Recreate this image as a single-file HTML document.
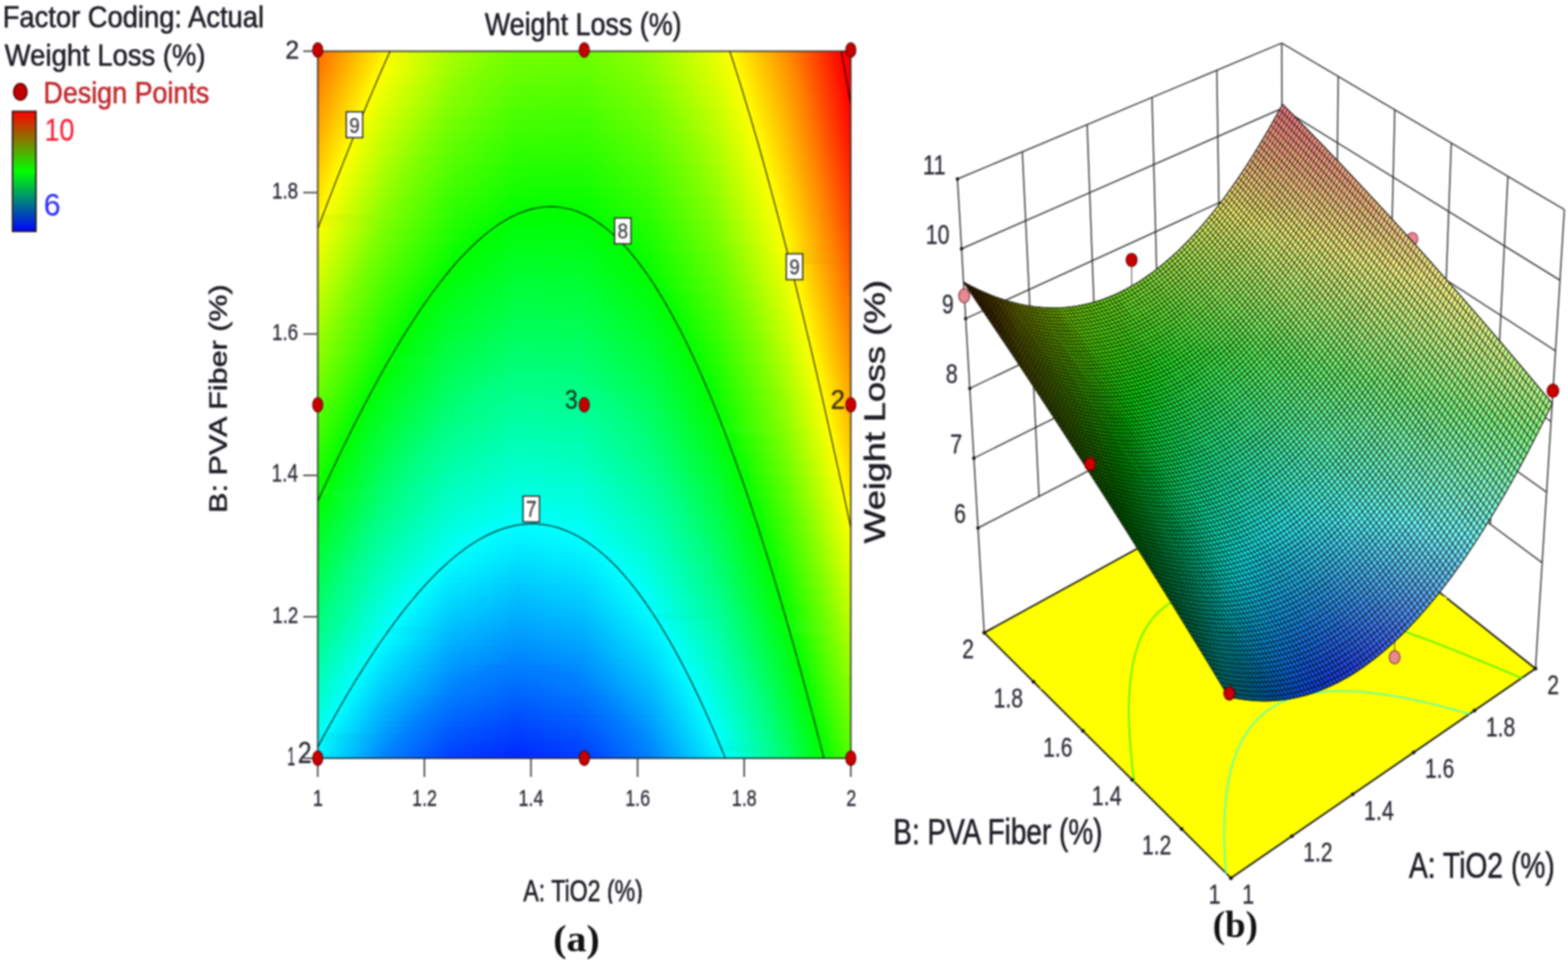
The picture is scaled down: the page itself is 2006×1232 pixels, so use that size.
<!DOCTYPE html>
<html><head><meta charset="utf-8"><title>Weight Loss (%)</title>
<style>html,body{margin:0;padding:0;background:#fff}body{width:2006px;height:1232px;overflow:hidden}svg{display:block;filter:blur(0.8px)}.s{font-family:"Liberation Sans",Arial,sans-serif}.b{font-family:"Liberation Serif","Times New Roman",serif;font-weight:bold}</style>
</head><body>
<svg width="2006" height="1232" viewBox="0 0 2006 1232">
<defs><linearGradient id="cb" x1="0" y1="0" x2="0" y2="1"><stop offset="0" stop-color="#f00"/><stop offset=".5" stop-color="#0f0"/><stop offset="1" stop-color="#00f"/></linearGradient>
<linearGradient id="r0"><stop offset="0" stop-color="#ff6b00"/><stop offset=".016" stop-color="#ff7f00"/><stop offset=".125" stop-color="#fff800"/><stop offset=".25" stop-color="#a7ff00"/><stop offset=".335" stop-color="#80ff00"/><stop offset=".375" stop-color="#74ff00"/><stop offset=".5" stop-color="#6eff00"/><stop offset=".573" stop-color="#80ff00"/><stop offset=".625" stop-color="#95ff00"/><stop offset=".75" stop-color="#e9ff00"/><stop offset=".775" stop-color="#ff0"/><stop offset=".875" stop-color="#ff9400"/><stop offset=".892" stop-color="#ff8000"/><stop offset=".984" stop-color="#f00"/><stop offset="1" stop-color="#f00"/></linearGradient>
<linearGradient id="r1"><stop offset="0" stop-color="#ff7000"/><stop offset=".125" stop-color="#fffc00"/><stop offset=".25" stop-color="#a2ff00"/><stop offset=".322" stop-color="#80ff00"/><stop offset=".375" stop-color="#70ff00"/><stop offset=".5" stop-color="#6aff00"/><stop offset=".584" stop-color="#7fff00"/><stop offset=".625" stop-color="#91ff00"/><stop offset=".75" stop-color="#e5ff00"/><stop offset=".778" stop-color="#ff0"/><stop offset=".875" stop-color="#ff9700"/><stop offset=".894" stop-color="#ff7f00"/><stop offset=".986" stop-color="#f00"/><stop offset="1" stop-color="#f00"/></linearGradient>
<linearGradient id="r2"><stop offset="0" stop-color="#ff7500"/><stop offset=".123" stop-color="#ff0"/><stop offset=".25" stop-color="#9eff00"/><stop offset=".311" stop-color="#80ff00"/><stop offset=".375" stop-color="#6bff00"/><stop offset=".5" stop-color="#6f0"/><stop offset=".594" stop-color="#80ff00"/><stop offset=".625" stop-color="#8dff00"/><stop offset=".75" stop-color="#e2ff00"/><stop offset=".782" stop-color="#ff0"/><stop offset=".875" stop-color="#ff9b00"/><stop offset=".897" stop-color="#ff7f00"/><stop offset=".988" stop-color="#f00"/><stop offset="1" stop-color="#f00"/></linearGradient>
<linearGradient id="r3"><stop offset="0" stop-color="#ff7a00"/><stop offset=".117" stop-color="#ff0"/><stop offset=".25" stop-color="#9f0"/><stop offset=".3" stop-color="#7fff00"/><stop offset=".375" stop-color="#67ff00"/><stop offset=".5" stop-color="#62ff00"/><stop offset=".603" stop-color="#7fff00"/><stop offset=".625" stop-color="#8aff00"/><stop offset=".75" stop-color="#deff00"/><stop offset=".786" stop-color="#ff0"/><stop offset=".875" stop-color="#ff9e00"/><stop offset=".9" stop-color="#ff8000"/><stop offset=".99" stop-color="#f00"/></linearGradient>
<linearGradient id="r4"><stop offset="0" stop-color="#ff7f00"/><stop offset=".112" stop-color="#ff0"/><stop offset=".125" stop-color="#f3ff00"/><stop offset=".25" stop-color="#94ff00"/><stop offset=".29" stop-color="#7fff00"/><stop offset=".375" stop-color="#63ff00"/><stop offset=".5" stop-color="#5eff00"/><stop offset=".612" stop-color="#7fff00"/><stop offset=".625" stop-color="#86ff00"/><stop offset=".75" stop-color="#dbff00"/><stop offset=".79" stop-color="#ff0"/><stop offset=".875" stop-color="#ffa200"/><stop offset=".902" stop-color="#ff8000"/><stop offset=".992" stop-color="#f00"/></linearGradient>
<linearGradient id="r5"><stop offset="0" stop-color="#ff8500"/><stop offset=".107" stop-color="#ff0"/><stop offset=".125" stop-color="#ef0"/><stop offset=".25" stop-color="#90ff00"/><stop offset=".28" stop-color="#80ff00"/><stop offset=".375" stop-color="#5eff00"/><stop offset=".5" stop-color="#59ff00"/><stop offset=".621" stop-color="#7fff00"/><stop offset=".75" stop-color="#d7ff00"/><stop offset=".793" stop-color="#ff0"/><stop offset=".875" stop-color="#ffa500"/><stop offset=".905" stop-color="#ff8000"/><stop offset=".994" stop-color="#f00"/></linearGradient>
<linearGradient id="r6"><stop offset="0" stop-color="#ff8a00"/><stop offset=".102" stop-color="#ff0"/><stop offset=".125" stop-color="#e9ff00"/><stop offset=".25" stop-color="#8bff00"/><stop offset=".271" stop-color="#7fff00"/><stop offset=".375" stop-color="#5aff00"/><stop offset=".5" stop-color="#5f0"/><stop offset=".625" stop-color="#7eff00"/><stop offset=".75" stop-color="#d3ff00"/><stop offset=".797" stop-color="#ff0"/><stop offset=".875" stop-color="#ffa900"/><stop offset=".907" stop-color="#ff8000"/><stop offset=".996" stop-color="#f00"/></linearGradient>
<linearGradient id="r7"><stop offset="0" stop-color="#ff8f00"/><stop offset=".097" stop-color="#ff0"/><stop offset=".125" stop-color="#e4ff00"/><stop offset=".25" stop-color="#86ff00"/><stop offset=".262" stop-color="#7fff00"/><stop offset=".375" stop-color="#5f0"/><stop offset=".5" stop-color="#51ff00"/><stop offset=".625" stop-color="#7aff00"/><stop offset=".75" stop-color="#cfff00"/><stop offset=".801" stop-color="#ff0"/><stop offset=".875" stop-color="#ffac00"/><stop offset=".91" stop-color="#ff8000"/><stop offset=".998" stop-color="#f00"/></linearGradient>
<linearGradient id="r8"><stop offset="0" stop-color="#ff9400"/><stop offset=".092" stop-color="#ff0"/><stop offset=".125" stop-color="#dfff00"/><stop offset=".25" stop-color="#82ff00"/><stop offset=".375" stop-color="#51ff00"/><stop offset=".5" stop-color="#4dff00"/><stop offset=".625" stop-color="#76ff00"/><stop offset=".643" stop-color="#80ff00"/><stop offset=".75" stop-color="#cf0"/><stop offset=".804" stop-color="#ff0"/><stop offset=".875" stop-color="#ffb000"/><stop offset=".913" stop-color="#ff7f00"/><stop offset="1" stop-color="#f00"/></linearGradient>
<linearGradient id="r9"><stop offset="0" stop-color="#f90"/><stop offset=".087" stop-color="#ff0"/><stop offset=".125" stop-color="#daff00"/><stop offset=".245" stop-color="#80ff00"/><stop offset=".375" stop-color="#4cff00"/><stop offset=".5" stop-color="#49ff00"/><stop offset=".625" stop-color="#72ff00"/><stop offset=".65" stop-color="#80ff00"/><stop offset=".75" stop-color="#c8ff00"/><stop offset=".808" stop-color="#ff0"/><stop offset=".875" stop-color="#ffb300"/><stop offset=".915" stop-color="#ff8000"/><stop offset="1" stop-color="#ff0300"/></linearGradient>
<linearGradient id="r10"><stop offset="0" stop-color="#ff9f00"/><stop offset=".083" stop-color="#ff0"/><stop offset=".125" stop-color="#d5ff00"/><stop offset=".237" stop-color="#7fff00"/><stop offset=".25" stop-color="#78ff00"/><stop offset=".375" stop-color="#48ff00"/><stop offset=".5" stop-color="#4f0"/><stop offset=".625" stop-color="#6eff00"/><stop offset=".657" stop-color="#80ff00"/><stop offset=".75" stop-color="#c4ff00"/><stop offset=".811" stop-color="#ff0"/><stop offset=".875" stop-color="#ffb700"/><stop offset=".918" stop-color="#ff7f00"/><stop offset="1" stop-color="#ff0600"/></linearGradient>
<linearGradient id="r11"><stop offset="0" stop-color="#ffa400"/><stop offset=".078" stop-color="#ff0"/><stop offset=".125" stop-color="#d0ff00"/><stop offset=".229" stop-color="#80ff00"/><stop offset=".25" stop-color="#73ff00"/><stop offset=".375" stop-color="#43ff00"/><stop offset=".5" stop-color="#40ff00"/><stop offset=".625" stop-color="#6aff00"/><stop offset=".663" stop-color="#7fff00"/><stop offset=".75" stop-color="#c0ff00"/><stop offset=".815" stop-color="#ff0"/><stop offset=".875" stop-color="#ffba00"/><stop offset=".92" stop-color="#ff8000"/><stop offset="1" stop-color="#ff0a00"/></linearGradient>
<linearGradient id="r12"><stop offset="0" stop-color="#ffa900"/><stop offset=".073" stop-color="#ff0"/><stop offset=".125" stop-color="#cbff00"/><stop offset=".222" stop-color="#80ff00"/><stop offset=".25" stop-color="#6fff00"/><stop offset=".375" stop-color="#3fff00"/><stop offset=".5" stop-color="#3cff00"/><stop offset=".625" stop-color="#6f0"/><stop offset=".669" stop-color="#80ff00"/><stop offset=".75" stop-color="#bdff00"/><stop offset=".818" stop-color="#ff0"/><stop offset=".875" stop-color="#ffbe00"/><stop offset=".923" stop-color="#ff7f00"/><stop offset="1" stop-color="#ff0d00"/></linearGradient>
<linearGradient id="r13"><stop offset="0" stop-color="#ffaf00"/><stop offset=".068" stop-color="#ff0"/><stop offset=".125" stop-color="#c6ff00"/><stop offset=".214" stop-color="#7fff00"/><stop offset=".25" stop-color="#6aff00"/><stop offset=".375" stop-color="#3aff00"/><stop offset=".5" stop-color="#37ff00"/><stop offset=".625" stop-color="#62ff00"/><stop offset=".676" stop-color="#80ff00"/><stop offset=".75" stop-color="#b9ff00"/><stop offset=".822" stop-color="#ff0"/><stop offset=".875" stop-color="#ffc100"/><stop offset=".925" stop-color="#ff7f00"/><stop offset="1" stop-color="#ff1000"/></linearGradient>
<linearGradient id="r14"><stop offset="0" stop-color="#ffb400"/><stop offset=".063" stop-color="#ff0"/><stop offset=".125" stop-color="#c1ff00"/><stop offset=".207" stop-color="#7fff00"/><stop offset=".25" stop-color="#65ff00"/><stop offset=".375" stop-color="#36ff00"/><stop offset=".5" stop-color="#3f0"/><stop offset=".625" stop-color="#5eff00"/><stop offset=".681" stop-color="#80ff00"/><stop offset=".75" stop-color="#b5ff00"/><stop offset=".825" stop-color="#ff0"/><stop offset=".875" stop-color="#ffc500"/><stop offset=".928" stop-color="#ff7f00"/><stop offset="1" stop-color="#ff1400"/></linearGradient>
<linearGradient id="r15"><stop offset="0" stop-color="#ffb900"/><stop offset=".059" stop-color="#ff0"/><stop offset=".125" stop-color="#bcff00"/><stop offset=".2" stop-color="#7fff00"/><stop offset=".25" stop-color="#60ff00"/><stop offset=".375" stop-color="#31ff00"/><stop offset=".5" stop-color="#2fff00"/><stop offset=".625" stop-color="#5aff00"/><stop offset=".687" stop-color="#7fff00"/><stop offset=".75" stop-color="#b1ff00"/><stop offset=".829" stop-color="#ff0"/><stop offset=".875" stop-color="#ffc800"/><stop offset=".93" stop-color="#ff8000"/><stop offset="1" stop-color="#ff1700"/></linearGradient>
<linearGradient id="r16"><stop offset="0" stop-color="#ffbe00"/><stop offset=".054" stop-color="#ff0"/><stop offset=".125" stop-color="#b7ff00"/><stop offset=".193" stop-color="#7fff00"/><stop offset=".25" stop-color="#5bff00"/><stop offset=".375" stop-color="#2cff00"/><stop offset=".5" stop-color="#2aff00"/><stop offset=".625" stop-color="#5f0"/><stop offset=".693" stop-color="#7fff00"/><stop offset=".75" stop-color="#adff00"/><stop offset=".832" stop-color="#ff0"/><stop offset=".875" stop-color="#fc0"/><stop offset=".933" stop-color="#ff7f00"/><stop offset="1" stop-color="#ff1a00"/></linearGradient>
<linearGradient id="r17"><stop offset="0" stop-color="#ffc400"/><stop offset=".049" stop-color="#ff0"/><stop offset=".125" stop-color="#b2ff00"/><stop offset=".186" stop-color="#7fff00"/><stop offset=".25" stop-color="#56ff00"/><stop offset=".375" stop-color="#28ff00"/><stop offset=".5" stop-color="#26ff00"/><stop offset=".625" stop-color="#51ff00"/><stop offset=".698" stop-color="#80ff00"/><stop offset=".75" stop-color="#a9ff00"/><stop offset=".835" stop-color="#ff0"/><stop offset=".875" stop-color="#ffd000"/><stop offset=".935" stop-color="#ff7f00"/><stop offset="1" stop-color="#ff1e00"/></linearGradient>
<linearGradient id="r18"><stop offset="0" stop-color="#ffc900"/><stop offset=".045" stop-color="#ff0"/><stop offset=".125" stop-color="#adff00"/><stop offset=".179" stop-color="#80ff00"/><stop offset=".25" stop-color="#52ff00"/><stop offset=".375" stop-color="#23ff00"/><stop offset=".5" stop-color="#2f0"/><stop offset=".625" stop-color="#4dff00"/><stop offset=".704" stop-color="#7fff00"/><stop offset=".75" stop-color="#a5ff00"/><stop offset=".838" stop-color="#ff0"/><stop offset=".875" stop-color="#ffd300"/><stop offset=".938" stop-color="#ff7f00"/><stop offset="1" stop-color="#ff2100"/></linearGradient>
<linearGradient id="r19"><stop offset="0" stop-color="#ffcf00"/><stop offset=".04" stop-color="#ff0"/><stop offset=".125" stop-color="#a8ff00"/><stop offset=".173" stop-color="#80ff00"/><stop offset=".25" stop-color="#4dff00"/><stop offset=".375" stop-color="#1fff00"/><stop offset=".5" stop-color="#1dff00"/><stop offset=".625" stop-color="#49ff00"/><stop offset=".709" stop-color="#80ff00"/><stop offset=".75" stop-color="#a2ff00"/><stop offset=".842" stop-color="#ff0"/><stop offset=".875" stop-color="#ffd700"/><stop offset=".94" stop-color="#ff8000"/><stop offset="1" stop-color="#ff2500"/></linearGradient>
<linearGradient id="r20"><stop offset="0" stop-color="#ffd400"/><stop offset=".035" stop-color="#ff0"/><stop offset=".125" stop-color="#a2ff00"/><stop offset=".166" stop-color="#80ff00"/><stop offset=".25" stop-color="#48ff00"/><stop offset=".375" stop-color="#1aff00"/><stop offset=".5" stop-color="#19ff00"/><stop offset=".625" stop-color="#45ff00"/><stop offset=".714" stop-color="#7fff00"/><stop offset=".75" stop-color="#9eff00"/><stop offset=".845" stop-color="#ff0"/><stop offset=".875" stop-color="#ffdb00"/><stop offset=".943" stop-color="#ff7f00"/><stop offset="1" stop-color="#ff2800"/></linearGradient>
<linearGradient id="r21"><stop offset="0" stop-color="#ffd900"/><stop offset=".031" stop-color="#ff0"/><stop offset=".125" stop-color="#9dff00"/><stop offset=".16" stop-color="#80ff00"/><stop offset=".25" stop-color="#43ff00"/><stop offset=".375" stop-color="#15ff00"/><stop offset=".5" stop-color="#15ff00"/><stop offset=".625" stop-color="#41ff00"/><stop offset=".719" stop-color="#7fff00"/><stop offset=".75" stop-color="#9aff00"/><stop offset=".848" stop-color="#ff0"/><stop offset=".875" stop-color="#ffde00"/><stop offset=".945" stop-color="#ff8000"/><stop offset="1" stop-color="#ff2b00"/></linearGradient>
<linearGradient id="r22"><stop offset="0" stop-color="#ffdf00"/><stop offset=".026" stop-color="#ff0"/><stop offset=".125" stop-color="#98ff00"/><stop offset=".154" stop-color="#80ff00"/><stop offset=".25" stop-color="#3eff00"/><stop offset=".375" stop-color="#1f0"/><stop offset=".5" stop-color="#10ff00"/><stop offset=".625" stop-color="#3cff00"/><stop offset=".724" stop-color="#80ff00"/><stop offset=".75" stop-color="#96ff00"/><stop offset=".851" stop-color="#ff0"/><stop offset=".875" stop-color="#ffe200"/><stop offset=".948" stop-color="#ff7f00"/><stop offset="1" stop-color="#ff2f00"/></linearGradient>
<linearGradient id="r23"><stop offset="0" stop-color="#ffe400"/><stop offset=".022" stop-color="#ff0"/><stop offset=".125" stop-color="#93ff00"/><stop offset=".147" stop-color="#80ff00"/><stop offset=".25" stop-color="#39ff00"/><stop offset=".375" stop-color="#0cff00"/><stop offset=".5" stop-color="#0cff00"/><stop offset=".625" stop-color="#38ff00"/><stop offset=".729" stop-color="#7fff00"/><stop offset=".75" stop-color="#92ff00"/><stop offset=".854" stop-color="#ff0"/><stop offset=".875" stop-color="#ffe600"/><stop offset=".95" stop-color="#ff8000"/><stop offset="1" stop-color="#ff3200"/></linearGradient>
<linearGradient id="r24"><stop offset="0" stop-color="#ffea00"/><stop offset=".017" stop-color="#ff0"/><stop offset=".125" stop-color="#8eff00"/><stop offset=".141" stop-color="#7fff00"/><stop offset=".25" stop-color="#34ff00"/><stop offset=".375" stop-color="#07ff00"/><stop offset=".5" stop-color="#07ff00"/><stop offset=".625" stop-color="#34ff00"/><stop offset=".734" stop-color="#80ff00"/><stop offset=".75" stop-color="#8eff00"/><stop offset=".858" stop-color="#ff0"/><stop offset=".875" stop-color="#ffe900"/><stop offset=".953" stop-color="#ff7f00"/><stop offset="1" stop-color="#ff3600"/></linearGradient>
<linearGradient id="r25"><stop offset="0" stop-color="#ffef00"/><stop offset=".013" stop-color="#ff0"/><stop offset=".125" stop-color="#8f0"/><stop offset=".25" stop-color="#2fff00"/><stop offset=".375" stop-color="#02ff00"/><stop offset=".39" stop-color="#0f0"/><stop offset=".483" stop-color="#0f0"/><stop offset=".5" stop-color="#03ff00"/><stop offset=".625" stop-color="#30ff00"/><stop offset=".738" stop-color="#80ff00"/><stop offset=".861" stop-color="#ff0"/><stop offset=".875" stop-color="#ffed00"/><stop offset=".955" stop-color="#ff7f00"/><stop offset="1" stop-color="#ff3900"/></linearGradient>
<linearGradient id="r26"><stop offset="0" stop-color="#fff500"/><stop offset=".125" stop-color="#83ff00"/><stop offset=".25" stop-color="#2aff00"/><stop offset=".363" stop-color="#0f0"/><stop offset=".375" stop-color="#00ff02"/><stop offset=".5" stop-color="#00ff02"/><stop offset=".625" stop-color="#2cff00"/><stop offset=".743" stop-color="#80ff00"/><stop offset=".864" stop-color="#ff0"/><stop offset=".957" stop-color="#ff7f00"/><stop offset="1" stop-color="#ff3d00"/></linearGradient>
<linearGradient id="r27"><stop offset="0" stop-color="#fffa00"/><stop offset=".123" stop-color="#80ff00"/><stop offset=".25" stop-color="#25ff00"/><stop offset=".343" stop-color="#0f0"/><stop offset=".375" stop-color="#00ff07"/><stop offset=".5" stop-color="#00ff06"/><stop offset=".528" stop-color="#0f0"/><stop offset=".625" stop-color="#27ff00"/><stop offset=".747" stop-color="#7fff00"/><stop offset=".867" stop-color="#ff0"/><stop offset=".96" stop-color="#ff7f00"/><stop offset="1" stop-color="#ff4000"/></linearGradient>
<linearGradient id="r28"><stop offset="0" stop-color="#feff00"/><stop offset=".117" stop-color="#7fff00"/><stop offset=".25" stop-color="#20ff00"/><stop offset=".326" stop-color="#0f0"/><stop offset=".375" stop-color="#00ff0c"/><stop offset=".5" stop-color="#00ff0b"/><stop offset=".543" stop-color="#0f0"/><stop offset=".625" stop-color="#23ff00"/><stop offset=".75" stop-color="#7eff00"/><stop offset=".87" stop-color="#ff0"/><stop offset=".962" stop-color="#ff7f00"/><stop offset="1" stop-color="#f40"/></linearGradient>
<linearGradient id="r29"><stop offset="0" stop-color="#f9ff00"/><stop offset=".112" stop-color="#80ff00"/><stop offset=".125" stop-color="#73ff00"/><stop offset=".25" stop-color="#1bff00"/><stop offset=".311" stop-color="#0f0"/><stop offset=".375" stop-color="#0f1"/><stop offset=".5" stop-color="#00ff0f"/><stop offset=".557" stop-color="#0f0"/><stop offset=".625" stop-color="#1fff00"/><stop offset=".75" stop-color="#7aff00"/><stop offset=".873" stop-color="#ff0"/><stop offset=".965" stop-color="#ff7f00"/><stop offset="1" stop-color="#ff4800"/></linearGradient>
<linearGradient id="r30"><stop offset="0" stop-color="#f3ff00"/><stop offset=".106" stop-color="#7fff00"/><stop offset=".125" stop-color="#6eff00"/><stop offset=".25" stop-color="#16ff00"/><stop offset=".298" stop-color="#0f0"/><stop offset=".375" stop-color="#00ff15"/><stop offset=".5" stop-color="#00ff14"/><stop offset=".569" stop-color="#0f0"/><stop offset=".625" stop-color="#1aff00"/><stop offset=".75" stop-color="#76ff00"/><stop offset=".875" stop-color="#feff00"/><stop offset=".967" stop-color="#ff7f00"/><stop offset="1" stop-color="#ff4b00"/></linearGradient>
<linearGradient id="r31"><stop offset="0" stop-color="#ef0"/><stop offset=".1" stop-color="#80ff00"/><stop offset=".125" stop-color="#69ff00"/><stop offset=".25" stop-color="#1f0"/><stop offset=".285" stop-color="#0f0"/><stop offset=".375" stop-color="#00ff1a"/><stop offset=".5" stop-color="#00ff19"/><stop offset=".58" stop-color="#0f0"/><stop offset=".625" stop-color="#16ff00"/><stop offset=".75" stop-color="#72ff00"/><stop offset=".765" stop-color="#7fff00"/><stop offset=".875" stop-color="#faff00"/><stop offset=".969" stop-color="#ff7f00"/><stop offset="1" stop-color="#ff4f00"/></linearGradient>
<linearGradient id="r32"><stop offset="0" stop-color="#e8ff00"/><stop offset=".095" stop-color="#80ff00"/><stop offset=".125" stop-color="#64ff00"/><stop offset=".25" stop-color="#0cff00"/><stop offset=".274" stop-color="#0f0"/><stop offset=".375" stop-color="#00ff1f"/><stop offset=".5" stop-color="#00ff1d"/><stop offset=".59" stop-color="#0f0"/><stop offset=".625" stop-color="#12ff00"/><stop offset=".75" stop-color="#6dff00"/><stop offset=".769" stop-color="#80ff00"/><stop offset=".875" stop-color="#f6ff00"/><stop offset=".972" stop-color="#ff8000"/><stop offset="1" stop-color="#ff5200"/></linearGradient>
<linearGradient id="r33"><stop offset="0" stop-color="#e3ff00"/><stop offset=".089" stop-color="#7fff00"/><stop offset=".125" stop-color="#5eff00"/><stop offset=".25" stop-color="#07ff00"/><stop offset=".263" stop-color="#0f0"/><stop offset=".375" stop-color="#00ff24"/><stop offset=".5" stop-color="#0f2"/><stop offset=".599" stop-color="#0f0"/><stop offset=".625" stop-color="#0dff00"/><stop offset=".75" stop-color="#69ff00"/><stop offset=".773" stop-color="#7fff00"/><stop offset=".875" stop-color="#f2ff00"/><stop offset=".974" stop-color="#ff7f00"/><stop offset="1" stop-color="#ff5600"/></linearGradient>
<linearGradient id="r34"><stop offset="0" stop-color="#df0"/><stop offset=".084" stop-color="#80ff00"/><stop offset=".125" stop-color="#59ff00"/><stop offset=".25" stop-color="#02ff00"/><stop offset=".375" stop-color="#00ff29"/><stop offset=".5" stop-color="#00ff26"/><stop offset=".608" stop-color="#0f0"/><stop offset=".625" stop-color="#09ff00"/><stop offset=".75" stop-color="#65ff00"/><stop offset=".777" stop-color="#80ff00"/><stop offset=".875" stop-color="#ef0"/><stop offset=".888" stop-color="#ff0"/><stop offset=".976" stop-color="#ff7f00"/><stop offset="1" stop-color="#ff5a00"/></linearGradient>
<linearGradient id="r35"><stop offset="0" stop-color="#d7ff00"/><stop offset=".078" stop-color="#7fff00"/><stop offset=".125" stop-color="#53ff00"/><stop offset=".243" stop-color="#0f0"/><stop offset=".375" stop-color="#00ff2e"/><stop offset=".5" stop-color="#00ff2b"/><stop offset=".617" stop-color="#0f0"/><stop offset=".75" stop-color="#61ff00"/><stop offset=".781" stop-color="#7fff00"/><stop offset=".875" stop-color="#eaff00"/><stop offset=".891" stop-color="#ff0"/><stop offset=".979" stop-color="#ff8000"/><stop offset="1" stop-color="#ff5d00"/></linearGradient>
<linearGradient id="r36"><stop offset="0" stop-color="#d2ff00"/><stop offset=".073" stop-color="#7fff00"/><stop offset=".125" stop-color="#4eff00"/><stop offset=".234" stop-color="#0f0"/><stop offset=".25" stop-color="#00ff09"/><stop offset=".375" stop-color="#0f3"/><stop offset=".5" stop-color="#00ff30"/><stop offset=".625" stop-color="#0f0"/><stop offset=".75" stop-color="#5dff00"/><stop offset=".786" stop-color="#80ff00"/><stop offset=".875" stop-color="#e7ff00"/><stop offset=".894" stop-color="#ff0"/><stop offset=".981" stop-color="#ff7f00"/><stop offset="1" stop-color="#ff6100"/></linearGradient>
<linearGradient id="r37"><stop offset="0" stop-color="#cf0"/><stop offset=".068" stop-color="#80ff00"/><stop offset=".125" stop-color="#49ff00"/><stop offset=".225" stop-color="#0f0"/><stop offset=".25" stop-color="#00ff0e"/><stop offset=".375" stop-color="#00ff38"/><stop offset=".5" stop-color="#00ff34"/><stop offset=".625" stop-color="#00ff04"/><stop offset=".75" stop-color="#59ff00"/><stop offset=".789" stop-color="#7fff00"/><stop offset=".875" stop-color="#e3ff00"/><stop offset=".897" stop-color="#ff0"/><stop offset=".983" stop-color="#ff7f00"/><stop offset="1" stop-color="#ff6500"/></linearGradient>
<linearGradient id="r38"><stop offset="0" stop-color="#c6ff00"/><stop offset=".062" stop-color="#7fff00"/><stop offset=".125" stop-color="#43ff00"/><stop offset=".216" stop-color="#0f0"/><stop offset=".25" stop-color="#00ff13"/><stop offset=".375" stop-color="#00ff3d"/><stop offset=".5" stop-color="#00ff39"/><stop offset=".625" stop-color="#00ff09"/><stop offset=".64" stop-color="#0f0"/><stop offset=".75" stop-color="#5f0"/><stop offset=".793" stop-color="#80ff00"/><stop offset=".875" stop-color="#dfff00"/><stop offset=".899" stop-color="#ff0"/><stop offset=".986" stop-color="#ff8000"/><stop offset="1" stop-color="#ff6800"/></linearGradient>
<linearGradient id="r39"><stop offset="0" stop-color="#c1ff00"/><stop offset=".057" stop-color="#80ff00"/><stop offset=".125" stop-color="#3eff00"/><stop offset=".207" stop-color="#0f0"/><stop offset=".25" stop-color="#00ff18"/><stop offset=".375" stop-color="#00ff41"/><stop offset=".5" stop-color="#00ff3e"/><stop offset=".625" stop-color="#00ff0d"/><stop offset=".647" stop-color="#0f0"/><stop offset=".75" stop-color="#50ff00"/><stop offset=".797" stop-color="#80ff00"/><stop offset=".875" stop-color="#dbff00"/><stop offset=".902" stop-color="#ff0"/><stop offset=".988" stop-color="#ff7f00"/></linearGradient>
<linearGradient id="r40"><stop offset="0" stop-color="#bf0"/><stop offset=".052" stop-color="#80ff00"/><stop offset=".125" stop-color="#38ff00"/><stop offset=".199" stop-color="#0f0"/><stop offset=".25" stop-color="#00ff1d"/><stop offset=".375" stop-color="#00ff46"/><stop offset=".5" stop-color="#00ff42"/><stop offset=".625" stop-color="#00ff12"/><stop offset=".654" stop-color="#0f0"/><stop offset=".75" stop-color="#4cff00"/><stop offset=".801" stop-color="#7fff00"/><stop offset=".875" stop-color="#d7ff00"/><stop offset=".905" stop-color="#ff0"/><stop offset=".99" stop-color="#ff7f00"/></linearGradient>
<linearGradient id="r41"><stop offset="0" stop-color="#b5ff00"/><stop offset=".046" stop-color="#80ff00"/><stop offset=".125" stop-color="#3f0"/><stop offset=".191" stop-color="#0f0"/><stop offset=".25" stop-color="#00ff23"/><stop offset=".375" stop-color="#00ff4b"/><stop offset=".5" stop-color="#00ff47"/><stop offset=".625" stop-color="#00ff16"/><stop offset=".66" stop-color="#0f0"/><stop offset=".75" stop-color="#48ff00"/><stop offset=".805" stop-color="#80ff00"/><stop offset=".875" stop-color="#d3ff00"/><stop offset=".908" stop-color="#ff0"/><stop offset=".993" stop-color="#ff8000"/></linearGradient>
<linearGradient id="r42"><stop offset="0" stop-color="#b0ff00"/><stop offset=".041" stop-color="#7fff00"/><stop offset=".125" stop-color="#2dff00"/><stop offset=".183" stop-color="#0f0"/><stop offset=".25" stop-color="#00ff28"/><stop offset=".375" stop-color="#00ff50"/><stop offset=".5" stop-color="#00ff4c"/><stop offset=".625" stop-color="#00ff1b"/><stop offset=".667" stop-color="#0f0"/><stop offset=".75" stop-color="#4f0"/><stop offset=".809" stop-color="#7fff00"/><stop offset=".875" stop-color="#cfff00"/><stop offset=".911" stop-color="#ff0"/><stop offset=".995" stop-color="#ff8000"/></linearGradient>
<linearGradient id="r43"><stop offset="0" stop-color="#af0"/><stop offset=".036" stop-color="#7fff00"/><stop offset=".125" stop-color="#28ff00"/><stop offset=".176" stop-color="#0f0"/><stop offset=".25" stop-color="#00ff2d"/><stop offset=".375" stop-color="#0f5"/><stop offset=".5" stop-color="#00ff51"/><stop offset=".625" stop-color="#00ff1f"/><stop offset=".673" stop-color="#0f0"/><stop offset=".75" stop-color="#3fff00"/><stop offset=".813" stop-color="#80ff00"/><stop offset=".875" stop-color="#cbff00"/><stop offset=".914" stop-color="#ff0"/><stop offset=".997" stop-color="#ff8000"/></linearGradient>
<linearGradient id="r44"><stop offset="0" stop-color="#a4ff00"/><stop offset=".031" stop-color="#7fff00"/><stop offset=".125" stop-color="#2f0"/><stop offset=".168" stop-color="#0f0"/><stop offset=".25" stop-color="#00ff32"/><stop offset=".375" stop-color="#00ff5a"/><stop offset=".5" stop-color="#0f5"/><stop offset=".625" stop-color="#00ff24"/><stop offset=".679" stop-color="#0f0"/><stop offset=".75" stop-color="#3bff00"/><stop offset=".816" stop-color="#80ff00"/><stop offset=".875" stop-color="#c7ff00"/><stop offset=".917" stop-color="#ff0"/><stop offset="1" stop-color="#ff8000"/></linearGradient>
<linearGradient id="r45"><stop offset="0" stop-color="#9eff00"/><stop offset=".026" stop-color="#80ff00"/><stop offset=".125" stop-color="#1dff00"/><stop offset=".161" stop-color="#0f0"/><stop offset=".25" stop-color="#00ff38"/><stop offset=".375" stop-color="#00ff5f"/><stop offset=".5" stop-color="#00ff5a"/><stop offset=".625" stop-color="#00ff28"/><stop offset=".685" stop-color="#0f0"/><stop offset=".75" stop-color="#37ff00"/><stop offset=".82" stop-color="#80ff00"/><stop offset=".875" stop-color="#c3ff00"/><stop offset=".919" stop-color="#ff0"/><stop offset="1" stop-color="#ff8300"/></linearGradient>
<linearGradient id="r46"><stop offset="0" stop-color="#98ff00"/><stop offset=".021" stop-color="#80ff00"/><stop offset=".125" stop-color="#17ff00"/><stop offset=".154" stop-color="#0f0"/><stop offset=".25" stop-color="#00ff3d"/><stop offset=".375" stop-color="#00ff65"/><stop offset=".5" stop-color="#00ff5f"/><stop offset=".625" stop-color="#00ff2d"/><stop offset=".691" stop-color="#0f0"/><stop offset=".75" stop-color="#32ff00"/><stop offset=".824" stop-color="#7fff00"/><stop offset=".875" stop-color="#bfff00"/><stop offset=".922" stop-color="#ff0"/><stop offset="1" stop-color="#ff8700"/></linearGradient>
<linearGradient id="r47"><stop offset="0" stop-color="#93ff00"/><stop offset=".016" stop-color="#80ff00"/><stop offset=".125" stop-color="#12ff00"/><stop offset=".147" stop-color="#0f0"/><stop offset=".25" stop-color="#00ff42"/><stop offset=".375" stop-color="#00ff6a"/><stop offset=".5" stop-color="#00ff64"/><stop offset=".625" stop-color="#00ff31"/><stop offset=".697" stop-color="#0f0"/><stop offset=".75" stop-color="#2eff00"/><stop offset=".827" stop-color="#7fff00"/><stop offset=".875" stop-color="#baff00"/><stop offset=".925" stop-color="#ff0"/><stop offset="1" stop-color="#ff8a00"/></linearGradient>
<linearGradient id="r48"><stop offset="0" stop-color="#8dff00"/><stop offset=".125" stop-color="#0cff00"/><stop offset=".14" stop-color="#0f0"/><stop offset=".25" stop-color="#00ff48"/><stop offset=".375" stop-color="#00ff6f"/><stop offset=".5" stop-color="#00ff69"/><stop offset=".625" stop-color="#00ff36"/><stop offset=".702" stop-color="#0f0"/><stop offset=".75" stop-color="#2aff00"/><stop offset=".831" stop-color="#7fff00"/><stop offset=".875" stop-color="#b6ff00"/><stop offset=".928" stop-color="#ff0"/><stop offset="1" stop-color="#ff8e00"/></linearGradient>
<linearGradient id="r49"><stop offset="0" stop-color="#87ff00"/><stop offset=".125" stop-color="#07ff00"/><stop offset=".25" stop-color="#00ff4d"/><stop offset=".375" stop-color="#00ff74"/><stop offset=".5" stop-color="#00ff6e"/><stop offset=".625" stop-color="#00ff3b"/><stop offset=".708" stop-color="#0f0"/><stop offset=".75" stop-color="#25ff00"/><stop offset=".834" stop-color="#80ff00"/><stop offset=".875" stop-color="#b2ff00"/><stop offset=".93" stop-color="#ff0"/><stop offset="1" stop-color="#ff9200"/></linearGradient>
<linearGradient id="r50"><stop offset="0" stop-color="#81ff00"/><stop offset=".125" stop-color="#01ff00"/><stop offset=".25" stop-color="#00ff52"/><stop offset=".375" stop-color="#00ff79"/><stop offset=".5" stop-color="#00ff72"/><stop offset=".625" stop-color="#00ff3f"/><stop offset=".713" stop-color="#0f0"/><stop offset=".75" stop-color="#21ff00"/><stop offset=".838" stop-color="#80ff00"/><stop offset=".875" stop-color="#aeff00"/><stop offset=".933" stop-color="#ff0"/><stop offset="1" stop-color="#ff9600"/></linearGradient>
<linearGradient id="r51"><stop offset="0" stop-color="#7bff00"/><stop offset=".119" stop-color="#0f0"/><stop offset=".25" stop-color="#00ff58"/><stop offset=".375" stop-color="#00ff7e"/><stop offset=".389" stop-color="#00ff7f"/><stop offset=".449" stop-color="#00ff7f"/><stop offset=".5" stop-color="#0f7"/><stop offset=".625" stop-color="#0f4"/><stop offset=".718" stop-color="#0f0"/><stop offset=".75" stop-color="#1dff00"/><stop offset=".841" stop-color="#80ff00"/><stop offset=".875" stop-color="#af0"/><stop offset=".936" stop-color="#ff0"/><stop offset="1" stop-color="#ff9a00"/></linearGradient>
<linearGradient id="r52"><stop offset="0" stop-color="#75ff00"/><stop offset=".113" stop-color="#0f0"/><stop offset=".25" stop-color="#00ff5d"/><stop offset=".352" stop-color="#00ff80"/><stop offset=".375" stop-color="#00ff83"/><stop offset=".485" stop-color="#00ff80"/><stop offset=".5" stop-color="#00ff7c"/><stop offset=".625" stop-color="#00ff48"/><stop offset=".724" stop-color="#0f0"/><stop offset=".75" stop-color="#18ff00"/><stop offset=".845" stop-color="#7fff00"/><stop offset=".875" stop-color="#a6ff00"/><stop offset=".939" stop-color="#ff0"/><stop offset="1" stop-color="#ff9e00"/></linearGradient>
<linearGradient id="r53"><stop offset="0" stop-color="#70ff00"/><stop offset=".107" stop-color="#0f0"/><stop offset=".125" stop-color="#00ff10"/><stop offset=".25" stop-color="#00ff63"/><stop offset=".328" stop-color="#00ff7f"/><stop offset=".375" stop-color="#0f8"/><stop offset=".5" stop-color="#00ff81"/><stop offset=".625" stop-color="#00ff4d"/><stop offset=".729" stop-color="#0f0"/><stop offset=".75" stop-color="#14ff00"/><stop offset=".848" stop-color="#80ff00"/><stop offset=".875" stop-color="#a2ff00"/><stop offset=".941" stop-color="#ff0"/><stop offset="1" stop-color="#ffa200"/></linearGradient>
<linearGradient id="r54"><stop offset="0" stop-color="#6aff00"/><stop offset=".1" stop-color="#0f0"/><stop offset=".125" stop-color="#00ff16"/><stop offset=".25" stop-color="#00ff68"/><stop offset=".31" stop-color="#00ff80"/><stop offset=".375" stop-color="#00ff8d"/><stop offset=".5" stop-color="#00ff86"/><stop offset=".524" stop-color="#00ff80"/><stop offset=".625" stop-color="#00ff52"/><stop offset=".734" stop-color="#0f0"/><stop offset=".75" stop-color="#0fff00"/><stop offset=".852" stop-color="#80ff00"/><stop offset=".875" stop-color="#9dff00"/><stop offset=".944" stop-color="#ff0"/><stop offset="1" stop-color="#ffa600"/></linearGradient>
<linearGradient id="r55"><stop offset="0" stop-color="#64ff00"/><stop offset=".094" stop-color="#0f0"/><stop offset=".125" stop-color="#00ff1b"/><stop offset=".25" stop-color="#00ff6d"/><stop offset=".293" stop-color="#00ff7f"/><stop offset=".375" stop-color="#00ff93"/><stop offset=".5" stop-color="#00ff8b"/><stop offset=".539" stop-color="#00ff80"/><stop offset=".625" stop-color="#00ff57"/><stop offset=".738" stop-color="#0f0"/><stop offset=".855" stop-color="#80ff00"/><stop offset=".875" stop-color="#9f0"/><stop offset=".947" stop-color="#ff0"/><stop offset="1" stop-color="#fa0"/></linearGradient>
<linearGradient id="r56"><stop offset="0" stop-color="#5eff00"/><stop offset=".088" stop-color="#0f0"/><stop offset=".125" stop-color="#00ff21"/><stop offset=".25" stop-color="#00ff73"/><stop offset=".279" stop-color="#00ff80"/><stop offset=".375" stop-color="#00ff98"/><stop offset=".5" stop-color="#00ff90"/><stop offset=".552" stop-color="#00ff7f"/><stop offset=".625" stop-color="#00ff5b"/><stop offset=".743" stop-color="#0f0"/><stop offset=".858" stop-color="#7fff00"/><stop offset=".875" stop-color="#95ff00"/><stop offset=".949" stop-color="#ff0"/><stop offset="1" stop-color="#ffae00"/></linearGradient>
<linearGradient id="r57"><stop offset="0" stop-color="#58ff00"/><stop offset=".082" stop-color="#0f0"/><stop offset=".125" stop-color="#00ff27"/><stop offset=".25" stop-color="#00ff78"/><stop offset=".266" stop-color="#00ff7f"/><stop offset=".375" stop-color="#00ff9d"/><stop offset=".5" stop-color="#00ff95"/><stop offset=".564" stop-color="#00ff7f"/><stop offset=".625" stop-color="#00ff60"/><stop offset=".748" stop-color="#0f0"/><stop offset=".862" stop-color="#80ff00"/><stop offset=".875" stop-color="#91ff00"/><stop offset=".952" stop-color="#ff0"/><stop offset="1" stop-color="#ffb200"/></linearGradient>
<linearGradient id="r58"><stop offset="0" stop-color="#52ff00"/><stop offset=".076" stop-color="#0f0"/><stop offset=".125" stop-color="#00ff2c"/><stop offset=".25" stop-color="#00ff7e"/><stop offset=".375" stop-color="#00ffa2"/><stop offset=".5" stop-color="#00ff9a"/><stop offset=".575" stop-color="#00ff7f"/><stop offset=".625" stop-color="#00ff65"/><stop offset=".75" stop-color="#00ff03"/><stop offset=".865" stop-color="#80ff00"/><stop offset=".955" stop-color="#ff0"/><stop offset="1" stop-color="#ffb600"/></linearGradient>
<linearGradient id="r59"><stop offset="0" stop-color="#4cff00"/><stop offset=".07" stop-color="#0f0"/><stop offset=".125" stop-color="#00ff32"/><stop offset=".242" stop-color="#00ff80"/><stop offset=".375" stop-color="#00ffa8"/><stop offset=".5" stop-color="#00ff9f"/><stop offset=".585" stop-color="#00ff80"/><stop offset=".625" stop-color="#00ff69"/><stop offset=".75" stop-color="#00ff07"/><stop offset=".868" stop-color="#80ff00"/><stop offset=".957" stop-color="#ff0"/><stop offset="1" stop-color="#ffba00"/></linearGradient>
<linearGradient id="r60"><stop offset="0" stop-color="#46ff00"/><stop offset=".064" stop-color="#0f0"/><stop offset=".125" stop-color="#00ff38"/><stop offset=".231" stop-color="#00ff80"/><stop offset=".25" stop-color="#00ff89"/><stop offset=".375" stop-color="#00ffad"/><stop offset=".5" stop-color="#00ffa4"/><stop offset=".595" stop-color="#00ff7f"/><stop offset=".625" stop-color="#00ff6e"/><stop offset=".75" stop-color="#00ff0c"/><stop offset=".872" stop-color="#80ff00"/><stop offset=".96" stop-color="#ff0"/><stop offset="1" stop-color="#ffbe00"/></linearGradient>
<linearGradient id="r61"><stop offset="0" stop-color="#40ff00"/><stop offset=".058" stop-color="#0f0"/><stop offset=".125" stop-color="#00ff3e"/><stop offset=".221" stop-color="#00ff80"/><stop offset=".25" stop-color="#00ff8e"/><stop offset=".375" stop-color="#00ffb2"/><stop offset=".5" stop-color="#00ffa9"/><stop offset=".604" stop-color="#00ff80"/><stop offset=".625" stop-color="#00ff73"/><stop offset=".75" stop-color="#00ff10"/><stop offset=".766" stop-color="#0f0"/><stop offset=".875" stop-color="#7fff00"/><stop offset=".963" stop-color="#ff0"/><stop offset="1" stop-color="#ffc200"/></linearGradient>
<linearGradient id="r62"><stop offset="0" stop-color="#3aff00"/><stop offset=".052" stop-color="#0f0"/><stop offset=".125" stop-color="#0f4"/><stop offset=".211" stop-color="#00ff7f"/><stop offset=".25" stop-color="#00ff94"/><stop offset=".375" stop-color="#00ffb7"/><stop offset=".5" stop-color="#00ffae"/><stop offset=".612" stop-color="#00ff80"/><stop offset=".625" stop-color="#00ff78"/><stop offset=".75" stop-color="#00ff15"/><stop offset=".771" stop-color="#0f0"/><stop offset=".875" stop-color="#7bff00"/><stop offset=".965" stop-color="#ff0"/><stop offset="1" stop-color="#ffc600"/></linearGradient>
<linearGradient id="r63"><stop offset="0" stop-color="#34ff00"/><stop offset=".046" stop-color="#0f0"/><stop offset=".125" stop-color="#00ff49"/><stop offset=".201" stop-color="#00ff7f"/><stop offset=".25" stop-color="#0f9"/><stop offset=".375" stop-color="#00ffbd"/><stop offset=".5" stop-color="#00ffb3"/><stop offset=".62" stop-color="#00ff80"/><stop offset=".75" stop-color="#00ff19"/><stop offset=".775" stop-color="#0f0"/><stop offset=".875" stop-color="#7f0"/><stop offset=".968" stop-color="#ff0"/><stop offset="1" stop-color="#ffca00"/></linearGradient>
<linearGradient id="r64"><stop offset="0" stop-color="#2eff00"/><stop offset=".041" stop-color="#0f0"/><stop offset=".125" stop-color="#00ff4f"/><stop offset=".192" stop-color="#00ff80"/><stop offset=".25" stop-color="#00ff9f"/><stop offset=".375" stop-color="#00ffc2"/><stop offset=".5" stop-color="#00ffb8"/><stop offset=".625" stop-color="#00ff81"/><stop offset=".75" stop-color="#00ff1e"/><stop offset=".779" stop-color="#0f0"/><stop offset=".875" stop-color="#73ff00"/><stop offset=".97" stop-color="#ff0"/><stop offset="1" stop-color="#ffce00"/></linearGradient>
<linearGradient id="r65"><stop offset="0" stop-color="#28ff00"/><stop offset=".035" stop-color="#0f0"/><stop offset=".125" stop-color="#0f5"/><stop offset=".183" stop-color="#00ff7f"/><stop offset=".25" stop-color="#00ffa5"/><stop offset=".375" stop-color="#00ffc7"/><stop offset=".5" stop-color="#00ffbd"/><stop offset=".625" stop-color="#00ff86"/><stop offset=".75" stop-color="#0f2"/><stop offset=".784" stop-color="#0f0"/><stop offset=".875" stop-color="#6eff00"/><stop offset=".888" stop-color="#7fff00"/><stop offset=".973" stop-color="#ff0"/><stop offset="1" stop-color="#ffd200"/></linearGradient>
<linearGradient id="r66"><stop offset="0" stop-color="#21ff00"/><stop offset=".03" stop-color="#0f0"/><stop offset=".125" stop-color="#00ff5b"/><stop offset=".174" stop-color="#00ff80"/><stop offset=".25" stop-color="#0fa"/><stop offset=".375" stop-color="#00ffcd"/><stop offset=".5" stop-color="#00ffc2"/><stop offset=".625" stop-color="#00ff8b"/><stop offset=".643" stop-color="#00ff80"/><stop offset=".75" stop-color="#00ff27"/><stop offset=".788" stop-color="#0f0"/><stop offset=".875" stop-color="#6aff00"/><stop offset=".891" stop-color="#80ff00"/><stop offset=".976" stop-color="#ff0"/><stop offset="1" stop-color="#ffd600"/></linearGradient>
<linearGradient id="r67"><stop offset="0" stop-color="#1bff00"/><stop offset=".024" stop-color="#0f0"/><stop offset=".125" stop-color="#00ff61"/><stop offset=".166" stop-color="#00ff7f"/><stop offset=".25" stop-color="#00ffb0"/><stop offset=".375" stop-color="#00ffd2"/><stop offset=".5" stop-color="#00ffc8"/><stop offset=".625" stop-color="#00ff90"/><stop offset=".65" stop-color="#00ff7f"/><stop offset=".75" stop-color="#00ff2c"/><stop offset=".792" stop-color="#0f0"/><stop offset=".875" stop-color="#6f0"/><stop offset=".894" stop-color="#80ff00"/><stop offset=".978" stop-color="#ff0"/><stop offset="1" stop-color="#ffda00"/></linearGradient>
<linearGradient id="r68"><stop offset="0" stop-color="#15ff00"/><stop offset=".019" stop-color="#0f0"/><stop offset=".125" stop-color="#00ff67"/><stop offset=".158" stop-color="#00ff80"/><stop offset=".25" stop-color="#00ffb6"/><stop offset=".375" stop-color="#00ffd8"/><stop offset=".5" stop-color="#00ffcd"/><stop offset=".625" stop-color="#00ff95"/><stop offset=".657" stop-color="#00ff80"/><stop offset=".75" stop-color="#00ff30"/><stop offset=".796" stop-color="#0f0"/><stop offset=".875" stop-color="#61ff00"/><stop offset=".897" stop-color="#7fff00"/><stop offset=".981" stop-color="#ff0"/><stop offset="1" stop-color="#ffdf00"/></linearGradient>
<linearGradient id="r69"><stop offset="0" stop-color="#0fff00"/><stop offset=".013" stop-color="#0f0"/><stop offset=".125" stop-color="#00ff6c"/><stop offset=".15" stop-color="#00ff80"/><stop offset=".25" stop-color="#0fb"/><stop offset=".375" stop-color="#0fd"/><stop offset=".5" stop-color="#00ffd2"/><stop offset=".625" stop-color="#00ff9a"/><stop offset=".664" stop-color="#00ff7f"/><stop offset=".75" stop-color="#00ff35"/><stop offset=".8" stop-color="#0f0"/><stop offset=".875" stop-color="#5dff00"/><stop offset=".9" stop-color="#7fff00"/><stop offset=".983" stop-color="#ff0"/><stop offset="1" stop-color="#ffe300"/></linearGradient>
<linearGradient id="r70"><stop offset="0" stop-color="#09ff00"/><stop offset=".125" stop-color="#00ff72"/><stop offset=".142" stop-color="#00ff7f"/><stop offset=".25" stop-color="#00ffc1"/><stop offset=".375" stop-color="#00ffe2"/><stop offset=".5" stop-color="#00ffd7"/><stop offset=".625" stop-color="#00ff9f"/><stop offset=".67" stop-color="#00ff7f"/><stop offset=".75" stop-color="#00ff3a"/><stop offset=".804" stop-color="#0f0"/><stop offset=".875" stop-color="#58ff00"/><stop offset=".903" stop-color="#80ff00"/><stop offset=".986" stop-color="#ff0"/><stop offset="1" stop-color="#ffe700"/></linearGradient>
<linearGradient id="r71"><stop offset="0" stop-color="#03ff00"/><stop offset=".125" stop-color="#00ff78"/><stop offset=".25" stop-color="#00ffc7"/><stop offset=".375" stop-color="#00ffe8"/><stop offset=".5" stop-color="#00ffdc"/><stop offset=".625" stop-color="#00ffa4"/><stop offset=".676" stop-color="#00ff7f"/><stop offset=".75" stop-color="#00ff3e"/><stop offset=".808" stop-color="#0f0"/><stop offset=".875" stop-color="#54ff00"/><stop offset=".906" stop-color="#80ff00"/><stop offset=".988" stop-color="#ff0"/></linearGradient>
<linearGradient id="r72"><stop offset="0" stop-color="#00ff03"/><stop offset=".125" stop-color="#00ff7e"/><stop offset=".25" stop-color="#0fc"/><stop offset=".375" stop-color="#00ffed"/><stop offset=".5" stop-color="#00ffe1"/><stop offset=".625" stop-color="#00ffa9"/><stop offset=".683" stop-color="#00ff80"/><stop offset=".75" stop-color="#00ff43"/><stop offset=".812" stop-color="#0f0"/><stop offset=".875" stop-color="#4fff00"/><stop offset=".909" stop-color="#7fff00"/><stop offset=".991" stop-color="#ff0"/></linearGradient>
<linearGradient id="r73"><stop offset="0" stop-color="#00ff0a"/><stop offset=".119" stop-color="#00ff7f"/><stop offset=".25" stop-color="#00ffd2"/><stop offset=".375" stop-color="#00fff3"/><stop offset=".5" stop-color="#00ffe7"/><stop offset=".625" stop-color="#00ffae"/><stop offset=".689" stop-color="#00ff80"/><stop offset=".75" stop-color="#00ff48"/><stop offset=".816" stop-color="#0f0"/><stop offset=".875" stop-color="#4bff00"/><stop offset=".912" stop-color="#7fff00"/><stop offset=".993" stop-color="#ff0"/></linearGradient>
<linearGradient id="r74"><stop offset="0" stop-color="#00ff10"/><stop offset=".112" stop-color="#00ff7f"/><stop offset=".125" stop-color="#00ff8a"/><stop offset=".25" stop-color="#00ffd8"/><stop offset=".375" stop-color="#00fff8"/><stop offset=".5" stop-color="#00ffec"/><stop offset=".625" stop-color="#00ffb3"/><stop offset=".695" stop-color="#00ff80"/><stop offset=".75" stop-color="#00ff4d"/><stop offset=".82" stop-color="#0f0"/><stop offset=".875" stop-color="#46ff00"/><stop offset=".915" stop-color="#7fff00"/><stop offset=".996" stop-color="#ff0"/></linearGradient>
<linearGradient id="r75"><stop offset="0" stop-color="#00ff16"/><stop offset=".105" stop-color="#00ff80"/><stop offset=".125" stop-color="#00ff90"/><stop offset=".25" stop-color="#0fd"/><stop offset=".375" stop-color="#00fffe"/><stop offset=".5" stop-color="#00fff1"/><stop offset=".625" stop-color="#00ffb8"/><stop offset=".7" stop-color="#00ff7f"/><stop offset=".75" stop-color="#00ff51"/><stop offset=".824" stop-color="#0f0"/><stop offset=".875" stop-color="#42ff00"/><stop offset=".918" stop-color="#80ff00"/><stop offset=".998" stop-color="#ff0"/></linearGradient>
<linearGradient id="r76"><stop offset="0" stop-color="#00ff1c"/><stop offset=".098" stop-color="#00ff80"/><stop offset=".125" stop-color="#00ff96"/><stop offset=".25" stop-color="#00ffe3"/><stop offset=".341" stop-color="#0ff"/><stop offset=".375" stop-color="#00fbff"/><stop offset=".463" stop-color="#0ff"/><stop offset=".5" stop-color="#00fff6"/><stop offset=".625" stop-color="#00ffbd"/><stop offset=".706" stop-color="#00ff7f"/><stop offset=".75" stop-color="#00ff56"/><stop offset=".828" stop-color="#0f0"/><stop offset=".875" stop-color="#3dff00"/><stop offset=".921" stop-color="#7fff00"/><stop offset="1" stop-color="#feff00"/></linearGradient>
<linearGradient id="r77"><stop offset="0" stop-color="#00ff23"/><stop offset=".091" stop-color="#00ff80"/><stop offset=".125" stop-color="#00ff9c"/><stop offset=".25" stop-color="#00ffe9"/><stop offset=".315" stop-color="#0ff"/><stop offset=".375" stop-color="#00f5ff"/><stop offset=".488" stop-color="#0ff"/><stop offset=".5" stop-color="#00fffc"/><stop offset=".625" stop-color="#00ffc2"/><stop offset=".711" stop-color="#00ff80"/><stop offset=".75" stop-color="#00ff5b"/><stop offset=".831" stop-color="#0f0"/><stop offset=".875" stop-color="#39ff00"/><stop offset=".924" stop-color="#7fff00"/><stop offset="1" stop-color="#f9ff00"/></linearGradient>
<linearGradient id="r78"><stop offset="0" stop-color="#00ff29"/><stop offset=".084" stop-color="#00ff7f"/><stop offset=".125" stop-color="#00ffa2"/><stop offset=".25" stop-color="#00ffef"/><stop offset=".294" stop-color="#0ff"/><stop offset=".375" stop-color="#00f0ff"/><stop offset=".5" stop-color="#00fdff"/><stop offset=".625" stop-color="#00ffc7"/><stop offset=".717" stop-color="#00ff80"/><stop offset=".75" stop-color="#00ff60"/><stop offset=".835" stop-color="#0f0"/><stop offset=".875" stop-color="#34ff00"/><stop offset=".927" stop-color="#80ff00"/><stop offset="1" stop-color="#f5ff00"/></linearGradient>
<linearGradient id="r79"><stop offset="0" stop-color="#00ff2f"/><stop offset=".077" stop-color="#00ff7f"/><stop offset=".125" stop-color="#00ffa8"/><stop offset=".25" stop-color="#00fff5"/><stop offset=".277" stop-color="#0ff"/><stop offset=".375" stop-color="#00eaff"/><stop offset=".5" stop-color="#00f8ff"/><stop offset=".523" stop-color="#0ff"/><stop offset=".625" stop-color="#0fc"/><stop offset=".722" stop-color="#00ff80"/><stop offset=".75" stop-color="#00ff65"/><stop offset=".839" stop-color="#0f0"/><stop offset=".875" stop-color="#30ff00"/><stop offset=".93" stop-color="#7fff00"/><stop offset="1" stop-color="#f1ff00"/></linearGradient>
<linearGradient id="r80"><stop offset="0" stop-color="#00ff36"/><stop offset=".071" stop-color="#00ff7f"/><stop offset=".125" stop-color="#00ffae"/><stop offset=".25" stop-color="#00fffa"/><stop offset=".375" stop-color="#00e5ff"/><stop offset=".5" stop-color="#00f2ff"/><stop offset=".537" stop-color="#0ff"/><stop offset=".625" stop-color="#00ffd1"/><stop offset=".727" stop-color="#00ff7f"/><stop offset=".75" stop-color="#00ff69"/><stop offset=".842" stop-color="#0f0"/><stop offset=".875" stop-color="#2bff00"/><stop offset=".933" stop-color="#7fff00"/><stop offset="1" stop-color="#ecff00"/></linearGradient>
<linearGradient id="r81"><stop offset="0" stop-color="#00ff3c"/><stop offset=".064" stop-color="#00ff7f"/><stop offset=".125" stop-color="#00ffb4"/><stop offset=".247" stop-color="#0ff"/><stop offset=".375" stop-color="#00dfff"/><stop offset=".5" stop-color="#00edff"/><stop offset=".55" stop-color="#0ff"/><stop offset=".625" stop-color="#00ffd6"/><stop offset=".733" stop-color="#00ff80"/><stop offset=".75" stop-color="#00ff6e"/><stop offset=".846" stop-color="#0f0"/><stop offset=".875" stop-color="#26ff00"/><stop offset=".936" stop-color="#80ff00"/><stop offset="1" stop-color="#e8ff00"/></linearGradient>
<linearGradient id="r82"><stop offset="0" stop-color="#00ff42"/><stop offset=".058" stop-color="#00ff80"/><stop offset=".125" stop-color="#0fb"/><stop offset=".234" stop-color="#0ff"/><stop offset=".25" stop-color="#00f8ff"/><stop offset=".375" stop-color="#00d9ff"/><stop offset=".5" stop-color="#00e8ff"/><stop offset=".561" stop-color="#0ff"/><stop offset=".625" stop-color="#00ffdb"/><stop offset=".738" stop-color="#00ff7f"/><stop offset=".75" stop-color="#00ff73"/><stop offset=".85" stop-color="#0f0"/><stop offset=".875" stop-color="#2f0"/><stop offset=".939" stop-color="#80ff00"/><stop offset="1" stop-color="#e4ff00"/></linearGradient>
<linearGradient id="r83"><stop offset="0" stop-color="#00ff49"/><stop offset=".051" stop-color="#00ff7f"/><stop offset=".125" stop-color="#00ffc1"/><stop offset=".222" stop-color="#0ff"/><stop offset=".25" stop-color="#00f2ff"/><stop offset=".375" stop-color="#00d4ff"/><stop offset=".5" stop-color="#00e2ff"/><stop offset=".572" stop-color="#0ff"/><stop offset=".625" stop-color="#00ffe0"/><stop offset=".743" stop-color="#00ff7f"/><stop offset=".853" stop-color="#0f0"/><stop offset=".875" stop-color="#1dff00"/><stop offset=".942" stop-color="#7fff00"/><stop offset="1" stop-color="#dfff00"/></linearGradient>
<linearGradient id="r84"><stop offset="0" stop-color="#00ff4f"/><stop offset=".045" stop-color="#00ff7f"/><stop offset=".125" stop-color="#00ffc7"/><stop offset=".211" stop-color="#0ff"/><stop offset=".25" stop-color="#00ecff"/><stop offset=".375" stop-color="#00ceff"/><stop offset=".5" stop-color="#0df"/><stop offset=".582" stop-color="#0ff"/><stop offset=".625" stop-color="#00ffe5"/><stop offset=".748" stop-color="#00ff7f"/><stop offset=".857" stop-color="#0f0"/><stop offset=".875" stop-color="#18ff00"/><stop offset=".945" stop-color="#7fff00"/><stop offset="1" stop-color="#dbff00"/></linearGradient>
<linearGradient id="r85"><stop offset="0" stop-color="#0f5"/><stop offset=".039" stop-color="#00ff7f"/><stop offset=".125" stop-color="#00ffcd"/><stop offset=".2" stop-color="#0ff"/><stop offset=".25" stop-color="#00e6ff"/><stop offset=".375" stop-color="#00c8ff"/><stop offset=".5" stop-color="#00d7ff"/><stop offset=".592" stop-color="#0ff"/><stop offset=".625" stop-color="#00ffeb"/><stop offset=".75" stop-color="#00ff82"/><stop offset=".86" stop-color="#0f0"/><stop offset=".875" stop-color="#14ff00"/><stop offset=".948" stop-color="#80ff00"/><stop offset="1" stop-color="#d6ff00"/></linearGradient>
<linearGradient id="r86"><stop offset="0" stop-color="#00ff5c"/><stop offset=".033" stop-color="#00ff7f"/><stop offset=".125" stop-color="#00ffd3"/><stop offset=".189" stop-color="#0ff"/><stop offset=".25" stop-color="#00e0ff"/><stop offset=".375" stop-color="#00c3ff"/><stop offset=".5" stop-color="#00d2ff"/><stop offset=".601" stop-color="#0ff"/><stop offset=".625" stop-color="#00fff0"/><stop offset=".75" stop-color="#00ff87"/><stop offset=".864" stop-color="#0f0"/><stop offset=".951" stop-color="#7fff00"/><stop offset="1" stop-color="#d2ff00"/></linearGradient>
<linearGradient id="r87"><stop offset="0" stop-color="#00ff62"/><stop offset=".027" stop-color="#00ff7f"/><stop offset=".125" stop-color="#00ffd9"/><stop offset=".179" stop-color="#0ff"/><stop offset=".25" stop-color="#00daff"/><stop offset=".375" stop-color="#00bdff"/><stop offset=".5" stop-color="#00cdff"/><stop offset=".609" stop-color="#0ff"/><stop offset=".625" stop-color="#00fff5"/><stop offset=".75" stop-color="#00ff8c"/><stop offset=".867" stop-color="#0f0"/><stop offset=".953" stop-color="#80ff00"/><stop offset="1" stop-color="#cdff00"/></linearGradient>
<linearGradient id="r88"><stop offset="0" stop-color="#00ff69"/><stop offset=".021" stop-color="#00ff7f"/><stop offset=".125" stop-color="#00ffdf"/><stop offset=".17" stop-color="#0ff"/><stop offset=".25" stop-color="#00d5ff"/><stop offset=".375" stop-color="#00b7ff"/><stop offset=".5" stop-color="#00c7ff"/><stop offset=".618" stop-color="#0ff"/><stop offset=".75" stop-color="#00ff91"/><stop offset=".766" stop-color="#00ff80"/><stop offset=".871" stop-color="#0f0"/><stop offset=".956" stop-color="#7fff00"/><stop offset="1" stop-color="#c9ff00"/></linearGradient>
<linearGradient id="r89"><stop offset="0" stop-color="#00ff6f"/><stop offset=".015" stop-color="#00ff80"/><stop offset=".125" stop-color="#00ffe6"/><stop offset=".16" stop-color="#0ff"/><stop offset=".25" stop-color="#00cfff"/><stop offset=".375" stop-color="#00b2ff"/><stop offset=".5" stop-color="#00c2ff"/><stop offset=".625" stop-color="#0ff"/><stop offset=".75" stop-color="#00ff96"/><stop offset=".771" stop-color="#00ff7f"/><stop offset=".874" stop-color="#0f0"/><stop offset=".959" stop-color="#7fff00"/><stop offset="1" stop-color="#c5ff00"/></linearGradient>
<linearGradient id="r90"><stop offset="0" stop-color="#00ff75"/><stop offset=".125" stop-color="#00ffec"/><stop offset=".151" stop-color="#0ff"/><stop offset=".25" stop-color="#00c9ff"/><stop offset=".375" stop-color="#00acff"/><stop offset=".5" stop-color="#00bcff"/><stop offset=".625" stop-color="#00f9ff"/><stop offset=".75" stop-color="#00ff9b"/><stop offset=".775" stop-color="#00ff80"/><stop offset=".875" stop-color="#00ff04"/><stop offset=".962" stop-color="#7fff00"/><stop offset="1" stop-color="#c0ff00"/></linearGradient>
<linearGradient id="r91"><stop offset="0" stop-color="#00ff7c"/><stop offset=".125" stop-color="#00fff2"/><stop offset=".142" stop-color="#0ff"/><stop offset=".25" stop-color="#00c3ff"/><stop offset=".375" stop-color="#00a6ff"/><stop offset=".5" stop-color="#00b7ff"/><stop offset=".625" stop-color="#00f4ff"/><stop offset=".641" stop-color="#0ff"/><stop offset=".75" stop-color="#00ffa0"/><stop offset=".78" stop-color="#00ff7f"/><stop offset=".875" stop-color="#00ff09"/><stop offset=".965" stop-color="#7fff00"/><stop offset="1" stop-color="#bcff00"/></linearGradient>
<linearGradient id="r92"><stop offset="0" stop-color="#00ff82"/><stop offset=".125" stop-color="#00fff8"/><stop offset=".25" stop-color="#00bdff"/><stop offset=".375" stop-color="#00a0ff"/><stop offset=".5" stop-color="#00b1ff"/><stop offset=".625" stop-color="#00efff"/><stop offset=".648" stop-color="#0ff"/><stop offset=".75" stop-color="#00ffa5"/><stop offset=".784" stop-color="#00ff7f"/><stop offset=".875" stop-color="#00ff0d"/><stop offset=".967" stop-color="#7fff00"/><stop offset="1" stop-color="#b7ff00"/></linearGradient>
<linearGradient id="r93"><stop offset="0" stop-color="#00ff89"/><stop offset=".125" stop-color="#0ff"/><stop offset=".25" stop-color="#00b7ff"/><stop offset=".375" stop-color="#009bff"/><stop offset=".5" stop-color="#00acff"/><stop offset=".625" stop-color="#00eaff"/><stop offset=".655" stop-color="#0ff"/><stop offset=".75" stop-color="#0fa"/><stop offset=".789" stop-color="#00ff7f"/><stop offset=".875" stop-color="#00ff12"/><stop offset=".888" stop-color="#0f0"/><stop offset=".97" stop-color="#80ff00"/><stop offset="1" stop-color="#b2ff00"/></linearGradient>
<linearGradient id="r94"><stop offset="0" stop-color="#00ff8f"/><stop offset=".117" stop-color="#0ff"/><stop offset=".25" stop-color="#00b1ff"/><stop offset=".375" stop-color="#0095ff"/><stop offset=".5" stop-color="#00a6ff"/><stop offset=".625" stop-color="#00e4ff"/><stop offset=".662" stop-color="#0ff"/><stop offset=".75" stop-color="#00ffaf"/><stop offset=".793" stop-color="#00ff7f"/><stop offset=".875" stop-color="#00ff17"/><stop offset=".891" stop-color="#0f0"/><stop offset=".973" stop-color="#7fff00"/><stop offset="1" stop-color="#aeff00"/></linearGradient>
<linearGradient id="r95"><stop offset="0" stop-color="#00ff96"/><stop offset=".109" stop-color="#0ff"/><stop offset=".125" stop-color="#00f3ff"/><stop offset=".25" stop-color="#0af"/><stop offset=".375" stop-color="#008fff"/><stop offset=".5" stop-color="#00a1ff"/><stop offset=".625" stop-color="#00dfff"/><stop offset=".668" stop-color="#0ff"/><stop offset=".75" stop-color="#00ffb4"/><stop offset=".797" stop-color="#00ff80"/><stop offset=".875" stop-color="#00ff1c"/><stop offset=".894" stop-color="#0f0"/><stop offset=".976" stop-color="#7fff00"/><stop offset="1" stop-color="#a9ff00"/></linearGradient>
<linearGradient id="r96"><stop offset="0" stop-color="#00ff9d"/><stop offset=".102" stop-color="#0ff"/><stop offset=".125" stop-color="#00ecff"/><stop offset=".25" stop-color="#00a4ff"/><stop offset=".375" stop-color="#0089ff"/><stop offset=".5" stop-color="#009bff"/><stop offset=".625" stop-color="#00daff"/><stop offset=".675" stop-color="#0ff"/><stop offset=".75" stop-color="#00ffb9"/><stop offset=".802" stop-color="#00ff7f"/><stop offset=".875" stop-color="#00ff21"/><stop offset=".898" stop-color="#0f0"/><stop offset=".978" stop-color="#7fff00"/><stop offset="1" stop-color="#a5ff00"/></linearGradient>
<linearGradient id="r97"><stop offset="0" stop-color="#00ffa3"/><stop offset=".094" stop-color="#0ff"/><stop offset=".125" stop-color="#00e6ff"/><stop offset=".25" stop-color="#009eff"/><stop offset=".375" stop-color="#0083ff"/><stop offset=".5" stop-color="#0095ff"/><stop offset=".625" stop-color="#00d4ff"/><stop offset=".681" stop-color="#0ff"/><stop offset=".75" stop-color="#00ffbe"/><stop offset=".806" stop-color="#00ff80"/><stop offset=".875" stop-color="#00ff25"/><stop offset=".901" stop-color="#0f0"/><stop offset=".981" stop-color="#80ff00"/><stop offset="1" stop-color="#a0ff00"/></linearGradient>
<linearGradient id="r98"><stop offset="0" stop-color="#0fa"/><stop offset=".086" stop-color="#0ff"/><stop offset=".125" stop-color="#00e0ff"/><stop offset=".25" stop-color="#0098ff"/><stop offset=".348" stop-color="#007fff"/><stop offset=".375" stop-color="#007eff"/><stop offset=".425" stop-color="#0080ff"/><stop offset=".5" stop-color="#0090ff"/><stop offset=".625" stop-color="#00cfff"/><stop offset=".687" stop-color="#0ff"/><stop offset=".75" stop-color="#00ffc3"/><stop offset=".81" stop-color="#00ff7f"/><stop offset=".875" stop-color="#00ff2a"/><stop offset=".904" stop-color="#0f0"/><stop offset=".984" stop-color="#80ff00"/><stop offset="1" stop-color="#9bff00"/></linearGradient>
<linearGradient id="r99"><stop offset="0" stop-color="#00ffb0"/><stop offset=".079" stop-color="#0ff"/><stop offset=".125" stop-color="#00d9ff"/><stop offset=".25" stop-color="#0092ff"/><stop offset=".312" stop-color="#0080ff"/><stop offset=".375" stop-color="#0078ff"/><stop offset=".461" stop-color="#007fff"/><stop offset=".5" stop-color="#008aff"/><stop offset=".625" stop-color="#00caff"/><stop offset=".693" stop-color="#0ff"/><stop offset=".75" stop-color="#00ffc8"/><stop offset=".814" stop-color="#00ff7f"/><stop offset=".875" stop-color="#00ff2f"/><stop offset=".907" stop-color="#0f0"/><stop offset=".987" stop-color="#7fff00"/><stop offset="1" stop-color="#97ff00"/></linearGradient>
<linearGradient id="r100"><stop offset="0" stop-color="#00ffb7"/><stop offset=".072" stop-color="#0ff"/><stop offset=".125" stop-color="#00d3ff"/><stop offset=".25" stop-color="#008cff"/><stop offset=".287" stop-color="#0080ff"/><stop offset=".375" stop-color="#0072ff"/><stop offset=".483" stop-color="#0080ff"/><stop offset=".5" stop-color="#0085ff"/><stop offset=".625" stop-color="#00c4ff"/><stop offset=".699" stop-color="#0ff"/><stop offset=".75" stop-color="#00ffcd"/><stop offset=".818" stop-color="#00ff80"/><stop offset=".875" stop-color="#00ff34"/><stop offset=".911" stop-color="#0f0"/><stop offset=".989" stop-color="#7fff00"/></linearGradient>
<linearGradient id="r101"><stop offset="0" stop-color="#00ffbe"/><stop offset=".065" stop-color="#0ff"/><stop offset=".125" stop-color="#00cdff"/><stop offset=".25" stop-color="#0086ff"/><stop offset=".268" stop-color="#0080ff"/><stop offset=".375" stop-color="#006cff"/><stop offset=".5" stop-color="#007fff"/><stop offset=".625" stop-color="#00bfff"/><stop offset=".705" stop-color="#0ff"/><stop offset=".75" stop-color="#00ffd3"/><stop offset=".822" stop-color="#00ff80"/><stop offset=".875" stop-color="#00ff39"/><stop offset=".914" stop-color="#0f0"/><stop offset=".992" stop-color="#7fff00"/></linearGradient>
<linearGradient id="r102"><stop offset="0" stop-color="#00ffc4"/><stop offset=".058" stop-color="#0ff"/><stop offset=".125" stop-color="#00c6ff"/><stop offset=".25" stop-color="#0080ff"/><stop offset=".375" stop-color="#06f"/><stop offset=".5" stop-color="#0079ff"/><stop offset=".517" stop-color="#007fff"/><stop offset=".625" stop-color="#00b9ff"/><stop offset=".711" stop-color="#0ff"/><stop offset=".75" stop-color="#00ffd8"/><stop offset=".826" stop-color="#00ff80"/><stop offset=".875" stop-color="#00ff3e"/><stop offset=".917" stop-color="#0f0"/><stop offset=".995" stop-color="#80ff00"/></linearGradient>
<linearGradient id="r103"><stop offset="0" stop-color="#00ffcb"/><stop offset=".051" stop-color="#0ff"/><stop offset=".125" stop-color="#00c0ff"/><stop offset=".235" stop-color="#007fff"/><stop offset=".25" stop-color="#007aff"/><stop offset=".375" stop-color="#0060ff"/><stop offset=".5" stop-color="#0074ff"/><stop offset=".531" stop-color="#007fff"/><stop offset=".625" stop-color="#00b4ff"/><stop offset=".716" stop-color="#0ff"/><stop offset=".75" stop-color="#0fd"/><stop offset=".83" stop-color="#00ff7f"/><stop offset=".875" stop-color="#00ff43"/><stop offset=".92" stop-color="#0f0"/><stop offset=".997" stop-color="#80ff00"/></linearGradient>
<linearGradient id="r104"><stop offset="0" stop-color="#00ffd2"/><stop offset=".044" stop-color="#0ff"/><stop offset=".125" stop-color="#00b9ff"/><stop offset=".221" stop-color="#0080ff"/><stop offset=".25" stop-color="#0073ff"/><stop offset=".375" stop-color="#005aff"/><stop offset=".5" stop-color="#006eff"/><stop offset=".544" stop-color="#0080ff"/><stop offset=".625" stop-color="#00aeff"/><stop offset=".722" stop-color="#0ff"/><stop offset=".75" stop-color="#00ffe2"/><stop offset=".834" stop-color="#00ff7f"/><stop offset=".875" stop-color="#00ff48"/><stop offset=".923" stop-color="#0f0"/><stop offset="1" stop-color="#7fff00"/></linearGradient>
<linearGradient id="r105"><stop offset="0" stop-color="#00ffd8"/><stop offset=".037" stop-color="#0ff"/><stop offset=".125" stop-color="#00b3ff"/><stop offset=".208" stop-color="#0080ff"/><stop offset=".25" stop-color="#006dff"/><stop offset=".375" stop-color="#0054ff"/><stop offset=".5" stop-color="#0068ff"/><stop offset=".556" stop-color="#0080ff"/><stop offset=".625" stop-color="#00a9ff"/><stop offset=".727" stop-color="#0ff"/><stop offset=".75" stop-color="#00ffe7"/><stop offset=".838" stop-color="#00ff7f"/><stop offset=".875" stop-color="#00ff4d"/><stop offset=".926" stop-color="#0f0"/><stop offset="1" stop-color="#7bff00"/></linearGradient>
<linearGradient id="r106"><stop offset="0" stop-color="#00ffdf"/><stop offset=".03" stop-color="#0ff"/><stop offset=".125" stop-color="#00adff"/><stop offset=".196" stop-color="#007fff"/><stop offset=".25" stop-color="#0067ff"/><stop offset=".375" stop-color="#004eff"/><stop offset=".5" stop-color="#0062ff"/><stop offset=".567" stop-color="#007fff"/><stop offset=".625" stop-color="#00a3ff"/><stop offset=".732" stop-color="#0ff"/><stop offset=".75" stop-color="#00ffed"/><stop offset=".842" stop-color="#00ff80"/><stop offset=".875" stop-color="#00ff52"/><stop offset=".93" stop-color="#0f0"/><stop offset="1" stop-color="#76ff00"/></linearGradient>
<linearGradient id="r107"><stop offset="0" stop-color="#00ffe6"/><stop offset=".024" stop-color="#0ff"/><stop offset=".125" stop-color="#00a6ff"/><stop offset=".184" stop-color="#007fff"/><stop offset=".25" stop-color="#0061ff"/><stop offset=".375" stop-color="#0048ff"/><stop offset=".5" stop-color="#005dff"/><stop offset=".577" stop-color="#007fff"/><stop offset=".625" stop-color="#009eff"/><stop offset=".737" stop-color="#0ff"/><stop offset=".75" stop-color="#00fff2"/><stop offset=".845" stop-color="#00ff80"/><stop offset=".875" stop-color="#00ff57"/><stop offset=".933" stop-color="#0f0"/><stop offset="1" stop-color="#71ff00"/></linearGradient>
<linearGradient id="r108"><stop offset="0" stop-color="#00ffec"/><stop offset=".017" stop-color="#0ff"/><stop offset=".125" stop-color="#00a0ff"/><stop offset=".173" stop-color="#0080ff"/><stop offset=".25" stop-color="#005aff"/><stop offset=".375" stop-color="#0042ff"/><stop offset=".5" stop-color="#0057ff"/><stop offset=".587" stop-color="#007fff"/><stop offset=".625" stop-color="#0098ff"/><stop offset=".743" stop-color="#0ff"/><stop offset=".849" stop-color="#00ff80"/><stop offset=".875" stop-color="#00ff5c"/><stop offset=".936" stop-color="#0f0"/><stop offset="1" stop-color="#6cff00"/></linearGradient>
<linearGradient id="r109"><stop offset="0" stop-color="#00fff3"/><stop offset=".125" stop-color="#09f"/><stop offset=".163" stop-color="#007fff"/><stop offset=".25" stop-color="#0054ff"/><stop offset=".375" stop-color="#003cff"/><stop offset=".5" stop-color="#0051ff"/><stop offset=".596" stop-color="#007fff"/><stop offset=".625" stop-color="#0093ff"/><stop offset=".748" stop-color="#0ff"/><stop offset=".853" stop-color="#00ff7f"/><stop offset=".875" stop-color="#00ff61"/><stop offset=".939" stop-color="#0f0"/><stop offset="1" stop-color="#68ff00"/></linearGradient>
<linearGradient id="r110"><stop offset="0" stop-color="#00fffa"/><stop offset=".125" stop-color="#0093ff"/><stop offset=".153" stop-color="#007fff"/><stop offset=".25" stop-color="#004eff"/><stop offset=".375" stop-color="#0036ff"/><stop offset=".5" stop-color="#004bff"/><stop offset=".605" stop-color="#007fff"/><stop offset=".625" stop-color="#008dff"/><stop offset=".75" stop-color="#00fcff"/><stop offset=".857" stop-color="#00ff7f"/><stop offset=".875" stop-color="#0f6"/><stop offset=".942" stop-color="#0f0"/><stop offset="1" stop-color="#63ff00"/></linearGradient>
<linearGradient id="r111"><stop offset="0" stop-color="#00fdff"/><stop offset=".125" stop-color="#008cff"/><stop offset=".143" stop-color="#007fff"/><stop offset=".25" stop-color="#0048ff"/><stop offset=".375" stop-color="#0030ff"/><stop offset=".5" stop-color="#0046ff"/><stop offset=".613" stop-color="#0080ff"/><stop offset=".625" stop-color="#08f"/><stop offset=".75" stop-color="#00f7ff"/><stop offset=".86" stop-color="#00ff7f"/><stop offset=".875" stop-color="#00ff6b"/><stop offset=".945" stop-color="#0f0"/><stop offset="1" stop-color="#5eff00"/></linearGradient>
<linearGradient id="r112"><stop offset="0" stop-color="#00f6ff"/><stop offset=".125" stop-color="#0085ff"/><stop offset=".25" stop-color="#0041ff"/><stop offset=".375" stop-color="#002aff"/><stop offset=".5" stop-color="#0040ff"/><stop offset=".621" stop-color="#0080ff"/><stop offset=".75" stop-color="#00f2ff"/><stop offset=".762" stop-color="#0ff"/><stop offset=".864" stop-color="#00ff80"/><stop offset=".948" stop-color="#0f0"/><stop offset="1" stop-color="#59ff00"/></linearGradient>
<clipPath id="cl"><rect x="600" y="1100" width="300" height="56"/></clipPath></defs>
<text transform="translate(3.5 35) scale(.912 1)" class="s" font-size="38.34" fill="#1c1c24" stroke="#1c1c24" stroke-width=".7">Factor Coding: Actual</text>
<text transform="translate(6.12 83.5) scale(.884 1)" class="s" font-size="39.72" fill="#1c1c24" stroke="#1c1c24" stroke-width=".7">Weight Loss (%)</text>
<text transform="translate(55.55 131.9) scale(.894 1)" class="s" font-size="38.48" fill="#c0282d" stroke="#c0282d" stroke-width=".7">Design Points</text>
<ellipse cx="26" cy="117.5" rx="8.7" ry="10.7" fill="#c00000" stroke="#4a0000" stroke-width="1.6"/>
<rect x="16" y="142.5" width="30" height="153.5" fill="url(#cb)" stroke="#222" stroke-width="2"/>
<text transform="translate(56.91 179.7) scale(.847 1)" class="s" font-size="40.71" fill="#ff1830" stroke="#ff1830" stroke-width=".15">10</text>
<text transform="translate(56.06 276) scale(.931 1)" class="s" font-size="41.57" fill="#2c2cff" stroke="#2c2cff" stroke-width=".15">6</text>
<g shape-rendering="crispEdges">
<rect x="406.5" y="65.5" width="682" height="8.5" fill="url(#r0)"/>
<rect x="406.5" y="73.5" width="682" height="8.5" fill="url(#r1)"/>
<rect x="406.5" y="81.51" width="682" height="8.5" fill="url(#r2)"/>
<rect x="406.5" y="89.51" width="682" height="8.5" fill="url(#r3)"/>
<rect x="406.5" y="97.52" width="682" height="8.5" fill="url(#r4)"/>
<rect x="406.5" y="105.52" width="682" height="8.5" fill="url(#r5)"/>
<rect x="406.5" y="113.53" width="682" height="8.5" fill="url(#r6)"/>
<rect x="406.5" y="121.53" width="682" height="8.5" fill="url(#r7)"/>
<rect x="406.5" y="129.54" width="682" height="8.5" fill="url(#r8)"/>
<rect x="406.5" y="137.54" width="682" height="8.5" fill="url(#r9)"/>
<rect x="406.5" y="145.54" width="682" height="8.5" fill="url(#r10)"/>
<rect x="406.5" y="153.55" width="682" height="8.5" fill="url(#r11)"/>
<rect x="406.5" y="161.55" width="682" height="8.5" fill="url(#r12)"/>
<rect x="406.5" y="169.56" width="682" height="8.5" fill="url(#r13)"/>
<rect x="406.5" y="177.56" width="682" height="8.5" fill="url(#r14)"/>
<rect x="406.5" y="185.57" width="682" height="8.5" fill="url(#r15)"/>
<rect x="406.5" y="193.57" width="682" height="8.5" fill="url(#r16)"/>
<rect x="406.5" y="201.58" width="682" height="8.5" fill="url(#r17)"/>
<rect x="406.5" y="209.58" width="682" height="8.5" fill="url(#r18)"/>
<rect x="406.5" y="217.58" width="682" height="8.5" fill="url(#r19)"/>
<rect x="406.5" y="225.59" width="682" height="8.5" fill="url(#r20)"/>
<rect x="406.5" y="233.59" width="682" height="8.5" fill="url(#r21)"/>
<rect x="406.5" y="241.6" width="682" height="8.5" fill="url(#r22)"/>
<rect x="406.5" y="249.6" width="682" height="8.5" fill="url(#r23)"/>
<rect x="406.5" y="257.61" width="682" height="8.5" fill="url(#r24)"/>
<rect x="406.5" y="265.61" width="682" height="8.5" fill="url(#r25)"/>
<rect x="406.5" y="273.62" width="682" height="8.5" fill="url(#r26)"/>
<rect x="406.5" y="281.62" width="682" height="8.5" fill="url(#r27)"/>
<rect x="406.5" y="289.62" width="682" height="8.5" fill="url(#r28)"/>
<rect x="406.5" y="297.63" width="682" height="8.5" fill="url(#r29)"/>
<rect x="406.5" y="305.63" width="682" height="8.5" fill="url(#r30)"/>
<rect x="406.5" y="313.64" width="682" height="8.5" fill="url(#r31)"/>
<rect x="406.5" y="321.64" width="682" height="8.5" fill="url(#r32)"/>
<rect x="406.5" y="329.65" width="682" height="8.5" fill="url(#r33)"/>
<rect x="406.5" y="337.65" width="682" height="8.5" fill="url(#r34)"/>
<rect x="406.5" y="345.65" width="682" height="8.5" fill="url(#r35)"/>
<rect x="406.5" y="353.66" width="682" height="8.5" fill="url(#r36)"/>
<rect x="406.5" y="361.66" width="682" height="8.5" fill="url(#r37)"/>
<rect x="406.5" y="369.67" width="682" height="8.5" fill="url(#r38)"/>
<rect x="406.5" y="377.67" width="682" height="8.5" fill="url(#r39)"/>
<rect x="406.5" y="385.68" width="682" height="8.5" fill="url(#r40)"/>
<rect x="406.5" y="393.68" width="682" height="8.5" fill="url(#r41)"/>
<rect x="406.5" y="401.69" width="682" height="8.5" fill="url(#r42)"/>
<rect x="406.5" y="409.69" width="682" height="8.5" fill="url(#r43)"/>
<rect x="406.5" y="417.69" width="682" height="8.5" fill="url(#r44)"/>
<rect x="406.5" y="425.7" width="682" height="8.5" fill="url(#r45)"/>
<rect x="406.5" y="433.7" width="682" height="8.5" fill="url(#r46)"/>
<rect x="406.5" y="441.71" width="682" height="8.5" fill="url(#r47)"/>
<rect x="406.5" y="449.71" width="682" height="8.5" fill="url(#r48)"/>
<rect x="406.5" y="457.72" width="682" height="8.5" fill="url(#r49)"/>
<rect x="406.5" y="465.72" width="682" height="8.5" fill="url(#r50)"/>
<rect x="406.5" y="473.73" width="682" height="8.5" fill="url(#r51)"/>
<rect x="406.5" y="481.73" width="682" height="8.5" fill="url(#r52)"/>
<rect x="406.5" y="489.73" width="682" height="8.5" fill="url(#r53)"/>
<rect x="406.5" y="497.74" width="682" height="8.5" fill="url(#r54)"/>
<rect x="406.5" y="505.74" width="682" height="8.5" fill="url(#r55)"/>
<rect x="406.5" y="513.75" width="682" height="8.5" fill="url(#r56)"/>
<rect x="406.5" y="521.75" width="682" height="8.5" fill="url(#r57)"/>
<rect x="406.5" y="529.76" width="682" height="8.5" fill="url(#r58)"/>
<rect x="406.5" y="537.76" width="682" height="8.5" fill="url(#r59)"/>
<rect x="406.5" y="545.77" width="682" height="8.5" fill="url(#r60)"/>
<rect x="406.5" y="553.77" width="682" height="8.5" fill="url(#r61)"/>
<rect x="406.5" y="561.77" width="682" height="8.5" fill="url(#r62)"/>
<rect x="406.5" y="569.78" width="682" height="8.5" fill="url(#r63)"/>
<rect x="406.5" y="577.78" width="682" height="8.5" fill="url(#r64)"/>
<rect x="406.5" y="585.79" width="682" height="8.5" fill="url(#r65)"/>
<rect x="406.5" y="593.79" width="682" height="8.5" fill="url(#r66)"/>
<rect x="406.5" y="601.8" width="682" height="8.5" fill="url(#r67)"/>
<rect x="406.5" y="609.8" width="682" height="8.5" fill="url(#r68)"/>
<rect x="406.5" y="617.81" width="682" height="8.5" fill="url(#r69)"/>
<rect x="406.5" y="625.81" width="682" height="8.5" fill="url(#r70)"/>
<rect x="406.5" y="633.81" width="682" height="8.5" fill="url(#r71)"/>
<rect x="406.5" y="641.82" width="682" height="8.5" fill="url(#r72)"/>
<rect x="406.5" y="649.82" width="682" height="8.5" fill="url(#r73)"/>
<rect x="406.5" y="657.83" width="682" height="8.5" fill="url(#r74)"/>
<rect x="406.5" y="665.83" width="682" height="8.5" fill="url(#r75)"/>
<rect x="406.5" y="673.84" width="682" height="8.5" fill="url(#r76)"/>
<rect x="406.5" y="681.84" width="682" height="8.5" fill="url(#r77)"/>
<rect x="406.5" y="689.85" width="682" height="8.5" fill="url(#r78)"/>
<rect x="406.5" y="697.85" width="682" height="8.5" fill="url(#r79)"/>
<rect x="406.5" y="705.85" width="682" height="8.5" fill="url(#r80)"/>
<rect x="406.5" y="713.86" width="682" height="8.5" fill="url(#r81)"/>
<rect x="406.5" y="721.86" width="682" height="8.5" fill="url(#r82)"/>
<rect x="406.5" y="729.87" width="682" height="8.5" fill="url(#r83)"/>
<rect x="406.5" y="737.87" width="682" height="8.5" fill="url(#r84)"/>
<rect x="406.5" y="745.88" width="682" height="8.5" fill="url(#r85)"/>
<rect x="406.5" y="753.88" width="682" height="8.5" fill="url(#r86)"/>
<rect x="406.5" y="761.88" width="682" height="8.5" fill="url(#r87)"/>
<rect x="406.5" y="769.89" width="682" height="8.5" fill="url(#r88)"/>
<rect x="406.5" y="777.89" width="682" height="8.5" fill="url(#r89)"/>
<rect x="406.5" y="785.9" width="682" height="8.5" fill="url(#r90)"/>
<rect x="406.5" y="793.9" width="682" height="8.5" fill="url(#r91)"/>
<rect x="406.5" y="801.91" width="682" height="8.5" fill="url(#r92)"/>
<rect x="406.5" y="809.91" width="682" height="8.5" fill="url(#r93)"/>
<rect x="406.5" y="817.92" width="682" height="8.5" fill="url(#r94)"/>
<rect x="406.5" y="825.92" width="682" height="8.5" fill="url(#r95)"/>
<rect x="406.5" y="833.92" width="682" height="8.5" fill="url(#r96)"/>
<rect x="406.5" y="841.93" width="682" height="8.5" fill="url(#r97)"/>
<rect x="406.5" y="849.93" width="682" height="8.5" fill="url(#r98)"/>
<rect x="406.5" y="857.94" width="682" height="8.5" fill="url(#r99)"/>
<rect x="406.5" y="865.94" width="682" height="8.5" fill="url(#r100)"/>
<rect x="406.5" y="873.95" width="682" height="8.5" fill="url(#r101)"/>
<rect x="406.5" y="881.95" width="682" height="8.5" fill="url(#r102)"/>
<rect x="406.5" y="889.96" width="682" height="8.5" fill="url(#r103)"/>
<rect x="406.5" y="897.96" width="682" height="8.5" fill="url(#r104)"/>
<rect x="406.5" y="905.96" width="682" height="8.5" fill="url(#r105)"/>
<rect x="406.5" y="913.97" width="682" height="8.5" fill="url(#r106)"/>
<rect x="406.5" y="921.97" width="682" height="8.5" fill="url(#r107)"/>
<rect x="406.5" y="929.98" width="682" height="8.5" fill="url(#r108)"/>
<rect x="406.5" y="937.98" width="682" height="8.5" fill="url(#r109)"/>
<rect x="406.5" y="945.99" width="682" height="8.5" fill="url(#r110)"/>
<rect x="406.5" y="953.99" width="682" height="8.5" fill="url(#r111)"/>
<rect x="406.5" y="962" width="682" height="8.5" fill="url(#r112)"/>
</g>
<path d="M406.5,955.9 413.3,943.2 418.4,933.8 423.5,924.6 430.4,912.4 436.3,902.2 441.5,893.1 447.4,883.2 454.2,871.9 460.7,861.5 466.4,852.4 472.2,843.4 478.1,834.3 484.9,824.2 491.8,814.4 498.6,804.8 505.4,795.5 512.2,786.5 519,777.8 525.9,769.4 532.7,761.2 539.9,752.9 548.2,743.9 556.5,735.3 563.4,728.6 571.3,721.3 580.4,713.3 587.4,707.7 597.5,700.2 606.6,694.1 614.5,689.4 624.7,684 635,679.5 645.2,675.8 658.8,672.3 669.1,670.7 682.7,670.1 696.4,671.2 706.6,673.1 716.9,676 728.4,680.6 737.7,685.1 747.5,690.8 757.7,697.8 764.8,703.2 774.8,711.7 781.6,718.1 789.2,725.8 797.4,734.8 805.2,743.9 812.3,752.8 819.1,761.8 825.7,771 831.9,780.1 837.9,789.1 843.6,798.1 849.8,808.3 856.6,819.9 862.2,829.8 867.2,838.8 873.7,851.1 879,861.5 883.9,871.2 890.2,884.1 894.5,893.1 900.8,906.7 904.8,915.7 910.8,929.3 914.8,938.3 920.5,951.9 924.8,962.3 928,970" fill="none" stroke="#000" stroke-opacity=".8" stroke-width="1.45"/>
<path d="M406.5,641.4 411.3,630.8 416.7,619 421.8,608.2 427,597.2 432.5,585.6 437.2,575.8 443.5,563 447.9,553.9 454.2,541.4 459.4,531.3 464.5,521.4 471.2,508.7 476,499.7 481.5,489.5 488.3,477.1 493.5,468 498.7,459 505.4,447.5 512.1,436.3 517.7,427.3 523.4,418.3 529.3,409.1 536.1,398.8 542.9,388.8 549.7,379.2 556.5,369.9 563.4,360.9 570.2,352.3 577,344 583.8,336.1 591.4,327.8 600.1,318.8 607.7,311.4 614.5,305.2 624.7,296.7 631.6,291.5 641.8,284.6 652,278.6 662.2,273.6 672.5,269.7 682.7,266.8 696.4,264.6 706.6,264.3 716.8,265.1 730.5,267.9 740.7,271.4 750.9,276 761.1,281.9 768.7,287.1 778.2,294.5 785.3,300.7 794.5,309.7 802.1,317.8 808.9,325.7 815.7,334.2 822.5,343.3 829.3,352.9 836.2,363.1 842.4,373 847.9,382.1 853.2,391.1 860,403.3 865.6,413.7 870.4,422.8 877.1,436.2 881.6,445.4 887.3,457.6 892.1,468 897.5,480.2 902,490.6 907.8,504.1 911.5,513.2 917,526.8 921.4,537.9 925.9,549.4 931,563 935,573.7 939.4,585.6 944.3,599.2 948.7,611.7 952.2,621.8 956.8,635.3 961.4,648.9 965.7,662.1 969.2,672.5 973.2,685.1 977.5,698.6 981.8,712.2 986,725.8 989.6,737.7 993,749 996.9,762 1000.9,775.5 1004.9,789.1 1008.8,802.7 1012.6,816.2 1016.5,829.8 1020.3,843.4 1023.7,855.8 1027.1,868.2 1030.5,880.7 1033.9,893.4 1037.5,906.7 1041.1,920.3 1044.7,933.8 1048.2,947.4 1051.7,961 1054,970" fill="none" stroke="#000" stroke-opacity=".8" stroke-width="1.45"/>
<path d="M406.5,292.7 410.3,282.6 415.5,269 420.1,256.9 424.2,246.4 429.4,232.8 433.8,221.7 438.3,210.2 443.7,196.7 447.4,187.4 452.8,174 457.6,162.2 462.1,151.4 467.7,137.9 471.5,128.8 477.3,115.2 481.5,105.3 487,92.6 491.8,81.8 497,70 499,65.5" fill="none" stroke="#000" stroke-opacity=".8" stroke-width="1.45"/>
<path d="M933.5,65.5 938,79.1 941.9,91.1 945.3,101.9 949.5,115.2 953.6,128.8 957.7,142.4 961.8,156 965.7,169.5 969.2,181.3 972.6,193.3 976.1,205.7 979.8,219.3 983.6,232.8 987.2,246.4 990.9,260 994.5,273.5 998.1,287.1 1001.6,300.7 1005.1,314.2 1008.5,327.8 1011.9,341.4 1015.3,354.9 1018.7,368.5 1022,382.1 1025.3,395.6 1028.6,409.2 1031.8,422.8 1035.1,436.3 1038.3,449.9 1041.4,463.5 1044.6,477 1047.7,490.6 1051,504.8 1054.4,519.8 1057.8,534.9 1061.1,549.4 1064.1,563 1067.1,576.5 1070.1,590.1 1073.1,603.7 1076,617.2 1079,630.8 1081.9,644.4 1085.1,659.3 1088.5,675.3" fill="none" stroke="#000" stroke-opacity=".8" stroke-width="1.45"/>
<path d="M1076.5,65.5 1078.9,79.1 1081.7,94.8 1084.5,110.7 1086.9,124.3 1088.5,133.7" fill="none" stroke="#000" stroke-opacity=".8" stroke-width="1.45"/>
<rect x="406.5" y="65.5" width="682" height="904.5" fill="none" stroke="#2b2b2b" stroke-width="1.7"/>
<path d="M406.5 971V994" stroke="#333" stroke-width="1.8"/>
<path d="M405.5 970H388" stroke="#333" stroke-width="1.8"/>
<text transform="translate(400.22 1030.5) scale(.8 1)" class="s" font-size="28.99" fill="#2a2a34" stroke="#2a2a34" stroke-width=".35">1</text>
<path d="M542.9 971V994" stroke="#333" stroke-width="1.8"/>
<path d="M405.5 789.1H388" stroke="#333" stroke-width="1.8"/>
<text transform="translate(527.23 1030.5) scale(.8 1)" class="s" font-size="28.57" fill="#2a2a34" stroke="#2a2a34" stroke-width=".35">1.2</text>
<text transform="translate(348.34 796.9) scale(.8 1)" class="s" font-size="30" fill="#2a2a34" stroke="#2a2a34" stroke-width=".35">1.2</text>
<path d="M679.3 971V994" stroke="#333" stroke-width="1.8"/>
<path d="M405.5 608.2H388" stroke="#333" stroke-width="1.8"/>
<text transform="translate(663.16 1030.5) scale(.8 1)" class="s" font-size="28.99" fill="#2a2a34" stroke="#2a2a34" stroke-width=".35">1.4</text>
<text transform="translate(347.39 616) scale(.8 1)" class="s" font-size="30.43" fill="#2a2a34" stroke="#2a2a34" stroke-width=".35">1.4</text>
<path d="M815.7 971V994" stroke="#333" stroke-width="1.8"/>
<path d="M405.5 427.3H388" stroke="#333" stroke-width="1.8"/>
<text transform="translate(799.91 1030.5) scale(.8 1)" class="s" font-size="28.57" fill="#2a2a34" stroke="#2a2a34" stroke-width=".35">1.6</text>
<text transform="translate(348.1 435.1) scale(.8 1)" class="s" font-size="30" fill="#2a2a34" stroke="#2a2a34" stroke-width=".35">1.6</text>
<path d="M952.1 971V994" stroke="#333" stroke-width="1.8"/>
<path d="M405.5 246.4H388" stroke="#333" stroke-width="1.8"/>
<text transform="translate(936.31 1030.5) scale(.8 1)" class="s" font-size="28.57" fill="#2a2a34" stroke="#2a2a34" stroke-width=".35">1.8</text>
<text transform="translate(348.1 254.2) scale(.8 1)" class="s" font-size="30" fill="#2a2a34" stroke="#2a2a34" stroke-width=".35">1.8</text>
<path d="M1088.5 971V994" stroke="#333" stroke-width="1.8"/>
<path d="M405.5 65.5H388" stroke="#333" stroke-width="1.8"/>
<text transform="translate(1082.66 1030.5) scale(.8 1)" class="s" font-size="28.57" fill="#2a2a34" stroke="#2a2a34" stroke-width=".35">2</text>
<text transform="translate(364.91 74.5) scale(.949 1)" class="s" font-size="33.57" fill="#2a2a34" stroke="#2a2a34" stroke-width=".35">2</text>
<text transform="translate(367.62 979) scale(.552 1)" class="s" font-size="33.33" fill="#2a2a34" stroke="#2a2a34" stroke-width=".35">1</text>
<text transform="translate(380.91 975.5) scale(.842 1)" class="s" font-size="37.86" fill="#2a2a34" stroke="#2a2a34" stroke-width=".35">2</text>
<text transform="translate(722.82 522.5) scale(.842 1)" class="s" font-size="35" fill="#1f3a1f" stroke="#1f3a1f" stroke-width=".35">3</text>
<text transform="translate(1062.85 522.5) scale(.942 1)" class="s" font-size="35" fill="#3a3010" stroke="#3a3010" stroke-width=".35">2</text>
<ellipse cx="406.5" cy="970" rx="6.5" ry="9.3" fill="#c80000" stroke="#5a0000" stroke-width="1.2"/>
<ellipse cx="747.5" cy="970" rx="6.5" ry="9.3" fill="#c80000" stroke="#5a0000" stroke-width="1.2"/>
<ellipse cx="1088.5" cy="970" rx="6.5" ry="9.3" fill="#c80000" stroke="#5a0000" stroke-width="1.2"/>
<ellipse cx="406.5" cy="517.8" rx="6.5" ry="9.3" fill="#c80000" stroke="#5a0000" stroke-width="1.2"/>
<ellipse cx="747.5" cy="517.8" rx="6.5" ry="9.3" fill="#c80000" stroke="#5a0000" stroke-width="1.2"/>
<ellipse cx="1088.5" cy="517.8" rx="6.5" ry="9.3" fill="#c80000" stroke="#5a0000" stroke-width="1.2"/>
<ellipse cx="406.5" cy="64" rx="6.5" ry="9.3" fill="#c80000" stroke="#5a0000" stroke-width="1.2"/>
<ellipse cx="747.5" cy="64" rx="6.5" ry="9.3" fill="#c80000" stroke="#5a0000" stroke-width="1.2"/>
<ellipse cx="1088.5" cy="64" rx="6.5" ry="9.3" fill="#c80000" stroke="#5a0000" stroke-width="1.2"/>
<rect x="443" y="143.1" width="21" height="33" fill="#fff" stroke="#222" stroke-width="1.6"/>
<text transform="translate(446.76 169.6) scale(.85 1)" class="s" font-size="28.57" fill="#444" stroke="#444" stroke-width=".35">9</text>
<rect x="786.3" y="278.9" width="21" height="33" fill="#fff" stroke="#222" stroke-width="1.6"/>
<text transform="translate(790 305.4) scale(.85 1)" class="s" font-size="28.57" fill="#444" stroke="#444" stroke-width=".35">8</text>
<rect x="1005.9" y="324.7" width="21" height="33" fill="#fff" stroke="#222" stroke-width="1.6"/>
<text transform="translate(1009.66 351.2) scale(.85 1)" class="s" font-size="28.57" fill="#444" stroke="#444" stroke-width=".35">9</text>
<rect x="669.2" y="634.7" width="21" height="33" fill="#fff" stroke="#222" stroke-width="1.6"/>
<text transform="translate(672.86 661.2) scale(.85 1)" class="s" font-size="28.99" fill="#444" stroke="#444" stroke-width=".35">7</text>
<text transform="translate(620.23 45.4) scale(.84 1)" class="s" font-size="40.97" fill="#1c1c24" stroke="#1c1c24" stroke-width=".7">Weight Loss (%)</text>
<g clip-path="url(#cl)">
<text transform="translate(669.5 1153.1) scale(.775 1)" class="s" font-size="38.21" fill="#1c1c24" stroke="#1c1c24" stroke-width=".7">A: TiO2 (%)</text>
</g>
<text transform="translate(290.3 656.13) rotate(-90) scale(1.243 1)" class="s" font-size="31.45" fill="#1c1c24" stroke="#1c1c24" stroke-width=".7">B: PVA Fiber (%)</text>
<text transform="translate(707.7 1216.6) scale(1.065 1)" class="b" font-size="47.99" fill="#111">(a)</text>
<path d="M1251.2 675.5L1641.3 473.5" stroke="#262626" stroke-width="1.5" fill="none"/>
<path d="M1641.3 473.5L1972.9 719.9" stroke="#262626" stroke-width="1.5" fill="none"/>
<path d="M1245.9 586.2L1641 389.8" stroke="#262626" stroke-width="1.5" fill="none"/>
<path d="M1641 389.8L1978.6 629.6" stroke="#262626" stroke-width="1.5" fill="none"/>
<path d="M1240.7 496.9L1640.7 306.1" stroke="#262626" stroke-width="1.5" fill="none"/>
<path d="M1640.7 306.1L1984.3 539.2" stroke="#262626" stroke-width="1.5" fill="none"/>
<path d="M1235.4 407.6L1640.3 222.5" stroke="#262626" stroke-width="1.5" fill="none"/>
<path d="M1640.3 222.5L1990 448.9" stroke="#262626" stroke-width="1.5" fill="none"/>
<path d="M1230.2 318.3L1640 138.8" stroke="#262626" stroke-width="1.5" fill="none"/>
<path d="M1640 138.8L1995.7 358.5" stroke="#262626" stroke-width="1.5" fill="none"/>
<path d="M1224.9 229L1639.7 55.1" stroke="#262626" stroke-width="1.5" fill="none"/>
<path d="M1639.7 55.1L2001.4 268.2" stroke="#262626" stroke-width="1.5" fill="none"/>
<path d="M1307.9 194.2L1329.2 635.1" stroke="#262626" stroke-width="1.5" fill="none"/>
<path d="M1712 97.7L1707.6 522.8" stroke="#262626" stroke-width="1.5" fill="none"/>
<path d="M1390.8 159.4L1407.3 594.7" stroke="#262626" stroke-width="1.5" fill="none"/>
<path d="M1784.4 140.3L1774 572" stroke="#262626" stroke-width="1.5" fill="none"/>
<path d="M1473.8 124.7L1485.3 554.3" stroke="#262626" stroke-width="1.5" fill="none"/>
<path d="M1856.7 183L1840.3 621.3" stroke="#262626" stroke-width="1.5" fill="none"/>
<path d="M1556.7 89.9L1563.3 513.9" stroke="#262626" stroke-width="1.5" fill="none"/>
<path d="M1929.1 225.6L1906.6 670.6" stroke="#262626" stroke-width="1.5" fill="none"/>
<path d="M1224.9 229L1259.1 809.5" stroke="#262626" stroke-width="1.5" fill="none"/>
<path d="M1639.7 55.1L1641.8 599" stroke="#262626" stroke-width="1.5" fill="none"/>
<path d="M2001.4 268.2L1964.4 855.4" stroke="#262626" stroke-width="1.5" fill="none"/>
<circle cx="1251.2" cy="675.5" r="2.2" fill="#111"/>
<text transform="translate(1220.58 669.04) scale(.8 1)" class="s" font-size="34.29" fill="#2a2a34" stroke="#2a2a34" stroke-width=".35">6</text>
<circle cx="1245.9" cy="586.2" r="2.2" fill="#111"/>
<text transform="translate(1215.39 579.73) scale(.8 1)" class="s" font-size="34.78" fill="#2a2a34" stroke="#2a2a34" stroke-width=".35">7</text>
<circle cx="1240.7" cy="496.9" r="2.2" fill="#111"/>
<text transform="translate(1210.06 490.42) scale(.8 1)" class="s" font-size="34.29" fill="#2a2a34" stroke="#2a2a34" stroke-width=".35">8</text>
<circle cx="1235.4" cy="407.6" r="2.2" fill="#111"/>
<text transform="translate(1204.93 401.12) scale(.8 1)" class="s" font-size="34.29" fill="#2a2a34" stroke="#2a2a34" stroke-width=".35">9</text>
<circle cx="1230.2" cy="318.3" r="2.2" fill="#111"/>
<text transform="translate(1184.18 311.81) scale(.8 1)" class="s" font-size="34.29" fill="#2a2a34" stroke="#2a2a34" stroke-width=".35">10</text>
<circle cx="1224.9" cy="229" r="2.2" fill="#111"/>
<text transform="translate(1180.85 222.5) scale(.8 1)" class="s" font-size="34.78" fill="#2a2a34" stroke="#2a2a34" stroke-width=".35">11</text>
<path d="M1259.1 809.5L1574.8 1123.4L1964.4 855.4L1641.8 599Z" fill="#ff0" stroke="#111" stroke-width="2" stroke-linejoin="round"/>
<path d="M1568.4,1117.8 1567.9,1109.9 1567.5,1104.1 1567.1,1098.4 1566.8,1090.8 1566.5,1084.4 1566.4,1078.7 1566.2,1072.5 1566.2,1065.4 1566.2,1058.8 1566.4,1053.1 1566.5,1047.3 1566.8,1041.6 1567.2,1035.1 1567.7,1028.7 1568.3,1022.4 1569,1016.3 1569.8,1010.4 1570.7,1004.5 1571.7,998.8 1572.8,993.2 1574.1,987.4 1575.8,981 1577.6,974.7 1579.3,969.7 1581.3,964.1 1583.8,957.9 1585.9,953.2 1589.2,946.8 1592.4,941.3 1595.3,936.7 1599.3,931 1603.7,925.6 1608.3,920.6 1615,914.3 1620.4,910 1628.1,904.8 1636.3,900.1 1642.9,897 1649.9,894.2 1658.2,891.5 1665.1,889.6 1672.8,887.9 1681.2,886.5 1687.2,885.7 1696,884.8 1702.2,884.4 1709.3,884.2 1717.4,884.1 1725.1,884.3 1732.4,884.6 1739.6,885 1746.8,885.6 1753.7,886.3 1760.4,887.1 1767,888 1774.3,889 1782.5,890.4 1789.4,891.6 1795.7,892.7 1804,894.4 1810.9,895.8 1817.4,897.2 1825.9,899.2 1831.8,900.6 1840.5,902.7 1846.3,904.2 1854.9,906.5 1860.7,908 1869.2,910.4 1875.7,912.2 1880.5,913.6" fill="none" stroke="#50ffc0" stroke-width="1.9"/>
<path d="M1451.1,1000.6 1450.4,994.9 1449.6,988.6 1448.9,982.8 1448.2,976.9 1447.6,970.7 1447.1,965.5 1446.5,958.6 1446.1,953.8 1445.6,947.1 1445.2,941.7 1444.9,936.4 1444.6,929.6 1444.4,924.7 1444.3,919.2 1444.2,912.6 1444.2,907.6 1444.2,902.7 1444.4,896.5 1444.6,890.4 1444.9,885.4 1445.2,880.4 1445.7,875.3 1446.3,869.6 1447,863.9 1447.8,858.4 1448.7,853 1449.7,847.8 1450.9,842.7 1452.1,837.7 1453.5,832.9 1455.1,827.7 1457.2,821.9 1459.2,817 1461.1,812.7 1464.2,806.7 1466.5,802.8 1470.1,797.2 1474,792 1478.2,787 1482.7,782.5 1487.6,778.2 1494.6,773 1500.3,769.6 1506.3,766.4 1515,762.8 1521.9,760.5 1529.1,758.5 1536.8,756.9 1542.8,756 1550.5,755 1556.5,754.6 1564.6,754.2 1571.5,754.1 1577.9,754.2 1584.6,754.5 1591.4,754.9 1598.4,755.5 1605.6,756.3 1612.5,757.1 1618.6,758 1624.6,758.9 1632.5,760.3 1639.1,761.5 1644.8,762.6 1653.1,764.3 1658.8,765.6 1666.2,767.3 1672.4,768.8 1679.7,770.6 1685.8,772.2 1693.6,774.3 1698.9,775.8 1706.7,778 1713,779.9 1719.6,781.8 1727.2,784.2 1733.3,786.1 1739.9,788.2 1747.4,790.6 1754.4,792.9 1759.9,794.8 1767.4,797.3 1774.8,799.9 1782,802.4 1787.7,804.4 1794.5,806.9 1801.9,809.6 1809.2,812.3 1816.6,815 1823,817.4 1829.1,819.7 1836.1,822.4 1843.3,825.2 1850.6,828.1 1857.9,830.9 1865.2,833.8 1872.4,836.7 1879.7,839.6 1886.3,842.3 1893,845 1899.7,847.8 1906.4,850.6 1913.6,853.5 1920.8,856.6 1928.1,859.6 1935.3,862.7 1942.6,865.8 1947.5,867.8" fill="none" stroke="#50f000" stroke-width="1.9"/>
<path d="M1332.3,881.9 1331.4,877.2 1330.2,871 1329.1,865.4 1328.2,860.6 1327.1,854.4 1326.2,849.4 1325.3,844.2 1324.2,838 1323.5,833.8 1322.6,827.8 1321.7,822.5 1321,817.6 1320.1,811.5 1319.6,807.4 1318.8,801.4 1318.2,796.9 1317.6,791.2 1317,786.4 1316.5,781.1 1316.3,779.1" fill="none" stroke="#ffff00" stroke-width="1.9"/>
<path d="M1559.4,643.3 1566.1,645.6 1572,647.7 1577.3,649.5 1583.8,651.8 1590.4,654.2 1597,656.7 1603.5,659.1 1610.1,661.6 1615.7,663.7 1621.5,665.9 1627.4,668.2 1633.9,670.8 1640.4,673.3 1646.8,675.9 1653.3,678.5 1659.7,681.1 1666.2,683.8 1672.6,686.4 1679.1,689.1 1685.5,691.8 1691.9,694.5 1698.3,697.2 1704.8,699.9 1711.2,702.7 1717.6,705.5 1724.1,708.2 1730.5,711 1736.9,713.8 1743.4,716.7 1749.8,719.5 1756.2,722.4 1762.7,725.2 1769.4,728.2 1776.6,731.4 1783.8,734.7 1790.7,737.8 1797.2,740.7 1803.6,743.7 1810.1,746.7 1816.6,749.6 1823.1,752.6 1829.7,755.6 1836.2,758.6 1843.4,762 1851.1,765.5" fill="none" stroke="#ffff00" stroke-width="1.9"/>
<circle cx="1574.8" cy="1123.4" r="2.4" fill="#111"/>
<text transform="translate(1546.36 1155.95) scale(.77 1)" class="s" font-size="35.51" fill="#2a2a34" stroke="#2a2a34" stroke-width=".35">1</text>
<circle cx="1574.8" cy="1123.4" r="2.4" fill="#111"/>
<text transform="translate(1589.25 1155.95) scale(.77 1)" class="s" font-size="35.51" fill="#2a2a34" stroke="#2a2a34" stroke-width=".35">1</text>
<circle cx="1511.7" cy="1060.6" r="2.4" fill="#111"/>
<text transform="translate(1461.05 1093.17) scale(.77 1)" class="s" font-size="35" fill="#2a2a34" stroke="#2a2a34" stroke-width=".35">1.2</text>
<circle cx="1652.7" cy="1069.8" r="2.4" fill="#111"/>
<text transform="translate(1667.2 1102.35) scale(.77 1)" class="s" font-size="35" fill="#2a2a34" stroke="#2a2a34" stroke-width=".35">1.2</text>
<circle cx="1448.5" cy="997.8" r="2.4" fill="#111"/>
<text transform="translate(1396.84 1030.39) scale(.77 1)" class="s" font-size="35.51" fill="#2a2a34" stroke="#2a2a34" stroke-width=".35">1.4</text>
<circle cx="1730.6" cy="1016.2" r="2.4" fill="#111"/>
<text transform="translate(1745.09 1048.75) scale(.77 1)" class="s" font-size="35.51" fill="#2a2a34" stroke="#2a2a34" stroke-width=".35">1.4</text>
<circle cx="1385.4" cy="935.1" r="2.4" fill="#111"/>
<text transform="translate(1334.5 967.61) scale(.77 1)" class="s" font-size="35" fill="#2a2a34" stroke="#2a2a34" stroke-width=".35">1.6</text>
<circle cx="1808.6" cy="962.6" r="2.4" fill="#111"/>
<text transform="translate(1823.04 995.15) scale(.77 1)" class="s" font-size="35" fill="#2a2a34" stroke="#2a2a34" stroke-width=".35">1.6</text>
<circle cx="1322.2" cy="872.3" r="2.4" fill="#111"/>
<text transform="translate(1271.36 904.83) scale(.77 1)" class="s" font-size="35" fill="#2a2a34" stroke="#2a2a34" stroke-width=".35">1.8</text>
<circle cx="1886.5" cy="909" r="2.4" fill="#111"/>
<text transform="translate(1900.96 941.55) scale(.77 1)" class="s" font-size="35" fill="#2a2a34" stroke="#2a2a34" stroke-width=".35">1.8</text>
<circle cx="1259.1" cy="809.5" r="2.4" fill="#111"/>
<text transform="translate(1230.99 842.05) scale(.77 1)" class="s" font-size="35" fill="#2a2a34" stroke="#2a2a34" stroke-width=".35">2</text>
<circle cx="1964.4" cy="855.4" r="2.4" fill="#111"/>
<text transform="translate(1979.55 887.95) scale(.77 1)" class="s" font-size="35" fill="#2a2a34" stroke="#2a2a34" stroke-width=".35">2</text>
<path d="M1784.2 818V841" stroke="#555" stroke-width="1.2"/>
<ellipse cx="1784.2" cy="840.9" rx="7" ry="8.5" fill="#e88890" stroke="#7a3030" stroke-width="1.2"/>
<ellipse cx="1233.5" cy="378.4" rx="7" ry="9" fill="#e88890" stroke="#7a3030" stroke-width="1.2"/>
<ellipse cx="1806.9" cy="305.6" rx="7" ry="8" fill="#e88890" stroke="#7a3030" stroke-width="1.2"/>
<g shape-rendering="crispEdges" stroke-width=".7" stroke-linejoin="round">
<path d="M1639.7 153.6l7.5-13.8-6.3-6.3-7.5 13.7z" fill="#ff8989" stroke="#ff8989"/>
<path d="M1632.2 167l7.5-13.4-6.3-6.4-7.5 13.3z" fill="#ff9388" stroke="#ff9388"/>
<path d="M1646 160l7.5-13.8-6.3-6.4-7.5 13.8z" fill="#ff8989" stroke="#ff8989"/>
<path d="M1624.7 180l7.5-13-6.3-6.5-7.4 13z" fill="#ff9f87" stroke="#ff9f87"/>
<path d="M1638.5 173.5l7.5-13.5-6.3-6.4-7.5 13.4z" fill="#ff9688" stroke="#ff9688"/>
<path d="M1652.3 166.5l7.5-13.8-6.3-6.5-7.5 13.8z" fill="#ff8c89" stroke="#ff8c89"/>
<path d="M1617.2 192.6l7.5-12.6-6.2-6.5-7.5 12.6z" fill="#ffac86" stroke="#ffac86"/>
<path d="M1631 186.5l7.5-13-6.3-6.5-7.5 13z" fill="#ffa387" stroke="#ffa387"/>
<path d="M1644.8 180l7.5-13.5-6.3-6.5-7.5 13.5z" fill="#ff9a89" stroke="#ff9a89"/>
<path d="M1658.7 173.1l7.5-14-6.4-6.4-7.5 13.8z" fill="#ff908a" stroke="#ff908a"/>
<path d="M1609.7 204.9l7.5-12.3-6.2-6.5-7.5 12.1z" fill="#ffb784" stroke="#ffb784"/>
<path d="M1623.5 199.2l7.5-12.7-6.3-6.5-7.5 12.6z" fill="#ffaf86" stroke="#ffaf86"/>
<path d="M1637.3 193.2l7.5-13.2-6.3-6.5-7.5 13z" fill="#ffa687" stroke="#ffa687"/>
<path d="M1651.2 186.6l7.5-13.5-6.4-6.6-7.5 13.5z" fill="#ff9d89" stroke="#ff9d89"/>
<path d="M1665.1 179.7l7.5-14-6.4-6.6-7.5 14z" fill="#ff938a" stroke="#ff938a"/>
<path d="M1602.2 216.8l7.5-11.9-6.2-6.7-7.5 11.9z" fill="#fec383" stroke="#fec383"/>
<path d="M1616 211.5l7.5-12.3-6.3-6.6-7.5 12.3z" fill="#ffbb85" stroke="#ffbb85"/>
<path d="M1629.8 205.9l7.5-12.7-6.3-6.7-7.5 12.7z" fill="#ffb386" stroke="#ffb386"/>
<path d="M1643.7 199.8l7.5-13.2-6.4-6.6-7.5 13.2z" fill="#fa8" stroke="#fa8"/>
<path d="M1657.5 193.3l7.6-13.6-6.4-6.6-7.5 13.5z" fill="#ffa189" stroke="#ffa189"/>
<path d="M1671.5 186.3l7.5-14-6.4-6.6-7.5 14z" fill="#ff978a" stroke="#ff978a"/>
<path d="M1594.7 228.3l7.5-11.5-6.2-6.7-7.5 11.4z" fill="#fece81" stroke="#fece81"/>
<path d="M1608.5 223.5l7.5-12-6.3-6.6-7.5 11.9z" fill="#fec683" stroke="#fec683"/>
<path d="M1622.3 218.3l7.5-12.4-6.3-6.7-7.5 12.3z" fill="#ffbf85" stroke="#ffbf85"/>
<path d="M1636.1 212.6l7.6-12.8-6.4-6.6-7.5 12.7z" fill="#ffb686" stroke="#ffb686"/>
<path d="M1650 206.5l7.5-13.2-6.3-6.7-7.5 13.2z" fill="#ffae88" stroke="#ffae88"/>
<path d="M1663.9 200l7.6-13.7-6.4-6.6-7.6 13.6z" fill="#ffa489" stroke="#ffa489"/>
<path d="M1677.9 193l7.6-14.1-6.5-6.6-7.5 14z" fill="#ff9a8a" stroke="#ff9a8a"/>
<path d="M1587.2 239.4l7.5-11.1-6.2-6.8-7.5 11.1z" fill="#fed87f" stroke="#fed87f"/>
<path d="M1601 235l7.5-11.5-6.3-6.7-7.5 11.5z" fill="#fed281" stroke="#fed281"/>
<path d="M1614.8 230.3l7.5-12-6.3-6.8-7.5 12z" fill="#feca83" stroke="#feca83"/>
<path d="M1628.6 225l7.5-12.4-6.3-6.7-7.5 12.4z" fill="#ffc285" stroke="#ffc285"/>
<path d="M1642.5 219.4l7.5-12.9-6.3-6.7-7.6 12.8z" fill="#ffba86" stroke="#ffba86"/>
<path d="M1656.4 213.3l7.5-13.3-6.4-6.7-7.5 13.2z" fill="#ffb188" stroke="#ffb188"/>
<path d="M1670.4 206.8l7.5-13.8-6.4-6.7-7.6 13.7z" fill="#ffa889" stroke="#ffa889"/>
<path d="M1684.4 199.8l7.5-14.2-6.4-6.7-7.6 14.1z" fill="#ff9e8a" stroke="#ff9e8a"/>
<path d="M1579.6 250.2l7.6-10.8-6.2-6.8-7.6 10.7z" fill="#fee37c" stroke="#fee37c"/>
<path d="M1690.8 206.6l7.6-14.3-6.5-6.7-7.5 14.2z" fill="#ffa28a" stroke="#ffa28a"/>
<path d="M1593.4 246.2l7.6-11.2-6.3-6.7-7.5 11.1z" fill="#fedc7f" stroke="#fedc7f"/>
<path d="M1607.2 241.9l7.6-11.6-6.3-6.8-7.5 11.5z" fill="#fed581" stroke="#fed581"/>
<path d="M1621.1 237.1l7.5-12.1-6.3-6.7-7.5 12z" fill="#fece83" stroke="#fece83"/>
<path d="M1634.9 231.9l7.6-12.5-6.4-6.8-7.5 12.4z" fill="#ffc685" stroke="#ffc685"/>
<path d="M1648.9 226.2l7.5-12.9-6.4-6.8-7.5 12.9z" fill="#ffbe87" stroke="#ffbe87"/>
<path d="M1662.8 220.1l7.6-13.3-6.5-6.8-7.5 13.3z" fill="#ffb588" stroke="#ffb588"/>
<path d="M1676.8 213.6l7.6-13.8-6.5-6.8-7.5 13.8z" fill="#ffac89" stroke="#ffac89"/>
<path d="M1572.1 260.6l7.5-10.4-6.2-6.9-7.5 10.4z" fill="#feed79" stroke="#feed79"/>
<path d="M1585.9 257.1l7.5-10.9-6.2-6.8-7.6 10.8z" fill="#fee77c" stroke="#fee77c"/>
<path d="M1599.7 253.1l7.5-11.2-6.2-6.9-7.6 11.2z" fill="#fee07f" stroke="#fee07f"/>
<path d="M1613.5 248.8l7.6-11.7-6.3-6.8-7.6 11.6z" fill="#fed981" stroke="#fed981"/>
<path d="M1627.4 244l7.5-12.1-6.3-6.9-7.5 12.1z" fill="#fed283" stroke="#fed283"/>
<path d="M1641.3 238.7l7.6-12.5-6.4-6.8-7.6 12.5z" fill="#ffca85" stroke="#ffca85"/>
<path d="M1655.2 233.1l7.6-13-6.4-6.8-7.5 12.9z" fill="#ffc287" stroke="#ffc287"/>
<path d="M1669.2 227l7.6-13.4-6.4-6.8-7.6 13.3z" fill="#ffb988" stroke="#ffb988"/>
<path d="M1683.3 220.4l7.5-13.8-6.4-6.8-7.6 13.8z" fill="#ffaf89" stroke="#ffaf89"/>
<path d="M1697.3 213.4l7.6-14.3-6.5-6.8-7.6 14.3z" fill="#ffa58a" stroke="#ffa58a"/>
<path d="M1564.5 270.6l7.6-10-6.2-6.9-7.6 9.9z" fill="#fef776" stroke="#fef776"/>
<path d="M1578.3 267.5l7.6-10.4-6.3-6.9-7.5 10.4z" fill="#fef17a" stroke="#fef17a"/>
<path d="M1592.1 264l7.6-10.9-6.3-6.9-7.5 10.9z" fill="#feeb7d" stroke="#feeb7d"/>
<path d="M1675.7 233.9l7.6-13.5-6.5-6.8-7.6 13.4z" fill="#ffbc88" stroke="#ffbc88"/>
<path d="M1689.8 227.3l7.5-13.9-6.5-6.8-7.5 13.8z" fill="#ffb389" stroke="#ffb389"/>
<path d="M1703.9 220.3l7.6-14.3-6.6-6.9-7.6 14.3z" fill="#ffa98a" stroke="#ffa98a"/>
<path d="M1606 260.1l7.5-11.3-6.3-6.9-7.5 11.2z" fill="#fee47f" stroke="#fee47f"/>
<path d="M1619.8 255.7l7.6-11.7-6.3-6.9-7.6 11.7z" fill="#fedd81" stroke="#fedd81"/>
<path d="M1633.7 250.9l7.6-12.2-6.4-6.8-7.5 12.1z" fill="#fed684" stroke="#fed684"/>
<path d="M1647.7 245.7l7.5-12.6-6.3-6.9-7.6 12.5z" fill="#ffce85" stroke="#ffce85"/>
<path d="M1661.7 240l7.5-13-6.4-6.9-7.6 13z" fill="#ffc587" stroke="#ffc587"/>
<path d="M1556.9 280.3l7.6-9.7-6.2-7-7.6 9.7z" fill="#fafd73" stroke="#fafd73"/>
<path d="M1570.7 277.6l7.6-10.1-6.2-6.9-7.6 10z" fill="#fefb77" stroke="#fefb77"/>
<path d="M1584.5 274.5l7.6-10.5-6.2-6.9-7.6 10.4z" fill="#fef57a" stroke="#fef57a"/>
<path d="M1598.4 271l7.6-10.9-6.3-7-7.6 10.9z" fill="#feef7d" stroke="#feef7d"/>
<path d="M1612.3 267.1l7.5-11.4-6.3-6.9-7.5 11.3z" fill="#fee87f" stroke="#fee87f"/>
<path d="M1626.2 262.7l7.5-11.8-6.3-6.9-7.6 11.7z" fill="#fee182" stroke="#fee182"/>
<path d="M1640.1 257.9l7.6-12.2-6.4-7-7.6 12.2z" fill="#feda84" stroke="#feda84"/>
<path d="M1654.1 252.7l7.6-12.7-6.5-6.9-7.5 12.6z" fill="#ffd285" stroke="#ffd285"/>
<path d="M1668.1 247l7.6-13.1-6.5-6.9-7.5 13z" fill="#ffc987" stroke="#ffc987"/>
<path d="M1682.2 240.9l7.6-13.6-6.5-6.9-7.6 13.5z" fill="#ffc088" stroke="#ffc088"/>
<path d="M1696.3 234.3l7.6-14-6.6-6.9-7.5 13.9z" fill="#ffb789" stroke="#ffb789"/>
<path d="M1710.4 227.3l7.6-14.4-6.5-6.9-7.6 14.3z" fill="#ffad8a" stroke="#ffad8a"/>
<path d="M1549.3 289.6l7.6-9.3-6.2-7-7.6 9.2z" fill="#f0fd70" stroke="#f0fd70"/>
<path d="M1563.1 287.3l7.6-9.7-6.2-7-7.6 9.7z" fill="#f5fd73" stroke="#f5fd73"/>
<path d="M1576.9 284.7l7.6-10.2-6.2-7-7.6 10.1z" fill="#fbfe77" stroke="#fbfe77"/>
<path d="M1590.8 281.6l7.6-10.6-6.3-7-7.6 10.5z" fill="#fefa7a" stroke="#fefa7a"/>
<path d="M1604.7 278.1l7.6-11-6.3-7-7.6 10.9z" fill="#fef37d" stroke="#fef37d"/>
<path d="M1660.5 259.7l7.6-12.7-6.4-7-7.6 12.7z" fill="#ffd686" stroke="#ffd686"/>
<path d="M1674.6 254l7.6-13.1-6.5-7-7.6 13.1z" fill="#ffcd87" stroke="#ffcd87"/>
<path d="M1688.7 247.9l7.6-13.6-6.5-7-7.6 13.6z" fill="#ffc488" stroke="#ffc488"/>
<path d="M1702.8 241.3l7.6-14-6.5-7-7.6 14z" fill="#ffba89" stroke="#ffba89"/>
<path d="M1717 234.3l7.6-14.5-6.6-6.9-7.6 14.4z" fill="#ffb08a" stroke="#ffb08a"/>
<path d="M1618.6 274.1l7.6-11.4-6.4-7-7.5 11.4z" fill="#feed80" stroke="#feed80"/>
<path d="M1632.5 269.7l7.6-11.8-6.4-7-7.5 11.8z" fill="#fee582" stroke="#fee582"/>
<path d="M1646.5 264.9l7.6-12.2-6.4-7-7.6 12.2z" fill="#fede84" stroke="#fede84"/>
<path d="M1541.7 298.5l7.6-8.9-6.2-7.1-7.6 8.9z" fill="#e5fd6c" stroke="#e5fd6c"/>
<path d="M1555.5 296.7l7.6-9.4-6.2-7-7.6 9.3z" fill="#ebfd70" stroke="#ebfd70"/>
<path d="M1569.3 294.4l7.6-9.7-6.2-7.1-7.6 9.7z" fill="#f1fd74" stroke="#f1fd74"/>
<path d="M1583.2 291.8l7.6-10.2-6.3-7.1-7.6 10.2z" fill="#f7fe77" stroke="#f7fe77"/>
<path d="M1597.1 288.7l7.6-10.6-6.3-7.1-7.6 10.6z" fill="#fefe7a" stroke="#fefe7a"/>
<path d="M1611 285.2l7.6-11.1-6.3-7-7.6 11z" fill="#fef77d" stroke="#fef77d"/>
<path d="M1625 281.2l7.5-11.5-6.3-7-7.6 11.4z" fill="#fef180" stroke="#fef180"/>
<path d="M1638.9 276.8l7.6-11.9-6.4-7-7.6 11.8z" fill="#fee982" stroke="#fee982"/>
<path d="M1652.9 272l7.6-12.3-6.4-7-7.6 12.2z" fill="#ffe284" stroke="#ffe284"/>
<path d="M1667 266.8l7.6-12.8-6.5-7-7.6 12.7z" fill="#ffd986" stroke="#ffd986"/>
<path d="M1681.1 261.1l7.6-13.2-6.5-7-7.6 13.1z" fill="#ffd187" stroke="#ffd187"/>
<path d="M1695.2 255l7.6-13.7-6.5-7-7.6 13.6z" fill="#ffc888" stroke="#ffc888"/>
<path d="M1709.4 248.4l7.6-14.1-6.6-7-7.6 14z" fill="#ffbe89" stroke="#ffbe89"/>
<path d="M1723.6 241.4l7.6-14.6-6.6-7-7.6 14.5z" fill="#ffb48a" stroke="#ffb48a"/>
<path d="M1534 307.1l7.7-8.6-6.2-7.1-7.7 8.5z" fill="#dcfc68" stroke="#dcfc68"/>
<path d="M1547.8 305.7l7.7-9-6.2-7.1-7.6 8.9z" fill="#e1fd6c" stroke="#e1fd6c"/>
<path d="M1561.7 303.8l7.6-9.4-6.2-7.1-7.6 9.4z" fill="#e6fd70" stroke="#e6fd70"/>
<path d="M1575.6 301.6l7.6-9.8-6.3-7.1-7.6 9.7z" fill="#ecfd74" stroke="#ecfd74"/>
<path d="M1589.5 298.9l7.6-10.2-6.3-7.1-7.6 10.2z" fill="#f3fe77" stroke="#f3fe77"/>
<path d="M1603.4 295.8l7.6-10.6-6.3-7.1-7.6 10.6z" fill="#f9fe7b" stroke="#f9fe7b"/>
<path d="M1617.4 292.3l7.6-11.1-6.4-7.1-7.6 11.1z" fill="#fefc7d" stroke="#fefc7d"/>
<path d="M1645.3 284l7.6-12-6.4-7.1-7.6 11.9z" fill="#feed82" stroke="#feed82"/>
<path d="M1659.4 279.2l7.6-12.4-6.5-7.1-7.6 12.3z" fill="#ffe684" stroke="#ffe684"/>
<path d="M1673.5 273.9l7.6-12.8-6.5-7.1-7.6 12.8z" fill="#ffdd86" stroke="#ffdd86"/>
<path d="M1687.6 268.2l7.6-13.2-6.5-7.1-7.6 13.2z" fill="#ffd587" stroke="#ffd587"/>
<path d="M1701.7 262.1l7.7-13.7-6.6-7.1-7.6 13.7z" fill="#fc8" stroke="#fc8"/>
<path d="M1716 255.5l7.6-14.1-6.6-7.1-7.6 14.1z" fill="#ffc289" stroke="#ffc289"/>
<path d="M1730.2 248.5l7.7-14.6-6.7-7.1-7.6 14.6z" fill="#ffb88a" stroke="#ffb88a"/>
<path d="M1631.3 288.4l7.6-11.6-6.4-7.1-7.5 11.5z" fill="#fef580" stroke="#fef580"/>
<path d="M1526.3 315.3l7.7-8.2-6.2-7.2-7.6 8.2z" fill="#d2fc64" stroke="#d2fc64"/>
<path d="M1736.9 255.7l7.6-14.7-6.6-7.1-7.7 14.6z" fill="#ffbc8a" stroke="#ffbc8a"/>
<path d="M1540.2 314.3l7.6-8.6-6.1-7.2-7.7 8.6z" fill="#d7fc68" stroke="#d7fc68"/>
<path d="M1554.1 312.9l7.6-9.1-6.2-7.1-7.7 9z" fill="#dcfd6d" stroke="#dcfd6d"/>
<path d="M1568 311.1l7.6-9.5-6.3-7.2-7.6 9.4z" fill="#e2fd71" stroke="#e2fd71"/>
<path d="M1581.9 308.8l7.6-9.9-6.3-7.1-7.6 9.8z" fill="#e8fd74" stroke="#e8fd74"/>
<path d="M1595.8 306.1l7.6-10.3-6.3-7.1-7.6 10.2z" fill="#eefe78" stroke="#eefe78"/>
<path d="M1609.7 303l7.7-10.7-6.4-7.1-7.6 10.6z" fill="#f5fe7b" stroke="#f5fe7b"/>
<path d="M1623.7 299.5l7.6-11.1-6.3-7.2-7.6 11.1z" fill="#fcfe7e" stroke="#fcfe7e"/>
<path d="M1637.7 295.6l7.6-11.6-6.4-7.2-7.6 11.6z" fill="#fef980" stroke="#fef980"/>
<path d="M1651.8 291.2l7.6-12-6.5-7.2-7.6 12z" fill="#fef182" stroke="#fef182"/>
<path d="M1665.9 286.4l7.6-12.5-6.5-7.1-7.6 12.4z" fill="#ffea84" stroke="#ffea84"/>
<path d="M1680 281.1l7.6-12.9-6.5-7.1-7.6 12.8z" fill="#ffe186" stroke="#ffe186"/>
<path d="M1694.1 275.4l7.6-13.3-6.5-7.1-7.6 13.2z" fill="#ffd987" stroke="#ffd987"/>
<path d="M1708.3 269.3l7.7-13.8-6.6-7.1-7.7 13.7z" fill="#ffcf89" stroke="#ffcf89"/>
<path d="M1722.6 262.7l7.6-14.2-6.6-7.1-7.6 14.1z" fill="#ffc68a" stroke="#ffc68a"/>
<path d="M1518.6 323.1l7.7-7.8-6.1-7.2-7.7 7.7z" fill="#c8fb5f" stroke="#c8fb5f"/>
<path d="M1532.5 322.6l7.7-8.3-6.2-7.2-7.7 8.2z" fill="#cdfc64" stroke="#cdfc64"/>
<path d="M1546.4 321.6l7.7-8.7-6.3-7.2-7.6 8.6z" fill="#d2fc69" stroke="#d2fc69"/>
<path d="M1560.3 320.2l7.7-9.1-6.3-7.3-7.6 9.1z" fill="#d7fd6d" stroke="#d7fd6d"/>
<path d="M1574.2 318.3l7.7-9.5-6.3-7.2-7.6 9.5z" fill="#ddfd71" stroke="#ddfd71"/>
<path d="M1588.2 316.1l7.6-10-6.3-7.2-7.6 9.9z" fill="#e4fd74" stroke="#e4fd74"/>
<path d="M1602.1 313.4l7.6-10.4-6.3-7.2-7.6 10.3z" fill="#eafe78" stroke="#eafe78"/>
<path d="M1616.1 310.3l7.6-10.8-6.3-7.2-7.7 10.7z" fill="#f1fe7b" stroke="#f1fe7b"/>
<path d="M1630.1 306.8l7.6-11.2-6.4-7.2-7.6 11.1z" fill="#f8fe7e" stroke="#f8fe7e"/>
<path d="M1644.2 302.8l7.6-11.6-6.5-7.2-7.6 11.6z" fill="#fefd80" stroke="#fefd80"/>
<path d="M1658.2 298.4l7.7-12-6.5-7.2-7.6 12z" fill="#fef682" stroke="#fef682"/>
<path d="M1672.3 293.6l7.7-12.5-6.5-7.2-7.6 12.5z" fill="#ffee84" stroke="#ffee84"/>
<path d="M1686.5 288.4l7.6-13-6.5-7.2-7.6 12.9z" fill="#ffe586" stroke="#ffe586"/>
<path d="M1700.7 282.7l7.6-13.4-6.6-7.2-7.6 13.3z" fill="#ffdd87" stroke="#ffdd87"/>
<path d="M1714.9 276.5l7.7-13.8-6.6-7.2-7.7 13.8z" fill="#ffd389" stroke="#ffd389"/>
<path d="M1729.2 269.9l7.7-14.2-6.7-7.2-7.6 14.2z" fill="#ffca8a" stroke="#ffca8a"/>
<path d="M1743.5 262.9l7.7-14.7-6.7-7.2-7.6 14.7z" fill="#ffbf8a" stroke="#ffbf8a"/>
<path d="M1510.9 330.6l7.7-7.5-6.1-7.3-7.8 7.5z" fill="#bffb5a" stroke="#bffb5a"/>
<path d="M1524.8 330.4l7.7-7.8-6.2-7.3-7.7 7.8z" fill="#c3fb5f" stroke="#c3fb5f"/>
<path d="M1538.7 329.9l7.7-8.3-6.2-7.3-7.7 8.3z" fill="#c8fc64" stroke="#c8fc64"/>
<path d="M1622.5 317.6l7.6-10.8-6.4-7.3-7.6 10.8z" fill="#edfe7b" stroke="#edfe7b"/>
<path d="M1636.5 314.1l7.7-11.3-6.5-7.2-7.6 11.2z" fill="#f4fe7e" stroke="#f4fe7e"/>
<path d="M1721.5 283.8l7.7-13.9-6.6-7.2-7.7 13.8z" fill="#ffd789" stroke="#ffd789"/>
<path d="M1735.9 277.2l7.6-14.3-6.6-7.2-7.7 14.2z" fill="#ffce8a" stroke="#ffce8a"/>
<path d="M1750.2 270.2l7.7-14.8-6.7-7.2-7.7 14.7z" fill="#ffc38a" stroke="#ffc38a"/>
<path d="M1552.6 328.9l7.7-8.7-6.2-7.3-7.7 8.7z" fill="#cdfc69" stroke="#cdfc69"/>
<path d="M1566.6 327.5l7.6-9.2-6.2-7.2-7.7 9.1z" fill="#d3fd6d" stroke="#d3fd6d"/>
<path d="M1580.5 325.7l7.7-9.6-6.3-7.3-7.7 9.5z" fill="#d9fd71" stroke="#d9fd71"/>
<path d="M1594.5 323.4l7.6-10-6.3-7.3-7.6 10z" fill="#dffd75" stroke="#dffd75"/>
<path d="M1608.5 320.7l7.6-10.4-6.4-7.3-7.6 10.4z" fill="#e6fe78" stroke="#e6fe78"/>
<path d="M1650.6 310.1l7.6-11.7-6.4-7.2-7.6 11.6z" fill="#fbfe80" stroke="#fbfe80"/>
<path d="M1664.7 305.7l7.6-12.1-6.4-7.2-7.7 12z" fill="#fefa83" stroke="#fefa83"/>
<path d="M1678.9 300.9l7.6-12.5-6.5-7.3-7.7 12.5z" fill="#fff284" stroke="#fff284"/>
<path d="M1693 295.7l7.7-13-6.6-7.3-7.6 13z" fill="#ffe986" stroke="#ffe986"/>
<path d="M1707.3 290l7.6-13.5-6.6-7.2-7.6 13.4z" fill="#ffe187" stroke="#ffe187"/>
<path d="M1503.1 337.7l7.8-7.1-6.2-7.3-7.7 7z" fill="#b6fa56" stroke="#b6fa56"/>
<path d="M1517 338l7.8-7.6-6.2-7.3-7.7 7.5z" fill="#bafb5b" stroke="#bafb5b"/>
<path d="M1531 337.8l7.7-7.9-6.2-7.3-7.7 7.8z" fill="#befb60" stroke="#befb60"/>
<path d="M1544.9 337.3l7.7-8.4-6.2-7.3-7.7 8.3z" fill="#c3fc65" stroke="#c3fc65"/>
<path d="M1558.9 336.3l7.7-8.8-6.3-7.3-7.7 8.7z" fill="#c8fc69" stroke="#c8fc69"/>
<path d="M1572.8 334.9l7.7-9.2-6.3-7.4-7.6 9.2z" fill="#cefd6d" stroke="#cefd6d"/>
<path d="M1586.8 333l7.7-9.6-6.3-7.3-7.7 9.6z" fill="#d4fd71" stroke="#d4fd71"/>
<path d="M1600.8 330.8l7.7-10.1-6.4-7.3-7.6 10z" fill="#dafd75" stroke="#dafd75"/>
<path d="M1614.9 328.1l7.6-10.5-6.4-7.3-7.6 10.4z" fill="#e1fe78" stroke="#e1fe78"/>
<path d="M1628.9 325l7.6-10.9-6.4-7.3-7.6 10.8z" fill="#e8fe7b" stroke="#e8fe7b"/>
<path d="M1643 321.5l7.6-11.4-6.4-7.3-7.7 11.3z" fill="#effe7e" stroke="#effe7e"/>
<path d="M1657.1 317.5l7.6-11.8-6.5-7.3-7.6 11.7z" fill="#f7fe80" stroke="#f7fe80"/>
<path d="M1671.2 313.1l7.7-12.2-6.6-7.3-7.6 12.1z" fill="#fefe83" stroke="#fefe83"/>
<path d="M1685.4 308.3l7.6-12.6-6.5-7.3-7.6 12.5z" fill="#fff685" stroke="#fff685"/>
<path d="M1699.6 303l7.7-13-6.6-7.3-7.7 13z" fill="#ffed86" stroke="#ffed86"/>
<path d="M1713.9 297.3l7.6-13.5-6.6-7.3-7.6 13.5z" fill="#ffe588" stroke="#ffe588"/>
<path d="M1728.2 291.2l7.7-14-6.7-7.3-7.7 13.9z" fill="#ffdb89" stroke="#ffdb89"/>
<path d="M1742.5 284.6l7.7-14.4-6.7-7.3-7.6 14.3z" fill="#ffd28a" stroke="#ffd28a"/>
<path d="M1756.9 277.5l7.7-14.8-6.7-7.3-7.7 14.8z" fill="#ffc78b" stroke="#ffc78b"/>
<path d="M1495.3 344.5l7.8-6.8-6.1-7.4-7.8 6.7z" fill="#adf951" stroke="#adf951"/>
<path d="M1509.3 345.1l7.7-7.1-6.1-7.4-7.8 7.1z" fill="#b0fa56" stroke="#b0fa56"/>
<path d="M1523.2 345.4l7.8-7.6-6.2-7.4-7.8 7.6z" fill="#b4fb5b" stroke="#b4fb5b"/>
<path d="M1537.2 345.3l7.7-8-6.2-7.4-7.7 7.9z" fill="#b9fb60" stroke="#b9fb60"/>
<path d="M1551.2 344.7l7.7-8.4-6.3-7.4-7.7 8.4z" fill="#befc65" stroke="#befc65"/>
<path d="M1607.2 338.2l7.7-10.1-6.4-7.4-7.7 10.1z" fill="#d6fd75" stroke="#d6fd75"/>
<path d="M1621.3 335.5l7.6-10.5-6.4-7.4-7.6 10.5z" fill="#ddfe79" stroke="#ddfe79"/>
<path d="M1635.3 332.4l7.7-10.9-6.5-7.4-7.6 10.9z" fill="#e4fe7c" stroke="#e4fe7c"/>
<path d="M1649.4 328.9l7.7-11.4-6.5-7.4-7.6 11.4z" fill="#ebfe7e" stroke="#ebfe7e"/>
<path d="M1706.2 310.4l7.7-13.1-6.6-7.3-7.7 13z" fill="#fff286" stroke="#fff286"/>
<path d="M1720.5 304.7l7.7-13.5-6.7-7.4-7.6 13.5z" fill="#ffe988" stroke="#ffe988"/>
<path d="M1734.9 298.6l7.6-14-6.6-7.4-7.7 14z" fill="#ffdf89" stroke="#ffdf89"/>
<path d="M1749.2 292l7.7-14.5-6.7-7.3-7.7 14.4z" fill="#ffd68a" stroke="#ffd68a"/>
<path d="M1763.7 284.9l7.7-14.9-6.8-7.3-7.7 14.8z" fill="#ffcb8b" stroke="#ffcb8b"/>
<path d="M1565.2 343.7l7.6-8.8-6.2-7.4-7.7 8.8z" fill="#c3fc69" stroke="#c3fc69"/>
<path d="M1579.2 342.3l7.6-9.3-6.3-7.3-7.7 9.2z" fill="#c9fd6e" stroke="#c9fd6e"/>
<path d="M1593.2 340.5l7.6-9.7-6.3-7.4-7.7 9.6z" fill="#cffd72" stroke="#cffd72"/>
<path d="M1663.6 324.9l7.6-11.8-6.5-7.4-7.6 11.8z" fill="#f3fe81" stroke="#f3fe81"/>
<path d="M1677.8 320.5l7.6-12.2-6.5-7.4-7.7 12.2z" fill="#fbfe83" stroke="#fbfe83"/>
<path d="M1692 315.7l7.6-12.7-6.6-7.3-7.6 12.6z" fill="#fffa85" stroke="#fffa85"/>
<path d="M1487.5 350.8l7.8-6.3-6.1-7.5-7.8 6.4z" fill="#a4f84b" stroke="#a4f84b"/>
<path d="M1501.5 351.9l7.8-6.8-6.2-7.4-7.8 6.8z" fill="#a7f951" stroke="#a7f951"/>
<path d="M1515.5 352.6l7.7-7.2-6.2-7.4-7.7 7.1z" fill="#abfa56" stroke="#abfa56"/>
<path d="M1529.5 352.9l7.7-7.6-6.2-7.5-7.8 7.6z" fill="#affb5b" stroke="#affb5b"/>
<path d="M1543.4 352.8l7.8-8.1-6.3-7.4-7.7 8z" fill="#b4fb60" stroke="#b4fb60"/>
<path d="M1557.4 352.2l7.8-8.5-6.3-7.4-7.7 8.4z" fill="#b9fc65" stroke="#b9fc65"/>
<path d="M1571.5 351.2l7.7-8.9-6.4-7.4-7.6 8.8z" fill="#befc6a" stroke="#befc6a"/>
<path d="M1585.5 349.8l7.7-9.3-6.4-7.5-7.6 9.3z" fill="#c4fd6e" stroke="#c4fd6e"/>
<path d="M1599.5 348l7.7-9.8-6.4-7.4-7.6 9.7z" fill="#cbfd72" stroke="#cbfd72"/>
<path d="M1613.6 345.7l7.7-10.2-6.4-7.4-7.7 10.1z" fill="#d1fd75" stroke="#d1fd75"/>
<path d="M1627.7 343l7.6-10.6-6.4-7.4-7.6 10.5z" fill="#d8fe79" stroke="#d8fe79"/>
<path d="M1641.8 339.9l7.6-11-6.4-7.4-7.7 10.9z" fill="#dffe7c" stroke="#dffe7c"/>
<path d="M1655.9 336.4l7.7-11.5-6.5-7.4-7.7 11.4z" fill="#e7fe7e" stroke="#e7fe7e"/>
<path d="M1670.1 332.4l7.7-11.9-6.6-7.4-7.6 11.8z" fill="#effe81" stroke="#effe81"/>
<path d="M1684.3 328l7.7-12.3-6.6-7.4-7.6 12.2z" fill="#f7fe83" stroke="#f7fe83"/>
<path d="M1698.6 323.2l7.6-12.8-6.6-7.4-7.6 12.7z" fill="#fffe85" stroke="#fffe85"/>
<path d="M1712.8 317.9l7.7-13.2-6.6-7.4-7.7 13.1z" fill="#fff686" stroke="#fff686"/>
<path d="M1727.2 312.2l7.7-13.6-6.7-7.4-7.7 13.5z" fill="#ffed88" stroke="#ffed88"/>
<path d="M1741.5 306l7.7-14-6.7-7.4-7.6 14z" fill="#ffe389" stroke="#ffe389"/>
<path d="M1756 299.4l7.7-14.5-6.8-7.4-7.7 14.5z" fill="#ffda8a" stroke="#ffda8a"/>
<path d="M1770.5 292.3l7.7-14.9-6.8-7.4-7.7 14.9z" fill="#ffcf8b" stroke="#ffcf8b"/>
<path d="M1479.6 356.9l7.9-6.1-6.1-7.4-7.9 5.9z" fill="#9cf746" stroke="#9cf746"/>
<path d="M1493.7 358.4l7.8-6.5-6.2-7.4-7.8 6.3z" fill="#9ff84c" stroke="#9ff84c"/>
<path d="M1507.7 359.5l7.8-6.9-6.2-7.5-7.8 6.8z" fill="#a2f951" stroke="#a2f951"/>
<path d="M1521.7 360.2l7.8-7.3-6.3-7.5-7.7 7.2z" fill="#a5fa57" stroke="#a5fa57"/>
<path d="M1535.7 360.4l7.7-7.6-6.2-7.5-7.7 7.6z" fill="#aafb5c" stroke="#aafb5c"/>
<path d="M1549.7 360.3l7.7-8.1-6.2-7.5-7.8 8.1z" fill="#aefb61" stroke="#aefb61"/>
<path d="M1563.7 359.7l7.8-8.5-6.3-7.5-7.8 8.5z" fill="#b4fc66" stroke="#b4fc66"/>
<path d="M1591.8 357.3l7.7-9.3-6.3-7.5-7.7 9.3z" fill="#c0fd6e" stroke="#c0fd6e"/>
<path d="M1605.9 355.5l7.7-9.8-6.4-7.5-7.7 9.8z" fill="#c6fd72" stroke="#c6fd72"/>
<path d="M1620 353.2l7.7-10.2-6.4-7.5-7.7 10.2z" fill="#cdfd76" stroke="#cdfd76"/>
<path d="M1634.1 350.5l7.7-10.6-6.5-7.5-7.6 10.6z" fill="#d4fe79" stroke="#d4fe79"/>
<path d="M1648.3 347.4l7.6-11-6.5-7.5-7.6 11z" fill="#dbfe7c" stroke="#dbfe7c"/>
<path d="M1662.4 343.9l7.7-11.5-6.5-7.5-7.7 11.5z" fill="#e2fe7f" stroke="#e2fe7f"/>
<path d="M1690.9 335.5l7.7-12.3-6.6-7.5-7.7 12.3z" fill="#f2fe83" stroke="#f2fe83"/>
<path d="M1705.2 330.7l7.6-12.8-6.6-7.5-7.6 12.8z" fill="#fbff85" stroke="#fbff85"/>
<path d="M1719.5 325.4l7.7-13.2-6.7-7.5-7.7 13.2z" fill="#fffa86" stroke="#fffa86"/>
<path d="M1733.9 319.7l7.6-13.7-6.6-7.4-7.7 13.6z" fill="#fff188" stroke="#fff188"/>
<path d="M1748.3 313.5l7.7-14.1-6.8-7.4-7.7 14z" fill="#ffe789" stroke="#ffe789"/>
<path d="M1762.7 306.9l7.8-14.6-6.8-7.4-7.7 14.5z" fill="#ffde8a" stroke="#ffde8a"/>
<path d="M1777.2 299.8l7.8-15-6.8-7.4-7.7 14.9z" fill="#ffd38b" stroke="#ffd38b"/>
<path d="M1577.8 358.7l7.7-8.9-6.3-7.5-7.7 8.9z" fill="#b9fc6a" stroke="#b9fc6a"/>
<path d="M1676.6 339.9l7.7-11.9-6.5-7.5-7.7 11.9z" fill="#eafe81" stroke="#eafe81"/>
<path d="M1471.8 362.5l7.8-5.6-6.1-7.6-7.9 5.6z" fill="#95f641" stroke="#95f641"/>
<path d="M1485.8 364.5l7.9-6.1-6.2-7.6-7.9 6.1z" fill="#96f747" stroke="#96f747"/>
<path d="M1499.8 366l7.9-6.5-6.2-7.6-7.8 6.5z" fill="#99f84c" stroke="#99f84c"/>
<path d="M1513.9 367.1l7.8-6.9-6.2-7.6-7.8 6.9z" fill="#9cf952" stroke="#9cf952"/>
<path d="M1527.9 367.8l7.8-7.4-6.2-7.5-7.8 7.3z" fill="#a0fa57" stroke="#a0fa57"/>
<path d="M1542 368l7.7-7.7-6.3-7.5-7.7 7.6z" fill="#a4fb5c" stroke="#a4fb5c"/>
<path d="M1556 367.9l7.7-8.2-6.3-7.5-7.7 8.1z" fill="#a9fb61" stroke="#a9fb61"/>
<path d="M1570.1 367.3l7.7-8.6-6.3-7.5-7.8 8.5z" fill="#affc66" stroke="#affc66"/>
<path d="M1584.1 366.3l7.7-9-6.3-7.5-7.7 8.9z" fill="#b4fc6a" stroke="#b4fc6a"/>
<path d="M1598.2 364.9l7.7-9.4-6.4-7.5-7.7 9.3z" fill="#bbfd6e" stroke="#bbfd6e"/>
<path d="M1612.3 363.1l7.7-9.9-6.4-7.5-7.7 9.8z" fill="#c1fd72" stroke="#c1fd72"/>
<path d="M1626.4 360.8l7.7-10.3-6.4-7.5-7.7 10.2z" fill="#c8fd76" stroke="#c8fd76"/>
<path d="M1640.6 358.1l7.7-10.7-6.5-7.5-7.7 10.6z" fill="#cffe79" stroke="#cffe79"/>
<path d="M1654.8 355l7.6-11.1-6.5-7.5-7.6 11z" fill="#d6fe7c" stroke="#d6fe7c"/>
<path d="M1669 351.5l7.6-11.6-6.5-7.5-7.7 11.5z" fill="#defe7f" stroke="#defe7f"/>
<path d="M1683.2 347.5l7.7-12-6.6-7.5-7.7 11.9z" fill="#e6fe81" stroke="#e6fe81"/>
<path d="M1697.5 343.1l7.7-12.4-6.6-7.5-7.7 12.3z" fill="#eefe83" stroke="#eefe83"/>
<path d="M1711.8 338.3l7.7-12.9-6.7-7.5-7.6 12.8z" fill="#f7ff85" stroke="#f7ff85"/>
<path d="M1726.2 333l7.7-13.3-6.7-7.5-7.7 13.2z" fill="#fffe87" stroke="#fffe87"/>
<path d="M1740.6 327.2l7.7-13.7-6.8-7.5-7.6 13.7z" fill="#fff588" stroke="#fff588"/>
<path d="M1755 321.1l7.7-14.2-6.7-7.5-7.7 14.1z" fill="#ffec89" stroke="#ffec89"/>
<path d="M1769.5 314.5l7.7-14.7-6.7-7.5-7.8 14.6z" fill="#ffe28a" stroke="#ffe28a"/>
<path d="M1784.1 307.4l7.7-15.1-6.8-7.5-7.8 15z" fill="#ffd78b" stroke="#ffd78b"/>
<path d="M1576.4 375l7.7-8.7-6.3-7.6-7.7 8.6z" fill="#a9fc66" stroke="#a9fc66"/>
<path d="M1675.5 359.1l7.7-11.6-6.6-7.6-7.6 11.6z" fill="#dafe7f" stroke="#dafe7f"/>
<path d="M1463.8 367.8l8-5.3-6.2-7.6-7.9 5.2z" fill="#8ef53c" stroke="#8ef53c"/>
<path d="M1477.9 370.2l7.9-5.7-6.2-7.6-7.8 5.6z" fill="#8ff641" stroke="#8ff641"/>
<path d="M1492 372.1l7.8-6.1-6.1-7.6-7.9 6.1z" fill="#90f847" stroke="#90f847"/>
<path d="M1506 373.6l7.9-6.5-6.2-7.6-7.9 6.5z" fill="#93f84d" stroke="#93f84d"/>
<path d="M1520.1 374.7l7.8-6.9-6.2-7.6-7.8 6.9z" fill="#96f952" stroke="#96f952"/>
<path d="M1534.2 375.4l7.8-7.4-6.3-7.6-7.8 7.4z" fill="#9afa57" stroke="#9afa57"/>
<path d="M1548.2 375.7l7.8-7.8-6.3-7.6-7.7 7.7z" fill="#9ffb5d" stroke="#9ffb5d"/>
<path d="M1562.3 375.5l7.8-8.2-6.4-7.6-7.7 8.2z" fill="#a4fb61" stroke="#a4fb61"/>
<path d="M1590.5 374l7.7-9.1-6.4-7.6-7.7 9z" fill="#affc6b" stroke="#affc6b"/>
<path d="M1604.6 372.6l7.7-9.5-6.4-7.6-7.7 9.4z" fill="#b6fd6f" stroke="#b6fd6f"/>
<path d="M1618.8 370.7l7.6-9.9-6.4-7.6-7.7 9.9z" fill="#bcfd73" stroke="#bcfd73"/>
<path d="M1632.9 368.5l7.7-10.4-6.5-7.6-7.7 10.3z" fill="#c3fd76" stroke="#c3fd76"/>
<path d="M1647.1 365.8l7.7-10.8-6.5-7.6-7.7 10.7z" fill="#cafe79" stroke="#cafe79"/>
<path d="M1661.3 362.7l7.7-11.2-6.6-7.6-7.6 11.1z" fill="#d2fe7c" stroke="#d2fe7c"/>
<path d="M1689.8 355.1l7.7-12-6.6-7.6-7.7 12z" fill="#e2fe81" stroke="#e2fe81"/>
<path d="M1704.1 350.7l7.7-12.4-6.6-7.6-7.7 12.4z" fill="#eafe83" stroke="#eafe83"/>
<path d="M1718.5 345.9l7.7-12.9-6.7-7.6-7.7 12.9z" fill="#f2ff85" stroke="#f2ff85"/>
<path d="M1732.9 340.6l7.7-13.4-6.7-7.5-7.7 13.3z" fill="#fbff87" stroke="#fbff87"/>
<path d="M1747.3 334.9l7.7-13.8-6.7-7.6-7.7 13.7z" fill="#fff988" stroke="#fff988"/>
<path d="M1761.8 328.7l7.7-14.2-6.8-7.6-7.7 14.2z" fill="#fff089" stroke="#fff089"/>
<path d="M1776.3 322.1l7.8-14.7-6.9-7.6-7.7 14.7z" fill="#ffe68a" stroke="#ffe68a"/>
<path d="M1790.9 315l7.8-15.1-6.9-7.6-7.7 15.1z" fill="#ffdb8b" stroke="#ffdb8b"/>
<path d="M1455.9 372.7l7.9-4.9-6.1-7.7-8 4.9z" fill="#88f437" stroke="#88f437"/>
<path d="M1470 375.5l7.9-5.3-6.1-7.7-8 5.3z" fill="#88f53c" stroke="#88f53c"/>
<path d="M1484.1 377.9l7.9-5.8-6.2-7.6-7.9 5.7z" fill="#88f742" stroke="#88f742"/>
<path d="M1498.2 379.8l7.8-6.2-6.2-7.6-7.8 6.1z" fill="#8af847" stroke="#8af847"/>
<path d="M1512.3 381.3l7.8-6.6-6.2-7.6-7.9 6.5z" fill="#8df94d" stroke="#8df94d"/>
<path d="M1526.4 382.4l7.8-7-6.3-7.6-7.8 6.9z" fill="#90f952" stroke="#90f952"/>
<path d="M1540.4 383.1l7.8-7.4-6.2-7.7-7.8 7.4z" fill="#95fa58" stroke="#95fa58"/>
<path d="M1554.5 383.4l7.8-7.9-6.3-7.6-7.8 7.8z" fill="#99fb5d" stroke="#99fb5d"/>
<path d="M1568.7 383.2l7.7-8.2-6.3-7.7-7.8 8.2z" fill="#9ffb62" stroke="#9ffb62"/>
<path d="M1582.8 382.7l7.7-8.7-6.4-7.7-7.7 8.7z" fill="#a4fc66" stroke="#a4fc66"/>
<path d="M1596.9 381.7l7.7-9.1-6.4-7.7-7.7 9.1z" fill="#aafc6b" stroke="#aafc6b"/>
<path d="M1611 380.3l7.8-9.6-6.5-7.6-7.7 9.5z" fill="#b1fd6f" stroke="#b1fd6f"/>
<path d="M1625.2 378.4l7.7-9.9-6.5-7.7-7.6 9.9z" fill="#b8fd73" stroke="#b8fd73"/>
<path d="M1639.4 376.2l7.7-10.4-6.5-7.7-7.7 10.4z" fill="#bffd76" stroke="#bffd76"/>
<path d="M1653.6 373.5l7.7-10.8-6.5-7.7-7.7 10.8z" fill="#c6fe7a" stroke="#c6fe7a"/>
<path d="M1667.8 370.4l7.7-11.3-6.5-7.6-7.7 11.2z" fill="#cdfe7c" stroke="#cdfe7c"/>
<path d="M1682.1 366.8l7.7-11.7-6.6-7.6-7.7 11.6z" fill="#d5fe7f" stroke="#d5fe7f"/>
<path d="M1696.4 362.8l7.7-12.1-6.6-7.6-7.7 12z" fill="#ddfe81" stroke="#ddfe81"/>
<path d="M1710.8 358.4l7.7-12.5-6.7-7.6-7.7 12.4z" fill="#e5fe83" stroke="#e5fe83"/>
<path d="M1725.1 353.6l7.8-13-6.7-7.6-7.7 12.9z" fill="#eeff85" stroke="#eeff85"/>
<path d="M1739.6 348.3l7.7-13.4-6.7-7.7-7.7 13.4z" fill="#f7ff87" stroke="#f7ff87"/>
<path d="M1754 342.5l7.8-13.8-6.8-7.6-7.7 13.8z" fill="#fffd88" stroke="#fffd88"/>
<path d="M1768.6 336.4l7.7-14.3-6.8-7.6-7.7 14.2z" fill="#fff489" stroke="#fff489"/>
<path d="M1783.1 329.7l7.8-14.7-6.8-7.6-7.8 14.7z" fill="#ffea8a" stroke="#ffea8a"/>
<path d="M1797.8 322.7l7.8-15.2-6.9-7.6-7.8 15.1z" fill="#ffdf8b" stroke="#ffdf8b"/>
<path d="M1560.9 391.2l7.8-8-6.4-7.7-7.8 7.9z" fill="#94fb5d" stroke="#94fb5d"/>
<path d="M1575 391l7.8-8.3-6.4-7.7-7.7 8.2z" fill="#99fb62" stroke="#99fb62"/>
<path d="M1589.2 390.4l7.7-8.7-6.4-7.7-7.7 8.7z" fill="#9ffc67" stroke="#9ffc67"/>
<path d="M1660.1 381.2l7.7-10.8-6.5-7.7-7.7 10.8z" fill="#c1fe7a" stroke="#c1fe7a"/>
<path d="M1674.4 378.1l7.7-11.3-6.6-7.7-7.7 11.3z" fill="#c9fe7d" stroke="#c9fe7d"/>
<path d="M1688.7 374.6l7.7-11.8-6.6-7.7-7.7 11.7z" fill="#d1fe7f" stroke="#d1fe7f"/>
<path d="M1447.9 377.3l8-4.6-6.2-7.7-8 4.5z" fill="#82f332" stroke="#82f332"/>
<path d="M1462 380.5l8-5-6.2-7.7-7.9 4.9z" fill="#81f437" stroke="#81f437"/>
<path d="M1476.1 383.2l8-5.3-6.2-7.7-7.9 5.3z" fill="#81f63d" stroke="#81f63d"/>
<path d="M1490.3 385.6l7.9-5.8-6.2-7.7-7.9 5.8z" fill="#82f742" stroke="#82f742"/>
<path d="M1504.4 387.6l7.9-6.3-6.3-7.7-7.8 6.2z" fill="#84f848" stroke="#84f848"/>
<path d="M1518.5 389.1l7.9-6.7-6.3-7.7-7.8 6.6z" fill="#87f94d" stroke="#87f94d"/>
<path d="M1532.6 390.2l7.8-7.1-6.2-7.7-7.8 7z" fill="#8bf953" stroke="#8bf953"/>
<path d="M1546.8 390.9l7.7-7.5-6.3-7.7-7.8 7.4z" fill="#8ffa58" stroke="#8ffa58"/>
<path d="M1603.3 389.4l7.7-9.1-6.4-7.7-7.7 9.1z" fill="#a5fc6b" stroke="#a5fc6b"/>
<path d="M1617.5 388l7.7-9.6-6.4-7.7-7.8 9.6z" fill="#acfd6f" stroke="#acfd6f"/>
<path d="M1631.7 386.2l7.7-10-6.5-7.7-7.7 9.9z" fill="#b3fd73" stroke="#b3fd73"/>
<path d="M1645.9 383.9l7.7-10.4-6.5-7.7-7.7 10.4z" fill="#bafe77" stroke="#bafe77"/>
<path d="M1703.1 370.6l7.7-12.2-6.7-7.7-7.7 12.1z" fill="#d9fe82" stroke="#d9fe82"/>
<path d="M1717.4 366.2l7.7-12.6-6.6-7.7-7.7 12.5z" fill="#e1fe84" stroke="#e1fe84"/>
<path d="M1731.9 361.3l7.7-13-6.7-7.7-7.8 13z" fill="#eaff85" stroke="#eaff85"/>
<path d="M1746.3 356l7.7-13.5-6.7-7.6-7.7 13.4z" fill="#f3ff87" stroke="#f3ff87"/>
<path d="M1760.8 350.3l7.8-13.9-6.8-7.7-7.8 13.8z" fill="#fcff88" stroke="#fcff88"/>
<path d="M1775.4 344.1l7.7-14.4-6.8-7.6-7.7 14.3z" fill="#fff889" stroke="#fff889"/>
<path d="M1790 337.5l7.8-14.8-6.9-7.7-7.8 14.7z" fill="#ffee8a" stroke="#ffee8a"/>
<path d="M1804.7 330.4l7.8-15.3-6.9-7.6-7.8 15.2z" fill="#ffe48b" stroke="#ffe48b"/>
<path d="M1439.8 381.4l8.1-4.1-6.2-7.8-8 4.1z" fill="#7ef22d" stroke="#7ef22d"/>
<path d="M1454 385.1l8-4.6-6.1-7.8-8 4.6z" fill="#7bf332" stroke="#7bf332"/>
<path d="M1468.2 388.3l7.9-5.1-6.1-7.7-8 5z" fill="#7af437" stroke="#7af437"/>
<path d="M1482.3 391.1l8-5.5-6.2-7.7-8 5.3z" fill="#7bf63d" stroke="#7bf63d"/>
<path d="M1496.5 393.4l7.9-5.8-6.2-7.8-7.9 5.8z" fill="#7cf743" stroke="#7cf743"/>
<path d="M1510.6 395.4l7.9-6.3-6.2-7.8-7.9 6.3z" fill="#7ef848" stroke="#7ef848"/>
<path d="M1524.8 396.9l7.8-6.7-6.2-7.8-7.9 6.7z" fill="#81f94e" stroke="#81f94e"/>
<path d="M1538.9 398l7.9-7.1-6.4-7.8-7.8 7.1z" fill="#85f953" stroke="#85f953"/>
<path d="M1553.1 398.7l7.8-7.5-6.4-7.8-7.7 7.5z" fill="#89fa58" stroke="#89fa58"/>
<path d="M1567.2 399l7.8-8-6.3-7.8-7.8 8z" fill="#8efb5e" stroke="#8efb5e"/>
<path d="M1581.4 398.8l7.8-8.4-6.4-7.7-7.8 8.3z" fill="#94fc62" stroke="#94fc62"/>
<path d="M1595.6 398.2l7.7-8.8-6.4-7.7-7.7 8.7z" fill="#9afc67" stroke="#9afc67"/>
<path d="M1609.8 397.3l7.7-9.3-6.5-7.7-7.7 9.1z" fill="#a0fc6b" stroke="#a0fc6b"/>
<path d="M1624 395.8l7.7-9.6-6.5-7.8-7.7 9.6z" fill="#a7fd6f" stroke="#a7fd6f"/>
<path d="M1638.2 394l7.7-10.1-6.5-7.7-7.7 10z" fill="#aefd73" stroke="#aefd73"/>
<path d="M1652.4 391.7l7.7-10.5-6.5-7.7-7.7 10.4z" fill="#b5fe77" stroke="#b5fe77"/>
<path d="M1666.7 389l7.7-10.9-6.6-7.7-7.7 10.8z" fill="#bdfe7a" stroke="#bdfe7a"/>
<path d="M1681 385.9l7.7-11.3-6.6-7.8-7.7 11.3z" fill="#c4fe7d" stroke="#c4fe7d"/>
<path d="M1695.4 382.4l7.7-11.8-6.7-7.8-7.7 11.8z" fill="#ccfe7f" stroke="#ccfe7f"/>
<path d="M1709.7 378.4l7.7-12.2-6.6-7.8-7.7 12.2z" fill="#d4fe82" stroke="#d4fe82"/>
<path d="M1724.1 374l7.8-12.7-6.8-7.7-7.7 12.6z" fill="#ddfe84" stroke="#ddfe84"/>
<path d="M1738.6 369.1l7.7-13.1-6.7-7.7-7.7 13z" fill="#e5ff85" stroke="#e5ff85"/>
<path d="M1753.1 363.8l7.7-13.5-6.8-7.8-7.7 13.5z" fill="#eeff87" stroke="#eeff87"/>
<path d="M1767.6 358.1l7.8-14-6.8-7.7-7.8 13.9z" fill="#f8ff88" stroke="#f8ff88"/>
<path d="M1782.2 351.9l7.8-14.4-6.9-7.8-7.7 14.4z" fill="#fffc89" stroke="#fffc89"/>
<path d="M1796.9 345.2l7.8-14.8-6.9-7.7-7.8 14.8z" fill="#fff28a" stroke="#fff28a"/>
<path d="M1811.6 338.2l7.8-15.3-6.9-7.8-7.8 15.3z" fill="#ffe88b" stroke="#ffe88b"/>
<path d="M1545.3 405.9l7.8-7.2-6.3-7.8-7.9 7.1z" fill="#7ffa53" stroke="#7ffa53"/>
<path d="M1559.4 406.6l7.8-7.6-6.3-7.8-7.8 7.5z" fill="#84fa59" stroke="#84fa59"/>
<path d="M1573.6 406.8l7.8-8-6.4-7.8-7.8 8z" fill="#89fb5e" stroke="#89fb5e"/>
<path d="M1587.8 406.7l7.8-8.5-6.4-7.8-7.8 8.4z" fill="#8efc63" stroke="#8efc63"/>
<path d="M1602 406.1l7.8-8.8-6.5-7.9-7.7 8.8z" fill="#95fc67" stroke="#95fc67"/>
<path d="M1644.7 401.9l7.7-10.2-6.5-7.8-7.7 10.1z" fill="#a9fd73" stroke="#a9fd73"/>
<path d="M1659 399.6l7.7-10.6-6.6-7.8-7.7 10.5z" fill="#b0fe77" stroke="#b0fe77"/>
<path d="M1673.3 396.9l7.7-11-6.6-7.8-7.7 10.9z" fill="#b8fe7a" stroke="#b8fe7a"/>
<path d="M1687.6 393.8l7.8-11.4-6.7-7.8-7.7 11.3z" fill="#c0fe7d" stroke="#c0fe7d"/>
<path d="M1702 390.2l7.7-11.8-6.6-7.8-7.7 11.8z" fill="#c8fe80" stroke="#c8fe80"/>
<path d="M1431.7 385.2l8.1-3.8-6.1-7.8-8.1 3.8z" fill="#7af028" stroke="#7af028"/>
<path d="M1446 389.3l8-4.2-6.1-7.8-8.1 4.1z" fill="#77f22d" stroke="#77f22d"/>
<path d="M1460.2 392.9l8-4.6-6.2-7.8-8 4.6z" fill="#75f332" stroke="#75f332"/>
<path d="M1474.4 396.1l7.9-5-6.2-7.9-7.9 5.1z" fill="#74f438" stroke="#74f438"/>
<path d="M1488.6 398.9l7.9-5.5-6.2-7.8-8 5.5z" fill="#74f63d" stroke="#74f63d"/>
<path d="M1502.7 401.3l7.9-5.9-6.2-7.8-7.9 5.8z" fill="#75f743" stroke="#75f743"/>
<path d="M1516.9 403.2l7.9-6.3-6.3-7.8-7.9 6.3z" fill="#78f849" stroke="#78f849"/>
<path d="M1531.1 404.8l7.8-6.8-6.3-7.8-7.8 6.7z" fill="#7bf94e" stroke="#7bf94e"/>
<path d="M1616.2 405.1l7.8-9.3-6.5-7.8-7.7 9.3z" fill="#9bfd6c" stroke="#9bfd6c"/>
<path d="M1630.5 403.7l7.7-9.7-6.5-7.8-7.7 9.6z" fill="#a2fd70" stroke="#a2fd70"/>
<path d="M1716.4 386.2l7.7-12.2-6.7-7.8-7.7 12.2z" fill="#d0fe82" stroke="#d0fe82"/>
<path d="M1730.9 381.8l7.7-12.7-6.7-7.8-7.8 12.7z" fill="#d8fe84" stroke="#d8fe84"/>
<path d="M1745.3 377l7.8-13.2-6.8-7.8-7.7 13.1z" fill="#e1ff86" stroke="#e1ff86"/>
<path d="M1759.9 371.7l7.7-13.6-6.8-7.8-7.7 13.5z" fill="#eaff87" stroke="#eaff87"/>
<path d="M1774.5 365.9l7.7-14-6.8-7.8-7.8 14z" fill="#f3ff88" stroke="#f3ff88"/>
<path d="M1789.1 359.7l7.8-14.5-6.9-7.7-7.8 14.4z" fill="#fdff89" stroke="#fdff89"/>
<path d="M1803.8 353.1l7.8-14.9-6.9-7.8-7.8 14.8z" fill="#fff68a" stroke="#fff68a"/>
<path d="M1818.5 346l7.9-15.4-7-7.7-7.8 15.3z" fill="#ffec8b" stroke="#ffec8b"/>
<path d="M1423.6 388.7l8.1-3.5-6.1-7.8-8.1 3.4z" fill="#78ef24" stroke="#78ef24"/>
<path d="M1437.9 393.1l8.1-3.8-6.2-7.9-8.1 3.8z" fill="#73f028" stroke="#73f028"/>
<path d="M1452.1 397.2l8.1-4.3-6.2-7.8-8 4.2z" fill="#70f22e" stroke="#70f22e"/>
<path d="M1466.4 400.8l8-4.7-6.2-7.8-8 4.6z" fill="#6ef333" stroke="#6ef333"/>
<path d="M1480.6 404.1l8-5.2-6.3-7.8-7.9 5z" fill="#6df538" stroke="#6df538"/>
<path d="M1494.8 406.8l7.9-5.5-6.2-7.9-7.9 5.5z" fill="#6df63e" stroke="#6df63e"/>
<path d="M1509 409.2l7.9-6-6.3-7.8-7.9 5.9z" fill="#6ff743" stroke="#6ff743"/>
<path d="M1523.2 411.2l7.9-6.4-6.3-7.9-7.9 6.3z" fill="#71f849" stroke="#71f849"/>
<path d="M1537.4 412.7l7.9-6.8-6.4-7.9-7.8 6.8z" fill="#75f94e" stroke="#75f94e"/>
<path d="M1551.6 413.8l7.8-7.2-6.3-7.9-7.8 7.2z" fill="#79fa54" stroke="#79fa54"/>
<path d="M1565.8 414.5l7.8-7.7-6.4-7.8-7.8 7.6z" fill="#7efa59" stroke="#7efa59"/>
<path d="M1580 414.8l7.8-8.1-6.4-7.9-7.8 8z" fill="#83fb5e" stroke="#83fb5e"/>
<path d="M1594.2 414.6l7.8-8.5-6.4-7.9-7.8 8.5z" fill="#89fc63" stroke="#89fc63"/>
<path d="M1608.5 414l7.7-8.9-6.4-7.8-7.8 8.8z" fill="#8ffc68" stroke="#8ffc68"/>
<path d="M1622.7 413l7.8-9.3-6.5-7.9-7.8 9.3z" fill="#96fd6c" stroke="#96fd6c"/>
<path d="M1637 411.6l7.7-9.7-6.5-7.9-7.7 9.7z" fill="#9dfd70" stroke="#9dfd70"/>
<path d="M1651.3 409.8l7.7-10.2-6.6-7.9-7.7 10.2z" fill="#a4fd74" stroke="#a4fd74"/>
<path d="M1665.6 407.5l7.7-10.6-6.6-7.9-7.7 10.6z" fill="#abfe77" stroke="#abfe77"/>
<path d="M1679.9 404.8l7.7-11-6.6-7.9-7.7 11z" fill="#b3fe7a" stroke="#b3fe7a"/>
<path d="M1694.3 401.7l7.7-11.5-6.6-7.8-7.8 11.4z" fill="#bbfe7d" stroke="#bbfe7d"/>
<path d="M1708.7 398.1l7.7-11.9-6.7-7.8-7.7 11.8z" fill="#c3fe80" stroke="#c3fe80"/>
<path d="M1723.1 394.1l7.8-12.3-6.8-7.8-7.7 12.2z" fill="#cbfe82" stroke="#cbfe82"/>
<path d="M1737.6 389.7l7.7-12.7-6.7-7.9-7.7 12.7z" fill="#d4ff84" stroke="#d4ff84"/>
<path d="M1752.1 384.9l7.8-13.2-6.8-7.9-7.8 13.2z" fill="#ddff86" stroke="#ddff86"/>
<path d="M1766.7 379.6l7.8-13.7-6.9-7.8-7.7 13.6z" fill="#e6ff87" stroke="#e6ff87"/>
<path d="M1781.3 373.8l7.8-14.1-6.9-7.8-7.7 14z" fill="#efff88" stroke="#efff88"/>
<path d="M1796 367.6l7.8-14.5-6.9-7.9-7.8 14.5z" fill="#f9ff89" stroke="#f9ff89"/>
<path d="M1810.7 361l7.8-15-6.9-7.8-7.8 14.9z" fill="#fffb8a" stroke="#fffb8a"/>
<path d="M1825.5 353.9l7.8-15.4-6.9-7.9-7.9 15.4z" fill="#fff08b" stroke="#fff08b"/>
<path d="M1529.5 419.1l7.9-6.4-6.3-7.9-7.9 6.4z" fill="#6bf849" stroke="#6bf849"/>
<path d="M1543.7 420.7l7.9-6.9-6.3-7.9-7.9 6.8z" fill="#6ff94f" stroke="#6ff94f"/>
<path d="M1558 421.8l7.8-7.3-6.4-7.9-7.8 7.2z" fill="#73fa54" stroke="#73fa54"/>
<path d="M1572.2 422.5l7.8-7.7-6.4-8-7.8 7.7z" fill="#78fa59" stroke="#78fa59"/>
<path d="M1586.4 422.7l7.8-8.1-6.4-7.9-7.8 8.1z" fill="#7efb5f" stroke="#7efb5f"/>
<path d="M1600.7 422.6l7.8-8.6-6.5-7.9-7.8 8.5z" fill="#84fc63" stroke="#84fc63"/>
<path d="M1614.9 422l7.8-9-6.5-7.9-7.7 8.9z" fill="#8afc68" stroke="#8afc68"/>
<path d="M1629.2 421l7.8-9.4-6.5-7.9-7.8 9.3z" fill="#91fd6c" stroke="#91fd6c"/>
<path d="M1643.5 419.6l7.8-9.8-6.6-7.9-7.7 9.7z" fill="#98fd70" stroke="#98fd70"/>
<path d="M1657.8 417.8l7.8-10.3-6.6-7.9-7.7 10.2z" fill="#9ffd74" stroke="#9ffd74"/>
<path d="M1672.2 415.5l7.7-10.7-6.6-7.9-7.7 10.6z" fill="#a7fe77" stroke="#a7fe77"/>
<path d="M1686.6 412.8l7.7-11.1-6.7-7.9-7.7 11z" fill="#aefe7a" stroke="#aefe7a"/>
<path d="M1701 409.7l7.7-11.6-6.7-7.9-7.7 11.5z" fill="#b6fe7d" stroke="#b6fe7d"/>
<path d="M1715.4 406.1l7.7-12-6.7-7.9-7.7 11.9z" fill="#befe80" stroke="#befe80"/>
<path d="M1415.4 391.7l8.2-3-6.1-7.9-8.2 3z" fill="#76ed1f" stroke="#76ed1f"/>
<path d="M1429.7 396.6l8.2-3.5-6.2-7.9-8.1 3.5z" fill="#70ef24" stroke="#70ef24"/>
<path d="M1444 401.1l8.1-3.9-6.1-7.9-8.1 3.8z" fill="#6cf129" stroke="#6cf129"/>
<path d="M1458.3 405.2l8.1-4.4-6.2-7.9-8.1 4.3z" fill="#69f22e" stroke="#69f22e"/>
<path d="M1472.6 408.8l8-4.7-6.2-8-8 4.7z" fill="#67f333" stroke="#67f333"/>
<path d="M1486.8 412l8-5.2-6.2-7.9-8 5.2z" fill="#66f539" stroke="#66f539"/>
<path d="M1501.1 414.8l7.9-5.6-6.3-7.9-7.9 5.5z" fill="#67f63e" stroke="#67f63e"/>
<path d="M1515.3 417.2l7.9-6-6.3-8-7.9 6z" fill="#69f744" stroke="#69f744"/>
<path d="M1729.9 402.1l7.7-12.4-6.7-7.9-7.8 12.3z" fill="#c7fe82" stroke="#c7fe82"/>
<path d="M1744.4 397.7l7.7-12.8-6.8-7.9-7.7 12.7z" fill="#cfff84" stroke="#cfff84"/>
<path d="M1758.9 392.8l7.8-13.2-6.8-7.9-7.8 13.2z" fill="#d8ff86" stroke="#d8ff86"/>
<path d="M1773.5 387.5l7.8-13.7-6.8-7.9-7.8 13.7z" fill="#e1ff87" stroke="#e1ff87"/>
<path d="M1788.2 381.8l7.8-14.2-6.9-7.9-7.8 14.1z" fill="#ebff88" stroke="#ebff88"/>
<path d="M1802.9 375.6l7.8-14.6-6.9-7.9-7.8 14.5z" fill="#f5ff8a" stroke="#f5ff8a"/>
<path d="M1817.7 368.9l7.8-15-7-7.9-7.8 15z" fill="#ffff8a" stroke="#ffff8a"/>
<path d="M1832.5 361.8l7.8-15.5-7-7.8-7.8 15.4z" fill="#fff48b" stroke="#fff48b"/>
<path d="M1621.5 430.1l7.7-9.1-6.5-8-7.8 9z" fill="#85fc68" stroke="#85fc68"/>
<path d="M1407.2 394.4l8.2-2.7-6.1-7.9-8.2 2.6z" fill="#76ec1c" stroke="#76ec1c"/>
<path d="M1421.5 399.7l8.2-3.1-6.1-7.9-8.2 3z" fill="#6eee20" stroke="#6eee20"/>
<path d="M1435.9 404.6l8.1-3.5-6.1-8-8.2 3.5z" fill="#69ef24" stroke="#69ef24"/>
<path d="M1450.2 409.1l8.1-3.9-6.2-8-8.1 3.9z" fill="#64f129" stroke="#64f129"/>
<path d="M1464.5 413.2l8.1-4.4-6.2-8-8.1 4.4z" fill="#61f22e" stroke="#61f22e"/>
<path d="M1478.8 416.8l8-4.8-6.2-7.9-8 4.7z" fill="#60f334" stroke="#60f334"/>
<path d="M1493.1 420.1l8-5.3-6.3-8-8 5.2z" fill="#5ff539" stroke="#5ff539"/>
<path d="M1507.3 422.8l8-5.6-6.3-8-7.9 5.6z" fill="#60f63f" stroke="#60f63f"/>
<path d="M1521.6 425.2l7.9-6.1-6.3-7.9-7.9 6z" fill="#62f744" stroke="#62f744"/>
<path d="M1535.8 427.2l7.9-6.5-6.3-8-7.9 6.4z" fill="#65f84a" stroke="#65f84a"/>
<path d="M1550.1 428.7l7.9-6.9-6.4-8-7.9 6.9z" fill="#69f94f" stroke="#69f94f"/>
<path d="M1564.4 429.8l7.8-7.3-6.4-8-7.8 7.3z" fill="#6dfa55" stroke="#6dfa55"/>
<path d="M1578.6 430.5l7.8-7.8-6.4-7.9-7.8 7.7z" fill="#72fa5a" stroke="#72fa5a"/>
<path d="M1592.9 430.8l7.8-8.2-6.5-8-7.8 8.1z" fill="#78fb5f" stroke="#78fb5f"/>
<path d="M1607.2 430.6l7.7-8.6-6.4-8-7.8 8.6z" fill="#7efc64" stroke="#7efc64"/>
<path d="M1635.8 429.1l7.7-9.5-6.5-8-7.8 9.4z" fill="#8cfd6c" stroke="#8cfd6c"/>
<path d="M1650.1 427.6l7.7-9.8-6.5-8-7.8 9.8z" fill="#93fd70" stroke="#93fd70"/>
<path d="M1664.4 425.8l7.8-10.3-6.6-8-7.8 10.3z" fill="#9afd74" stroke="#9afd74"/>
<path d="M1678.8 423.5l7.8-10.7-6.7-8-7.7 10.7z" fill="#a2fe78" stroke="#a2fe78"/>
<path d="M1693.2 420.8l7.8-11.1-6.7-8-7.7 11.1z" fill="#aafe7b" stroke="#aafe7b"/>
<path d="M1707.6 417.7l7.8-11.6-6.7-8-7.7 11.6z" fill="#b2fe7d" stroke="#b2fe7d"/>
<path d="M1722.1 414.1l7.8-12-6.8-8-7.7 12z" fill="#bafe80" stroke="#bafe80"/>
<path d="M1736.6 410.1l7.8-12.4-6.8-8-7.7 12.4z" fill="#c2fe82" stroke="#c2fe82"/>
<path d="M1751.2 405.7l7.7-12.9-6.8-7.9-7.7 12.8z" fill="#cbff84" stroke="#cbff84"/>
<path d="M1765.8 400.8l7.7-13.3-6.8-7.9-7.8 13.2z" fill="#d4ff86" stroke="#d4ff86"/>
<path d="M1780.4 395.5l7.8-13.7-6.9-8-7.8 13.7z" fill="#ddff87" stroke="#ddff87"/>
<path d="M1795.1 389.8l7.8-14.2-6.9-8-7.8 14.2z" fill="#e6ff89" stroke="#e6ff89"/>
<path d="M1809.8 383.6l7.9-14.7-7-7.9-7.8 14.6z" fill="#f0ff8a" stroke="#f0ff8a"/>
<path d="M1824.6 376.9l7.9-15.1-7-7.9-7.8 15z" fill="#fbff8a" stroke="#fbff8a"/>
<path d="M1839.5 369.8l7.9-15.5-7.1-8-7.8 15.5z" fill="#fff98b" stroke="#fff98b"/>
<path d="M1513.6 430.9l8-5.7-6.3-8-8 5.6z" fill="#59f63f" stroke="#59f63f"/>
<path d="M1527.9 433.3l7.9-6.1-6.3-8.1-7.9 6.1z" fill="#5cf744" stroke="#5cf744"/>
<path d="M1542.2 435.3l7.9-6.6-6.4-8-7.9 6.5z" fill="#5ff84a" stroke="#5ff84a"/>
<path d="M1556.5 436.8l7.9-7-6.4-8-7.9 6.9z" fill="#62f950" stroke="#62f950"/>
<path d="M1570.8 437.9l7.8-7.4-6.4-8-7.8 7.3z" fill="#67fa55" stroke="#67fa55"/>
<path d="M1585.1 438.6l7.8-7.8-6.5-8.1-7.8 7.8z" fill="#6cfa5a" stroke="#6cfa5a"/>
<path d="M1599.4 438.9l7.8-8.3-6.5-8-7.8 8.2z" fill="#72fb5f" stroke="#72fb5f"/>
<path d="M1613.7 438.7l7.8-8.6-6.6-8.1-7.7 8.6z" fill="#79fc64" stroke="#79fc64"/>
<path d="M1628 438.1l7.8-9-6.6-8.1-7.7 9.1z" fill="#7ffc68" stroke="#7ffc68"/>
<path d="M1642.3 437.1l7.8-9.5-6.6-8-7.7 9.5z" fill="#86fd6d" stroke="#86fd6d"/>
<path d="M1656.7 435.7l7.7-9.9-6.6-8-7.7 9.8z" fill="#8efd71" stroke="#8efd71"/>
<path d="M1671.1 433.9l7.7-10.4-6.6-8-7.8 10.3z" fill="#95fd74" stroke="#95fd74"/>
<path d="M1685.5 431.6l7.7-10.8-6.6-8-7.8 10.7z" fill="#9dfe78" stroke="#9dfe78"/>
<path d="M1699.9 428.9l7.7-11.2-6.6-8-7.8 11.1z" fill="#a5fe7b" stroke="#a5fe7b"/>
<path d="M1714.4 425.8l7.7-11.7-6.7-8-7.8 11.6z" fill="#adfe7e" stroke="#adfe7e"/>
<path d="M1728.9 422.2l7.7-12.1-6.7-8-7.8 12z" fill="#b5fe80" stroke="#b5fe80"/>
<path d="M1398.9 396.7l8.3-2.3-6.1-8-8.3 2.2z" fill="#76ea18" stroke="#76ea18"/>
<path d="M1413.3 402.5l8.2-2.8-6.1-8-8.2 2.7z" fill="#6eec1c" stroke="#6eec1c"/>
<path d="M1427.7 407.8l8.2-3.2-6.2-8-8.2 3.1z" fill="#67ee20" stroke="#67ee20"/>
<path d="M1442.1 412.7l8.1-3.6-6.2-8-8.1 3.5z" fill="#61ef25" stroke="#61ef25"/>
<path d="M1456.4 417.2l8.1-4-6.2-8-8.1 3.9z" fill="#5df12a" stroke="#5df12a"/>
<path d="M1470.7 421.3l8.1-4.5-6.2-8-8.1 4.4z" fill="#5af22f" stroke="#5af22f"/>
<path d="M1485.1 424.9l8-4.8-6.3-8.1-8 4.8z" fill="#59f434" stroke="#59f434"/>
<path d="M1499.4 428.1l7.9-5.3-6.2-8-8 5.3z" fill="#58f539" stroke="#58f539"/>
<path d="M1743.4 418.2l7.8-12.5-6.8-8-7.8 12.4z" fill="#befe82" stroke="#befe82"/>
<path d="M1758 413.8l7.8-13-6.9-8-7.7 12.9z" fill="#c6ff84" stroke="#c6ff84"/>
<path d="M1772.6 408.9l7.8-13.4-6.9-8-7.7 13.3z" fill="#cfff86" stroke="#cfff86"/>
<path d="M1787.3 403.6l7.8-13.8-6.9-8-7.8 13.7z" fill="#d8ff87" stroke="#d8ff87"/>
<path d="M1802 397.8l7.8-14.2-6.9-8-7.8 14.2z" fill="#e2ff89" stroke="#e2ff89"/>
<path d="M1816.8 391.6l7.8-14.7-6.9-8-7.9 14.7z" fill="#ecff8a" stroke="#ecff8a"/>
<path d="M1831.6 385l7.9-15.2-7-8-7.9 15.1z" fill="#f6ff8a" stroke="#f6ff8a"/>
<path d="M1846.5 377.9l7.9-15.6-7-8-7.9 15.5z" fill="#fffd8b" stroke="#fffd8b"/>
<path d="M1605.8 447l7.9-8.3-6.5-8.1-7.8 8.3z" fill="#6dfb5f" stroke="#6dfb5f"/>
<path d="M1620.2 446.9l7.8-8.8-6.5-8-7.8 8.6z" fill="#73fc64" stroke="#73fc64"/>
<path d="M1634.5 446.3l7.8-9.2-6.5-8-7.8 9z" fill="#7afc69" stroke="#7afc69"/>
<path d="M1390.6 398.6l8.3-1.9-6.1-8.1-8.4 1.9z" fill="#78e915" stroke="#78e915"/>
<path d="M1405 404.8l8.3-2.3-6.1-8.1-8.3 2.3z" fill="#6eeb18" stroke="#6eeb18"/>
<path d="M1419.5 410.6l8.2-2.8-6.2-8.1-8.2 2.8z" fill="#66ec1c" stroke="#66ec1c"/>
<path d="M1433.9 415.9l8.2-3.2-6.2-8.1-8.2 3.2z" fill="#5fee20" stroke="#5fee20"/>
<path d="M1448.3 420.9l8.1-3.7-6.2-8.1-8.1 3.6z" fill="#5aef25" stroke="#5aef25"/>
<path d="M1462.6 425.3l8.1-4-6.2-8.1-8.1 4z" fill="#55f12a" stroke="#55f12a"/>
<path d="M1477 429.4l8.1-4.5-6.3-8.1-8.1 4.5z" fill="#53f22f" stroke="#53f22f"/>
<path d="M1491.3 433.1l8.1-5-6.3-8-8 4.8z" fill="#52f434" stroke="#52f434"/>
<path d="M1505.7 436.3l7.9-5.4-6.3-8.1-7.9 5.3z" fill="#52f53a" stroke="#52f53a"/>
<path d="M1520 439.1l7.9-5.8-6.3-8.1-8 5.7z" fill="#53f63f" stroke="#53f63f"/>
<path d="M1534.3 441.5l7.9-6.2-6.4-8.1-7.9 6.1z" fill="#55f745" stroke="#55f745"/>
<path d="M1548.6 443.4l7.9-6.6-6.4-8.1-7.9 6.6z" fill="#58f84a" stroke="#58f84a"/>
<path d="M1562.9 444.9l7.9-7-6.4-8.1-7.9 7z" fill="#5cf950" stroke="#5cf950"/>
<path d="M1577.2 446.1l7.9-7.5-6.5-8.1-7.8 7.4z" fill="#61fa55" stroke="#61fa55"/>
<path d="M1591.5 446.7l7.9-7.8-6.5-8.1-7.8 7.8z" fill="#67fb5a" stroke="#67fb5a"/>
<path d="M1648.9 445.3l7.8-9.6-6.6-8.1-7.8 9.5z" fill="#81fd6d" stroke="#81fd6d"/>
<path d="M1663.3 443.9l7.8-10-6.7-8.1-7.7 9.9z" fill="#88fd71" stroke="#88fd71"/>
<path d="M1677.7 442l7.8-10.4-6.7-8.1-7.7 10.4z" fill="#90fd75" stroke="#90fd75"/>
<path d="M1692.1 439.7l7.8-10.8-6.7-8.1-7.7 10.8z" fill="#98fe78" stroke="#98fe78"/>
<path d="M1706.6 437l7.8-11.2-6.8-8.1-7.7 11.2z" fill="#a0fe7b" stroke="#a0fe7b"/>
<path d="M1721.1 433.9l7.8-11.7-6.8-8.1-7.7 11.7z" fill="#a8fe7e" stroke="#a8fe7e"/>
<path d="M1735.6 430.3l7.8-12.1-6.8-8.1-7.7 12.1z" fill="#b0fe80" stroke="#b0fe80"/>
<path d="M1750.2 426.4l7.8-12.6-6.8-8.1-7.8 12.5z" fill="#b9fe82" stroke="#b9fe82"/>
<path d="M1764.8 421.9l7.8-13-6.8-8.1-7.8 13z" fill="#c2ff84" stroke="#c2ff84"/>
<path d="M1779.5 417l7.8-13.4-6.9-8.1-7.8 13.4z" fill="#cbff86" stroke="#cbff86"/>
<path d="M1794.2 411.7l7.8-13.9-6.9-8-7.8 13.8z" fill="#d4ff87" stroke="#d4ff87"/>
<path d="M1809 406l7.8-14.4-7-8-7.8 14.2z" fill="#deff89" stroke="#deff89"/>
<path d="M1823.8 399.8l7.8-14.8-7-8.1-7.8 14.7z" fill="#e7ff8a" stroke="#e7ff8a"/>
<path d="M1838.7 393.1l7.8-15.2-7-8.1-7.9 15.2z" fill="#f2ff8a" stroke="#f2ff8a"/>
<path d="M1853.6 386l7.9-15.7-7.1-8-7.9 15.6z" fill="#fdff8b" stroke="#fdff8b"/>
<path d="M1382.2 400.1l8.4-1.5-6.2-8.1-8.3 1.5z" fill="#7be711" stroke="#7be711"/>
<path d="M1396.7 406.8l8.3-2-6.1-8.1-8.3 1.9z" fill="#70e915" stroke="#70e915"/>
<path d="M1497.6 441.3l8.1-5-6.3-8.2-8.1 5z" fill="#4af435" stroke="#4af435"/>
<path d="M1512 444.5l8-5.4-6.4-8.2-7.9 5.4z" fill="#4bf53a" stroke="#4bf53a"/>
<path d="M1526.3 447.3l8-5.8-6.4-8.2-7.9 5.8z" fill="#4cf640" stroke="#4cf640"/>
<path d="M1540.7 449.6l7.9-6.2-6.4-8.1-7.9 6.2z" fill="#4ef745" stroke="#4ef745"/>
<path d="M1555 451.6l7.9-6.7-6.4-8.1-7.9 6.6z" fill="#52f84b" stroke="#52f84b"/>
<path d="M1569.3 453.1l7.9-7-6.4-8.2-7.9 7z" fill="#56f950" stroke="#56f950"/>
<path d="M1583.7 454.3l7.8-7.6-6.4-8.1-7.9 7.5z" fill="#5bfa56" stroke="#5bfa56"/>
<path d="M1598 454.9l7.8-7.9-6.4-8.1-7.9 7.8z" fill="#61fb5b" stroke="#61fb5b"/>
<path d="M1612.4 455.2l7.8-8.3-6.5-8.2-7.9 8.3z" fill="#67fb60" stroke="#67fb60"/>
<path d="M1626.7 455.1l7.8-8.8-6.5-8.2-7.8 8.8z" fill="#6efc65" stroke="#6efc65"/>
<path d="M1641.1 454.5l7.8-9.2-6.6-8.2-7.8 9.2z" fill="#74fc69" stroke="#74fc69"/>
<path d="M1655.5 453.5l7.8-9.6-6.6-8.2-7.8 9.6z" fill="#7cfd6d" stroke="#7cfd6d"/>
<path d="M1669.9 452.1l7.8-10.1-6.6-8.1-7.8 10z" fill="#83fd71" stroke="#83fd71"/>
<path d="M1684.4 450.2l7.7-10.5-6.6-8.1-7.8 10.4z" fill="#8bfd75" stroke="#8bfd75"/>
<path d="M1698.8 447.9l7.8-10.9-6.7-8.1-7.8 10.8z" fill="#93fe78" stroke="#93fe78"/>
<path d="M1713.3 445.2l7.8-11.3-6.7-8.1-7.8 11.2z" fill="#9bfe7b" stroke="#9bfe7b"/>
<path d="M1727.9 442.1l7.7-11.8-6.7-8.1-7.8 11.7z" fill="#a3fe7e" stroke="#a3fe7e"/>
<path d="M1742.4 438.5l7.8-12.1-6.8-8.2-7.8 12.1z" fill="#acfe80" stroke="#acfe80"/>
<path d="M1845.7 401.3l7.9-15.3-7.1-8.1-7.8 15.2z" fill="#edff8b" stroke="#edff8b"/>
<path d="M1860.7 394.2l7.9-15.8-7.1-8.1-7.9 15.7z" fill="#f8ff8b" stroke="#f8ff8b"/>
<path d="M1411.2 413l8.3-2.4-6.2-8.1-8.3 2.3z" fill="#66eb18" stroke="#66eb18"/>
<path d="M1425.7 418.8l8.2-2.9-6.2-8.1-8.2 2.8z" fill="#5eec1c" stroke="#5eec1c"/>
<path d="M1440.1 424.1l8.2-3.2-6.2-8.2-8.2 3.2z" fill="#57ee21" stroke="#57ee21"/>
<path d="M1454.5 429l8.1-3.7-6.2-8.1-8.1 3.7z" fill="#52ef25" stroke="#52ef25"/>
<path d="M1468.9 433.5l8.1-4.1-6.3-8.1-8.1 4z" fill="#4ef12a" stroke="#4ef12a"/>
<path d="M1483.3 437.6l8-4.5-6.2-8.2-8.1 4.5z" fill="#4cf22f" stroke="#4cf22f"/>
<path d="M1757.1 434.5l7.7-12.6-6.8-8.1-7.8 12.6z" fill="#b4fe83" stroke="#b4fe83"/>
<path d="M1771.7 430.1l7.8-13.1-6.9-8.1-7.8 13z" fill="#bdff84" stroke="#bdff84"/>
<path d="M1786.4 425.2l7.8-13.5-6.9-8.1-7.8 13.4z" fill="#c6ff86" stroke="#c6ff86"/>
<path d="M1801.2 419.9l7.8-13.9-7-8.2-7.8 13.9z" fill="#cfff88" stroke="#cfff88"/>
<path d="M1816 414.2l7.8-14.4-7-8.2-7.8 14.4z" fill="#d9ff89" stroke="#d9ff89"/>
<path d="M1830.8 407.9l7.9-14.8-7.1-8.1-7.8 14.8z" fill="#e3ff8a" stroke="#e3ff8a"/>
<path d="M1590.2 462.5l7.8-7.6-6.5-8.2-7.8 7.6z" fill="#56fa57" stroke="#56fa57"/>
<path d="M1604.5 463.2l7.9-8-6.6-8.2-7.8 7.9z" fill="#5bfb5b" stroke="#5bfb5b"/>
<path d="M1618.9 463.5l7.8-8.4-6.5-8.2-7.8 8.3z" fill="#61fb60" stroke="#61fb60"/>
<path d="M1633.3 463.3l7.8-8.8-6.6-8.2-7.8 8.8z" fill="#68fc65" stroke="#68fc65"/>
<path d="M1647.7 462.7l7.8-9.2-6.6-8.2-7.8 9.2z" fill="#6ffc69" stroke="#6ffc69"/>
<path d="M1373.7 401.3l8.5-1.2-6.1-8.1-8.5 1.1z" fill="#80e60f" stroke="#80e60f"/>
<path d="M1388.3 408.4l8.4-1.6-6.1-8.2-8.4 1.5z" fill="#73e712" stroke="#73e712"/>
<path d="M1402.9 415l8.3-2-6.2-8.2-8.3 2z" fill="#68e915" stroke="#68e915"/>
<path d="M1417.4 421.2l8.3-2.4-6.2-8.2-8.3 2.4z" fill="#5eeb19" stroke="#5eeb19"/>
<path d="M1431.9 427l8.2-2.9-6.2-8.2-8.2 2.9z" fill="#56ec1d" stroke="#56ec1d"/>
<path d="M1446.3 432.4l8.2-3.4-6.2-8.1-8.2 3.2z" fill="#4fee21" stroke="#4fee21"/>
<path d="M1460.8 437.3l8.1-3.8-6.3-8.2-8.1 3.7z" fill="#4af026" stroke="#4af026"/>
<path d="M1475.2 441.8l8.1-4.2-6.3-8.2-8.1 4.1z" fill="#47f12b" stroke="#47f12b"/>
<path d="M1489.6 445.9l8-4.6-6.3-8.2-8 4.5z" fill="#44f230" stroke="#44f230"/>
<path d="M1504 449.5l8-5-6.3-8.2-8.1 5z" fill="#43f435" stroke="#43f435"/>
<path d="M1518.3 452.7l8-5.4-6.3-8.2-8 5.4z" fill="#44f53b" stroke="#44f53b"/>
<path d="M1532.7 455.5l8-5.9-6.4-8.1-8 5.8z" fill="#45f640" stroke="#45f640"/>
<path d="M1547.1 457.9l7.9-6.3-6.4-8.2-7.9 6.2z" fill="#48f746" stroke="#48f746"/>
<path d="M1561.4 459.9l7.9-6.8-6.4-8.2-7.9 6.7z" fill="#4bf84b" stroke="#4bf84b"/>
<path d="M1575.8 461.4l7.9-7.1-6.5-8.2-7.9 7z" fill="#51f951" stroke="#51f951"/>
<path d="M1662.1 461.7l7.8-9.6-6.6-8.2-7.8 9.6z" fill="#76fd6e" stroke="#76fd6e"/>
<path d="M1676.6 460.3l7.8-10.1-6.7-8.2-7.8 10.1z" fill="#7efd71" stroke="#7efd71"/>
<path d="M1691.1 458.5l7.7-10.6-6.7-8.2-7.7 10.5z" fill="#86fd75" stroke="#86fd75"/>
<path d="M1705.6 456.2l7.7-11-6.7-8.2-7.8 10.9z" fill="#8efe78" stroke="#8efe78"/>
<path d="M1720.1 453.5l7.8-11.4-6.8-8.2-7.8 11.3z" fill="#96fe7b" stroke="#96fe7b"/>
<path d="M1734.7 450.4l7.7-11.9-6.8-8.2-7.7 11.8z" fill="#9efe7e" stroke="#9efe7e"/>
<path d="M1749.3 446.8l7.8-12.3-6.9-8.1-7.8 12.1z" fill="#a7fe81" stroke="#a7fe81"/>
<path d="M1763.9 442.8l7.8-12.7-6.9-8.2-7.7 12.6z" fill="#b0fe83" stroke="#b0fe83"/>
<path d="M1778.6 438.4l7.8-13.2-6.9-8.2-7.8 13.1z" fill="#b8ff85" stroke="#b8ff85"/>
<path d="M1793.3 433.5l7.9-13.6-7-8.2-7.8 13.5z" fill="#c2ff86" stroke="#c2ff86"/>
<path d="M1808.1 428.2l7.9-14-7-8.2-7.8 13.9z" fill="#cbff88" stroke="#cbff88"/>
<path d="M1823 422.4l7.8-14.5-7-8.1-7.8 14.4z" fill="#d5ff89" stroke="#d5ff89"/>
<path d="M1837.8 416.2l7.9-14.9-7-8.2-7.9 14.8z" fill="#dfff8a" stroke="#dfff8a"/>
<path d="M1852.8 409.5l7.9-15.3-7.1-8.2-7.9 15.3z" fill="#e9ff8b" stroke="#e9ff8b"/>
<path d="M1867.8 402.4l7.9-15.8-7.1-8.2-7.9 15.8z" fill="#f4ff8b" stroke="#f4ff8b"/>
<path d="M1365.2 402.1l8.5-.8-6.1-8.2-8.5 .7z" fill="#81dd0c" stroke="#81dd0c"/>
<path d="M1379.9 409.6l8.4-1.2-6.1-8.3-8.5 1.2z" fill="#77e60f" stroke="#77e60f"/>
<path d="M1394.5 416.7l8.4-1.7-6.2-8.2-8.4 1.6z" fill="#6be712" stroke="#6be712"/>
<path d="M1409 423.3l8.4-2.1-6.2-8.2-8.3 2z" fill="#60e915" stroke="#60e915"/>
<path d="M1481.5 450.1l8.1-4.2-6.3-8.3-8.1 4.2z" fill="#3ff12b" stroke="#3ff12b"/>
<path d="M1495.9 454.2l8.1-4.7-6.4-8.2-8 4.6z" fill="#3df330" stroke="#3df330"/>
<path d="M1510.3 457.8l8-5.1-6.3-8.2-8 5z" fill="#3cf435" stroke="#3cf435"/>
<path d="M1524.7 461l8-5.5-6.4-8.2-8 5.4z" fill="#3df53b" stroke="#3df53b"/>
<path d="M1539.1 463.8l8-5.9-6.4-8.3-8 5.9z" fill="#40f642" stroke="#40f642"/>
<path d="M1553.5 466.2l7.9-6.3-6.4-8.3-7.9 6.3z" fill="#46f74b" stroke="#46f74b"/>
<path d="M1567.9 468.2l7.9-6.8-6.5-8.3-7.9 6.8z" fill="#4cf852" stroke="#4cf852"/>
<path d="M1582.3 469.7l7.9-7.2-6.5-8.2-7.9 7.1z" fill="#51f958" stroke="#51f958"/>
<path d="M1596.7 470.8l7.8-7.6-6.5-8.3-7.8 7.6z" fill="#56fa5e" stroke="#56fa5e"/>
<path d="M1611.1 471.5l7.8-8-6.5-8.3-7.9 8z" fill="#5bfb62" stroke="#5bfb62"/>
<path d="M1625.5 471.8l7.8-8.5-6.6-8.2-7.8 8.4z" fill="#60fb65" stroke="#60fb65"/>
<path d="M1639.9 471.6l7.8-8.9-6.6-8.2-7.8 8.8z" fill="#65fc68" stroke="#65fc68"/>
<path d="M1654.3 471.1l7.8-9.4-6.6-8.2-7.8 9.2z" fill="#6afc6a" stroke="#6afc6a"/>
<path d="M1668.8 470.1l7.8-9.8-6.7-8.2-7.8 9.6z" fill="#71fd6e" stroke="#71fd6e"/>
<path d="M1683.3 468.6l7.8-10.1-6.7-8.3-7.8 10.1z" fill="#79fd72" stroke="#79fd72"/>
<path d="M1697.8 466.8l7.8-10.6-6.8-8.3-7.7 10.6z" fill="#81fd75" stroke="#81fd75"/>
<path d="M1712.3 464.5l7.8-11-6.8-8.3-7.7 11z" fill="#89fe79" stroke="#89fe79"/>
<path d="M1726.9 461.8l7.8-11.4-6.8-8.3-7.8 11.4z" fill="#91fe7c" stroke="#91fe7c"/>
<path d="M1741.5 458.7l7.8-11.9-6.9-8.3-7.7 11.9z" fill="#9afe7e" stroke="#9afe7e"/>
<path d="M1756.1 455.1l7.8-12.3-6.8-8.3-7.8 12.3z" fill="#a2fe81" stroke="#a2fe81"/>
<path d="M1830 430.7l7.8-14.5-7-8.3-7.8 14.5z" fill="#d0ff89" stroke="#d0ff89"/>
<path d="M1844.9 424.5l7.9-15-7.1-8.2-7.9 14.9z" fill="#daff8a" stroke="#daff8a"/>
<path d="M1859.9 417.8l7.9-15.4-7.1-8.2-7.9 15.3z" fill="#e4ff8b" stroke="#e4ff8b"/>
<path d="M1875 410.7l7.9-15.9-7.2-8.2-7.9 15.8z" fill="#efff8b" stroke="#efff8b"/>
<path d="M1423.6 429.5l8.3-2.5-6.2-8.2-8.3 2.4z" fill="#56eb19" stroke="#56eb19"/>
<path d="M1438.1 435.3l8.2-2.9-6.2-8.3-8.2 2.9z" fill="#4eed1d" stroke="#4eed1d"/>
<path d="M1452.6 440.7l8.2-3.4-6.3-8.3-8.2 3.4z" fill="#48ee21" stroke="#48ee21"/>
<path d="M1467 445.6l8.2-3.8-6.3-8.3-8.1 3.8z" fill="#43f026" stroke="#43f026"/>
<path d="M1770.8 451.1l7.8-12.7-6.9-8.3-7.8 12.7z" fill="#abfe83" stroke="#abfe83"/>
<path d="M1785.5 446.7l7.8-13.2-6.9-8.3-7.8 13.2z" fill="#b4ff85" stroke="#b4ff85"/>
<path d="M1800.3 441.8l7.8-13.6-6.9-8.3-7.9 13.6z" fill="#bdff86" stroke="#bdff86"/>
<path d="M1815.1 436.5l7.9-14.1-7-8.2-7.9 14z" fill="#c6ff88" stroke="#c6ff88"/>
<path d="M1574.4 476.5l7.9-6.8-6.5-8.3-7.9 6.8z" fill="#4cf859" stroke="#4cf859"/>
<path d="M1588.8 478.1l7.9-7.3-6.5-8.3-7.9 7.2z" fill="#51f95f" stroke="#51f95f"/>
<path d="M1603.2 479.2l7.9-7.7-6.6-8.3-7.8 7.6z" fill="#57fa64" stroke="#57fa64"/>
<path d="M1617.6 479.9l7.9-8.1-6.6-8.3-7.8 8z" fill="#5cfb69" stroke="#5cfb69"/>
<path d="M1632.1 480.2l7.8-8.6-6.6-8.3-7.8 8.5z" fill="#61fb6c" stroke="#61fb6c"/>
<path d="M1646.5 480l7.8-8.9-6.6-8.4-7.8 8.9z" fill="#65fc6e" stroke="#65fc6e"/>
<path d="M1661 479.4l7.8-9.3-6.7-8.4-7.8 9.4z" fill="#6afc70" stroke="#6afc70"/>
<path d="M1356.7 402.4l8.5-.3-6.1-8.3-8.6 .3z" fill="#82d20a" stroke="#82d20a"/>
<path d="M1371.4 410.4l8.5-.8-6.2-8.3-8.5 .8z" fill="#79de0d" stroke="#79de0d"/>
<path d="M1386 417.9l8.5-1.2-6.2-8.3-8.4 1.2z" fill="#6fe60f" stroke="#6fe60f"/>
<path d="M1400.7 425l8.3-1.7-6.1-8.3-8.4 1.7z" fill="#62e812" stroke="#62e812"/>
<path d="M1415.2 431.7l8.4-2.2-6.2-8.3-8.4 2.1z" fill="#57e916" stroke="#57e916"/>
<path d="M1429.8 437.9l8.3-2.6-6.2-8.3-8.3 2.5z" fill="#4eeb19" stroke="#4eeb19"/>
<path d="M1444.3 443.7l8.3-3-6.3-8.3-8.2 2.9z" fill="#46ed1d" stroke="#46ed1d"/>
<path d="M1458.9 449l8.1-3.4-6.2-8.3-8.2 3.4z" fill="#40ee22" stroke="#40ee22"/>
<path d="M1473.3 453.9l8.2-3.8-6.3-8.3-8.2 3.8z" fill="#3bf026" stroke="#3bf026"/>
<path d="M1487.8 458.4l8.1-4.2-6.3-8.3-8.1 4.2z" fill="#37f12b" stroke="#37f12b"/>
<path d="M1502.3 462.5l8-4.7-6.3-8.3-8.1 4.7z" fill="#35f330" stroke="#35f330"/>
<path d="M1516.7 466.2l8-5.2-6.4-8.3-8 5.1z" fill="#36f437" stroke="#36f437"/>
<path d="M1531.1 469.4l8-5.6-6.4-8.3-8 5.5z" fill="#3bf541" stroke="#3bf541"/>
<path d="M1545.5 472.2l8-6-6.4-8.3-8 5.9z" fill="#41f64a" stroke="#41f64a"/>
<path d="M1559.9 474.6l8-6.4-6.5-8.3-7.9 6.3z" fill="#46f752" stroke="#46f752"/>
<path d="M1675.5 478.4l7.8-9.8-6.7-8.3-7.8 9.8z" fill="#6efd70" stroke="#6efd70"/>
<path d="M1690 477l7.8-10.2-6.7-8.3-7.8 10.1z" fill="#74fd72" stroke="#74fd72"/>
<path d="M1704.5 475.2l7.8-10.7-6.7-8.3-7.8 10.6z" fill="#7cfd75" stroke="#7cfd75"/>
<path d="M1719.1 472.9l7.8-11.1-6.8-8.3-7.8 11z" fill="#84fe79" stroke="#84fe79"/>
<path d="M1733.7 470.2l7.8-11.5-6.8-8.3-7.8 11.4z" fill="#8cfe7c" stroke="#8cfe7c"/>
<path d="M1748.3 467l7.8-11.9-6.8-8.3-7.8 11.9z" fill="#95fe7e" stroke="#95fe7e"/>
<path d="M1763 463.5l7.8-12.4-6.9-8.3-7.8 12.3z" fill="#9dfe81" stroke="#9dfe81"/>
<path d="M1777.7 459.5l7.8-12.8-6.9-8.3-7.8 12.7z" fill="#a6fe83" stroke="#a6fe83"/>
<path d="M1792.5 455l7.8-13.2-7-8.3-7.8 13.2z" fill="#afff85" stroke="#afff85"/>
<path d="M1807.3 450.1l7.8-13.6-7-8.3-7.8 13.6z" fill="#b8ff86" stroke="#b8ff86"/>
<path d="M1822.1 444.8l7.9-14.1-7-8.3-7.9 14.1z" fill="#c2ff88" stroke="#c2ff88"/>
<path d="M1837 439l7.9-14.5-7.1-8.3-7.8 14.5z" fill="#cbff89" stroke="#cbff89"/>
<path d="M1852 432.8l7.9-15-7.1-8.3-7.9 15z" fill="#d5ff8a" stroke="#d5ff8a"/>
<path d="M1867 426.2l8-15.5-7.2-8.3-7.9 15.4z" fill="#e0ff8b" stroke="#e0ff8b"/>
<path d="M1882.1 419l8-15.9-7.2-8.3-7.9 15.9z" fill="#ebff8b" stroke="#ebff8b"/>
<path d="M1348 402.4l8.7 0-6.2-8.3-8.6-.1z" fill="#84c808" stroke="#84c808"/>
<path d="M1362.8 410.8l8.6-.4-6.2-8.3-8.5 .3z" fill="#7bd30a" stroke="#7bd30a"/>
<path d="M1377.5 418.8l8.5-.9-6.1-8.3-8.5 .8z" fill="#71df0d" stroke="#71df0d"/>
<path d="M1392.2 426.3l8.5-1.3-6.2-8.3-8.5 1.2z" fill="#66e60f" stroke="#66e60f"/>
<path d="M1406.9 433.4l8.3-1.7-6.2-8.4-8.3 1.7z" fill="#5ae812" stroke="#5ae812"/>
<path d="M1421.5 440.1l8.3-2.2-6.2-8.4-8.4 2.2z" fill="#4fe916" stroke="#4fe916"/>
<path d="M1465.2 457.4l8.1-3.5-6.3-8.3-8.1 3.4z" fill="#38ee22" stroke="#38ee22"/>
<path d="M1479.7 462.4l8.1-4-6.3-8.3-8.2 3.8z" fill="#33f027" stroke="#33f027"/>
<path d="M1494.2 466.9l8.1-4.4-6.4-8.3-8.1 4.2z" fill="#30f12c" stroke="#30f12c"/>
<path d="M1508.6 470.9l8.1-4.7-6.4-8.4-8 4.7z" fill="#31f334" stroke="#31f334"/>
<path d="M1523.1 474.6l8-5.2-6.4-8.4-8 5.2z" fill="#36f43f" stroke="#36f43f"/>
<path d="M1537.5 477.8l8-5.6-6.4-8.4-8 5.6z" fill="#3cf549" stroke="#3cf549"/>
<path d="M1552 480.6l7.9-6-6.4-8.4-8 6z" fill="#41f652" stroke="#41f652"/>
<path d="M1566.4 483l8-6.5-6.5-8.3-8 6.4z" fill="#47f75a" stroke="#47f75a"/>
<path d="M1580.9 485l7.9-6.9-6.5-8.4-7.9 6.8z" fill="#4cf861" stroke="#4cf861"/>
<path d="M1595.3 486.5l7.9-7.3-6.5-8.4-7.9 7.3z" fill="#52f966" stroke="#52f966"/>
<path d="M1609.8 487.6l7.8-7.7-6.5-8.4-7.9 7.7z" fill="#57fa6b" stroke="#57fa6b"/>
<path d="M1624.2 488.3l7.9-8.1-6.6-8.4-7.9 8.1z" fill="#5cfb6f" stroke="#5cfb6f"/>
<path d="M1638.7 488.6l7.8-8.6-6.6-8.4-7.8 8.6z" fill="#61fb72" stroke="#61fb72"/>
<path d="M1653.2 488.4l7.8-9-6.7-8.3-7.8 8.9z" fill="#66fc74" stroke="#66fc74"/>
<path d="M1667.7 487.9l7.8-9.5-6.7-8.3-7.8 9.3z" fill="#6afc76" stroke="#6afc76"/>
<path d="M1682.2 486.9l7.8-9.9-6.7-8.4-7.8 9.8z" fill="#6efd76" stroke="#6efd76"/>
<path d="M1696.7 485.4l7.8-10.2-6.7-8.4-7.8 10.2z" fill="#72fd76" stroke="#72fd76"/>
<path d="M1711.3 483.6l7.8-10.7-6.8-8.4-7.8 10.7z" fill="#76fd76" stroke="#76fd76"/>
<path d="M1725.9 481.3l7.8-11.1-6.8-8.4-7.8 11.1z" fill="#7ffe79" stroke="#7ffe79"/>
<path d="M1740.5 478.6l7.8-11.6-6.8-8.3-7.8 11.5z" fill="#87fe7c" stroke="#87fe7c"/>
<path d="M1755.2 475.5l7.8-12-6.9-8.4-7.8 11.9z" fill="#90fe7f" stroke="#90fe7f"/>
<path d="M1769.9 471.9l7.8-12.4-6.9-8.4-7.8 12.4z" fill="#98fe81" stroke="#98fe81"/>
<path d="M1814.3 458.6l7.8-13.8-7-8.3-7.8 13.6z" fill="#b4ff86" stroke="#b4ff86"/>
<path d="M1829.2 453.2l7.8-14.2-7-8.3-7.9 14.1z" fill="#bdff88" stroke="#bdff88"/>
<path d="M1844.1 447.5l7.9-14.7-7.1-8.3-7.9 14.5z" fill="#c7ff89" stroke="#c7ff89"/>
<path d="M1859.1 441.2l7.9-15-7.1-8.4-7.9 15z" fill="#d1ff8a" stroke="#d1ff8a"/>
<path d="M1874.2 434.6l7.9-15.6-7.1-8.3-8 15.5z" fill="#dbff8b" stroke="#dbff8b"/>
<path d="M1889.3 427.4l8-15.9-7.2-8.4-8 15.9z" fill="#e6ff8b" stroke="#e6ff8b"/>
<path d="M1436.1 446.3l8.2-2.6-6.2-8.4-8.3 2.6z" fill="#46eb1a" stroke="#46eb1a"/>
<path d="M1450.6 452.1l8.3-3.1-6.3-8.3-8.3 3z" fill="#3eed1e" stroke="#3eed1e"/>
<path d="M1784.6 467.9l7.9-12.9-7-8.3-7.8 12.8z" fill="#a1fe83" stroke="#a1fe83"/>
<path d="M1799.4 463.4l7.9-13.3-7-8.3-7.8 13.2z" fill="#aaff85" stroke="#aaff85"/>
<path d="M1558.5 489.1l7.9-6.1-6.5-8.4-7.9 6z" fill="#42f759" stroke="#42f759"/>
<path d="M1572.9 491.5l8-6.5-6.5-8.5-8 6.5z" fill="#47f861" stroke="#47f861"/>
<path d="M1587.4 493.4l7.9-6.9-6.5-8.4-7.9 6.9z" fill="#4df868" stroke="#4df868"/>
<path d="M1601.9 495l7.9-7.4-6.6-8.4-7.9 7.3z" fill="#52f96d" stroke="#52f96d"/>
<path d="M1616.3 496.1l7.9-7.8-6.6-8.4-7.8 7.7z" fill="#57fa72" stroke="#57fa72"/>
<path d="M1630.8 496.8l7.9-8.2-6.6-8.4-7.9 8.1z" fill="#5cfb76" stroke="#5cfb76"/>
<path d="M1645.3 497.1l7.9-8.7-6.7-8.4-7.8 8.6z" fill="#61fb79" stroke="#61fb79"/>
<path d="M1659.8 496.9l7.9-9-6.7-8.5-7.8 9z" fill="#66fc7b" stroke="#66fc7b"/>
<path d="M1674.4 496.3l7.8-9.4-6.7-8.5-7.8 9.5z" fill="#6afc7c" stroke="#6afc7c"/>
<path d="M1339.3 402l8.7 .4-6.1-8.4-8.7-.5z" fill="#85be07" stroke="#85be07"/>
<path d="M1354.2 410.8l8.6 0-6.1-8.4-8.7 0z" fill="#7cc908" stroke="#7cc908"/>
<path d="M1369 419.3l8.5-.5-6.1-8.4-8.6 .4z" fill="#73d40b" stroke="#73d40b"/>
<path d="M1383.7 427.2l8.5-.9-6.2-8.4-8.5 .9z" fill="#69df0d" stroke="#69df0d"/>
<path d="M1398.4 434.8l8.5-1.4-6.2-8.4-8.5 1.3z" fill="#5ee610" stroke="#5ee610"/>
<path d="M1413.1 441.9l8.4-1.8-6.3-8.4-8.3 1.7z" fill="#51e813" stroke="#51e813"/>
<path d="M1427.7 448.5l8.4-2.2-6.3-8.4-8.3 2.2z" fill="#47ea16" stroke="#47ea16"/>
<path d="M1442.3 454.7l8.3-2.6-6.3-8.4-8.2 2.6z" fill="#3deb1a" stroke="#3deb1a"/>
<path d="M1456.9 460.5l8.3-3.1-6.3-8.4-8.3 3.1z" fill="#36ed1e" stroke="#36ed1e"/>
<path d="M1471.5 465.9l8.2-3.5-6.4-8.5-8.1 3.5z" fill="#30ee22" stroke="#30ee22"/>
<path d="M1486 470.8l8.2-3.9-6.4-8.5-8.1 4z" fill="#2bf027" stroke="#2bf027"/>
<path d="M1500.5 475.3l8.1-4.4-6.3-8.4-8.1 4.4z" fill="#2cf130" stroke="#2cf130"/>
<path d="M1515 479.4l8.1-4.8-6.4-8.4-8.1 4.7z" fill="#31f33c" stroke="#31f33c"/>
<path d="M1529.5 483.1l8-5.3-6.4-8.4-8 5.2z" fill="#37f447" stroke="#37f447"/>
<path d="M1544 486.3l8-5.7-6.5-8.4-8 5.6z" fill="#3cf551" stroke="#3cf551"/>
<path d="M1688.9 495.3l7.8-9.9-6.7-8.4-7.8 9.9z" fill="#6ffd7c" stroke="#6ffd7c"/>
<path d="M1703.5 493.9l7.8-10.3-6.8-8.4-7.8 10.2z" fill="#72fd7c" stroke="#72fd7c"/>
<path d="M1718.1 492.1l7.8-10.8-6.8-8.4-7.8 10.7z" fill="#76fd7b" stroke="#76fd7b"/>
<path d="M1732.7 489.8l7.8-11.2-6.8-8.4-7.8 11.1z" fill="#7afe79" stroke="#7afe79"/>
<path d="M1747.4 487.1l7.8-11.6-6.9-8.5-7.8 11.6z" fill="#82fe7c" stroke="#82fe7c"/>
<path d="M1762.1 483.9l7.8-12-6.9-8.4-7.8 12z" fill="#8bfe7f" stroke="#8bfe7f"/>
<path d="M1776.8 480.4l7.8-12.5-6.9-8.4-7.8 12.4z" fill="#94fe81" stroke="#94fe81"/>
<path d="M1791.6 476.4l7.8-13-6.9-8.4-7.9 12.9z" fill="#9cfe83" stroke="#9cfe83"/>
<path d="M1806.4 471.9l7.9-13.3-7-8.5-7.9 13.3z" fill="#a6ff85" stroke="#a6ff85"/>
<path d="M1821.3 467l7.9-13.8-7.1-8.4-7.8 13.8z" fill="#afff87" stroke="#afff87"/>
<path d="M1836.2 461.7l7.9-14.2-7.1-8.5-7.8 14.2z" fill="#b8ff88" stroke="#b8ff88"/>
<path d="M1851.2 455.9l7.9-14.7-7.1-8.4-7.9 14.7z" fill="#c2ff89" stroke="#c2ff89"/>
<path d="M1866.3 449.7l7.9-15.1-7.2-8.4-7.9 15z" fill="#ccff8a" stroke="#ccff8a"/>
<path d="M1881.4 443l7.9-15.6-7.2-8.4-7.9 15.6z" fill="#d7ff8b" stroke="#d7ff8b"/>
<path d="M1896.5 435.9l8-16-7.2-8.4-8 15.9z" fill="#e2ff8b" stroke="#e2ff8b"/>
<path d="M1330.6 401.1l8.7 .9-6.1-8.5-8.8-.8z" fill="#87b305" stroke="#87b305"/>
<path d="M1345.5 410.5l8.7 .3-6.2-8.4-8.7-.4z" fill="#7ebe07" stroke="#7ebe07"/>
<path d="M1360.3 419.3l8.7 0-6.2-8.5-8.6 0z" fill="#75ca09" stroke="#75ca09"/>
<path d="M1375.2 427.8l8.5-.6-6.2-8.4-8.5 .5z" fill="#6bd50b" stroke="#6bd50b"/>
<path d="M1389.9 435.7l8.5-.9-6.2-8.5-8.5 .9z" fill="#61e00d" stroke="#61e00d"/>
<path d="M1404.7 443.3l8.4-1.4-6.2-8.5-8.5 1.4z" fill="#55e610" stroke="#55e610"/>
<path d="M1419.4 450.4l8.3-1.9-6.2-8.4-8.4 1.8z" fill="#49e813" stroke="#49e813"/>
<path d="M1434 457l8.3-2.3-6.2-8.4-8.4 2.2z" fill="#3eea16" stroke="#3eea16"/>
<path d="M1448.6 463.3l8.3-2.8-6.3-8.4-8.3 2.6z" fill="#35eb1a" stroke="#35eb1a"/>
<path d="M1463.2 469.1l8.3-3.2-6.3-8.5-8.3 3.1z" fill="#2eed1e" stroke="#2eed1e"/>
<path d="M1477.8 474.4l8.2-3.6-6.3-8.4-8.2 3.5z" fill="#28ef23" stroke="#28ef23"/>
<path d="M1492.4 479.4l8.1-4.1-6.3-8.4-8.2 3.9z" fill="#27f02c" stroke="#27f02c"/>
<path d="M1506.9 483.9l8.1-4.5-6.4-8.5-8.1 4.4z" fill="#2cf238" stroke="#2cf238"/>
<path d="M1521.4 487.9l8.1-4.8-6.4-8.5-8.1 4.8z" fill="#32f344" stroke="#32f344"/>
<path d="M1536 491.6l8-5.3-6.5-8.5-8 5.3z" fill="#37f44f" stroke="#37f44f"/>
<path d="M1550.5 494.8l8-5.7-6.5-8.5-8 5.7z" fill="#3cf559" stroke="#3cf559"/>
<path d="M1564.9 497.6l8-6.1-6.5-8.5-7.9 6.1z" fill="#42f761" stroke="#42f761"/>
<path d="M1579.4 500l8-6.6-6.5-8.4-8 6.5z" fill="#47f869" stroke="#47f869"/>
<path d="M1593.9 502l8-7-6.6-8.5-7.9 6.9z" fill="#4df96f" stroke="#4df96f"/>
<path d="M1608.4 503.5l7.9-7.4-6.5-8.5-7.9 7.4z" fill="#52f975" stroke="#52f975"/>
<path d="M1622.9 504.6l7.9-7.8-6.6-8.5-7.9 7.8z" fill="#58fa79" stroke="#58fa79"/>
<path d="M1637.4 505.3l7.9-8.2-6.6-8.5-7.9 8.2z" fill="#5dfb7d" stroke="#5dfb7d"/>
<path d="M1652 505.6l7.8-8.7-6.6-8.5-7.9 8.7z" fill="#62fb7f" stroke="#62fb7f"/>
<path d="M1666.5 505.5l7.9-9.2-6.7-8.4-7.9 9z" fill="#66fc81" stroke="#66fc81"/>
<path d="M1681.1 504.9l7.8-9.6-6.7-8.4-7.8 9.4z" fill="#6bfc82" stroke="#6bfc82"/>
<path d="M1695.6 503.9l7.9-10-6.8-8.5-7.8 9.9z" fill="#6ffd82" stroke="#6ffd82"/>
<path d="M1710.3 502.5l7.8-10.4-6.8-8.5-7.8 10.3z" fill="#73fd82" stroke="#73fd82"/>
<path d="M1724.9 500.6l7.8-10.8-6.8-8.5-7.8 10.8z" fill="#76fd80" stroke="#76fd80"/>
<path d="M1739.5 498.3l7.9-11.2-6.9-8.5-7.8 11.2z" fill="#79fe7e" stroke="#79fe7e"/>
<path d="M1754.2 495.6l7.9-11.7-6.9-8.4-7.8 11.6z" fill="#7dfe7c" stroke="#7dfe7c"/>
<path d="M1769 492.5l7.8-12.1-6.9-8.5-7.8 12z" fill="#86fe7f" stroke="#86fe7f"/>
<path d="M1783.7 488.9l7.9-12.5-7-8.5-7.8 12.5z" fill="#8ffe81" stroke="#8ffe81"/>
<path d="M1798.6 484.9l7.8-13-7-8.5-7.8 13z" fill="#98fe83" stroke="#98fe83"/>
<path d="M1813.4 480.5l7.9-13.5-7-8.4-7.9 13.3z" fill="#a1ff85" stroke="#a1ff85"/>
<path d="M1828.3 475.6l7.9-13.9-7-8.5-7.9 13.8z" fill="#aaff87" stroke="#aaff87"/>
<path d="M1843.3 470.2l7.9-14.3-7.1-8.4-7.9 14.2z" fill="#b4ff88" stroke="#b4ff88"/>
<path d="M1858.3 464.5l8-14.8-7.2-8.5-7.9 14.7z" fill="#beff89" stroke="#beff89"/>
<path d="M1873.4 458.2l8-15.2-7.2-8.4-7.9 15.1z" fill="#c8ff8a" stroke="#c8ff8a"/>
<path d="M1888.6 451.6l7.9-15.7-7.2-8.5-7.9 15.6z" fill="#d2ff8b" stroke="#d2ff8b"/>
<path d="M1903.8 444.4l8-16.1-7.3-8.4-8 16z" fill="#ddff8b" stroke="#ddff8b"/>
<path d="M1440.3 465.6l8.3-2.3-6.3-8.6-8.3 2.3z" fill="#36ea17" stroke="#36ea17"/>
<path d="M1542.4 500.2l8.1-5.4-6.5-8.5-8 5.3z" fill="#37f457" stroke="#37f457"/>
<path d="M1556.9 503.4l8-5.8-6.4-8.5-8 5.7z" fill="#3df660" stroke="#3df660"/>
<path d="M1571.5 506.2l7.9-6.2-6.5-8.5-8 6.1z" fill="#42f769" stroke="#42f769"/>
<path d="M1586 508.6l7.9-6.6-6.5-8.6-8 6.6z" fill="#48f870" stroke="#48f870"/>
<path d="M1600.5 510.6l7.9-7.1-6.5-8.5-8 7z" fill="#4df976" stroke="#4df976"/>
<path d="M1615 512.1l7.9-7.5-6.6-8.5-7.9 7.4z" fill="#53f97c" stroke="#53f97c"/>
<path d="M1629.6 513.2l7.8-7.9-6.6-8.5-7.9 7.8z" fill="#58fa80" stroke="#58fa80"/>
<path d="M1644.1 513.9l7.9-8.3-6.7-8.5-7.9 8.2z" fill="#5dfb83" stroke="#5dfb83"/>
<path d="M1658.7 514.2l7.8-8.7-6.7-8.6-7.8 8.7z" fill="#62fb86" stroke="#62fb86"/>
<path d="M1673.2 514.1l7.9-9.2-6.7-8.6-7.9 9.2z" fill="#67fc87" stroke="#67fc87"/>
<path d="M1687.8 513.5l7.8-9.6-6.7-8.6-7.8 9.6z" fill="#6bfc88" stroke="#6bfc88"/>
<path d="M1790.7 497.5l7.9-12.6-7-8.5-7.9 12.5z" fill="#8afe81" stroke="#8afe81"/>
<path d="M1321.7 399.9l8.9 1.2-6.2-8.4-8.8-1.3z" fill="#89a904" stroke="#89a904"/>
<path d="M1336.7 409.7l8.8 .8-6.2-8.5-8.7-.9z" fill="#80b405" stroke="#80b405"/>
<path d="M1351.7 419l8.6 .3-6.1-8.5-8.7-.3z" fill="#77bf07" stroke="#77bf07"/>
<path d="M1366.5 427.9l8.7-.1-6.2-8.5-8.7 0z" fill="#6dcb09" stroke="#6dcb09"/>
<path d="M1381.4 436.3l8.5-.6-6.2-8.5-8.5 .6z" fill="#63d60b" stroke="#63d60b"/>
<path d="M1396.2 444.3l8.5-1-6.3-8.5-8.5 .9z" fill="#59e10d" stroke="#59e10d"/>
<path d="M1410.9 451.9l8.5-1.5-6.3-8.5-8.4 1.4z" fill="#4ce610" stroke="#4ce610"/>
<path d="M1425.6 459l8.4-2-6.3-8.5-8.3 1.9z" fill="#40e813" stroke="#40e813"/>
<path d="M1455 471.8l8.2-2.7-6.3-8.6-8.3 2.8z" fill="#2deb1a" stroke="#2deb1a"/>
<path d="M1469.6 477.6l8.2-3.2-6.3-8.5-8.3 3.2z" fill="#25ed1f" stroke="#25ed1f"/>
<path d="M1484.2 483l8.2-3.6-6.4-8.6-8.2 3.6z" fill="#23ef27" stroke="#23ef27"/>
<path d="M1498.8 487.9l8.1-4-6.4-8.6-8.1 4.1z" fill="#28f034" stroke="#28f034"/>
<path d="M1513.3 492.5l8.1-4.6-6.4-8.5-8.1 4.5z" fill="#2df241" stroke="#2df241"/>
<path d="M1527.9 496.5l8.1-4.9-6.5-8.5-8.1 4.8z" fill="#32f34c" stroke="#32f34c"/>
<path d="M1702.4 512.5l7.9-10-6.8-8.6-7.9 10z" fill="#6ffd88" stroke="#6ffd88"/>
<path d="M1717.1 511.1l7.8-10.5-6.8-8.5-7.8 10.4z" fill="#73fd87" stroke="#73fd87"/>
<path d="M1731.7 509.2l7.8-10.9-6.8-8.5-7.8 10.8z" fill="#76fd86" stroke="#76fd86"/>
<path d="M1746.4 506.9l7.8-11.3-6.8-8.5-7.9 11.2z" fill="#79fe84" stroke="#79fe84"/>
<path d="M1761.1 504.2l7.9-11.7-6.9-8.6-7.9 11.7z" fill="#7cfe81" stroke="#7cfe81"/>
<path d="M1775.9 501.1l7.8-12.2-6.9-8.5-7.8 12.1z" fill="#81fe7f" stroke="#81fe7f"/>
<path d="M1805.6 493.5l7.8-13-7-8.6-7.8 13z" fill="#93fe83" stroke="#93fe83"/>
<path d="M1820.5 489l7.8-13.4-7-8.6-7.9 13.5z" fill="#9cff85" stroke="#9cff85"/>
<path d="M1835.4 484.2l7.9-14-7.1-8.5-7.9 13.9z" fill="#a5ff87" stroke="#a5ff87"/>
<path d="M1850.4 478.8l7.9-14.3-7.1-8.6-7.9 14.3z" fill="#afff88" stroke="#afff88"/>
<path d="M1865.5 473l7.9-14.8-7.1-8.5-8 14.8z" fill="#b9ff89" stroke="#b9ff89"/>
<path d="M1880.6 466.8l8-15.2-7.2-8.6-8 15.2z" fill="#c3ff8a" stroke="#c3ff8a"/>
<path d="M1895.8 460.1l8-15.7-7.3-8.5-7.9 15.7z" fill="#ceff8b" stroke="#ceff8b"/>
<path d="M1911.1 453l8-16.2-7.3-8.5-8 16.1z" fill="#d8ff8b" stroke="#d8ff8b"/>
<path d="M1312.8 398.3l8.9 1.6-6.1-8.5-8.9-1.7z" fill="#8aa003" stroke="#8aa003"/>
<path d="M1327.9 408.5l8.8 1.2-6.1-8.6-8.9-1.2z" fill="#82aa04" stroke="#82aa04"/>
<path d="M1342.9 418.3l8.8 .7-6.2-8.5-8.8-.8z" fill="#79b506" stroke="#79b506"/>
<path d="M1357.9 427.6l8.6 .3-6.2-8.6-8.6-.3z" fill="#70c007" stroke="#70c007"/>
<path d="M1372.8 436.5l8.6-.2-6.2-8.5-8.7 .1z" fill="#66cb09" stroke="#66cb09"/>
<path d="M1387.6 444.9l8.6-.6-6.3-8.6-8.5 .6z" fill="#5bd70b" stroke="#5bd70b"/>
<path d="M1402.4 452.9l8.5-1-6.2-8.6-8.5 1z" fill="#50e20d" stroke="#50e20d"/>
<path d="M1417.2 460.5l8.4-1.5-6.2-8.6-8.5 1.5z" fill="#44e710" stroke="#44e710"/>
<path d="M1431.9 467.6l8.4-2-6.3-8.6-8.4 2z" fill="#38e813" stroke="#38e813"/>
<path d="M1446.6 474.2l8.4-2.4-6.4-8.5-8.3 2.3z" fill="#2dea17" stroke="#2dea17"/>
<path d="M1461.3 480.5l8.3-2.9-6.4-8.5-8.2 2.7z" fill="#24ec1b" stroke="#24ec1b"/>
<path d="M1476 486.3l8.2-3.3-6.4-8.6-8.2 3.2z" fill="#1fed21" stroke="#1fed21"/>
<path d="M1490.6 491.6l8.2-3.7-6.4-8.5-8.2 3.6z" fill="#23ef2f" stroke="#23ef2f"/>
<path d="M1505.2 496.6l8.1-4.1-6.4-8.6-8.1 4z" fill="#28f03d" stroke="#28f03d"/>
<path d="M1519.8 501.1l8.1-4.6-6.5-8.6-8.1 4.6z" fill="#2df249" stroke="#2df249"/>
<path d="M1534.3 505.2l8.1-5-6.4-8.6-8.1 4.9z" fill="#32f355" stroke="#32f355"/>
<path d="M1548.9 508.8l8-5.4-6.4-8.6-8.1 5.4z" fill="#38f45f" stroke="#38f45f"/>
<path d="M1563.5 512.1l8-5.9-6.6-8.6-8 5.8z" fill="#3df668" stroke="#3df668"/>
<path d="M1578 514.9l8-6.3-6.6-8.6-7.9 6.2z" fill="#43f771" stroke="#43f771"/>
<path d="M1592.6 517.3l7.9-6.7-6.6-8.6-7.9 6.6z" fill="#48f878" stroke="#48f878"/>
<path d="M1607.1 519.2l7.9-7.1-6.6-8.6-7.9 7.1z" fill="#4ef97e" stroke="#4ef97e"/>
<path d="M1621.7 520.8l7.9-7.6-6.7-8.6-7.9 7.5z" fill="#53f983" stroke="#53f983"/>
<path d="M1636.2 521.9l7.9-8-6.7-8.6-7.8 7.9z" fill="#58fa87" stroke="#58fa87"/>
<path d="M1650.8 522.6l7.9-8.4-6.7-8.6-7.9 8.3z" fill="#5dfb8a" stroke="#5dfb8a"/>
<path d="M1665.4 522.9l7.8-8.8-6.7-8.6-7.8 8.7z" fill="#62fb8c" stroke="#62fb8c"/>
<path d="M1680 522.7l7.8-9.2-6.7-8.6-7.9 9.2z" fill="#67fc8e" stroke="#67fc8e"/>
<path d="M1694.6 522.1l7.8-9.6-6.8-8.6-7.8 9.6z" fill="#6bfc8e" stroke="#6bfc8e"/>
<path d="M1709.2 521.1l7.9-10-6.8-8.6-7.9 10z" fill="#6ffd8e" stroke="#6ffd8e"/>
<path d="M1723.9 519.7l7.8-10.5-6.8-8.6-7.8 10.5z" fill="#73fd8d" stroke="#73fd8d"/>
<path d="M1738.6 517.9l7.8-11-6.9-8.6-7.8 10.9z" fill="#76fe8c" stroke="#76fe8c"/>
<path d="M1753.3 515.6l7.8-11.4-6.9-8.6-7.8 11.3z" fill="#7afe89" stroke="#7afe89"/>
<path d="M1768.1 512.9l7.8-11.8-6.9-8.6-7.9 11.7z" fill="#7cfe86" stroke="#7cfe86"/>
<path d="M1782.9 509.7l7.8-12.2-7-8.6-7.8 12.2z" fill="#7ffe82" stroke="#7ffe82"/>
<path d="M1797.7 506.2l7.9-12.7-7-8.6-7.9 12.6z" fill="#85fe81" stroke="#85fe81"/>
<path d="M1812.6 502.1l7.9-13.1-7.1-8.5-7.8 13z" fill="#8efe83" stroke="#8efe83"/>
<path d="M1827.5 497.7l7.9-13.5-7.1-8.6-7.8 13.4z" fill="#97ff85" stroke="#97ff85"/>
<path d="M1842.5 492.8l7.9-14-7.1-8.6-7.9 14z" fill="#a0ff87" stroke="#a0ff87"/>
<path d="M1857.6 487.5l7.9-14.5-7.2-8.5-7.9 14.3z" fill="#af8" stroke="#af8"/>
<path d="M1872.7 481.7l7.9-14.9-7.2-8.6-7.9 14.8z" fill="#b4ff89" stroke="#b4ff89"/>
<path d="M1887.8 475.5l8-15.4-7.2-8.5-8 15.2z" fill="#beff8a" stroke="#beff8a"/>
<path d="M1903.1 468.8l8-15.8-7.3-8.6-8 15.7z" fill="#c9ff8b" stroke="#c9ff8b"/>
<path d="M1918.3 461.6l8.1-16.2-7.3-8.6-8 16.2z" fill="#d4ff8b" stroke="#d4ff8b"/>
<path d="M1423.5 469.2l8.4-1.6-6.3-8.6-8.4 1.5z" fill="#3be710" stroke="#3be710"/>
<path d="M1438.3 476.3l8.3-2.1-6.3-8.6-8.4 2z" fill="#2fe814" stroke="#2fe814"/>
<path d="M1453 482.9l8.3-2.4-6.3-8.7-8.4 2.4z" fill="#25ea17" stroke="#25ea17"/>
<path d="M1526.2 509.8l8.1-4.6-6.4-8.7-8.1 4.6z" fill="#2df252" stroke="#2df252"/>
<path d="M1540.8 513.9l8.1-5.1-6.5-8.6-8.1 5z" fill="#33f35d" stroke="#33f35d"/>
<path d="M1555.4 517.5l8.1-5.4-6.6-8.7-8 5.4z" fill="#38f567" stroke="#38f567"/>
<path d="M1570 520.8l8-5.9-6.5-8.7-8 5.9z" fill="#3ef670" stroke="#3ef670"/>
<path d="M1584.6 523.6l8-6.3-6.6-8.7-8 6.3z" fill="#43f778" stroke="#43f778"/>
<path d="M1599.1 526l8-6.8-6.6-8.6-7.9 6.7z" fill="#49f87f" stroke="#49f87f"/>
<path d="M1613.7 527.9l8-7.1-6.7-8.7-7.9 7.1z" fill="#4ef985" stroke="#4ef985"/>
<path d="M1628.3 529.5l7.9-7.6-6.6-8.7-7.9 7.6z" fill="#53fa8a" stroke="#53fa8a"/>
<path d="M1642.9 530.6l7.9-8-6.7-8.7-7.9 8z" fill="#59fa8e" stroke="#59fa8e"/>
<path d="M1657.5 531.3l7.9-8.4-6.7-8.7-7.9 8.4z" fill="#5efb91" stroke="#5efb91"/>
<path d="M1672.1 531.6l7.9-8.9-6.8-8.6-7.8 8.8z" fill="#63fc93" stroke="#63fc93"/>
<path d="M1686.7 531.4l7.9-9.3-6.8-8.6-7.8 9.2z" fill="#67fc94" stroke="#67fc94"/>
<path d="M1701.4 530.9l7.8-9.8-6.8-8.6-7.8 9.6z" fill="#6bfc95" stroke="#6bfc95"/>
<path d="M1775 521.6l7.9-11.9-7-8.6-7.8 11.8z" fill="#7dfe8c" stroke="#7dfe8c"/>
<path d="M1789.9 518.4l7.8-12.2-7-8.7-7.8 12.2z" fill="#7ffe88" stroke="#7ffe88"/>
<path d="M1804.7 514.9l7.9-12.8-7-8.6-7.9 12.7z" fill="#82fe83" stroke="#82fe83"/>
<path d="M1303.9 396.2l8.9 2.1-6.1-8.6-9-2.1z" fill="#8c9602" stroke="#8c9602"/>
<path d="M1319 406.9l8.9 1.6-6.2-8.6-8.9-1.6z" fill="#84a103" stroke="#84a103"/>
<path d="M1334.1 417.2l8.8 1.1-6.2-8.6-8.8-1.2z" fill="#7cab04" stroke="#7cab04"/>
<path d="M1349.1 427l8.8 .6-6.2-8.6-8.8-.7z" fill="#73b606" stroke="#73b606"/>
<path d="M1364.1 436.3l8.7 .2-6.3-8.6-8.6-.3z" fill="#69c107" stroke="#69c107"/>
<path d="M1379 445.2l8.6-.3-6.2-8.6-8.6 .2z" fill="#5ecc09" stroke="#5ecc09"/>
<path d="M1393.9 453.6l8.5-.7-6.2-8.6-8.6 .6z" fill="#53d80b" stroke="#53d80b"/>
<path d="M1408.7 461.6l8.5-1.1-6.3-8.6-8.5 1z" fill="#48e30e" stroke="#48e30e"/>
<path d="M1467.7 489.2l8.3-2.9-6.4-8.7-8.3 2.9z" fill="#1cec1b" stroke="#1cec1b"/>
<path d="M1482.4 495l8.2-3.4-6.4-8.6-8.2 3.3z" fill="#1fed2a" stroke="#1fed2a"/>
<path d="M1497 500.3l8.2-3.7-6.4-8.7-8.2 3.7z" fill="#24ef38" stroke="#24ef38"/>
<path d="M1511.6 505.3l8.2-4.2-6.5-8.6-8.1 4.1z" fill="#28f046" stroke="#28f046"/>
<path d="M1716 529.9l7.9-10.2-6.8-8.6-7.9 10z" fill="#6ffd94" stroke="#6ffd94"/>
<path d="M1730.7 528.4l7.9-10.5-6.9-8.7-7.8 10.5z" fill="#73fd93" stroke="#73fd93"/>
<path d="M1745.5 526.6l7.8-11-6.9-8.7-7.8 11z" fill="#77fe91" stroke="#77fe91"/>
<path d="M1760.2 524.3l7.9-11.4-7-8.7-7.8 11.4z" fill="#7afe8f" stroke="#7afe8f"/>
<path d="M1819.7 510.9l7.8-13.2-7-8.7-7.9 13.1z" fill="#89fe84" stroke="#89fe84"/>
<path d="M1834.6 506.4l7.9-13.6-7.1-8.6-7.9 13.5z" fill="#92ff85" stroke="#92ff85"/>
<path d="M1849.7 501.5l7.9-14-7.2-8.7-7.9 14z" fill="#9cff87" stroke="#9cff87"/>
<path d="M1864.7 496.2l8-14.5-7.2-8.7-7.9 14.5z" fill="#a5ff88" stroke="#a5ff88"/>
<path d="M1879.9 490.4l7.9-14.9-7.2-8.7-7.9 14.9z" fill="#afff89" stroke="#afff89"/>
<path d="M1895.1 484.2l8-15.4-7.3-8.7-8 15.4z" fill="#baff8a" stroke="#baff8a"/>
<path d="M1910.3 477.5l8-15.9-7.2-8.6-8 15.8z" fill="#c4ff8b" stroke="#c4ff8b"/>
<path d="M1925.7 470.3l8-16.3-7.3-8.6-8.1 16.2z" fill="#cfff8b" stroke="#cfff8b"/>
<path d="M1294.8 393.8l9.1 2.4-6.2-8.6-9-2.5z" fill="#8d8d02" stroke="#8d8d02"/>
<path d="M1310 404.9l9 2-6.2-8.6-8.9-2.1z" fill="#869702" stroke="#869702"/>
<path d="M1325.2 415.7l8.9 1.5-6.2-8.7-8.9-1.6z" fill="#7ea103" stroke="#7ea103"/>
<path d="M1340.3 425.9l8.8 1.1-6.2-8.7-8.8-1.1z" fill="#75ac04" stroke="#75ac04"/>
<path d="M1355.3 435.7l8.8 .6-6.2-8.7-8.8-.6z" fill="#6cb706" stroke="#6cb706"/>
<path d="M1370.3 445l8.7 .2-6.2-8.7-8.7-.2z" fill="#61c207" stroke="#61c207"/>
<path d="M1385.3 453.9l8.6-.3-6.3-8.7-8.6 .3z" fill="#56cd09" stroke="#56cd09"/>
<path d="M1400.2 462.4l8.5-.8-6.3-8.7-8.5 .7z" fill="#4bd80b" stroke="#4bd80b"/>
<path d="M1415 470.4l8.5-1.2-6.3-8.7-8.5 1.1z" fill="#3fe40e" stroke="#3fe40e"/>
<path d="M1429.8 477.9l8.5-1.6-6.4-8.7-8.4 1.6z" fill="#32e711" stroke="#32e711"/>
<path d="M1444.6 485l8.4-2.1-6.4-8.7-8.3 2.1z" fill="#26e914" stroke="#26e914"/>
<path d="M1459.4 491.7l8.3-2.5-6.4-8.7-8.3 2.4z" fill="#1cea17" stroke="#1cea17"/>
<path d="M1474.1 497.9l8.3-2.9-6.4-8.7-8.3 2.9z" fill="#1bec23" stroke="#1bec23"/>
<path d="M1488.8 503.7l8.2-3.4-6.4-8.7-8.2 3.4z" fill="#20ed33" stroke="#20ed33"/>
<path d="M1503.4 509.1l8.2-3.8-6.4-8.7-8.2 3.7z" fill="#24ef41" stroke="#24ef41"/>
<path d="M1518.1 514l8.1-4.2-6.4-8.7-8.2 4.2z" fill="#29f14e" stroke="#29f14e"/>
<path d="M1532.7 518.6l8.1-4.7-6.5-8.7-8.1 4.6z" fill="#2ef25a" stroke="#2ef25a"/>
<path d="M1547.3 522.6l8.1-5.1-6.5-8.7-8.1 5.1z" fill="#33f366" stroke="#33f366"/>
<path d="M1562 526.3l8-5.5-6.5-8.7-8.1 5.4z" fill="#38f570" stroke="#38f570"/>
<path d="M1576.6 529.5l8-5.9-6.6-8.7-8 5.9z" fill="#3ef678" stroke="#3ef678"/>
<path d="M1591.2 532.4l7.9-6.4-6.5-8.7-8 6.3z" fill="#43f780" stroke="#43f780"/>
<path d="M1605.8 534.7l7.9-6.8-6.6-8.7-8 6.8z" fill="#49f887" stroke="#49f887"/>
<path d="M1620.4 536.7l7.9-7.2-6.6-8.7-8 7.1z" fill="#4ef98c" stroke="#4ef98c"/>
<path d="M1635 538.3l7.9-7.7-6.7-8.7-7.9 7.6z" fill="#54fa91" stroke="#54fa91"/>
<path d="M1649.6 539.4l7.9-8.1-6.7-8.7-7.9 8z" fill="#59fa95" stroke="#59fa95"/>
<path d="M1664.2 540.1l7.9-8.5-6.7-8.7-7.9 8.4z" fill="#5efb98" stroke="#5efb98"/>
<path d="M1678.9 540.3l7.8-8.9-6.7-8.7-7.9 8.9z" fill="#63fc99" stroke="#63fc99"/>
<path d="M1693.5 540.2l7.9-9.3-6.8-8.8-7.9 9.3z" fill="#67fc9a" stroke="#67fc9a"/>
<path d="M1708.2 539.6l7.8-9.7-6.8-8.8-7.8 9.8z" fill="#6cfd9b" stroke="#6cfd9b"/>
<path d="M1722.9 538.6l7.8-10.2-6.8-8.7-7.9 10.2z" fill="#70fd9a" stroke="#70fd9a"/>
<path d="M1737.6 537.2l7.9-10.6-6.9-8.7-7.9 10.5z" fill="#73fd99" stroke="#73fd99"/>
<path d="M1752.4 535.4l7.8-11.1-6.9-8.7-7.8 11z" fill="#77fe97" stroke="#77fe97"/>
<path d="M1767.2 533.1l7.8-11.5-6.9-8.7-7.9 11.4z" fill="#7afe94" stroke="#7afe94"/>
<path d="M1782 530.4l7.9-12-7-8.7-7.9 11.9z" fill="#7dfe91" stroke="#7dfe91"/>
<path d="M1796.9 527.2l7.8-12.3-7-8.7-7.8 12.2z" fill="#7ffe8d" stroke="#7ffe8d"/>
<path d="M1811.8 523.6l7.9-12.7-7.1-8.8-7.9 12.8z" fill="#82fe89" stroke="#82fe89"/>
<path d="M1826.7 519.6l7.9-13.2-7.1-8.7-7.8 13.2z" fill="#84fe84" stroke="#84fe84"/>
<path d="M1841.7 515.2l8-13.7-7.2-8.7-7.9 13.6z" fill="#8dff85" stroke="#8dff85"/>
<path d="M1856.8 510.3l7.9-14.1-7.1-8.7-7.9 14z" fill="#97ff87" stroke="#97ff87"/>
<path d="M1871.9 504.9l8-14.5-7.2-8.7-8 14.5z" fill="#a0ff88" stroke="#a0ff88"/>
<path d="M1887.1 499.2l8-15-7.3-8.7-7.9 14.9z" fill="#aaff89" stroke="#aaff89"/>
<path d="M1902.3 492.9l8-15.4-7.2-8.7-8 15.4z" fill="#b5ff8a" stroke="#b5ff8a"/>
<path d="M1917.6 486.2l8.1-15.9-7.4-8.7-8 15.9z" fill="#bfff8b" stroke="#bfff8b"/>
<path d="M1933 479.1l8.1-16.4-7.4-8.7-8 16.3z" fill="#caff8b" stroke="#caff8b"/>
<path d="M1285.7 390.9l9.1 2.9-6.1-8.7-9.2-3z" fill="#847b01" stroke="#847b01"/>
<path d="M1301 402.5l9 2.4-6.1-8.7-9.1-2.4z" fill="#888e02" stroke="#888e02"/>
<path d="M1406.5 471.2l8.5-.8-6.3-8.8-8.5 .8z" fill="#42d90c" stroke="#42d90c"/>
<path d="M1421.3 479.2l8.5-1.3-6.3-8.7-8.5 1.2z" fill="#36e50e" stroke="#36e50e"/>
<path d="M1436.2 486.7l8.4-1.7-6.3-8.7-8.5 1.6z" fill="#29e711" stroke="#29e711"/>
<path d="M1451 493.8l8.4-2.1-6.4-8.8-8.4 2.1z" fill="#1de914" stroke="#1de914"/>
<path d="M1465.7 500.5l8.4-2.6-6.4-8.7-8.3 2.5z" fill="#18ea1c" stroke="#18ea1c"/>
<path d="M1509.9 517.9l8.2-3.9-6.5-8.7-8.2 3.8z" fill="#24ef4a" stroke="#24ef4a"/>
<path d="M1524.6 522.9l8.1-4.3-6.5-8.8-8.1 4.2z" fill="#29f157" stroke="#29f157"/>
<path d="M1539.2 527.4l8.1-4.8-6.5-8.7-8.1 4.7z" fill="#2ef263" stroke="#2ef263"/>
<path d="M1553.9 531.5l8.1-5.2-6.6-8.8-8.1 5.1z" fill="#33f36e" stroke="#33f36e"/>
<path d="M1568.5 535.1l8.1-5.6-6.6-8.7-8 5.5z" fill="#39f578" stroke="#39f578"/>
<path d="M1583.2 538.4l8-6-6.6-8.8-8 5.9z" fill="#3ef680" stroke="#3ef680"/>
<path d="M1597.8 541.2l8-6.5-6.7-8.7-7.9 6.4z" fill="#44f788" stroke="#44f788"/>
<path d="M1612.4 543.6l8-6.9-6.7-8.8-7.9 6.8z" fill="#49f88e" stroke="#49f88e"/>
<path d="M1627 545.5l8-7.2-6.7-8.8-7.9 7.2z" fill="#4ff994" stroke="#4ff994"/>
<path d="M1641.7 547.1l7.9-7.7-6.7-8.8-7.9 7.7z" fill="#54fa98" stroke="#54fa98"/>
<path d="M1656.3 548.2l7.9-8.1-6.7-8.8-7.9 8.1z" fill="#59fa9c" stroke="#59fa9c"/>
<path d="M1671 548.9l7.9-8.6-6.8-8.7-7.9 8.5z" fill="#5efb9e" stroke="#5efb9e"/>
<path d="M1685.6 549.2l7.9-9-6.8-8.8-7.8 8.9z" fill="#63fca0" stroke="#63fca0"/>
<path d="M1700.3 549l7.9-9.4-6.8-8.7-7.9 9.3z" fill="#68fca1" stroke="#68fca1"/>
<path d="M1715 548.5l7.9-9.9-6.9-8.7-7.8 9.7z" fill="#6cfda1" stroke="#6cfda1"/>
<path d="M1759.3 544.2l7.9-11.1-7-8.8-7.8 11.1z" fill="#77fe9d" stroke="#77fe9d"/>
<path d="M1774.1 541.9l7.9-11.5-7-8.8-7.8 11.5z" fill="#7afe9a" stroke="#7afe9a"/>
<path d="M1789 539.2l7.9-12-7-8.8-7.9 12z" fill="#7dfe97" stroke="#7dfe97"/>
<path d="M1803.9 536l7.9-12.4-7.1-8.7-7.8 12.3z" fill="#7ffe93" stroke="#7ffe93"/>
<path d="M1818.8 532.5l7.9-12.9-7-8.7-7.9 12.7z" fill="#82fe8e" stroke="#82fe8e"/>
<path d="M1925 495.1l8-16-7.3-8.8-8.1 15.9z" fill="#bbff8b" stroke="#bbff8b"/>
<path d="M1940.4 487.9l8.1-16.4-7.4-8.8-8.1 16.4z" fill="#c6ff8b" stroke="#c6ff8b"/>
<path d="M1316.2 413.7l9 2-6.2-8.8-9-2z" fill="#809803" stroke="#809803"/>
<path d="M1331.4 424.4l8.9 1.5-6.2-8.7-8.9-1.5z" fill="#78a203" stroke="#78a203"/>
<path d="M1346.5 434.7l8.8 1-6.2-8.7-8.8-1.1z" fill="#6fad05" stroke="#6fad05"/>
<path d="M1361.6 444.5l8.7 .5-6.2-8.7-8.8-.6z" fill="#64b806" stroke="#64b806"/>
<path d="M1376.6 453.8l8.7 .1-6.3-8.7-8.7-.2z" fill="#5ac307" stroke="#5ac307"/>
<path d="M1391.5 462.7l8.7-.3-6.3-8.8-8.6 .3z" fill="#4ece09" stroke="#4ece09"/>
<path d="M1480.5 506.7l8.3-3-6.4-8.7-8.3 2.9z" fill="#1cec2c" stroke="#1cec2c"/>
<path d="M1495.2 512.5l8.2-3.4-6.4-8.8-8.2 3.4z" fill="#20ee3c" stroke="#20ee3c"/>
<path d="M1729.8 547.5l7.8-10.3-6.9-8.8-7.8 10.2z" fill="#70fda0" stroke="#70fda0"/>
<path d="M1744.5 546l7.9-10.6-6.9-8.8-7.9 10.6z" fill="#74fd9f" stroke="#74fd9f"/>
<path d="M1833.8 528.5l7.9-13.3-7.1-8.8-7.9 13.2z" fill="#84fe89" stroke="#84fe89"/>
<path d="M1848.9 524l7.9-13.7-7.1-8.8-8 13.7z" fill="#88ff85" stroke="#88ff85"/>
<path d="M1864 519.1l7.9-14.2-7.2-8.7-7.9 14.1z" fill="#92ff87" stroke="#92ff87"/>
<path d="M1879.1 513.8l8-14.6-7.2-8.8-8 14.5z" fill="#9cff88" stroke="#9cff88"/>
<path d="M1894.3 508l8-15.1-7.2-8.7-8 15z" fill="#a6ff89" stroke="#a6ff89"/>
<path d="M1909.6 501.7l8-15.5-7.3-8.7-8 15.4z" fill="#b0ff8a" stroke="#b0ff8a"/>
<path d="M1276.5 387.6l9.2 3.3-6.2-8.8-9.2-3.4z" fill="#7c6901" stroke="#7c6901"/>
<path d="M1291.9 399.7l9.1 2.8-6.2-8.7-9.1-2.9z" fill="#858101" stroke="#858101"/>
<path d="M1307.2 411.4l9 2.3-6.2-8.8-9-2.4z" fill="#828f02" stroke="#828f02"/>
<path d="M1322.4 422.5l9 1.9-6.2-8.7-9-2z" fill="#7b9903" stroke="#7b9903"/>
<path d="M1337.6 433.3l8.9 1.4-6.2-8.8-8.9-1.5z" fill="#72a304" stroke="#72a304"/>
<path d="M1352.8 443.5l8.8 1-6.3-8.8-8.8-1z" fill="#68ae05" stroke="#68ae05"/>
<path d="M1367.8 453.3l8.8 .5-6.3-8.8-8.7-.5z" fill="#5db906" stroke="#5db906"/>
<path d="M1382.9 462.7l8.6 0-6.2-8.8-8.7-.1z" fill="#52c408" stroke="#52c408"/>
<path d="M1397.9 471.6l8.6-.4-6.3-8.8-8.7 .3z" fill="#46cf0a" stroke="#46cf0a"/>
<path d="M1412.8 480l8.5-.8-6.3-8.8-8.5 .8z" fill="#3ada0c" stroke="#3ada0c"/>
<path d="M1427.7 488l8.5-1.3-6.4-8.8-8.5 1.3z" fill="#2de50e" stroke="#2de50e"/>
<path d="M1442.5 495.6l8.5-1.8-6.4-8.8-8.4 1.7z" fill="#20e711" stroke="#20e711"/>
<path d="M1457.4 502.7l8.3-2.2-6.3-8.8-8.4 2.1z" fill="#14e914" stroke="#14e914"/>
<path d="M1472.2 509.4l8.3-2.7-6.4-8.8-8.4 2.6z" fill="#18ea26" stroke="#18ea26"/>
<path d="M1486.9 515.6l8.3-3.1-6.4-8.8-8.3 3z" fill="#1cec36" stroke="#1cec36"/>
<path d="M1501.7 521.4l8.2-3.5-6.5-8.8-8.2 3.4z" fill="#20ee45" stroke="#20ee45"/>
<path d="M1516.4 526.8l8.2-3.9-6.5-8.9-8.2 3.9z" fill="#25ef53" stroke="#25ef53"/>
<path d="M1531.1 531.7l8.1-4.3-6.5-8.8-8.1 4.3z" fill="#29f160" stroke="#29f160"/>
<path d="M1545.8 536.3l8.1-4.8-6.6-8.9-8.1 4.8z" fill="#2ff26c" stroke="#2ff26c"/>
<path d="M1560.4 540.3l8.1-5.2-6.5-8.8-8.1 5.2z" fill="#34f476" stroke="#34f476"/>
<path d="M1575.1 544l8.1-5.6-6.6-8.9-8.1 5.6z" fill="#39f580" stroke="#39f580"/>
<path d="M1589.8 547.2l8-6-6.6-8.8-8 6z" fill="#3ff689" stroke="#3ff689"/>
<path d="M1604.4 550.1l8-6.5-6.6-8.9-8 6.5z" fill="#44f790" stroke="#44f790"/>
<path d="M1619.1 552.5l7.9-7-6.6-8.8-8 6.9z" fill="#4af896" stroke="#4af896"/>
<path d="M1633.7 554.4l8-7.3-6.7-8.8-8 7.2z" fill="#4ff99b" stroke="#4ff99b"/>
<path d="M1648.4 556l7.9-7.8-6.7-8.8-7.9 7.7z" fill="#54faa0" stroke="#54faa0"/>
<path d="M1663.1 557.1l7.9-8.2-6.8-8.8-7.9 8.1z" fill="#5afaa3" stroke="#5afaa3"/>
<path d="M1677.7 557.8l7.9-8.6-6.7-8.9-7.9 8.6z" fill="#5ffba5" stroke="#5ffba5"/>
<path d="M1692.4 558.1l7.9-9.1-6.8-8.8-7.9 9z" fill="#63fca7" stroke="#63fca7"/>
<path d="M1707.2 557.9l7.8-9.4-6.8-8.9-7.9 9.4z" fill="#68fca7" stroke="#68fca7"/>
<path d="M1721.9 557.3l7.9-9.8-6.9-8.9-7.9 9.9z" fill="#6cfda7" stroke="#6cfda7"/>
<path d="M1736.7 556.3l7.8-10.3-6.9-8.8-7.8 10.3z" fill="#70fda6" stroke="#70fda6"/>
<path d="M1751.4 554.9l7.9-10.7-6.9-8.8-7.9 10.6z" fill="#74fda5" stroke="#74fda5"/>
<path d="M1766.3 553.1l7.8-11.2-6.9-8.8-7.9 11.1z" fill="#77fea3" stroke="#77fea3"/>
<path d="M1781.1 550.8l7.9-11.6-7-8.8-7.9 11.5z" fill="#7afea0" stroke="#7afea0"/>
<path d="M1796 548.1l7.9-12.1-7-8.8-7.9 12z" fill="#7dfe9c" stroke="#7dfe9c"/>
<path d="M1811 544.9l7.8-12.4-7-8.9-7.9 12.4z" fill="#80fe98" stroke="#80fe98"/>
<path d="M1825.9 541.4l7.9-12.9-7.1-8.9-7.9 12.9z" fill="#82fe93" stroke="#82fe93"/>
<path d="M1841 537.3l7.9-13.3-7.2-8.8-7.9 13.3z" fill="#84fe8e" stroke="#84fe8e"/>
<path d="M1856 532.9l8-13.8-7.2-8.8-7.9 13.7z" fill="#86ff88" stroke="#86ff88"/>
<path d="M1871.2 528l7.9-14.2-7.2-8.9-7.9 14.2z" fill="#8dff87" stroke="#8dff87"/>
<path d="M1886.4 522.6l7.9-14.6-7.2-8.8-8 14.6z" fill="#97ff88" stroke="#97ff88"/>
<path d="M1901.6 516.9l8-15.2-7.3-8.8-8 15.1z" fill="#a1ff89" stroke="#a1ff89"/>
<path d="M1916.9 510.6l8.1-15.5-7.4-8.9-8 15.5z" fill="#abff8a" stroke="#abff8a"/>
<path d="M1932.3 503.9l8.1-16-7.4-8.8-8 16z" fill="#b6ff8b" stroke="#b6ff8b"/>
<path d="M1947.8 496.8l8.1-16.5-7.4-8.8-8.1 16.4z" fill="#c1ff8b" stroke="#c1ff8b"/>
<path d="M1267.2 383.8l9.3 3.8-6.2-8.9-9.3-3.8z" fill="#745801" stroke="#745801"/>
<path d="M1282.7 396.4l9.2 3.3-6.2-8.8-9.2-3.3z" fill="#7d6f01" stroke="#7d6f01"/>
<path d="M1298.1 408.6l9.1 2.8-6.2-8.9-9.1-2.8z" fill="#848601" stroke="#848601"/>
<path d="M1313.4 420.2l9 2.3-6.2-8.8-9-2.3z" fill="#7d9002" stroke="#7d9002"/>
<path d="M1389.2 471.6l8.7 0-6.4-8.9-8.6 0z" fill="#4ac508" stroke="#4ac508"/>
<path d="M1404.2 480.5l8.6-.5-6.3-8.8-8.6 .4z" fill="#3ed00a" stroke="#3ed00a"/>
<path d="M1419.1 488.9l8.6-.9-6.4-8.8-8.5 .8z" fill="#31db0c" stroke="#31db0c"/>
<path d="M1434.1 496.9l8.4-1.3-6.3-8.9-8.5 1.3z" fill="#24e50e" stroke="#24e50e"/>
<path d="M1448.9 504.5l8.5-1.8-6.4-8.9-8.5 1.8z" fill="#17e711" stroke="#17e711"/>
<path d="M1463.8 511.6l8.4-2.2-6.5-8.9-8.3 2.2z" fill="#15e91e" stroke="#15e91e"/>
<path d="M1478.6 518.3l8.3-2.7-6.4-8.9-8.3 2.7z" fill="#18eb2f" stroke="#18eb2f"/>
<path d="M1493.4 524.5l8.3-3.1-6.5-8.9-8.3 3.1z" fill="#1cec3f" stroke="#1cec3f"/>
<path d="M1508.2 530.3l8.2-3.5-6.5-8.9-8.2 3.5z" fill="#20ee4e" stroke="#20ee4e"/>
<path d="M1522.9 535.7l8.2-4-6.5-8.8-8.2 3.9z" fill="#25ef5c" stroke="#25ef5c"/>
<path d="M1537.6 540.7l8.2-4.4-6.6-8.9-8.1 4.3z" fill="#2af169" stroke="#2af169"/>
<path d="M1552.3 545.2l8.1-4.9-6.5-8.8-8.1 4.8z" fill="#2ff274" stroke="#2ff274"/>
<path d="M1567 549.3l8.1-5.3-6.6-8.9-8.1 5.2z" fill="#34f47f" stroke="#34f47f"/>
<path d="M1581.7 552.9l8.1-5.7-6.6-8.8-8.1 5.6z" fill="#3af588" stroke="#3af588"/>
<path d="M1596.4 556.2l8-6.1-6.6-8.9-8 6z" fill="#3ff691" stroke="#3ff691"/>
<path d="M1611.1 559l8-6.5-6.7-8.9-8 6.5z" fill="#45f798" stroke="#45f798"/>
<path d="M1625.8 561.4l7.9-7-6.7-8.9-7.9 7z" fill="#4af89e" stroke="#4af89e"/>
<path d="M1640.4 563.4l8-7.4-6.7-8.9-8 7.3z" fill="#4ff9a3" stroke="#4ff9a3"/>
<path d="M1655.1 564.9l8-7.8-6.8-8.9-7.9 7.8z" fill="#55faa7" stroke="#55faa7"/>
<path d="M1669.8 566l7.9-8.2-6.7-8.9-7.9 8.2z" fill="#5afaaa" stroke="#5afaaa"/>
<path d="M1684.5 566.7l7.9-8.6-6.8-8.9-7.9 8.6z" fill="#5ffbac" stroke="#5ffbac"/>
<path d="M1699.3 567l7.9-9.1-6.9-8.9-7.9 9.1z" fill="#64fcad" stroke="#64fcad"/>
<path d="M1714 566.9l7.9-9.6-6.9-8.8-7.8 9.4z" fill="#68fcae" stroke="#68fcae"/>
<path d="M1728.8 566.3l7.9-10-6.9-8.8-7.9 9.8z" fill="#6cfdae" stroke="#6cfdae"/>
<path d="M1743.6 565.3l7.8-10.4-6.9-8.9-7.8 10.3z" fill="#70fdad" stroke="#70fdad"/>
<path d="M1758.4 563.9l7.9-10.8-7-8.9-7.9 10.7z" fill="#74fdab" stroke="#74fdab"/>
<path d="M1773.3 562l7.8-11.2-7-8.9-7.8 11.2z" fill="#77fea8" stroke="#77fea8"/>
<path d="M1788.1 559.7l7.9-11.6-7-8.9-7.9 11.6z" fill="#7afea5" stroke="#7afea5"/>
<path d="M1803.1 557l7.9-12.1-7.1-8.9-7.9 12.1z" fill="#7dfea2" stroke="#7dfea2"/>
<path d="M1818 553.9l7.9-12.5-7.1-8.9-7.8 12.4z" fill="#80fe9d" stroke="#80fe9d"/>
<path d="M1833.1 550.3l7.9-13-7.2-8.8-7.9 12.9z" fill="#82fe99" stroke="#82fe99"/>
<path d="M1908.9 525.8l8-15.2-7.3-8.9-8 15.2z" fill="#9cff89" stroke="#9cff89"/>
<path d="M1924.3 519.6l8-15.7-7.3-8.8-8.1 15.5z" fill="#a6ff8a" stroke="#a6ff8a"/>
<path d="M1939.7 512.9l8.1-16.1-7.4-8.9-8.1 16z" fill="#b1ff8b" stroke="#b1ff8b"/>
<path d="M1955.2 505.7l8.1-16.5-7.4-8.9-8.1 16.5z" fill="#bcff8b" stroke="#bcff8b"/>
<path d="M1328.7 431.4l8.9 1.9-6.2-8.9-9-1.9z" fill="#759a03" stroke="#759a03"/>
<path d="M1343.9 442.2l8.9 1.3-6.3-8.8-8.9-1.4z" fill="#6ba404" stroke="#6ba404"/>
<path d="M1359 452.4l8.8 .9-6.2-8.8-8.8-1z" fill="#61af05" stroke="#61af05"/>
<path d="M1374.1 462.2l8.8 .5-6.3-8.9-8.8-.5z" fill="#56b906" stroke="#56b906"/>
<path d="M1848.1 546.3l7.9-13.4-7.1-8.9-7.9 13.3z" fill="#84ff93" stroke="#84ff93"/>
<path d="M1863.2 541.8l8-13.8-7.2-8.9-8 13.8z" fill="#86ff8d" stroke="#86ff8d"/>
<path d="M1878.4 536.9l8-14.3-7.3-8.8-7.9 14.2z" fill="#88ff87" stroke="#88ff87"/>
<path d="M1893.6 531.6l8-14.7-7.3-8.9-7.9 14.6z" fill="#92ff88" stroke="#92ff88"/>
<path d="M1257.8 379.6l9.4 4.2-6.2-8.9-9.4-4.2z" fill="#6c4900" stroke="#6c4900"/>
<path d="M1273.4 392.7l9.3 3.7-6.2-8.8-9.3-3.8z" fill="#745e01" stroke="#745e01"/>
<path d="M1288.9 405.4l9.2 3.2-6.2-8.9-9.2-3.3z" fill="#7d7501" stroke="#7d7501"/>
<path d="M1304.3 417.5l9.1 2.7-6.2-8.8-9.1-2.8z" fill="#7f8701" stroke="#7f8701"/>
<path d="M1319.6 429.2l9.1 2.2-6.3-8.9-9-2.3z" fill="#779002" stroke="#779002"/>
<path d="M1334.9 440.4l9 1.8-6.3-8.9-8.9-1.9z" fill="#6f9a03" stroke="#6f9a03"/>
<path d="M1350.2 451.1l8.8 1.3-6.2-8.9-8.9-1.3z" fill="#65a504" stroke="#65a504"/>
<path d="M1365.3 461.4l8.8 .8-6.3-8.9-8.8-.9z" fill="#5aaf05" stroke="#5aaf05"/>
<path d="M1380.5 471.2l8.7 .4-6.3-8.9-8.8-.5z" fill="#4eba06" stroke="#4eba06"/>
<path d="M1395.5 480.5l8.7 0-6.3-8.9-8.7 0z" fill="#42c508" stroke="#42c508"/>
<path d="M1410.5 489.4l8.6-.5-6.3-8.9-8.6 .5z" fill="#35d10a" stroke="#35d10a"/>
<path d="M1425.5 497.9l8.6-1-6.4-8.9-8.6 .9z" fill="#28dc0c" stroke="#28dc0c"/>
<path d="M1440.5 505.9l8.4-1.4-6.4-8.9-8.4 1.3z" fill="#1be60f" stroke="#1be60f"/>
<path d="M1455.4 513.5l8.4-1.9-6.4-8.9-8.5 1.8z" fill="#12e715" stroke="#12e715"/>
<path d="M1470.2 520.6l8.4-2.3-6.4-8.9-8.4 2.2z" fill="#15e927" stroke="#15e927"/>
<path d="M1485.1 527.3l8.3-2.8-6.5-8.9-8.3 2.7z" fill="#19eb38" stroke="#19eb38"/>
<path d="M1499.9 533.5l8.3-3.2-6.5-8.9-8.3 3.1z" fill="#1cec48" stroke="#1cec48"/>
<path d="M1514.7 539.3l8.2-3.6-6.5-8.9-8.2 3.5z" fill="#21ee57" stroke="#21ee57"/>
<path d="M1529.4 544.7l8.2-4-6.5-9-8.2 4z" fill="#25ef65" stroke="#25ef65"/>
<path d="M1544.2 549.7l8.1-4.5-6.5-8.9-8.2 4.4z" fill="#2af172" stroke="#2af172"/>
<path d="M1558.9 554.2l8.1-4.9-6.6-9-8.1 4.9z" fill="#2ff27d" stroke="#2ff27d"/>
<path d="M1573.6 558.3l8.1-5.4-6.6-8.9-8.1 5.3z" fill="#35f488" stroke="#35f488"/>
<path d="M1588.3 561.9l8.1-5.7-6.6-9-8.1 5.7z" fill="#3af591" stroke="#3af591"/>
<path d="M1603.1 565.2l8-6.2-6.7-8.9-8 6.1z" fill="#3ff699" stroke="#3ff699"/>
<path d="M1617.8 568l8-6.6-6.7-8.9-8 6.5z" fill="#45f7a0" stroke="#45f7a0"/>
<path d="M1632.5 570.4l7.9-7-6.7-9-7.9 7z" fill="#4af8a6" stroke="#4af8a6"/>
<path d="M1647.2 572.4l7.9-7.5-6.7-8.9-8 7.4z" fill="#50f9aa" stroke="#50f9aa"/>
<path d="M1661.9 573.9l7.9-7.9-6.7-8.9-8 7.8z" fill="#55faae" stroke="#55faae"/>
<path d="M1676.6 575l7.9-8.3-6.8-8.9-7.9 8.2z" fill="#5afab1" stroke="#5afab1"/>
<path d="M1691.4 575.7l7.9-8.7-6.9-8.9-7.9 8.6z" fill="#5ffbb3" stroke="#5ffbb3"/>
<path d="M1706.1 576l7.9-9.1-6.8-9-7.9 9.1z" fill="#64fcb4" stroke="#64fcb4"/>
<path d="M1720.9 575.9l7.9-9.6-6.9-9-7.9 9.6z" fill="#68fcb4" stroke="#68fcb4"/>
<path d="M1735.7 575.3l7.9-10-6.9-9-7.9 10z" fill="#6dfdb4" stroke="#6dfdb4"/>
<path d="M1750.5 574.3l7.9-10.4-7-9-7.8 10.4z" fill="#71fdb3" stroke="#71fdb3"/>
<path d="M1765.4 572.9l7.9-10.9-7-8.9-7.9 10.8z" fill="#74fdb1" stroke="#74fdb1"/>
<path d="M1780.3 571l7.8-11.3-7-8.9-7.8 11.2z" fill="#78feae" stroke="#78feae"/>
<path d="M1795.2 568.7l7.9-11.7-7.1-8.9-7.9 11.6z" fill="#7bfeab" stroke="#7bfeab"/>
<path d="M1810.1 566l7.9-12.1-7-9-7.9 12.1z" fill="#7dfea7" stroke="#7dfea7"/>
<path d="M1825.2 562.9l7.9-12.6-7.2-8.9-7.9 12.5z" fill="#80fea3" stroke="#80fea3"/>
<path d="M1840.2 559.3l7.9-13-7.1-9-7.9 13z" fill="#82fe9e" stroke="#82fe9e"/>
<path d="M1855.3 555.3l7.9-13.5-7.2-8.9-7.9 13.4z" fill="#84ff98" stroke="#84ff98"/>
<path d="M1870.5 550.8l7.9-13.9-7.2-8.9-8 13.8z" fill="#86ff92" stroke="#86ff92"/>
<path d="M1885.7 545.9l7.9-14.3-7.2-9-8 14.3z" fill="#87ff8b" stroke="#87ff8b"/>
<path d="M1900.9 540.6l8-14.8-7.3-8.9-8 14.7z" fill="#8dff88" stroke="#8dff88"/>
<path d="M1916.3 534.8l8-15.2-7.4-9-8 15.2z" fill="#97ff89" stroke="#97ff89"/>
<path d="M1931.7 528.6l8-15.7-7.4-9-8 15.7z" fill="#a1ff8a" stroke="#a1ff8a"/>
<path d="M1947.1 521.9l8.1-16.2-7.4-8.9-8.1 16.1z" fill="#acff8b" stroke="#acff8b"/>
<path d="M1962.7 514.7l8.1-16.6-7.5-8.9-8.1 16.5z" fill="#b7ff8b" stroke="#b7ff8b"/>
<path d="M1476.7 529.6l8.4-2.3-6.5-9-8.4 2.3z" fill="#15e931" stroke="#15e931"/>
<path d="M1491.6 536.3l8.3-2.8-6.5-9-8.3 2.8z" fill="#19eb42" stroke="#19eb42"/>
<path d="M1727.8 584.9l7.9-9.6-6.9-9-7.9 9.6z" fill="#69fcbb" stroke="#69fcbb"/>
<path d="M1742.6 584.4l7.9-10.1-6.9-9-7.9 10z" fill="#6dfdba" stroke="#6dfdba"/>
<path d="M1248.3 375l9.5 4.6-6.2-8.9-9.5-4.7z" fill="#643a00" stroke="#643a00"/>
<path d="M1264 388.6l9.4 4.1-6.2-8.9-9.4-4.2z" fill="#6c4e00" stroke="#6c4e00"/>
<path d="M1279.6 401.7l9.3 3.7-6.2-9-9.3-3.7z" fill="#756401" stroke="#756401"/>
<path d="M1295.1 414.4l9.2 3.1-6.2-8.9-9.2-3.2z" fill="#7e7b01" stroke="#7e7b01"/>
<path d="M1310.5 426.5l9.1 2.7-6.2-9-9.1-2.7z" fill="#7a8701" stroke="#7a8701"/>
<path d="M1325.9 438.2l9 2.2-6.2-9-9.1-2.2z" fill="#729102" stroke="#729102"/>
<path d="M1371.7 470.4l8.8 .8-6.4-9-8.8-.8z" fill="#53b005" stroke="#53b005"/>
<path d="M1386.8 480.2l8.7 .3-6.3-8.9-8.7-.4z" fill="#47bb06" stroke="#47bb06"/>
<path d="M1401.9 489.6l8.6-.2-6.3-8.9-8.7 0z" fill="#3ac608" stroke="#3ac608"/>
<path d="M1416.9 498.5l8.6-.6-6.4-9-8.6 .5z" fill="#2dd10a" stroke="#2dd10a"/>
<path d="M1431.9 506.9l8.6-1-6.4-9-8.6 1z" fill="#1fdd0c" stroke="#1fdd0c"/>
<path d="M1446.9 514.9l8.5-1.4-6.5-9-8.4 1.4z" fill="#11e60f" stroke="#11e60f"/>
<path d="M1461.8 522.5l8.4-1.9-6.4-9-8.4 1.9z" fill="#12e71f" stroke="#12e71f"/>
<path d="M1506.4 542.6l8.3-3.3-6.5-9-8.3 3.2z" fill="#1dec52" stroke="#1dec52"/>
<path d="M1521.2 548.4l8.2-3.7-6.5-9-8.2 3.6z" fill="#21ee60" stroke="#21ee60"/>
<path d="M1536 553.8l8.2-4.1-6.6-9-8.2 4z" fill="#26f06e" stroke="#26f06e"/>
<path d="M1550.8 558.7l8.1-4.5-6.6-9-8.1 4.5z" fill="#2bf17b" stroke="#2bf17b"/>
<path d="M1565.5 563.2l8.1-4.9-6.6-9-8.1 4.9z" fill="#30f286" stroke="#30f286"/>
<path d="M1580.3 567.3l8-5.4-6.6-9-8.1 5.4z" fill="#35f490" stroke="#35f490"/>
<path d="M1595 571l8.1-5.8-6.7-9-8.1 5.7z" fill="#3af599" stroke="#3af599"/>
<path d="M1609.7 574.2l8.1-6.2-6.7-9-8 6.2z" fill="#40f6a1" stroke="#40f6a1"/>
<path d="M1624.5 577.1l8-6.7-6.7-9-8 6.6z" fill="#45f7a8" stroke="#45f7a8"/>
<path d="M1639.2 579.5l8-7.1-6.8-9-7.9 7z" fill="#4bf8ad" stroke="#4bf8ad"/>
<path d="M1653.9 581.4l8-7.5-6.8-9-7.9 7.5z" fill="#50f9b2" stroke="#50f9b2"/>
<path d="M1668.7 583l7.9-8-6.8-9-7.9 7.9z" fill="#55fab5" stroke="#55fab5"/>
<path d="M1683.4 584.1l8-8.4-6.9-9-7.9 8.3z" fill="#5bfbb8" stroke="#5bfbb8"/>
<path d="M1698.2 584.8l7.9-8.8-6.8-9-7.9 8.7z" fill="#60fbba" stroke="#60fbba"/>
<path d="M1713 585.1l7.9-9.2-6.9-9-7.9 9.1z" fill="#64fcbb" stroke="#64fcbb"/>
<path d="M1757.5 583.4l7.9-10.5-7-9-7.9 10.4z" fill="#71fdb9" stroke="#71fdb9"/>
<path d="M1772.4 581.9l7.9-10.9-7-9-7.9 10.9z" fill="#74fdb7" stroke="#74fdb7"/>
<path d="M1787.3 580.1l7.9-11.4-7.1-9-7.8 11.3z" fill="#78feb4" stroke="#78feb4"/>
<path d="M1802.3 577.8l7.8-11.8-7-9-7.9 11.7z" fill="#7bfeb1" stroke="#7bfeb1"/>
<path d="M1817.2 575.1l8-12.2-7.2-9-7.9 12.1z" fill="#7efead" stroke="#7efead"/>
<path d="M1832.3 572l7.9-12.7-7.1-9-7.9 12.6z" fill="#80fea8" stroke="#80fea8"/>
<path d="M1847.4 568.4l7.9-13.1-7.2-9-7.9 13z" fill="#82fea3" stroke="#82fea3"/>
<path d="M1892.9 555l8-14.4-7.3-9-7.9 14.3z" fill="#87ff91" stroke="#87ff91"/>
<path d="M1908.2 549.7l8.1-14.9-7.4-9-8 14.8z" fill="#88ff89" stroke="#88ff89"/>
<path d="M1923.6 543.9l8.1-15.3-7.4-9-8 15.2z" fill="#92ff89" stroke="#92ff89"/>
<path d="M1939 537.6l8.1-15.7-7.4-9-8 15.7z" fill="#9cff8a" stroke="#9cff8a"/>
<path d="M1954.5 530.9l8.2-16.2-7.5-9-8.1 16.2z" fill="#a7ff8b" stroke="#a7ff8b"/>
<path d="M1970.1 523.8l8.2-16.7-7.5-9-8.1 16.6z" fill="#b2ff8b" stroke="#b2ff8b"/>
<path d="M1341.2 449.4l9 1.7-6.3-8.9-9-1.8z" fill="#689b03" stroke="#689b03"/>
<path d="M1356.5 460.1l8.8 1.3-6.3-9-8.8-1.3z" fill="#5ea604" stroke="#5ea604"/>
<path d="M1862.5 564.4l8-13.6-7.3-9-7.9 13.5z" fill="#84ff9e" stroke="#84ff9e"/>
<path d="M1877.7 559.9l8-14-7.3-9-7.9 13.9z" fill="#86ff97" stroke="#86ff97"/>
<path d="M1238.8 369.9l9.5 5.1-6.2-9-9.5-5.1z" fill="#5d2d00" stroke="#5d2d00"/>
<path d="M1254.5 384l9.5 4.6-6.2-9-9.5-4.6z" fill="#653f00" stroke="#653f00"/>
<path d="M1270.2 397.7l9.4 4-6.2-9-9.4-4.1z" fill="#6d5300" stroke="#6d5300"/>
<path d="M1285.8 410.8l9.3 3.6-6.2-9-9.3-3.7z" fill="#766a01" stroke="#766a01"/>
<path d="M1301.3 423.4l9.2 3.1-6.2-9-9.2-3.1z" fill="#7c7f01" stroke="#7c7f01"/>
<path d="M1316.8 435.6l9.1 2.6-6.3-9-9.1-2.7z" fill="#748801" stroke="#748801"/>
<path d="M1332.2 447.3l9 2.1-6.3-9-9-2.2z" fill="#6c9202" stroke="#6c9202"/>
<path d="M1347.5 458.5l9 1.6-6.3-9-9-1.7z" fill="#629c03" stroke="#629c03"/>
<path d="M1362.8 469.2l8.9 1.2-6.4-9-8.8-1.3z" fill="#57a604" stroke="#57a604"/>
<path d="M1378 479.5l8.8 .7-6.3-9-8.8-.8z" fill="#4cb105" stroke="#4cb105"/>
<path d="M1393.2 489.3l8.7 .3-6.4-9.1-8.7-.3z" fill="#3fbc06" stroke="#3fbc06"/>
<path d="M1408.3 498.7l8.6-.2-6.4-9.1-8.6 .2z" fill="#32c708" stroke="#32c708"/>
<path d="M1423.3 507.6l8.6-.7-6.4-9-8.6 .6z" fill="#24d20a" stroke="#24d20a"/>
<path d="M1438.4 516l8.5-1.1-6.4-9-8.6 1z" fill="#16de0c" stroke="#16de0c"/>
<path d="M1453.3 524l8.5-1.5-6.4-9-8.5 1.4z" fill="#0fe616" stroke="#0fe616"/>
<path d="M1468.3 531.6l8.4-2-6.5-9-8.4 1.9z" fill="#12e829" stroke="#12e829"/>
<path d="M1483.2 538.7l8.4-2.4-6.5-9-8.4 2.3z" fill="#15e93b" stroke="#15e93b"/>
<path d="M1498.1 545.4l8.3-2.8-6.5-9.1-8.3 2.8z" fill="#19eb4b" stroke="#19eb4b"/>
<path d="M1512.9 551.7l8.3-3.3-6.5-9.1-8.3 3.3z" fill="#1ded5b" stroke="#1ded5b"/>
<path d="M1527.8 557.5l8.2-3.7-6.6-9.1-8.2 3.7z" fill="#21ee6a" stroke="#21ee6a"/>
<path d="M1542.6 562.9l8.2-4.2-6.6-9-8.2 4.1z" fill="#26f077" stroke="#26f077"/>
<path d="M1557.4 567.8l8.1-4.6-6.6-9-8.1 4.5z" fill="#2bf184" stroke="#2bf184"/>
<path d="M1572.2 572.3l8.1-5-6.7-9-8.1 4.9z" fill="#30f38f" stroke="#30f38f"/>
<path d="M1586.9 576.4l8.1-5.4-6.7-9.1-8 5.4z" fill="#35f499" stroke="#35f499"/>
<path d="M1601.7 580.1l8-5.9-6.6-9-8.1 5.8z" fill="#3bf5a1" stroke="#3bf5a1"/>
<path d="M1616.4 583.4l8.1-6.3-6.7-9.1-8.1 6.2z" fill="#40f6a9" stroke="#40f6a9"/>
<path d="M1631.2 586.2l8-6.7-6.7-9.1-8 6.7z" fill="#46f7b0" stroke="#46f7b0"/>
<path d="M1646 588.6l7.9-7.2-6.7-9-8 7.1z" fill="#4bf8b5" stroke="#4bf8b5"/>
<path d="M1660.7 590.6l8-7.6-6.8-9.1-8 7.5z" fill="#50f9b9" stroke="#50f9b9"/>
<path d="M1675.5 592.1l7.9-8-6.8-9.1-7.9 8z" fill="#56fabd" stroke="#56fabd"/>
<path d="M1690.3 593.2l7.9-8.4-6.8-9.1-8 8.4z" fill="#5bfbbf" stroke="#5bfbbf"/>
<path d="M1705.1 593.9l7.9-8.8-6.9-9.1-7.9 8.8z" fill="#60fbc1" stroke="#60fbc1"/>
<path d="M1719.9 594.2l7.9-9.3-6.9-9-7.9 9.2z" fill="#65fcc1" stroke="#65fcc1"/>
<path d="M1734.7 594.1l7.9-9.7-6.9-9.1-7.9 9.6z" fill="#69fcc1" stroke="#69fcc1"/>
<path d="M1749.6 593.5l7.9-10.1-7-9.1-7.9 10.1z" fill="#6dfdc1" stroke="#6dfdc1"/>
<path d="M1764.5 592.5l7.9-10.6-7-9-7.9 10.5z" fill="#71fdbf" stroke="#71fdbf"/>
<path d="M1779.4 591.1l7.9-11-7-9.1-7.9 10.9z" fill="#75fdbd" stroke="#75fdbd"/>
<path d="M1794.4 589.2l7.9-11.4-7.1-9.1-7.9 11.4z" fill="#78feba" stroke="#78feba"/>
<path d="M1809.3 586.9l7.9-11.8-7.1-9.1-7.8 11.8z" fill="#7bfeb7" stroke="#7bfeb7"/>
<path d="M1824.4 584.2l7.9-12.2-7.1-9.1-8 12.2z" fill="#7efeb3" stroke="#7efeb3"/>
<path d="M1839.4 581.1l8-12.7-7.2-9.1-7.9 12.7z" fill="#80feae" stroke="#80feae"/>
<path d="M1854.6 577.5l7.9-13.1-7.2-9.1-7.9 13.1z" fill="#82fea9" stroke="#82fea9"/>
<path d="M1869.7 573.5l8-13.6-7.2-9.1-8 13.6z" fill="#84ffa3" stroke="#84ffa3"/>
<path d="M1885 569l7.9-14-7.2-9.1-8 14z" fill="#86ff9d" stroke="#86ff9d"/>
<path d="M1900.2 564.1l8-14.4-7.3-9.1-8 14.4z" fill="#87ff96" stroke="#87ff96"/>
<path d="M1915.6 558.8l8-14.9-7.3-9.1-8.1 14.9z" fill="#88ff8e" stroke="#88ff8e"/>
<path d="M1931 553l8-15.4-7.3-9-8.1 15.3z" fill="#8dff89" stroke="#8dff89"/>
<path d="M1946.5 546.7l8-15.8-7.4-9-8.1 15.7z" fill="#97ff8a" stroke="#97ff8a"/>
<path d="M1962 540l8.1-16.2-7.4-9.1-8.2 16.2z" fill="#a2ff8b" stroke="#a2ff8b"/>
<path d="M1977.6 532.9l8.2-16.7-7.5-9.1-8.2 16.7z" fill="#adff8b" stroke="#adff8b"/>
<path d="M1459.8 533.2l8.5-1.6-6.5-9.1-8.5 1.5z" fill="#0fe620" stroke="#0fe620"/>
<path d="M1474.8 540.7l8.4-2-6.5-9.1-8.4 2z" fill="#12e833" stroke="#12e833"/>
<path d="M1489.7 547.9l8.4-2.5-6.5-9.1-8.4 2.4z" fill="#16e944" stroke="#16e944"/>
<path d="M1504.6 554.6l8.3-2.9-6.5-9.1-8.3 2.8z" fill="#19eb55" stroke="#19eb55"/>
<path d="M1712 603.1l7.9-8.9-6.9-9.1-7.9 8.8z" fill="#60fbc8" stroke="#60fbc8"/>
<path d="M1726.8 603.4l7.9-9.3-6.9-9.2-7.9 9.3z" fill="#65fcc8" stroke="#65fcc8"/>
<path d="M1741.7 603.2l7.9-9.7-7-9.1-7.9 9.7z" fill="#69fcc8" stroke="#69fcc8"/>
<path d="M1756.6 602.7l7.9-10.2-7-9.1-7.9 10.1z" fill="#6dfdc7" stroke="#6dfdc7"/>
<path d="M1245 379l9.5 5-6.2-9-9.5-5.1z" fill="#5e3100" stroke="#5e3100"/>
<path d="M1260.7 393.1l9.5 4.6-6.2-9.1-9.5-4.6z" fill="#640" stroke="#640"/>
<path d="M1276.4 406.8l9.4 4-6.2-9.1-9.4-4z" fill="#6e5900" stroke="#6e5900"/>
<path d="M1292.1 419.9l9.2 3.5-6.2-9-9.3-3.6z" fill="#777001" stroke="#777001"/>
<path d="M1307.6 432.5l9.2 3.1-6.3-9.1-9.2-3.1z" fill="#778001" stroke="#778001"/>
<path d="M1323.1 444.7l9.1 2.6-6.3-9.1-9.1-2.6z" fill="#6f8902" stroke="#6f8902"/>
<path d="M1338.5 456.4l9 2.1-6.3-9.1-9-2.1z" fill="#669302" stroke="#669302"/>
<path d="M1353.8 467.6l9 1.6-6.3-9.1-9-1.6z" fill="#5c9d03" stroke="#5c9d03"/>
<path d="M1369.1 478.3l8.9 1.2-6.3-9.1-8.9-1.2z" fill="#51a704" stroke="#51a704"/>
<path d="M1384.4 488.6l8.8 .7-6.4-9.1-8.8-.7z" fill="#44b205" stroke="#44b205"/>
<path d="M1399.5 498.4l8.8 .3-6.4-9.1-8.7-.3z" fill="#37bd07" stroke="#37bd07"/>
<path d="M1414.7 507.8l8.6-.2-6.4-9.1-8.6 .2z" fill="#2ac808" stroke="#2ac808"/>
<path d="M1429.8 516.7l8.6-.7-6.5-9.1-8.6 .7z" fill="#1cd30a" stroke="#1cd30a"/>
<path d="M1444.8 525.2l8.5-1.2-6.4-9.1-8.5 1.1z" fill="#0dde0d" stroke="#0dde0d"/>
<path d="M1519.5 560.8l8.3-3.3-6.6-9.1-8.3 3.3z" fill="#1ded65" stroke="#1ded65"/>
<path d="M1534.3 566.6l8.3-3.7-6.6-9.1-8.2 3.7z" fill="#22ee73" stroke="#22ee73"/>
<path d="M1549.2 572l8.2-4.2-6.6-9.1-8.2 4.2z" fill="#26f080" stroke="#26f080"/>
<path d="M1564 577l8.2-4.7-6.7-9.1-8.1 4.6z" fill="#2bf18d" stroke="#2bf18d"/>
<path d="M1578.8 581.5l8.1-5.1-6.6-9.1-8.1 5z" fill="#30f398" stroke="#30f398"/>
<path d="M1593.6 585.6l8.1-5.5-6.7-9.1-8.1 5.4z" fill="#36f4a1" stroke="#36f4a1"/>
<path d="M1608.4 589.3l8-5.9-6.7-9.2-8 5.9z" fill="#3bf5aa" stroke="#3bf5aa"/>
<path d="M1623.2 592.5l8-6.3-6.7-9.1-8.1 6.3z" fill="#40f6b1" stroke="#40f6b1"/>
<path d="M1638 595.4l8-6.8-6.8-9.1-8 6.7z" fill="#46f7b8" stroke="#46f7b8"/>
<path d="M1652.7 597.8l8-7.2-6.8-9.2-7.9 7.2z" fill="#4bf8bd" stroke="#4bf8bd"/>
<path d="M1667.5 599.7l8-7.6-6.8-9.1-8 7.6z" fill="#51f9c1" stroke="#51f9c1"/>
<path d="M1682.3 601.3l8-8.1-6.9-9.1-7.9 8z" fill="#56fac4" stroke="#56fac4"/>
<path d="M1697.1 602.4l8-8.5-6.9-9.1-7.9 8.4z" fill="#5bfbc6" stroke="#5bfbc6"/>
<path d="M1771.5 601.7l7.9-10.6-7-9.2-7.9 10.6z" fill="#71fdc5" stroke="#71fdc5"/>
<path d="M1786.4 600.3l8-11.1-7.1-9.1-7.9 11z" fill="#75fdc3" stroke="#75fdc3"/>
<path d="M1801.4 598.4l7.9-11.5-7-9.1-7.9 11.4z" fill="#78fec0" stroke="#78fec0"/>
<path d="M1816.5 596.1l7.9-11.9-7.2-9.1-7.9 11.8z" fill="#7bfebc" stroke="#7bfebc"/>
<path d="M1831.5 593.4l7.9-12.3-7.1-9.1-7.9 12.2z" fill="#7efeb8" stroke="#7efeb8"/>
<path d="M1846.6 590.3l8-12.8-7.2-9.1-8 12.7z" fill="#80feb4" stroke="#80feb4"/>
<path d="M1861.8 586.7l7.9-13.2-7.2-9.1-7.9 13.1z" fill="#82feae" stroke="#82feae"/>
<path d="M1877 582.7l8-13.7-7.3-9.1-8 13.6z" fill="#84ffa8" stroke="#84ffa8"/>
<path d="M1892.2 578.2l8-14.1-7.3-9.1-7.9 14z" fill="#86ffa2" stroke="#86ffa2"/>
<path d="M1907.6 573.3l8-14.5-7.4-9.1-8 14.4z" fill="#87ff9b" stroke="#87ff9b"/>
<path d="M1922.9 568l8.1-15-7.4-9.1-8 14.9z" fill="#89ff93" stroke="#89ff93"/>
<path d="M1938.4 562.2l8.1-15.5-7.5-9.1-8 15.4z" fill="#8aff8b" stroke="#8aff8b"/>
<path d="M1953.9 555.9l8.1-15.9-7.5-9.1-8 15.8z" fill="#92ff8a" stroke="#92ff8a"/>
<path d="M1969.5 549.2l8.1-16.3-7.5-9.1-8.1 16.2z" fill="#9dff8b" stroke="#9dff8b"/>
<path d="M1251.2 388.2l9.5 4.9-6.2-9.1-9.5-5z" fill="#5e3600" stroke="#5e3600"/>
<path d="M1267 402.3l9.4 4.5-6.2-9.1-9.5-4.6z" fill="#664900" stroke="#664900"/>
<path d="M1282.7 415.9l9.4 4-6.3-9.1-9.4-4z" fill="#6f5e00" stroke="#6f5e00"/>
<path d="M1298.3 429.1l9.3 3.4-6.3-9.1-9.2-3.5z" fill="#777601" stroke="#777601"/>
<path d="M1313.9 441.7l9.2 3-6.3-9.1-9.2-3.1z" fill="#728001" stroke="#728001"/>
<path d="M1329.4 453.9l9.1 2.5-6.3-9.1-9.1-2.6z" fill="#6a8a02" stroke="#6a8a02"/>
<path d="M1344.8 465.6l9 2-6.3-9.1-9-2.1z" fill="#609402" stroke="#609402"/>
<path d="M1360.2 476.8l8.9 1.5-6.3-9.1-9-1.6z" fill="#559e03" stroke="#559e03"/>
<path d="M1375.5 487.5l8.9 1.1-6.4-9.1-8.9-1.2z" fill="#4aa804" stroke="#4aa804"/>
<path d="M1390.8 497.8l8.7 .6-6.3-9.1-8.8-.7z" fill="#3db305" stroke="#3db305"/>
<path d="M1406 507.6l8.7 .2-6.4-9.1-8.8-.3z" fill="#2fbe07" stroke="#2fbe07"/>
<path d="M1421.1 517l8.7-.3-6.5-9.1-8.6 .2z" fill="#21c908" stroke="#21c908"/>
<path d="M1436.2 525.9l8.6-.7-6.4-9.2-8.6 .7z" fill="#13d40a" stroke="#13d40a"/>
<path d="M1451.3 534.4l8.5-1.2-6.5-9.2-8.5 1.2z" fill="#0ddf16" stroke="#0ddf16"/>
<path d="M1466.3 542.4l8.5-1.7-6.5-9.1-8.5 1.6z" fill="#10e62a" stroke="#10e62a"/>
<path d="M1481.3 550l8.4-2.1-6.5-9.2-8.4 2z" fill="#13e83c" stroke="#13e83c"/>
<path d="M1496.2 557.1l8.4-2.5-6.5-9.2-8.4 2.5z" fill="#16e94e" stroke="#16e94e"/>
<path d="M1511.2 563.8l8.3-3-6.6-9.1-8.3 2.9z" fill="#1aeb5f" stroke="#1aeb5f"/>
<path d="M1526.1 570l8.2-3.4-6.5-9.1-8.3 3.3z" fill="#1eed6e" stroke="#1eed6e"/>
<path d="M1541 575.9l8.2-3.9-6.6-9.1-8.3 3.7z" fill="#22ee7c" stroke="#22ee7c"/>
<path d="M1555.8 581.3l8.2-4.3-6.6-9.2-8.2 4.2z" fill="#27f08a" stroke="#27f08a"/>
<path d="M1570.7 586.2l8.1-4.7-6.6-9.2-8.2 4.7z" fill="#2cf196" stroke="#2cf196"/>
<path d="M1585.5 590.7l8.1-5.1-6.7-9.2-8.1 5.1z" fill="#31f3a0" stroke="#31f3a0"/>
<path d="M1600.3 594.8l8.1-5.5-6.7-9.2-8.1 5.5z" fill="#36f4aa" stroke="#36f4aa"/>
<path d="M1615.1 598.5l8.1-6-6.8-9.1-8 5.9z" fill="#3bf5b2" stroke="#3bf5b2"/>
<path d="M1629.9 601.8l8.1-6.4-6.8-9.2-8 6.3z" fill="#41f6ba" stroke="#41f6ba"/>
<path d="M1644.7 604.6l8-6.8-6.7-9.2-8 6.8z" fill="#46f7c0" stroke="#46f7c0"/>
<path d="M1659.6 607l7.9-7.3-6.8-9.1-8 7.2z" fill="#4cf8c5" stroke="#4cf8c5"/>
<path d="M1674.4 609l7.9-7.7-6.8-9.2-8 7.6z" fill="#51f9c9" stroke="#51f9c9"/>
<path d="M1689.2 610.5l7.9-8.1-6.8-9.2-8 8.1z" fill="#56facc" stroke="#56facc"/>
<path d="M1704 611.7l8-8.6-6.9-9.2-8 8.5z" fill="#5bfbce" stroke="#5bfbce"/>
<path d="M1718.9 612.4l7.9-9-6.9-9.2-7.9 8.9z" fill="#60fbcf" stroke="#60fbcf"/>
<path d="M1733.8 612.6l7.9-9.4-7-9.1-7.9 9.3z" fill="#65fccf" stroke="#65fccf"/>
<path d="M1748.7 612.5l7.9-9.8-7-9.2-7.9 9.7z" fill="#69fccf" stroke="#69fccf"/>
<path d="M1763.6 611.9l7.9-10.2-7-9.2-7.9 10.2z" fill="#6efdcd" stroke="#6efdcd"/>
<path d="M1778.5 610.9l7.9-10.6-7-9.2-7.9 10.6z" fill="#71fdcc" stroke="#71fdcc"/>
<path d="M1793.5 609.5l7.9-11.1-7-9.2-8 11.1z" fill="#75fdc9" stroke="#75fdc9"/>
<path d="M1808.5 607.7l8-11.6-7.2-9.2-7.9 11.5z" fill="#78fec6" stroke="#78fec6"/>
<path d="M1823.6 605.4l7.9-12-7.1-9.2-7.9 11.9z" fill="#7bfec2" stroke="#7bfec2"/>
<path d="M1838.7 602.7l7.9-12.4-7.2-9.2-7.9 12.3z" fill="#7efebe" stroke="#7efebe"/>
<path d="M1853.8 599.5l8-12.8-7.2-9.2-8 12.8z" fill="#80feb9" stroke="#80feb9"/>
<path d="M1869 595.9l8-13.2-7.3-9.2-7.9 13.2z" fill="#82feb4" stroke="#82feb4"/>
<path d="M1884.3 591.9l7.9-13.7-7.2-9.2-8 13.7z" fill="#84ffae" stroke="#84ffae"/>
<path d="M1899.6 587.5l8-14.2-7.4-9.2-8 14.1z" fill="#86ffa7" stroke="#86ffa7"/>
<path d="M1914.9 582.6l8-14.6-7.3-9.2-8 14.5z" fill="#87ffa0" stroke="#87ffa0"/>
<path d="M1930.3 577.2l8.1-15-7.4-9.2-8.1 15z" fill="#89ff99" stroke="#89ff99"/>
<path d="M1945.8 571.4l8.1-15.5-7.4-9.2-8.1 15.5z" fill="#8aff90" stroke="#8aff90"/>
<path d="M1961.4 565.2l8.1-16-7.5-9.2-8.1 15.9z" fill="#8dff8a" stroke="#8dff8a"/>
<path d="M1335.7 463.1l9.1 2.5-6.3-9.2-9.1-2.5z" fill="#648b02" stroke="#648b02"/>
<path d="M1351.2 474.8l9 2-6.4-9.2-9-2z" fill="#5a9402" stroke="#5a9402"/>
<path d="M1442.7 535.2l8.6-.8-6.5-9.2-8.6 .7z" fill="#0bd50c" stroke="#0bd50c"/>
<path d="M1457.8 543.6l8.5-1.2-6.5-9.2-8.5 1.2z" fill="#0de020" stroke="#0de020"/>
<path d="M1472.8 551.7l8.5-1.7-6.5-9.3-8.5 1.7z" fill="#10e634" stroke="#10e634"/>
<path d="M1487.8 559.2l8.4-2.1-6.5-9.2-8.4 2.1z" fill="#13e846" stroke="#13e846"/>
<path d="M1502.8 566.4l8.4-2.6-6.6-9.2-8.4 2.5z" fill="#16ea58" stroke="#16ea58"/>
<path d="M1517.8 573.1l8.3-3.1-6.6-9.2-8.3 3z" fill="#1aeb68" stroke="#1aeb68"/>
<path d="M1696.1 619.8l7.9-8.1-6.9-9.3-7.9 8.1z" fill="#57fad3" stroke="#57fad3"/>
<path d="M1711 621l7.9-8.6-6.9-9.3-8 8.6z" fill="#5cfbd5" stroke="#5cfbd5"/>
<path d="M1725.8 621.7l8-9.1-7-9.2-7.9 9z" fill="#61fbd6" stroke="#61fbd6"/>
<path d="M1740.7 621.9l8-9.4-7-9.3-7.9 9.4z" fill="#65fcd6" stroke="#65fcd6"/>
<path d="M1755.7 621.8l7.9-9.9-7-9.2-7.9 9.8z" fill="#6afcd5" stroke="#6afcd5"/>
<path d="M1770.6 621.2l7.9-10.3-7-9.2-7.9 10.2z" fill="#6efdd4" stroke="#6efdd4"/>
<path d="M1861.1 608.8l7.9-12.9-7.2-9.2-8 12.8z" fill="#80febf" stroke="#80febf"/>
<path d="M1876.3 605.2l8-13.3-7.3-9.2-8 13.2z" fill="#83feb9" stroke="#83feb9"/>
<path d="M1257.4 397.4l9.6 4.9-6.3-9.2-9.5-4.9z" fill="#5f3b00" stroke="#5f3b00"/>
<path d="M1273.3 411.5l9.4 4.4-6.3-9.1-9.4-4.5z" fill="#674e00" stroke="#674e00"/>
<path d="M1289 425.2l9.3 3.9-6.2-9.2-9.4-4z" fill="#6f6400" stroke="#6f6400"/>
<path d="M1304.7 438.3l9.2 3.4-6.3-9.2-9.3-3.4z" fill="#747801" stroke="#747801"/>
<path d="M1320.2 451l9.2 2.9-6.3-9.2-9.2-3z" fill="#6d8101" stroke="#6d8101"/>
<path d="M1366.6 486l8.9 1.5-6.4-9.2-8.9-1.5z" fill="#4f9e03" stroke="#4f9e03"/>
<path d="M1381.9 496.8l8.9 1-6.4-9.2-8.9-1.1z" fill="#43a904" stroke="#43a904"/>
<path d="M1397.2 507.1l8.8 .5-6.5-9.2-8.7-.6z" fill="#35b405" stroke="#35b405"/>
<path d="M1412.4 516.9l8.7 .1-6.4-9.2-8.7-.2z" fill="#27bf07" stroke="#27bf07"/>
<path d="M1427.6 526.3l8.6-.4-6.4-9.2-8.7 .3z" fill="#19ca09" stroke="#19ca09"/>
<path d="M1532.7 579.3l8.3-3.4-6.7-9.3-8.2 3.4z" fill="#1eed78" stroke="#1eed78"/>
<path d="M1547.6 585.1l8.2-3.8-6.6-9.3-8.2 3.9z" fill="#22ee86" stroke="#22ee86"/>
<path d="M1562.5 590.5l8.2-4.3-6.7-9.2-8.2 4.3z" fill="#27f093" stroke="#27f093"/>
<path d="M1577.3 595.5l8.2-4.8-6.7-9.2-8.1 4.7z" fill="#2cf19f" stroke="#2cf19f"/>
<path d="M1592.2 600l8.1-5.2-6.7-9.2-8.1 5.1z" fill="#31f3a9" stroke="#31f3a9"/>
<path d="M1607 604.1l8.1-5.6-6.7-9.2-8.1 5.5z" fill="#36f4b3" stroke="#36f4b3"/>
<path d="M1621.9 607.8l8-6-6.7-9.3-8.1 6z" fill="#3cf5bb" stroke="#3cf5bb"/>
<path d="M1636.7 611.1l8-6.5-6.7-9.2-8.1 6.4z" fill="#41f6c2" stroke="#41f6c2"/>
<path d="M1651.5 613.9l8.1-6.9-6.9-9.2-8 6.8z" fill="#47f7c8" stroke="#47f7c8"/>
<path d="M1666.4 616.3l8-7.3-6.9-9.3-7.9 7.3z" fill="#4cf8cc" stroke="#4cf8cc"/>
<path d="M1681.2 618.3l8-7.8-6.9-9.2-7.9 7.7z" fill="#51f9d0" stroke="#51f9d0"/>
<path d="M1785.6 620.2l7.9-10.7-7.1-9.2-7.9 10.6z" fill="#72fdd2" stroke="#72fdd2"/>
<path d="M1800.6 618.8l7.9-11.1-7.1-9.3-7.9 11.1z" fill="#75fdcf" stroke="#75fdcf"/>
<path d="M1815.7 617l7.9-11.6-7.1-9.3-8 11.6z" fill="#78fecc" stroke="#78fecc"/>
<path d="M1830.8 614.7l7.9-12-7.2-9.3-7.9 12z" fill="#7bfec8" stroke="#7bfec8"/>
<path d="M1845.9 612l7.9-12.5-7.2-9.2-7.9 12.4z" fill="#7efec4" stroke="#7efec4"/>
<path d="M1891.6 601.2l8-13.7-7.4-9.3-7.9 13.7z" fill="#84ffb3" stroke="#84ffb3"/>
<path d="M1906.9 596.8l8-14.2-7.3-9.3-8 14.2z" fill="#86ffad" stroke="#86ffad"/>
<path d="M1922.3 591.9l8-14.7-7.4-9.2-8 14.6z" fill="#87ffa6" stroke="#87ffa6"/>
<path d="M1937.8 586.5l8-15.1-7.4-9.2-8.1 15z" fill="#89ff9e" stroke="#89ff9e"/>
<path d="M1953.3 580.7l8.1-15.5-7.5-9.3-8.1 15.5z" fill="#8aff95" stroke="#8aff95"/>
<path d="M1263.7 406.7l9.6 4.8-6.3-9.2-9.6-4.9z" fill="#604000" stroke="#604000"/>
<path d="M1279.6 420.8l9.4 4.4-6.3-9.3-9.4-4.4z" fill="#685400" stroke="#685400"/>
<path d="M1295.3 434.5l9.4 3.8-6.4-9.2-9.3-3.9z" fill="#706a00" stroke="#706a00"/>
<path d="M1311 447.6l9.2 3.4-6.3-9.3-9.2-3.4z" fill="#6f7901" stroke="#6f7901"/>
<path d="M1326.6 460.3l9.1 2.8-6.3-9.2-9.2-2.9z" fill="#678201" stroke="#678201"/>
<path d="M1342.1 472.4l9.1 2.4-6.4-9.2-9.1-2.5z" fill="#5e8b02" stroke="#5e8b02"/>
<path d="M1357.6 484.1l9 1.9-6.4-9.2-9-2z" fill="#549502" stroke="#549502"/>
<path d="M1373 495.3l8.9 1.5-6.4-9.3-8.9-1.5z" fill="#489f03" stroke="#489f03"/>
<path d="M1388.3 506.1l8.9 1-6.4-9.3-8.9-1z" fill="#3baa04" stroke="#3baa04"/>
<path d="M1403.6 516.4l8.8 .5-6.4-9.3-8.8-.5z" fill="#2eb405" stroke="#2eb405"/>
<path d="M1418.9 526.2l8.7 .1-6.5-9.3-8.7-.1z" fill="#1fbf07" stroke="#1fbf07"/>
<path d="M1434 535.6l8.7-.4-6.5-9.3-8.6 .4z" fill="#10cb09" stroke="#10cb09"/>
<path d="M1449.2 544.5l8.6-.9-6.5-9.2-8.6 .8z" fill="#0bd615" stroke="#0bd615"/>
<path d="M1464.3 553l8.5-1.3-6.5-9.3-8.5 1.2z" fill="#0de12a" stroke="#0de12a"/>
<path d="M1479.4 561l8.4-1.8-6.5-9.2-8.5 1.7z" fill="#10e63e" stroke="#10e63e"/>
<path d="M1494.4 568.6l8.4-2.2-6.6-9.3-8.4 2.1z" fill="#13e850" stroke="#13e850"/>
<path d="M1509.4 575.7l8.4-2.6-6.6-9.3-8.4 2.6z" fill="#16ea62" stroke="#16ea62"/>
<path d="M1524.4 582.4l8.3-3.1-6.6-9.3-8.3 3.1z" fill="#1aeb72" stroke="#1aeb72"/>
<path d="M1539.3 588.7l8.3-3.6-6.6-9.2-8.3 3.4z" fill="#1eed81" stroke="#1eed81"/>
<path d="M1554.2 594.5l8.3-4-6.7-9.2-8.2 3.8z" fill="#23ef8f" stroke="#23ef8f"/>
<path d="M1569.1 599.9l8.2-4.4-6.6-9.3-8.2 4.3z" fill="#27f09c" stroke="#27f09c"/>
<path d="M1584 604.8l8.2-4.8-6.7-9.3-8.2 4.8z" fill="#2cf2a8" stroke="#2cf2a8"/>
<path d="M1598.9 609.4l8.1-5.3-6.7-9.3-8.1 5.2z" fill="#31f3b2" stroke="#31f3b2"/>
<path d="M1613.8 613.5l8.1-5.7-6.8-9.3-8.1 5.6z" fill="#37f4bb" stroke="#37f4bb"/>
<path d="M1628.6 617.2l8.1-6.1-6.8-9.3-8 6z" fill="#3cf5c3" stroke="#3cf5c3"/>
<path d="M1643.5 620.4l8-6.5-6.8-9.3-8 6.5z" fill="#42f7ca" stroke="#42f7ca"/>
<path d="M1658.4 623.2l8-6.9-6.8-9.3-8.1 6.9z" fill="#47f8d0" stroke="#47f8d0"/>
<path d="M1673.2 625.6l8-7.3-6.8-9.3-8 7.3z" fill="#4cf8d4" stroke="#4cf8d4"/>
<path d="M1688.1 627.6l8-7.8-6.9-9.3-8 7.8z" fill="#52f9d8" stroke="#52f9d8"/>
<path d="M1703 629.2l8-8.2-7-9.3-7.9 8.1z" fill="#57fada" stroke="#57fada"/>
<path d="M1717.9 630.3l7.9-8.6-6.9-9.3-7.9 8.6z" fill="#5cfbdc" stroke="#5cfbdc"/>
<path d="M1732.8 631l7.9-9.1-6.9-9.3-8 9.1z" fill="#61fbdd" stroke="#61fbdd"/>
<path d="M1747.7 631.3l8-9.5-7-9.3-8 9.4z" fill="#66fcdd" stroke="#66fcdd"/>
<path d="M1762.7 631.2l7.9-10-7-9.3-7.9 9.9z" fill="#6afcdc" stroke="#6afcdc"/>
<path d="M1777.7 630.6l7.9-10.4-7.1-9.3-7.9 10.3z" fill="#6efdda" stroke="#6efdda"/>
<path d="M1792.7 629.6l7.9-10.8-7.1-9.3-7.9 10.7z" fill="#72fdd8" stroke="#72fdd8"/>
<path d="M1807.7 628.2l8-11.2-7.2-9.3-7.9 11.1z" fill="#75fdd5" stroke="#75fdd5"/>
<path d="M1822.8 626.3l8-11.6-7.2-9.3-7.9 11.6z" fill="#79fed2" stroke="#79fed2"/>
<path d="M1837.9 624l8-12-7.2-9.3-7.9 12z" fill="#7cfece" stroke="#7cfece"/>
<path d="M1853.1 621.3l8-12.5-7.3-9.3-7.9 12.5z" fill="#7efec9" stroke="#7efec9"/>
<path d="M1868.3 618.2l8-13-7.3-9.3-7.9 12.9z" fill="#81fec4" stroke="#81fec4"/>
<path d="M1883.6 614.6l8-13.4-7.3-9.3-8 13.3z" fill="#83febf" stroke="#83febf"/>
<path d="M1898.9 610.6l8-13.8-7.3-9.3-8 13.7z" fill="#84ffb9" stroke="#84ffb9"/>
<path d="M1914.3 606.1l8-14.2-7.4-9.3-8 14.2z" fill="#86ffb2" stroke="#86ffb2"/>
<path d="M1929.7 601.2l8.1-14.7-7.5-9.3-8 14.7z" fill="#87ffab" stroke="#87ffab"/>
<path d="M1945.2 595.9l8.1-15.2-7.5-9.3-8 15.1z" fill="#89ffa3" stroke="#89ffa3"/>
<path d="M1317.3 457l9.3 3.3-6.4-9.3-9.2-3.4z" fill="#6a7901" stroke="#6a7901"/>
<path d="M1333 469.6l9.1 2.8-6.4-9.3-9.1-2.8z" fill="#628301" stroke="#628301"/>
<path d="M1348.5 481.8l9.1 2.3-6.4-9.3-9.1-2.4z" fill="#588c02" stroke="#588c02"/>
<path d="M1364 493.5l9 1.8-6.4-9.3-9-1.9z" fill="#4d9602" stroke="#4d9602"/>
<path d="M1425.3 535.6l8.7 0-6.4-9.3-8.7-.1z" fill="#17c007" stroke="#17c007"/>
<path d="M1440.6 545l8.6-.5-6.5-9.3-8.7 .4z" fill="#09cb0a" stroke="#09cb0a"/>
<path d="M1455.7 553.9l8.6-.9-6.5-9.4-8.6 .9z" fill="#0bd71f" stroke="#0bd71f"/>
<path d="M1470.8 562.4l8.6-1.4-6.6-9.3-8.5 1.3z" fill="#0de234" stroke="#0de234"/>
<path d="M1485.9 570.4l8.5-1.8-6.6-9.4-8.4 1.8z" fill="#10e648" stroke="#10e648"/>
<path d="M1501 578l8.4-2.3-6.6-9.3-8.4 2.2z" fill="#13e85a" stroke="#13e85a"/>
<path d="M1516 585.1l8.4-2.7-6.6-9.3-8.4 2.6z" fill="#17ea6b" stroke="#17ea6b"/>
<path d="M1531 591.8l8.3-3.1-6.6-9.4-8.3 3.1z" fill="#1aec7c" stroke="#1aec7c"/>
<path d="M1680.1 635.1l8-7.5-6.9-9.3-8 7.3z" fill="#4df9dc" stroke="#4df9dc"/>
<path d="M1695 637l8-7.8-6.9-9.4-8 7.8z" fill="#52f9e0" stroke="#52f9e0"/>
<path d="M1709.9 638.6l8-8.3-6.9-9.3-8 8.2z" fill="#57fae2" stroke="#57fae2"/>
<path d="M1724.9 639.7l7.9-8.7-7-9.3-7.9 8.6z" fill="#5cfbe3" stroke="#5cfbe3"/>
<path d="M1739.8 640.4l7.9-9.1-7-9.4-7.9 9.1z" fill="#61fbe4" stroke="#61fbe4"/>
<path d="M1754.8 640.7l7.9-9.5-7-9.4-8 9.5z" fill="#66fce3" stroke="#66fce3"/>
<path d="M1769.8 640.6l7.9-10-7.1-9.4-7.9 10z" fill="#6afce2" stroke="#6afce2"/>
<path d="M1784.8 640l7.9-10.4-7.1-9.4-7.9 10.4z" fill="#6efde1" stroke="#6efde1"/>
<path d="M1845.2 633.5l7.9-12.2-7.2-9.3-8 12z" fill="#7cfed4" stroke="#7cfed4"/>
<path d="M1860.4 630.8l7.9-12.6-7.2-9.4-8 12.5z" fill="#7efecf" stroke="#7efecf"/>
<path d="M1875.6 627.6l8-13-7.3-9.4-8 13z" fill="#81feca" stroke="#81feca"/>
<path d="M1890.9 624l8-13.4-7.3-9.4-8 13.4z" fill="#83fec4" stroke="#83fec4"/>
<path d="M1270 416l9.6 4.8-6.3-9.3-9.6-4.8z" fill="#604500" stroke="#604500"/>
<path d="M1285.9 430.2l9.4 4.3-6.3-9.3-9.4-4.4z" fill="#685900" stroke="#685900"/>
<path d="M1301.6 443.8l9.4 3.8-6.3-9.3-9.4-3.8z" fill="#717001" stroke="#717001"/>
<path d="M1379.4 504.7l8.9 1.4-6.4-9.3-8.9-1.5z" fill="#41a003" stroke="#41a003"/>
<path d="M1394.8 515.5l8.8 .9-6.4-9.3-8.9-1z" fill="#34ab04" stroke="#34ab04"/>
<path d="M1410.1 525.8l8.8 .4-6.5-9.3-8.8-.5z" fill="#26b506" stroke="#26b506"/>
<path d="M1546 598.1l8.2-3.6-6.6-9.4-8.3 3.6z" fill="#1fed8b" stroke="#1fed8b"/>
<path d="M1560.9 603.9l8.2-4-6.6-9.4-8.3 4z" fill="#23ef99" stroke="#23ef99"/>
<path d="M1575.8 609.3l8.2-4.5-6.7-9.3-8.2 4.4z" fill="#28f0a6" stroke="#28f0a6"/>
<path d="M1590.8 614.3l8.1-4.9-6.7-9.4-8.2 4.8z" fill="#2df2b1" stroke="#2df2b1"/>
<path d="M1605.7 618.8l8.1-5.3-6.8-9.4-8.1 5.3z" fill="#32f3bb" stroke="#32f3bb"/>
<path d="M1620.6 622.9l8-5.7-6.7-9.4-8.1 5.7z" fill="#37f4c4" stroke="#37f4c4"/>
<path d="M1635.4 626.6l8.1-6.2-6.8-9.3-8.1 6.1z" fill="#3cf5cc" stroke="#3cf5cc"/>
<path d="M1650.3 629.8l8.1-6.6-6.9-9.3-8 6.5z" fill="#42f7d3" stroke="#42f7d3"/>
<path d="M1665.2 632.7l8-7.1-6.8-9.3-8 6.9z" fill="#47f8d8" stroke="#47f8d8"/>
<path d="M1799.8 639l7.9-10.8-7.1-9.4-7.9 10.8z" fill="#72fdde" stroke="#72fdde"/>
<path d="M1814.9 637.6l7.9-11.3-7.1-9.3-8 11.2z" fill="#76fddb" stroke="#76fddb"/>
<path d="M1830 635.7l7.9-11.7-7.1-9.3-8 11.6z" fill="#79fed8" stroke="#79fed8"/>
<path d="M1906.3 620l8-13.9-7.4-9.3-8 13.8z" fill="#85ffbe" stroke="#85ffbe"/>
<path d="M1921.7 615.6l8-14.4-7.4-9.3-8 14.2z" fill="#86ffb8" stroke="#86ffb8"/>
<path d="M1937.1 610.7l8.1-14.8-7.4-9.4-8.1 14.7z" fill="#88ffb0" stroke="#88ffb0"/>
<path d="M1276.3 425.4l9.6 4.8-6.3-9.4-9.6-4.8z" fill="#614a00" stroke="#614a00"/>
<path d="M1292.2 439.6l9.4 4.2-6.3-9.3-9.4-4.3z" fill="#695f00" stroke="#695f00"/>
<path d="M1308 453.2l9.3 3.8-6.3-9.4-9.4-3.8z" fill="#6d7101" stroke="#6d7101"/>
<path d="M1323.7 466.4l9.3 3.2-6.4-9.3-9.3-3.3z" fill="#657a01" stroke="#657a01"/>
<path d="M1339.3 479l9.2 2.8-6.4-9.4-9.1-2.8z" fill="#5d8301" stroke="#5d8301"/>
<path d="M1354.9 491.2l9.1 2.3-6.4-9.4-9.1-2.3z" fill="#528d02" stroke="#528d02"/>
<path d="M1370.4 502.9l9 1.8-6.4-9.4-9-1.8z" fill="#479702" stroke="#479702"/>
<path d="M1385.9 514.1l8.9 1.4-6.5-9.4-8.9-1.4z" fill="#3aa103" stroke="#3aa103"/>
<path d="M1401.2 524.9l8.9 .9-6.5-9.4-8.8-.9z" fill="#2dab04" stroke="#2dab04"/>
<path d="M1416.6 535.2l8.7 .4-6.4-9.4-8.8-.4z" fill="#1eb606" stroke="#1eb606"/>
<path d="M1431.8 545l8.8 0-6.6-9.4-8.7 0z" fill="#0fc107" stroke="#0fc107"/>
<path d="M1447.1 554.4l8.6-.5-6.5-9.4-8.6 .5z" fill="#09cc14" stroke="#09cc14"/>
<path d="M1462.3 563.3l8.5-.9-6.5-9.4-8.6 .9z" fill="#0bd728" stroke="#0bd728"/>
<path d="M1477.4 571.8l8.5-1.4-6.5-9.4-8.6 1.4z" fill="#0ee33e" stroke="#0ee33e"/>
<path d="M1492.5 579.8l8.5-1.8-6.6-9.4-8.5 1.8z" fill="#10e752" stroke="#10e752"/>
<path d="M1507.6 587.4l8.4-2.3-6.6-9.4-8.4 2.3z" fill="#14e864" stroke="#14e864"/>
<path d="M1522.6 594.6l8.4-2.8-6.6-9.4-8.4 2.7z" fill="#17ea75" stroke="#17ea75"/>
<path d="M1537.7 601.3l8.3-3.2-6.7-9.4-8.3 3.1z" fill="#1bec86" stroke="#1bec86"/>
<path d="M1552.6 607.5l8.3-3.6-6.7-9.4-8.2 3.6z" fill="#1fed95" stroke="#1fed95"/>
<path d="M1567.6 613.4l8.2-4.1-6.7-9.4-8.2 4z" fill="#23efa2" stroke="#23efa2"/>
<path d="M1582.6 618.8l8.2-4.5-6.8-9.5-8.2 4.5z" fill="#28f0af" stroke="#28f0af"/>
<path d="M1597.5 623.7l8.2-4.9-6.8-9.4-8.1 4.9z" fill="#2df2ba" stroke="#2df2ba"/>
<path d="M1612.4 628.3l8.2-5.4-6.8-9.4-8.1 5.3z" fill="#32f3c4" stroke="#32f3c4"/>
<path d="M1627.4 632.4l8-5.8-6.8-9.4-8 5.7z" fill="#37f4cd" stroke="#37f4cd"/>
<path d="M1642.3 636.1l8-6.3-6.8-9.4-8.1 6.2z" fill="#3df6d5" stroke="#3df6d5"/>
<path d="M1657.2 639.3l8-6.6-6.8-9.5-8.1 6.6z" fill="#42f7db" stroke="#42f7db"/>
<path d="M1672.1 642.1l8-7-6.9-9.5-8 7.1z" fill="#48f8e0" stroke="#48f8e0"/>
<path d="M1687 644.5l8-7.5-6.9-9.4-8 7.5z" fill="#4df9e4" stroke="#4df9e4"/>
<path d="M1701.9 646.5l8-7.9-6.9-9.4-8 7.8z" fill="#52f9e7" stroke="#52f9e7"/>
<path d="M1716.9 648.1l8-8.4-7-9.4-8 8.3z" fill="#58fae9" stroke="#58fae9"/>
<path d="M1731.8 649.2l8-8.8-7-9.4-7.9 8.7z" fill="#5dfbea" stroke="#5dfbea"/>
<path d="M1746.8 649.9l8-9.2-7.1-9.4-7.9 9.1z" fill="#62fbeb" stroke="#62fbeb"/>
<path d="M1761.8 650.2l8-9.6-7.1-9.4-7.9 9.5z" fill="#66fcea" stroke="#66fcea"/>
<path d="M1776.8 650.1l8-10.1-7.1-9.4-7.9 10z" fill="#6afce9" stroke="#6afce9"/>
<path d="M1791.9 649.5l7.9-10.5-7.1-9.4-7.9 10.4z" fill="#6efde7" stroke="#6efde7"/>
<path d="M1807 648.5l7.9-10.9-7.2-9.4-7.9 10.8z" fill="#72fde5" stroke="#72fde5"/>
<path d="M1822.1 647.1l7.9-11.4-7.2-9.4-7.9 11.3z" fill="#76fde2" stroke="#76fde2"/>
<path d="M1837.2 645.2l8-11.7-7.3-9.5-7.9 11.7z" fill="#79fede" stroke="#79fede"/>
<path d="M1852.4 643l8-12.2-7.3-9.5-7.9 12.2z" fill="#7cfeda" stroke="#7cfeda"/>
<path d="M1867.6 640.2l8-12.6-7.3-9.4-7.9 12.6z" fill="#7efed5" stroke="#7efed5"/>
<path d="M1882.9 637.1l8-13.1-7.3-9.4-8 13z" fill="#81fed0" stroke="#81fed0"/>
<path d="M1898.2 633.5l8.1-13.5-7.4-9.4-8 13.4z" fill="#83feca" stroke="#83feca"/>
<path d="M1913.6 629.5l8.1-13.9-7.4-9.5-8 13.9z" fill="#85ffc4" stroke="#85ffc4"/>
<path d="M1929.1 625l8-14.3-7.4-9.5-8 14.4z" fill="#86ffbd" stroke="#86ffbd"/>
<path d="M1298.6 449.1l9.4 4.1-6.4-9.4-9.4-4.2z" fill="#6a6400" stroke="#6a6400"/>
<path d="M1314.4 462.7l9.3 3.7-6.4-9.4-9.3-3.8z" fill="#687201" stroke="#687201"/>
<path d="M1330.1 475.9l9.2 3.1-6.3-9.4-9.3-3.2z" fill="#607b01" stroke="#607b01"/>
<path d="M1345.8 488.5l9.1 2.7-6.4-9.4-9.2-2.8z" fill="#578401" stroke="#578401"/>
<path d="M1361.4 500.7l9 2.2-6.4-9.4-9.1-2.3z" fill="#4c8e02" stroke="#4c8e02"/>
<path d="M1376.9 512.4l9 1.7-6.5-9.4-9-1.8z" fill="#409803" stroke="#409803"/>
<path d="M1407.7 534.4l8.9 .8-6.5-9.4-8.9-.9z" fill="#25ac04" stroke="#25ac04"/>
<path d="M1423.1 544.7l8.7 .3-6.5-9.4-8.7-.4z" fill="#16b706" stroke="#16b706"/>
<path d="M1438.4 554.5l8.7-.1-6.5-9.4-8.8 0z" fill="#07c209" stroke="#07c209"/>
<path d="M1453.6 563.9l8.7-.6-6.6-9.4-8.6 .5z" fill="#09cd1d" stroke="#09cd1d"/>
<path d="M1468.8 572.8l8.6-1-6.6-9.4-8.5 .9z" fill="#0bd832" stroke="#0bd832"/>
<path d="M1484 581.3l8.5-1.5-6.6-9.4-8.5 1.4z" fill="#0ee348" stroke="#0ee348"/>
<path d="M1499.1 589.4l8.5-2-6.6-9.4-8.5 1.8z" fill="#11e75c" stroke="#11e75c"/>
<path d="M1514.2 596.9l8.4-2.3-6.6-9.5-8.4 2.3z" fill="#14e86e" stroke="#14e86e"/>
<path d="M1529.3 604.1l8.4-2.8-6.7-9.5-8.4 2.8z" fill="#17ea7f" stroke="#17ea7f"/>
<path d="M1544.3 610.8l8.3-3.3-6.6-9.4-8.3 3.2z" fill="#1bec8f" stroke="#1bec8f"/>
<path d="M1664.1 648.8l8-6.7-6.9-9.4-8 6.6z" fill="#43f7e3" stroke="#43f7e3"/>
<path d="M1679 651.7l8-7.2-6.9-9.4-8 7z" fill="#48f8e8" stroke="#48f8e8"/>
<path d="M1693.9 654.1l8-7.6-6.9-9.5-8 7.5z" fill="#4df9ec" stroke="#4df9ec"/>
<path d="M1708.9 656.1l8-8-7-9.5-8 7.9z" fill="#53f9ef" stroke="#53f9ef"/>
<path d="M1723.9 657.6l7.9-8.4-6.9-9.5-8 8.4z" fill="#58faf1" stroke="#58faf1"/>
<path d="M1738.9 658.8l7.9-8.9-7-9.5-8 8.8z" fill="#5dfbf2" stroke="#5dfbf2"/>
<path d="M1753.9 659.5l7.9-9.3-7-9.5-8 9.2z" fill="#62fbf2" stroke="#62fbf2"/>
<path d="M1768.9 659.7l7.9-9.6-7-9.5-8 9.6z" fill="#66fcf1" stroke="#66fcf1"/>
<path d="M1783.9 659.6l8-10.1-7.1-9.5-8 10.1z" fill="#6bfcf0" stroke="#6bfcf0"/>
<path d="M1799 659l8-10.5-7.2-9.5-7.9 10.5z" fill="#6ffdee" stroke="#6ffdee"/>
<path d="M1829.3 656.6l7.9-11.4-7.2-9.5-7.9 11.4z" fill="#76fde8" stroke="#76fde8"/>
<path d="M1844.4 654.8l8-11.8-7.2-9.5-8 11.7z" fill="#79fee4" stroke="#79fee4"/>
<path d="M1859.7 652.5l7.9-12.3-7.2-9.4-8 12.2z" fill="#7cfee0" stroke="#7cfee0"/>
<path d="M1874.9 649.8l8-12.7-7.3-9.5-8 12.6z" fill="#7ffedb" stroke="#7ffedb"/>
<path d="M1890.2 646.6l8-13.1-7.3-9.5-8 13.1z" fill="#81fed6" stroke="#81fed6"/>
<path d="M1905.6 643.1l8-13.6-7.3-9.5-8.1 13.5z" fill="#83fed0" stroke="#83fed0"/>
<path d="M1282.7 434.9l9.5 4.7-6.3-9.4-9.6-4.8z" fill="#624f00" stroke="#624f00"/>
<path d="M1392.3 523.6l8.9 1.3-6.4-9.4-8.9-1.4z" fill="#33a203" stroke="#33a203"/>
<path d="M1559.3 617.1l8.3-3.7-6.7-9.5-8.3 3.6z" fill="#1fed9e" stroke="#1fed9e"/>
<path d="M1574.3 622.9l8.3-4.1-6.8-9.5-8.2 4.1z" fill="#24efac" stroke="#24efac"/>
<path d="M1589.3 628.3l8.2-4.6-6.7-9.4-8.2 4.5z" fill="#28f0b8" stroke="#28f0b8"/>
<path d="M1604.3 633.3l8.1-5-6.7-9.5-8.2 4.9z" fill="#2df2c3" stroke="#2df2c3"/>
<path d="M1619.2 637.8l8.2-5.4-6.8-9.5-8.2 5.4z" fill="#32f3cd" stroke="#32f3cd"/>
<path d="M1634.2 641.9l8.1-5.8-6.9-9.5-8 5.8z" fill="#38f4d6" stroke="#38f4d6"/>
<path d="M1649.1 645.6l8.1-6.3-6.9-9.5-8 6.3z" fill="#3df6dd" stroke="#3df6dd"/>
<path d="M1814.1 658.1l8-11-7.2-9.5-7.9 10.9z" fill="#72fdeb" stroke="#72fdeb"/>
<path d="M1921 639.1l8.1-14.1-7.4-9.4-8.1 13.9z" fill="#85ffc9" stroke="#85ffc9"/>
<path d="M1289.1 444.4l9.5 4.7-6.4-9.5-9.5-4.7z" fill="#625400" stroke="#625400"/>
<path d="M1305 458.6l9.4 4.1-6.4-9.5-9.4-4.1z" fill="#6a6a00" stroke="#6a6a00"/>
<path d="M1320.8 472.2l9.3 3.7-6.4-9.5-9.3-3.7z" fill="#647301" stroke="#647301"/>
<path d="M1336.5 485.4l9.3 3.1-6.5-9.5-9.2-3.1z" fill="#5b7c01" stroke="#5b7c01"/>
<path d="M1352.2 498.1l9.2 2.6-6.5-9.5-9.1-2.7z" fill="#518501" stroke="#518501"/>
<path d="M1367.8 510.3l9.1 2.1-6.5-9.5-9-2.2z" fill="#468e02" stroke="#468e02"/>
<path d="M1383.4 522l8.9 1.6-6.4-9.5-9-1.7z" fill="#3a9803" stroke="#3a9803"/>
<path d="M1398.8 533.2l8.9 1.2-6.5-9.5-8.9-1.3z" fill="#2ca303" stroke="#2ca303"/>
<path d="M1414.3 544l8.8 .7-6.5-9.5-8.9-.8z" fill="#1dad05" stroke="#1dad05"/>
<path d="M1429.6 554.3l8.8 .2-6.6-9.5-8.7-.3z" fill="#0eb806" stroke="#0eb806"/>
<path d="M1444.9 564.1l8.7-.2-6.5-9.5-8.7 .1z" fill="#07c312" stroke="#07c312"/>
<path d="M1460.2 573.5l8.6-.7-6.5-9.5-8.7 .6z" fill="#09ce26" stroke="#09ce26"/>
<path d="M1475.4 582.4l8.6-1.1-6.6-9.5-8.6 1z" fill="#0cd93c" stroke="#0cd93c"/>
<path d="M1490.6 590.9l8.5-1.5-6.6-9.6-8.5 1.5z" fill="#0ee452" stroke="#0ee452"/>
<path d="M1505.8 598.9l8.4-2-6.6-9.5-8.5 2z" fill="#11e766" stroke="#11e766"/>
<path d="M1520.9 606.5l8.4-2.4-6.7-9.5-8.4 2.3z" fill="#14e978" stroke="#14e978"/>
<path d="M1536 613.7l8.3-2.9-6.6-9.5-8.4 2.8z" fill="#17ea89" stroke="#17ea89"/>
<path d="M1551 620.4l8.3-3.3-6.7-9.6-8.3 3.3z" fill="#1bec99" stroke="#1bec99"/>
<path d="M1566.1 626.6l8.2-3.7-6.7-9.5-8.3 3.7z" fill="#1feda8" stroke="#1feda8"/>
<path d="M1581.1 632.5l8.2-4.2-6.7-9.5-8.3 4.1z" fill="#24efb6" stroke="#24efb6"/>
<path d="M1596.1 637.9l8.2-4.6-6.8-9.6-8.2 4.6z" fill="#29f1c2" stroke="#29f1c2"/>
<path d="M1611.1 642.8l8.1-5-6.8-9.5-8.1 5z" fill="#2ef2cd" stroke="#2ef2cd"/>
<path d="M1626.1 647.4l8.1-5.5-6.8-9.5-8.2 5.4z" fill="#33f3d6" stroke="#33f3d6"/>
<path d="M1641 651.5l8.1-5.9-6.8-9.5-8.1 5.8z" fill="#38f5df" stroke="#38f5df"/>
<path d="M1656 655.2l8.1-6.4-6.9-9.5-8.1 6.3z" fill="#3ef6e6" stroke="#3ef6e6"/>
<path d="M1671 658.4l8-6.7-6.9-9.6-8 6.7z" fill="#43f7ec" stroke="#43f7ec"/>
<path d="M1685.9 661.3l8-7.2-6.9-9.6-8 7.2z" fill="#48f8f0" stroke="#48f8f0"/>
<path d="M1700.9 663.7l8-7.6-7-9.6-8 7.6z" fill="#4ef9f4" stroke="#4ef9f4"/>
<path d="M1715.9 665.7l8-8.1-7-9.5-8 8z" fill="#53faf7" stroke="#53faf7"/>
<path d="M1730.9 667.2l8-8.4-7.1-9.6-7.9 8.4z" fill="#58faf8" stroke="#58faf8"/>
<path d="M1745.9 668.4l8-8.9-7.1-9.6-7.9 8.9z" fill="#5dfbf9" stroke="#5dfbf9"/>
<path d="M1760.9 669.1l8-9.4-7.1-9.5-7.9 9.3z" fill="#62fbf9" stroke="#62fbf9"/>
<path d="M1776 669.4l7.9-9.8-7.1-9.5-7.9 9.6z" fill="#67fcf8" stroke="#67fcf8"/>
<path d="M1791.1 669.2l7.9-10.2-7.1-9.5-8 10.1z" fill="#6bfcf7" stroke="#6bfcf7"/>
<path d="M1806.2 668.7l7.9-10.6-7.1-9.6-8 10.5z" fill="#6ffdf4" stroke="#6ffdf4"/>
<path d="M1821.3 667.7l8-11.1-7.2-9.5-8 11z" fill="#73fdf2" stroke="#73fdf2"/>
<path d="M1836.5 666.2l7.9-11.4-7.2-9.6-7.9 11.4z" fill="#76fdee" stroke="#76fdee"/>
<path d="M1851.7 664.4l8-11.9-7.3-9.5-8 11.8z" fill="#79feea" stroke="#79feea"/>
<path d="M1867 662.1l7.9-12.3-7.3-9.6-7.9 12.3z" fill="#7cfee6" stroke="#7cfee6"/>
<path d="M1882.3 659.4l7.9-12.8-7.3-9.5-8 12.7z" fill="#7ffee1" stroke="#7ffee1"/>
<path d="M1897.6 656.3l8-13.2-7.4-9.6-8 13.1z" fill="#81fedb" stroke="#81fedb"/>
<path d="M1913 652.7l8-13.6-7.4-9.6-8 13.6z" fill="#83fed5" stroke="#83fed5"/>
<path d="M1295.5 454l9.5 4.6-6.4-9.5-9.5-4.7z" fill="#635900" stroke="#635900"/>
<path d="M1311.4 468.2l9.4 4-6.4-9.5-9.4-4.1z" fill="#666b00" stroke="#666b00"/>
<path d="M1327.2 481.8l9.3 3.6-6.4-9.5-9.3-3.7z" fill="#5f7401" stroke="#5f7401"/>
<path d="M1343 495l9.2 3.1-6.4-9.6-9.3-3.1z" fill="#567c01" stroke="#567c01"/>
<path d="M1358.7 507.7l9.1 2.6-6.4-9.6-9.2-2.6z" fill="#4b8601" stroke="#4b8601"/>
<path d="M1374.3 519.9l9.1 2.1-6.5-9.6-9.1-2.1z" fill="#408f02" stroke="#408f02"/>
<path d="M1389.9 531.6l8.9 1.6-6.5-9.6-8.9-1.6z" fill="#339903" stroke="#339903"/>
<path d="M1405.4 542.8l8.9 1.2-6.6-9.6-8.9-1.2z" fill="#25a304" stroke="#25a304"/>
<path d="M1420.8 553.6l8.8 .7-6.5-9.6-8.8-.7z" fill="#15ae05" stroke="#15ae05"/>
<path d="M1436.2 563.9l8.7 .2-6.5-9.6-8.8-.2z" fill="#06b907" stroke="#06b907"/>
<path d="M1451.5 573.7l8.7-.2-6.6-9.6-8.7 .2z" fill="#08c41b" stroke="#08c41b"/>
<path d="M1466.8 583.1l8.6-.7-6.6-9.6-8.6 .7z" fill="#0acf30" stroke="#0acf30"/>
<path d="M1482.1 592l8.5-1.1-6.6-9.6-8.6 1.1z" fill="#0cda46" stroke="#0cda46"/>
<path d="M1497.3 600.5l8.5-1.6-6.7-9.5-8.5 1.5z" fill="#0ee55d" stroke="#0ee55d"/>
<path d="M1512.4 608.6l8.5-2.1-6.7-9.6-8.4 2z" fill="#11e770" stroke="#11e770"/>
<path d="M1527.6 616.2l8.4-2.5-6.7-9.6-8.4 2.4z" fill="#14e982" stroke="#14e982"/>
<path d="M1542.7 623.3l8.3-2.9-6.7-9.6-8.3 2.9z" fill="#18ea93" stroke="#18ea93"/>
<path d="M1557.8 630l8.3-3.4-6.8-9.5-8.3 3.3z" fill="#1ceca3" stroke="#1ceca3"/>
<path d="M1647.9 661.1l8.1-5.9-6.9-9.6-8.1 5.9z" fill="#38f5e8" stroke="#38f5e8"/>
<path d="M1662.9 664.8l8.1-6.4-6.9-9.6-8.1 6.4z" fill="#3ef6ef" stroke="#3ef6ef"/>
<path d="M1677.9 668.1l8-6.8-6.9-9.6-8 6.7z" fill="#43f7f4" stroke="#43f7f4"/>
<path d="M1692.9 670.9l8-7.2-7-9.6-8 7.2z" fill="#49f7f8" stroke="#49f7f8"/>
<path d="M1707.9 673.3l8-7.6-7-9.6-8 7.6z" fill="#4ef5f9" stroke="#4ef5f9"/>
<path d="M1722.9 675.3l8-8.1-7-9.6-8 8.1z" fill="#53f5fa" stroke="#53f5fa"/>
<path d="M1737.9 676.9l8-8.5-7-9.6-8 8.4z" fill="#59f5fa" stroke="#59f5fa"/>
<path d="M1753 678l7.9-8.9-7-9.6-8 8.9z" fill="#5ef5fb" stroke="#5ef5fb"/>
<path d="M1768 678.7l8-9.3-7.1-9.7-8 9.4z" fill="#62f7fc" stroke="#62f7fc"/>
<path d="M1783.1 679l8-9.8-7.2-9.6-7.9 9.8z" fill="#67f9fc" stroke="#67f9fc"/>
<path d="M1798.2 678.9l8-10.2-7.2-9.7-7.9 10.2z" fill="#6bfcfc" stroke="#6bfcfc"/>
<path d="M1813.3 678.3l8-10.6-7.2-9.6-7.9 10.6z" fill="#6ffdfb" stroke="#6ffdfb"/>
<path d="M1828.5 677.3l8-11.1-7.2-9.6-8 11.1z" fill="#73fdf8" stroke="#73fdf8"/>
<path d="M1843.7 675.9l8-11.5-7.3-9.6-7.9 11.4z" fill="#76fdf4" stroke="#76fdf4"/>
<path d="M1859 674.1l8-12-7.3-9.6-8 11.9z" fill="#79fef0" stroke="#79fef0"/>
<path d="M1874.3 671.8l8-12.4-7.4-9.6-7.9 12.3z" fill="#7cfeec" stroke="#7cfeec"/>
<path d="M1889.6 669.1l8-12.8-7.4-9.7-7.9 12.8z" fill="#7ffee7" stroke="#7ffee7"/>
<path d="M1905 665.9l8-13.2-7.4-9.6-8 13.2z" fill="#81fee1" stroke="#81fee1"/>
<path d="M1572.8 636.3l8.3-3.8-6.8-9.6-8.2 3.7z" fill="#20eeb2" stroke="#20eeb2"/>
<path d="M1587.9 642.1l8.2-4.2-6.8-9.6-8.2 4.2z" fill="#24efbf" stroke="#24efbf"/>
<path d="M1602.9 647.5l8.2-4.7-6.8-9.5-8.2 4.6z" fill="#29f1cb" stroke="#29f1cb"/>
<path d="M1617.9 652.5l8.2-5.1-6.9-9.6-8.1 5z" fill="#2ef2d6" stroke="#2ef2d6"/>
<path d="M1632.9 657l8.1-5.5-6.8-9.6-8.1 5.5z" fill="#33f3df" stroke="#33f3df"/>
<path d="M1380.8 529.5l9.1 2.1-6.5-9.6-9.1-2.1z" fill="#399002" stroke="#399002"/>
<path d="M1396.4 541.3l9 1.5-6.6-9.6-8.9-1.6z" fill="#2c9a03" stroke="#2c9a03"/>
<path d="M1805.4 688.6l7.9-10.3-7.1-9.6-8 10.2z" fill="#6bf5fc" stroke="#6bf5fc"/>
<path d="M1820.6 688l7.9-10.7-7.2-9.6-8 10.6z" fill="#6ff8fd" stroke="#6ff8fd"/>
<path d="M1301.9 463.7l9.5 4.5-6.4-9.6-9.5-4.6z" fill="#645e00" stroke="#645e00"/>
<path d="M1317.8 477.8l9.4 4-6.4-9.6-9.4-4z" fill="#626c00" stroke="#626c00"/>
<path d="M1333.7 491.5l9.3 3.5-6.5-9.6-9.3-3.6z" fill="#5a7401" stroke="#5a7401"/>
<path d="M1349.5 504.7l9.2 3-6.5-9.6-9.2-3.1z" fill="#507d01" stroke="#507d01"/>
<path d="M1365.2 517.3l9.1 2.6-6.5-9.6-9.1-2.6z" fill="#468601" stroke="#468601"/>
<path d="M1411.9 552.5l8.9 1.1-6.5-9.6-8.9-1.2z" fill="#1da404" stroke="#1da404"/>
<path d="M1427.4 563.3l8.8 .6-6.6-9.6-8.8-.7z" fill="#0eaf05" stroke="#0eaf05"/>
<path d="M1442.8 573.6l8.7 .1-6.6-9.6-8.7-.2z" fill="#06ba0f" stroke="#06ba0f"/>
<path d="M1458.1 583.4l8.7-.3-6.6-9.6-8.7 .2z" fill="#08c424" stroke="#08c424"/>
<path d="M1473.4 592.8l8.7-.8-6.7-9.6-8.6 .7z" fill="#0ad03a" stroke="#0ad03a"/>
<path d="M1488.7 601.7l8.6-1.2-6.7-9.6-8.5 1.1z" fill="#0cdb50" stroke="#0cdb50"/>
<path d="M1503.9 610.2l8.5-1.6-6.6-9.7-8.5 1.6z" fill="#0ee567" stroke="#0ee567"/>
<path d="M1519.1 618.3l8.5-2.1-6.7-9.7-8.5 2.1z" fill="#11e77b" stroke="#11e77b"/>
<path d="M1534.3 625.9l8.4-2.6-6.7-9.6-8.4 2.5z" fill="#14e98d" stroke="#14e98d"/>
<path d="M1549.4 633l8.4-3-6.8-9.6-8.3 2.9z" fill="#18ea9e" stroke="#18ea9e"/>
<path d="M1564.5 639.7l8.3-3.4-6.7-9.7-8.3 3.4z" fill="#1cecad" stroke="#1cecad"/>
<path d="M1579.6 646l8.3-3.9-6.8-9.6-8.3 3.8z" fill="#20eebc" stroke="#20eebc"/>
<path d="M1594.7 651.8l8.2-4.3-6.8-9.6-8.2 4.2z" fill="#25efc9" stroke="#25efc9"/>
<path d="M1609.7 657.2l8.2-4.7-6.8-9.7-8.2 4.7z" fill="#29f1d5" stroke="#29f1d5"/>
<path d="M1624.7 662.2l8.2-5.2-6.8-9.6-8.2 5.1z" fill="#2ef2df" stroke="#2ef2df"/>
<path d="M1639.8 666.7l8.1-5.6-6.9-9.6-8.1 5.5z" fill="#33f3e9" stroke="#33f3e9"/>
<path d="M1654.8 670.9l8.1-6.1-6.9-9.6-8.1 5.9z" fill="#39f5f1" stroke="#39f5f1"/>
<path d="M1669.8 674.5l8.1-6.4-6.9-9.7-8.1 6.4z" fill="#3ef4f6" stroke="#3ef4f6"/>
<path d="M1684.8 677.8l8.1-6.9-7-9.6-8 6.8z" fill="#44f1f7" stroke="#44f1f7"/>
<path d="M1699.8 680.6l8.1-7.3-7-9.6-8 7.2z" fill="#49eff8" stroke="#49eff8"/>
<path d="M1714.9 683.1l8-7.8-7-9.6-8 7.6z" fill="#4eedf9" stroke="#4eedf9"/>
<path d="M1729.9 685l8-8.1-7-9.7-8 8.1z" fill="#54edfa" stroke="#54edfa"/>
<path d="M1745 686.6l8-8.6-7.1-9.6-8 8.5z" fill="#59edfa" stroke="#59edfa"/>
<path d="M1760 687.7l8-9-7.1-9.6-7.9 8.9z" fill="#5eeefb" stroke="#5eeefb"/>
<path d="M1775.1 688.5l8-9.5-7.1-9.6-8 9.3z" fill="#63f0fc" stroke="#63f0fc"/>
<path d="M1790.2 688.7l8-9.8-7.1-9.7-8 9.8z" fill="#67f2fc" stroke="#67f2fc"/>
<path d="M1835.8 687.1l7.9-11.2-7.2-9.7-8 11.1z" fill="#73fcfd" stroke="#73fcfd"/>
<path d="M1851 685.6l8-11.5-7.3-9.7-8 11.5z" fill="#76fefb" stroke="#76fefb"/>
<path d="M1866.3 683.8l8-12-7.3-9.7-8 12z" fill="#7afef7" stroke="#7afef7"/>
<path d="M1881.6 681.5l8-12.4-7.3-9.7-8 12.4z" fill="#7cfef2" stroke="#7cfef2"/>
<path d="M1897 678.8l8-12.9-7.4-9.6-8 12.8z" fill="#7ffeed" stroke="#7ffeed"/>
<path d="M1308.4 473.4l9.4 4.4-6.4-9.6-9.5-4.5z" fill="#646400" stroke="#646400"/>
<path d="M1324.3 487.6l9.4 3.9-6.5-9.7-9.4-4z" fill="#5d6c00" stroke="#5d6c00"/>
<path d="M1340.2 501.2l9.3 3.5-6.5-9.7-9.3-3.5z" fill="#557501" stroke="#557501"/>
<path d="M1356 514.4l9.2 2.9-6.5-9.6-9.2-3z" fill="#4b7e01" stroke="#4b7e01"/>
<path d="M1371.7 527.1l9.1 2.4-6.5-9.6-9.1-2.6z" fill="#408701" stroke="#408701"/>
<path d="M1387.3 539.3l9.1 2-6.5-9.7-9.1-2.1z" fill="#339102" stroke="#339102"/>
<path d="M1402.9 551l9 1.5-6.5-9.7-9-1.5z" fill="#259b03" stroke="#259b03"/>
<path d="M1418.5 562.2l8.9 1.1-6.6-9.7-8.9-1.1z" fill="#16a504" stroke="#16a504"/>
<path d="M1434 573l8.8 .6-6.6-9.7-8.8-.6z" fill="#06b005" stroke="#06b005"/>
<path d="M1449.4 583.3l8.7 .1-6.6-9.7-8.7-.1z" fill="#06ba18" stroke="#06ba18"/>
<path d="M1464.8 593.2l8.6-.4-6.6-9.7-8.7 .3z" fill="#08c52d" stroke="#08c52d"/>
<path d="M1480.1 602.6l8.6-.9-6.6-9.7-8.7 .8z" fill="#0ad043" stroke="#0ad043"/>
<path d="M1495.4 611.5l8.5-1.3-6.6-9.7-8.6 1.2z" fill="#0cdc5b" stroke="#0cdc5b"/>
<path d="M1510.6 620l8.5-1.7-6.7-9.7-8.5 1.6z" fill="#0fe672" stroke="#0fe672"/>
<path d="M1525.8 628l8.5-2.1-6.7-9.7-8.5 2.1z" fill="#11e785" stroke="#11e785"/>
<path d="M1541 635.6l8.4-2.6-6.7-9.7-8.4 2.6z" fill="#15e997" stroke="#15e997"/>
<path d="M1556.2 642.8l8.3-3.1-6.7-9.7-8.4 3z" fill="#18eba8" stroke="#18eba8"/>
<path d="M1571.3 649.5l8.3-3.5-6.8-9.7-8.3 3.4z" fill="#1cecb7" stroke="#1cecb7"/>
<path d="M1631.6 672l8.2-5.3-6.9-9.7-8.2 5.2z" fill="#2ff2e9" stroke="#2ff2e9"/>
<path d="M1646.7 676.5l8.1-5.6-6.9-9.8-8.1 5.6z" fill="#34f4f2" stroke="#34f4f2"/>
<path d="M1661.7 680.6l8.1-6.1-6.9-9.7-8.1 6.1z" fill="#39f0f5" stroke="#39f0f5"/>
<path d="M1676.8 684.3l8-6.5-6.9-9.7-8.1 6.4z" fill="#3fecf6" stroke="#3fecf6"/>
<path d="M1691.8 687.6l8-7-6.9-9.7-8.1 6.9z" fill="#44e9f7" stroke="#44e9f7"/>
<path d="M1706.8 690.4l8.1-7.3-7-9.8-8.1 7.3z" fill="#49e7f8" stroke="#49e7f8"/>
<path d="M1721.9 692.8l8-7.8-7-9.7-8 7.8z" fill="#4fe6f9" stroke="#4fe6f9"/>
<path d="M1737 694.8l8-8.2-7.1-9.7-8 8.1z" fill="#54e5fa" stroke="#54e5fa"/>
<path d="M1752.1 696.4l7.9-8.7-7-9.7-8 8.6z" fill="#59e6fa" stroke="#59e6fa"/>
<path d="M1767.2 697.5l7.9-9-7.1-9.8-8 9z" fill="#5ee7fb" stroke="#5ee7fb"/>
<path d="M1782.3 698.2l7.9-9.5-7.1-9.7-8 9.5z" fill="#63e9fc" stroke="#63e9fc"/>
<path d="M1797.4 698.5l8-9.9-7.2-9.7-8 9.8z" fill="#67ebfc" stroke="#67ebfc"/>
<path d="M1812.6 698.4l8-10.4-7.3-9.7-7.9 10.3z" fill="#6ceefd" stroke="#6ceefd"/>
<path d="M1827.8 697.8l8-10.7-7.3-9.8-7.9 10.7z" fill="#70f2fd" stroke="#70f2fd"/>
<path d="M1843 696.8l8-11.2-7.3-9.7-7.9 11.2z" fill="#73f6fd" stroke="#73f6fd"/>
<path d="M1858.3 695.4l8-11.6-7.3-9.7-8 11.5z" fill="#77fafe" stroke="#77fafe"/>
<path d="M1873.6 693.6l8-12.1-7.3-9.7-8 12z" fill="#7afefd" stroke="#7afefd"/>
<path d="M1889 691.3l8-12.5-7.4-9.7-8 12.4z" fill="#7cfef8" stroke="#7cfef8"/>
<path d="M1586.4 655.7l8.3-3.9-6.8-9.7-8.3 3.9z" fill="#20eec6" stroke="#20eec6"/>
<path d="M1601.5 661.6l8.2-4.4-6.8-9.7-8.2 4.3z" fill="#25efd3" stroke="#25efd3"/>
<path d="M1616.6 667l8.1-4.8-6.8-9.7-8.2 4.7z" fill="#2af1de" stroke="#2af1de"/>
<path d="M1362.5 524.2l9.2 2.9-6.5-9.8-9.2-2.9z" fill="#457f01" stroke="#457f01"/>
<path d="M1378.2 536.9l9.1 2.4-6.5-9.8-9.1-2.4z" fill="#398801" stroke="#398801"/>
<path d="M1393.9 549.1l9 1.9-6.5-9.7-9.1-2z" fill="#2c9202" stroke="#2c9202"/>
<path d="M1409.5 560.8l9 1.4-6.6-9.7-9-1.5z" fill="#1e9c03" stroke="#1e9c03"/>
<path d="M1789.4 708.1l8-9.6-7.2-9.8-7.9 9.5z" fill="#63e2fc" stroke="#63e2fc"/>
<path d="M1804.6 708.4l8-10-7.2-9.8-8 9.9z" fill="#68e4fc" stroke="#68e4fc"/>
<path d="M1819.8 708.2l8-10.4-7.2-9.8-8 10.4z" fill="#6ce7fd" stroke="#6ce7fd"/>
<path d="M1835 707.7l8-10.9-7.2-9.7-8 10.7z" fill="#70ebfd" stroke="#70ebfd"/>
<path d="M1314.8 483.2l9.5 4.4-6.5-9.8-9.4-4.4z" fill="#606500" stroke="#606500"/>
<path d="M1330.8 497.4l9.4 3.8-6.5-9.7-9.4-3.9z" fill="#596d00" stroke="#596d00"/>
<path d="M1346.7 511l9.3 3.4-6.5-9.7-9.3-3.5z" fill="#507601" stroke="#507601"/>
<path d="M1425.1 572l8.9 1-6.6-9.7-8.9-1.1z" fill="#0ea604" stroke="#0ea604"/>
<path d="M1440.6 582.8l8.8 .5-6.6-9.7-8.8-.6z" fill="#05b00d" stroke="#05b00d"/>
<path d="M1456 593.1l8.8 .1-6.7-9.8-8.7-.1z" fill="#06bb21" stroke="#06bb21"/>
<path d="M1471.4 603l8.7-.4-6.7-9.8-8.6 .4z" fill="#08c637" stroke="#08c637"/>
<path d="M1486.8 612.4l8.6-.9-6.7-9.8-8.6 .9z" fill="#0ad14d" stroke="#0ad14d"/>
<path d="M1502.1 621.3l8.5-1.3-6.7-9.8-8.5 1.3z" fill="#0cdc65" stroke="#0cdc65"/>
<path d="M1517.3 629.8l8.5-1.8-6.7-9.7-8.5 1.7z" fill="#0fe67c" stroke="#0fe67c"/>
<path d="M1532.6 637.8l8.4-2.2-6.7-9.7-8.5 2.1z" fill="#12e78f" stroke="#12e78f"/>
<path d="M1547.8 645.4l8.4-2.6-6.8-9.8-8.4 2.6z" fill="#15e9a1" stroke="#15e9a1"/>
<path d="M1562.9 652.6l8.4-3.1-6.8-9.8-8.3 3.1z" fill="#19ebb2" stroke="#19ebb2"/>
<path d="M1578.1 659.3l8.3-3.6-6.8-9.7-8.3 3.5z" fill="#1cecc1" stroke="#1cecc1"/>
<path d="M1593.2 665.6l8.3-4-6.8-9.8-8.3 3.9z" fill="#21eed0" stroke="#21eed0"/>
<path d="M1608.3 671.4l8.3-4.4-6.9-9.8-8.2 4.4z" fill="#25efdd" stroke="#25efdd"/>
<path d="M1623.4 676.8l8.2-4.8-6.9-9.8-8.1 4.8z" fill="#2af1e8" stroke="#2af1e8"/>
<path d="M1638.5 681.8l8.2-5.3-6.9-9.8-8.2 5.3z" fill="#2ff2f2" stroke="#2ff2f2"/>
<path d="M1653.6 686.4l8.1-5.8-6.9-9.7-8.1 5.6z" fill="#34ecf4" stroke="#34ecf4"/>
<path d="M1668.7 690.5l8.1-6.2-7-9.8-8.1 6.1z" fill="#3ae7f5" stroke="#3ae7f5"/>
<path d="M1683.7 694.2l8.1-6.6-7-9.8-8 6.5z" fill="#3fe3f6" stroke="#3fe3f6"/>
<path d="M1698.8 697.4l8-7-7-9.8-8 7z" fill="#44e0f7" stroke="#44e0f7"/>
<path d="M1713.9 700.3l8-7.5-7-9.7-8.1 7.3z" fill="#4adef8" stroke="#4adef8"/>
<path d="M1729 702.7l8-7.9-7.1-9.8-8 7.8z" fill="#4fdef9" stroke="#4fdef9"/>
<path d="M1744 704.7l8.1-8.3-7.1-9.8-8 8.2z" fill="#54ddfa" stroke="#54ddfa"/>
<path d="M1759.2 706.2l8-8.7-7.2-9.8-7.9 8.7z" fill="#5adefa" stroke="#5adefa"/>
<path d="M1774.3 707.4l8-9.2-7.2-9.7-7.9 9z" fill="#5edffb" stroke="#5edffb"/>
<path d="M1850.3 706.7l8-11.3-7.3-9.8-8 11.2z" fill="#73effd" stroke="#73effd"/>
<path d="M1865.6 705.3l8-11.7-7.3-9.8-8 11.6z" fill="#77f4fe" stroke="#77f4fe"/>
<path d="M1881 703.4l8-12.1-7.4-9.8-8 12.1z" fill="#7af9fe" stroke="#7af9fe"/>
<path d="M1321.3 493l9.5 4.4-6.5-9.8-9.5-4.4z" fill="#5c6600" stroke="#5c6600"/>
<path d="M1337.3 507.2l9.4 3.8-6.5-9.8-9.4-3.8z" fill="#546e00" stroke="#546e00"/>
<path d="M1353.2 520.9l9.3 3.3-6.5-9.8-9.3-3.4z" fill="#4a7601" stroke="#4a7601"/>
<path d="M1369 534l9.2 2.9-6.5-9.8-9.2-2.9z" fill="#407f01" stroke="#407f01"/>
<path d="M1384.8 546.7l9.1 2.4-6.6-9.8-9.1-2.4z" fill="#338902" stroke="#338902"/>
<path d="M1400.5 558.9l9 1.9-6.6-9.8-9-1.9z" fill="#259202" stroke="#259202"/>
<path d="M1416.1 570.7l9 1.3-6.6-9.8-9-1.4z" fill="#169c03" stroke="#169c03"/>
<path d="M1431.7 581.9l8.9 .9-6.6-9.8-8.9-1z" fill="#06a704" stroke="#06a704"/>
<path d="M1447.2 592.7l8.8 .4-6.6-9.8-8.8-.5z" fill="#05b115" stroke="#05b115"/>
<path d="M1462.7 603l8.7 0-6.6-9.8-8.8-.1z" fill="#06bc2a" stroke="#06bc2a"/>
<path d="M1478.1 612.9l8.7-.5-6.7-9.8-8.7 .4z" fill="#08c740" stroke="#08c740"/>
<path d="M1493.5 622.2l8.6-.9-6.7-9.8-8.6 .9z" fill="#0ad257" stroke="#0ad257"/>
<path d="M1508.8 631.2l8.5-1.4-6.7-9.8-8.5 1.3z" fill="#0cdd70" stroke="#0cdd70"/>
<path d="M1524.1 639.7l8.5-1.9-6.8-9.8-8.5 1.8z" fill="#0fe687" stroke="#0fe687"/>
<path d="M1539.3 647.7l8.5-2.3-6.8-9.8-8.4 2.2z" fill="#12e79a" stroke="#12e79a"/>
<path d="M1554.5 655.3l8.4-2.7-6.7-9.8-8.4 2.6z" fill="#15e9ac" stroke="#15e9ac"/>
<path d="M1569.7 662.5l8.4-3.2-6.8-9.8-8.4 3.1z" fill="#19ebbc" stroke="#19ebbc"/>
<path d="M1584.9 669.2l8.3-3.6-6.8-9.9-8.3 3.6z" fill="#1deccc" stroke="#1deccc"/>
<path d="M1615.2 681.3l8.2-4.5-6.8-9.8-8.3 4.4z" fill="#26f0e6" stroke="#26f0e6"/>
<path d="M1630.3 686.7l8.2-4.9-6.9-9.8-8.2 4.8z" fill="#2af0f1" stroke="#2af0f1"/>
<path d="M1645.4 691.7l8.2-5.3-6.9-9.9-8.2 5.3z" fill="#2fe9f2" stroke="#2fe9f2"/>
<path d="M1660.5 696.2l8.2-5.7-7-9.9-8.1 5.8z" fill="#35e3f4" stroke="#35e3f4"/>
<path d="M1675.6 700.4l8.1-6.2-6.9-9.9-8.1 6.2z" fill="#3adef5" stroke="#3adef5"/>
<path d="M1690.7 704.1l8.1-6.7-7-9.8-8.1 6.6z" fill="#3fdbf6" stroke="#3fdbf6"/>
<path d="M1705.8 707.3l8.1-7-7.1-9.9-8 7z" fill="#45d8f7" stroke="#45d8f7"/>
<path d="M1720.9 710.2l8.1-7.5-7.1-9.9-8 7.5z" fill="#4ad6f8" stroke="#4ad6f8"/>
<path d="M1736 712.6l8-7.9-7-9.9-8 7.9z" fill="#4fd6f9" stroke="#4fd6f9"/>
<path d="M1751.2 714.6l8-8.4-7.1-9.8-8.1 8.3z" fill="#55d6fa" stroke="#55d6fa"/>
<path d="M1766.3 716.1l8-8.7-7.1-9.9-8 8.7z" fill="#5ad7fa" stroke="#5ad7fa"/>
<path d="M1781.4 717.3l8-9.2-7.1-9.9-8 9.2z" fill="#5fd8fb" stroke="#5fd8fb"/>
<path d="M1796.6 718l8-9.6-7.2-9.9-8 9.6z" fill="#63dafc" stroke="#63dafc"/>
<path d="M1811.8 718.3l8-10.1-7.2-9.8-8 10z" fill="#68ddfc" stroke="#68ddfc"/>
<path d="M1827.1 718.2l7.9-10.5-7.2-9.9-8 10.4z" fill="#6ce0fd" stroke="#6ce0fd"/>
<path d="M1842.3 717.6l8-10.9-7.3-9.9-8 10.9z" fill="#70e4fd" stroke="#70e4fd"/>
<path d="M1857.6 716.6l8-11.3-7.3-9.9-8 11.3z" fill="#74e9fd" stroke="#74e9fd"/>
<path d="M1873 715.2l8-11.8-7.4-9.8-8 11.7z" fill="#77edfe" stroke="#77edfe"/>
<path d="M1600.1 675.5l8.2-4.1-6.8-9.8-8.3 4z" fill="#21eeda" stroke="#21eeda"/>
<path d="M1343.8 517.1l9.4 3.8-6.5-9.9-9.4-3.8z" fill="#4f6f00" stroke="#4f6f00"/>
<path d="M1359.8 530.8l9.2 3.2-6.5-9.8-9.3-3.3z" fill="#457701" stroke="#457701"/>
<path d="M1375.6 544l9.2 2.7-6.6-9.8-9.2-2.9z" fill="#3a8001" stroke="#3a8001"/>
<path d="M1391.4 556.7l9.1 2.2-6.6-9.8-9.1-2.4z" fill="#2d8902" stroke="#2d8902"/>
<path d="M1407.1 568.9l9 1.8-6.6-9.9-9-1.9z" fill="#1f9302" stroke="#1f9302"/>
<path d="M1422.7 580.6l9 1.3-6.6-9.9-9-1.3z" fill="#0f9d03" stroke="#0f9d03"/>
<path d="M1773.4 726.1l8-8.8-7.1-9.9-8 8.7z" fill="#5acffa" stroke="#5acffa"/>
<path d="M1788.6 727.2l8-9.2-7.2-9.9-8 9.2z" fill="#5fd1fb" stroke="#5fd1fb"/>
<path d="M1803.8 728l8-9.7-7.2-9.9-8 9.6z" fill="#64d3fc" stroke="#64d3fc"/>
<path d="M1819.1 728.3l8-10.1-7.3-10-8 10.1z" fill="#68d6fc" stroke="#68d6fc"/>
<path d="M1834.3 728.1l8-10.5-7.3-9.9-7.9 10.5z" fill="#6cdafd" stroke="#6cdafd"/>
<path d="M1849.6 727.6l8-11-7.3-9.9-8 10.9z" fill="#70defd" stroke="#70defd"/>
<path d="M1327.8 502.9l9.5 4.3-6.5-9.8-9.5-4.4z" fill="#586600" stroke="#586600"/>
<path d="M1438.3 591.8l8.9 .9-6.6-9.9-8.9-.9z" fill="#04a70a" stroke="#04a70a"/>
<path d="M1453.9 602.6l8.8 .4-6.7-9.9-8.8-.4z" fill="#05b21e" stroke="#05b21e"/>
<path d="M1469.4 612.9l8.7 0-6.7-9.9-8.7 0z" fill="#07bd33" stroke="#07bd33"/>
<path d="M1484.8 622.8l8.7-.6-6.7-9.8-8.7 .5z" fill="#08c84a" stroke="#08c84a"/>
<path d="M1500.2 632.2l8.6-1-6.7-9.9-8.6 .9z" fill="#0ad362" stroke="#0ad362"/>
<path d="M1515.5 641.1l8.6-1.4-6.8-9.9-8.5 1.4z" fill="#0dde7a" stroke="#0dde7a"/>
<path d="M1530.8 649.6l8.5-1.9-6.7-9.9-8.5 1.9z" fill="#0fe691" stroke="#0fe691"/>
<path d="M1546.1 657.7l8.4-2.4-6.7-9.9-8.5 2.3z" fill="#12e8a4" stroke="#12e8a4"/>
<path d="M1561.4 665.3l8.3-2.8-6.8-9.9-8.4 2.7z" fill="#15e9b6" stroke="#15e9b6"/>
<path d="M1576.6 672.4l8.3-3.2-6.8-9.9-8.4 3.2z" fill="#19ebc7" stroke="#19ebc7"/>
<path d="M1591.8 679.1l8.3-3.6-6.9-9.9-8.3 3.6z" fill="#1dedd6" stroke="#1dedd6"/>
<path d="M1606.9 685.4l8.3-4.1-6.9-9.9-8.2 4.1z" fill="#21eee4" stroke="#21eee4"/>
<path d="M1622.1 691.3l8.2-4.6-6.9-9.9-8.2 4.5z" fill="#26eff0" stroke="#26eff0"/>
<path d="M1637.2 696.7l8.2-5-6.9-9.9-8.2 4.9z" fill="#2be7f1" stroke="#2be7f1"/>
<path d="M1652.4 701.7l8.1-5.5-6.9-9.8-8.2 5.3z" fill="#30e0f2" stroke="#30e0f2"/>
<path d="M1667.5 706.2l8.1-5.8-6.9-9.9-8.2 5.7z" fill="#35daf4" stroke="#35daf4"/>
<path d="M1682.6 710.3l8.1-6.2-7-9.9-8.1 6.2z" fill="#3ad5f5" stroke="#3ad5f5"/>
<path d="M1697.7 714l8.1-6.7-7-9.9-8.1 6.7z" fill="#40d2f6" stroke="#40d2f6"/>
<path d="M1712.9 717.3l8-7.1-7-9.9-8.1 7z" fill="#45cff7" stroke="#45cff7"/>
<path d="M1728 720.1l8-7.5-7-9.9-8.1 7.5z" fill="#4acef8" stroke="#4acef8"/>
<path d="M1743.1 722.5l8.1-7.9-7.2-9.9-8 7.9z" fill="#50cef9" stroke="#50cef9"/>
<path d="M1758.3 724.5l8-8.4-7.1-9.9-8 8.4z" fill="#55cefa" stroke="#55cefa"/>
<path d="M1865 726.6l8-11.4-7.4-9.9-8 11.3z" fill="#74e2fd" stroke="#74e2fd"/>
<path d="M1334.4 512.9l9.4 4.2-6.5-9.9-9.5-4.3z" fill="#536700" stroke="#536700"/>
<path d="M1350.4 527.1l9.4 3.7-6.6-9.9-9.4-3.8z" fill="#4a6f00" stroke="#4a6f00"/>
<path d="M1366.3 540.8l9.3 3.2-6.6-10-9.2-3.2z" fill="#407801" stroke="#407801"/>
<path d="M1382.2 553.9l9.2 2.8-6.6-10-9.2-2.7z" fill="#348101" stroke="#348101"/>
<path d="M1398 566.6l9.1 2.3-6.6-10-9.1-2.2z" fill="#268a02" stroke="#268a02"/>
<path d="M1413.7 578.8l9 1.8-6.6-9.9-9-1.8z" fill="#189402" stroke="#189402"/>
<path d="M1429.4 590.6l8.9 1.2-6.6-9.9-9-1.3z" fill="#089e03" stroke="#089e03"/>
<path d="M1445 601.8l8.9 .8-6.7-9.9-8.9-.9z" fill="#04a812" stroke="#04a812"/>
<path d="M1460.6 612.6l8.8 .3-6.7-9.9-8.8-.4z" fill="#05b326" stroke="#05b326"/>
<path d="M1476.1 622.9l8.7-.1-6.7-9.9-8.7 0z" fill="#07be3c" stroke="#07be3c"/>
<path d="M1491.5 632.8l8.7-.6-6.7-10-8.7 .6z" fill="#08c954" stroke="#08c954"/>
<path d="M1506.9 642.2l8.6-1.1-6.7-9.9-8.6 1z" fill="#0ad46c" stroke="#0ad46c"/>
<path d="M1522.3 651.1l8.5-1.5-6.7-9.9-8.6 1.4z" fill="#0ddf85" stroke="#0ddf85"/>
<path d="M1537.6 659.6l8.5-1.9-6.8-10-8.5 1.9z" fill="#0fe69c" stroke="#0fe69c"/>
<path d="M1552.9 667.7l8.5-2.4-6.9-10-8.4 2.4z" fill="#12e8af" stroke="#12e8af"/>
<path d="M1568.2 675.3l8.4-2.9-6.9-9.9-8.3 2.8z" fill="#16e9c1" stroke="#16e9c1"/>
<path d="M1583.4 682.4l8.4-3.3-6.9-9.9-8.3 3.2z" fill="#19ebd1" stroke="#19ebd1"/>
<path d="M1598.6 689.1l8.3-3.7-6.8-9.9-8.3 3.6z" fill="#1dede0" stroke="#1dede0"/>
<path d="M1613.8 695.4l8.3-4.1-6.9-10-8.3 4.1z" fill="#2ee" stroke="#2ee"/>
<path d="M1629 701.3l8.2-4.6-6.9-10-8.2 4.6z" fill="#26e5f0" stroke="#26e5f0"/>
<path d="M1644.2 706.7l8.2-5-7-10-8.2 5z" fill="#2bddf1" stroke="#2bddf1"/>
<path d="M1659.3 711.7l8.2-5.5-7-10-8.1 5.5z" fill="#30d6f3" stroke="#30d6f3"/>
<path d="M1674.5 716.2l8.1-5.9-7-9.9-8.1 5.8z" fill="#35d1f4" stroke="#35d1f4"/>
<path d="M1689.6 720.3l8.1-6.3-7-9.9-8.1 6.2z" fill="#3bccf5" stroke="#3bccf5"/>
<path d="M1704.8 724l8.1-6.7-7.1-10-8.1 6.7z" fill="#40c9f6" stroke="#40c9f6"/>
<path d="M1719.9 727.3l8.1-7.2-7.1-9.9-8 7.1z" fill="#45c7f7" stroke="#45c7f7"/>
<path d="M1735.1 730.2l8-7.7-7.1-9.9-8 7.5z" fill="#4bc6f8" stroke="#4bc6f8"/>
<path d="M1750.2 732.6l8.1-8.1-7.1-9.9-8.1 7.9z" fill="#50c5f9" stroke="#50c5f9"/>
<path d="M1765.4 734.6l8-8.5-7.1-10-8 8.4z" fill="#55c6fa" stroke="#55c6fa"/>
<path d="M1780.6 736.1l8-8.9-7.2-9.9-8 8.8z" fill="#5ac7fb" stroke="#5ac7fb"/>
<path d="M1795.8 737.3l8-9.3-7.2-10-8 9.2z" fill="#5fc9fb" stroke="#5fc9fb"/>
<path d="M1811.1 738l8-9.7-7.3-10-8 9.7z" fill="#64ccfc" stroke="#64ccfc"/>
<path d="M1826.3 738.3l8-10.2-7.2-9.9-8 10.1z" fill="#68cffc" stroke="#68cffc"/>
<path d="M1841.6 738.2l8-10.6-7.3-10-8 10.5z" fill="#6cd3fd" stroke="#6cd3fd"/>
<path d="M1857 737.6l8-11-7.4-10-8 11z" fill="#70d7fd" stroke="#70d7fd"/>
<path d="M1341 523l9.4 4.1-6.6-10-9.4-4.2z" fill="#4f6800" stroke="#4f6800"/>
<path d="M1357 537.1l9.3 3.7-6.5-10-9.4-3.7z" fill="#457000" stroke="#457000"/>
<path d="M1373 550.8l9.2 3.1-6.6-9.9-9.3-3.2z" fill="#3a7901" stroke="#3a7901"/>
<path d="M1388.8 564l9.2 2.6-6.6-9.9-9.2-2.8z" fill="#2e8201" stroke="#2e8201"/>
<path d="M1404.6 576.7l9.1 2.1-6.6-9.9-9.1-2.3z" fill="#208b02" stroke="#208b02"/>
<path d="M1420.4 588.9l9 1.7-6.7-10-9-1.8z" fill="#109502" stroke="#109502"/>
<path d="M1436.1 600.6l8.9 1.2-6.7-10-8.9-1.2z" fill="#039f06" stroke="#039f06"/>
<path d="M1590.3 692.5l8.3-3.4-6.8-10-8.4 3.3z" fill="#1aebdb" stroke="#1aebdb"/>
<path d="M1605.5 699.2l8.3-3.8-6.9-10-8.3 3.7z" fill="#1eedea" stroke="#1eedea"/>
<path d="M1757.4 742.7l8-8.1-7.1-10.1-8.1 8.1z" fill="#50bdf9" stroke="#50bdf9"/>
<path d="M1772.6 744.7l8-8.6-7.2-10-8 8.5z" fill="#56befa" stroke="#56befa"/>
<path d="M1787.8 746.2l8-8.9-7.2-10.1-8 8.9z" fill="#5bc0fb" stroke="#5bc0fb"/>
<path d="M1803.1 747.4l8-9.4-7.3-10-8 9.3z" fill="#60c2fb" stroke="#60c2fb"/>
<path d="M1818.3 748.1l8-9.8-7.2-10-8 9.7z" fill="#64c5fc" stroke="#64c5fc"/>
<path d="M1833.6 748.4l8-10.2-7.3-10.1-8 10.2z" fill="#69c8fc" stroke="#69c8fc"/>
<path d="M1849 748.3l8-10.7-7.4-10-8 10.6z" fill="#6dccfd" stroke="#6dccfd"/>
<path d="M1451.7 611.9l8.9 .7-6.7-10-8.9-.8z" fill="#04a91a" stroke="#04a91a"/>
<path d="M1467.3 622.7l8.8 .2-6.7-10-8.8-.3z" fill="#05b42f" stroke="#05b42f"/>
<path d="M1482.8 633l8.7-.2-6.7-10-8.7 .1z" fill="#07bf46" stroke="#07bf46"/>
<path d="M1498.3 642.8l8.6-.6-6.7-10-8.7 .6z" fill="#09ca5e" stroke="#09ca5e"/>
<path d="M1513.7 652.2l8.6-1.1-6.8-10-8.6 1.1z" fill="#0bd576" stroke="#0bd576"/>
<path d="M1529.1 661.2l8.5-1.6-6.8-10-8.5 1.5z" fill="#0de090" stroke="#0de090"/>
<path d="M1544.4 669.7l8.5-2-6.8-10-8.5 1.9z" fill="#10e6a7" stroke="#10e6a7"/>
<path d="M1559.7 677.7l8.5-2.4-6.8-10-8.5 2.4z" fill="#13e8ba" stroke="#13e8ba"/>
<path d="M1575 685.3l8.4-2.9-6.8-10-8.4 2.9z" fill="#16eacb" stroke="#16eacb"/>
<path d="M1620.8 705.5l8.2-4.2-6.9-10-8.3 4.1z" fill="#22e5ee" stroke="#22e5ee"/>
<path d="M1636 711.4l8.2-4.7-7-10-8.2 4.6z" fill="#27dcf0" stroke="#27dcf0"/>
<path d="M1651.1 716.8l8.2-5.1-6.9-10-8.2 5z" fill="#2bd4f1" stroke="#2bd4f1"/>
<path d="M1666.3 721.8l8.2-5.6-7-10-8.2 5.5z" fill="#30cdf3" stroke="#30cdf3"/>
<path d="M1681.5 726.3l8.1-6-7-10-8.1 5.9z" fill="#36c8f4" stroke="#36c8f4"/>
<path d="M1696.7 730.4l8.1-6.4-7.1-10-8.1 6.3z" fill="#3bc4f5" stroke="#3bc4f5"/>
<path d="M1711.8 734.1l8.1-6.8-7-10-8.1 6.7z" fill="#40c0f6" stroke="#40c0f6"/>
<path d="M1727 737.4l8.1-7.2-7.1-10.1-8.1 7.2z" fill="#46bef7" stroke="#46bef7"/>
<path d="M1742.2 740.2l8-7.6-7.1-10.1-8 7.7z" fill="#4bbdf8" stroke="#4bbdf8"/>
<path d="M1347.6 533.1l9.4 4-6.6-10-9.4-4.1z" fill="#4a6800" stroke="#4a6800"/>
<path d="M1363.6 547.2l9.4 3.6-6.7-10-9.3-3.7z" fill="#407101" stroke="#407101"/>
<path d="M1379.6 560.9l9.2 3.1-6.6-10.1-9.2-3.1z" fill="#347901" stroke="#347901"/>
<path d="M1395.5 574.1l9.1 2.6-6.6-10.1-9.2-2.6z" fill="#278201" stroke="#278201"/>
<path d="M1411.3 586.8l9.1 2.1-6.7-10.1-9.1-2.1z" fill="#198c02" stroke="#198c02"/>
<path d="M1427.1 599l9 1.6-6.7-10-9-1.7z" fill="#099602" stroke="#099602"/>
<path d="M1442.8 610.7l8.9 1.2-6.7-10.1-8.9-1.2z" fill="#03a00e" stroke="#03a00e"/>
<path d="M1458.4 622l8.9 .7-6.7-10.1-8.9-.7z" fill="#04aa23" stroke="#04aa23"/>
<path d="M1474 632.8l8.8 .2-6.7-10.1-8.8-.2z" fill="#05b538" stroke="#05b538"/>
<path d="M1489.5 643.1l8.8-.3-6.8-10-8.7 .2z" fill="#07bf4f" stroke="#07bf4f"/>
<path d="M1505 653l8.7-.8-6.8-10-8.6 .6z" fill="#09ca68" stroke="#09ca68"/>
<path d="M1520.5 662.4l8.6-1.2-6.8-10.1-8.6 1.1z" fill="#0bd581" stroke="#0bd581"/>
<path d="M1535.9 671.3l8.5-1.6-6.8-10.1-8.5 1.6z" fill="#0de19b" stroke="#0de19b"/>
<path d="M1551.3 679.8l8.4-2.1-6.8-10-8.5 2z" fill="#10e6b2" stroke="#10e6b2"/>
<path d="M1566.6 687.9l8.4-2.6-6.8-10-8.5 2.4z" fill="#13e8c4" stroke="#13e8c4"/>
<path d="M1581.9 695.5l8.4-3-6.9-10.1-8.4 2.9z" fill="#16ead6" stroke="#16ead6"/>
<path d="M1597.2 702.6l8.3-3.4-6.9-10.1-8.3 3.4z" fill="#1aebe6" stroke="#1aebe6"/>
<path d="M1612.5 709.4l8.3-3.9-7-10.1-8.3 3.8z" fill="#1ee5ed" stroke="#1ee5ed"/>
<path d="M1627.7 715.6l8.3-4.2-7-10.1-8.2 4.2z" fill="#22dbee" stroke="#22dbee"/>
<path d="M1642.9 721.5l8.2-4.7-6.9-10.1-8.2 4.7z" fill="#27d2f0" stroke="#27d2f0"/>
<path d="M1658.1 726.9l8.2-5.1-7-10.1-8.2 5.1z" fill="#2ccaf1" stroke="#2ccaf1"/>
<path d="M1673.3 731.9l8.2-5.6-7-10.1-8.2 5.6z" fill="#31c4f3" stroke="#31c4f3"/>
<path d="M1688.5 736.4l8.2-6-7.1-10.1-8.1 6z" fill="#36bef4" stroke="#36bef4"/>
<path d="M1703.7 740.6l8.1-6.5-7-10.1-8.1 6.4z" fill="#3bbbf5" stroke="#3bbbf5"/>
<path d="M1718.9 744.3l8.1-6.9-7.1-10.1-8.1 6.8z" fill="#41b8f6" stroke="#41b8f6"/>
<path d="M1734.1 747.5l8.1-7.3-7.1-10-8.1 7.2z" fill="#46b6f7" stroke="#46b6f7"/>
<path d="M1749.3 750.4l8.1-7.7-7.2-10.1-8 7.6z" fill="#4bb5f8" stroke="#4bb5f8"/>
<path d="M1764.6 752.8l8-8.1-7.2-10.1-8 8.1z" fill="#51b5f9" stroke="#51b5f9"/>
<path d="M1779.8 754.8l8-8.6-7.2-10.1-8 8.6z" fill="#56b6fa" stroke="#56b6fa"/>
<path d="M1795.1 756.4l8-9-7.3-10.1-8 8.9z" fill="#5bb8fb" stroke="#5bb8fb"/>
<path d="M1810.3 757.5l8-9.4-7.2-10.1-8 9.4z" fill="#60bafb" stroke="#60bafb"/>
<path d="M1825.6 758.3l8-9.9-7.3-10.1-8 9.8z" fill="#64bdfc" stroke="#64bdfc"/>
<path d="M1841 758.6l8-10.3-7.4-10.1-8 10.2z" fill="#69c1fc" stroke="#69c1fc"/>
<path d="M1354.2 543.2l9.4 4-6.6-10.1-9.4-4z" fill="#456900" stroke="#456900"/>
<path d="M1370.3 557.4l9.3 3.5-6.6-10.1-9.4-3.6z" fill="#3b7101" stroke="#3b7101"/>
<path d="M1386.2 571.1l9.3 3-6.7-10.1-9.2-3.1z" fill="#2f7a01" stroke="#2f7a01"/>
<path d="M1402.2 584.3l9.1 2.5-6.7-10.1-9.1-2.6z" fill="#218301" stroke="#218301"/>
<path d="M1418 597l9.1 2-6.7-10.1-9.1-2.1z" fill="#128d02" stroke="#128d02"/>
<path d="M1433.8 609.2l9 1.5-6.7-10.1-9-1.6z" fill="#029603" stroke="#029603"/>
<path d="M1449.5 620.9l8.9 1.1-6.7-10.1-8.9-1.2z" fill="#03a016" stroke="#03a016"/>
<path d="M1573.5 698.1l8.4-2.6-6.9-10.2-8.4 2.6z" fill="#13e8cf" stroke="#13e8cf"/>
<path d="M1588.8 705.7l8.4-3.1-6.9-10.1-8.4 3z" fill="#16eae0" stroke="#16eae0"/>
<path d="M1604.1 712.8l8.4-3.4-7-10.2-8.3 3.4z" fill="#1ae6eb" stroke="#1ae6eb"/>
<path d="M1619.4 719.6l8.3-4-6.9-10.1-8.3 3.9z" fill="#1edbed" stroke="#1edbed"/>
<path d="M1741.3 757.8l8-7.4-7.1-10.2-8.1 7.3z" fill="#46adf7" stroke="#46adf7"/>
<path d="M1756.5 760.6l8.1-7.8-7.2-10.1-8.1 7.7z" fill="#4cadf8" stroke="#4cadf8"/>
<path d="M1771.8 763l8-8.2-7.2-10.1-8 8.1z" fill="#51adf9" stroke="#51adf9"/>
<path d="M1787 765l8.1-8.6-7.3-10.2-8 8.6z" fill="#56aefa" stroke="#56aefa"/>
<path d="M1802.3 766.6l8-9.1-7.2-10.1-8 9z" fill="#5bb0fb" stroke="#5bb0fb"/>
<path d="M1817.6 767.7l8-9.4-7.3-10.2-8 9.4z" fill="#60b3fb" stroke="#60b3fb"/>
<path d="M1832.9 768.5l8.1-9.9-7.4-10.2-8 9.9z" fill="#65b6fc" stroke="#65b6fc"/>
<path d="M1465.2 632.2l8.8 .6-6.7-10.1-8.9-.7z" fill="#04ab2b" stroke="#04ab2b"/>
<path d="M1480.8 643l8.7 .1-6.7-10.1-8.8-.2z" fill="#06b541" stroke="#06b541"/>
<path d="M1496.3 653.3l8.7-.3-6.7-10.2-8.8 .3z" fill="#07c059" stroke="#07c059"/>
<path d="M1511.8 663.2l8.7-.8-6.8-10.2-8.7 .8z" fill="#09cb72" stroke="#09cb72"/>
<path d="M1527.3 672.6l8.6-1.3-6.8-10.1-8.6 1.2z" fill="#0bd68c" stroke="#0bd68c"/>
<path d="M1542.7 681.5l8.6-1.7-6.9-10.1-8.5 1.6z" fill="#0de1a6" stroke="#0de1a6"/>
<path d="M1558.1 690l8.5-2.1-6.9-10.2-8.4 2.1z" fill="#10e6bc" stroke="#10e6bc"/>
<path d="M1634.7 725.8l8.2-4.3-6.9-10.1-8.3 4.2z" fill="#23d1ef" stroke="#23d1ef"/>
<path d="M1649.9 731.7l8.2-4.8-7-10.1-8.2 4.7z" fill="#27c8f0" stroke="#27c8f0"/>
<path d="M1665.2 737.1l8.1-5.2-7-10.1-8.2 5.1z" fill="#2cc0f1" stroke="#2cc0f1"/>
<path d="M1680.4 742.1l8.1-5.7-7-10.1-8.2 5.6z" fill="#31baf3" stroke="#31baf3"/>
<path d="M1695.6 746.7l8.1-6.1-7-10.2-8.2 6z" fill="#36b5f4" stroke="#36b5f4"/>
<path d="M1710.8 750.8l8.1-6.5-7.1-10.2-8.1 6.5z" fill="#3cb1f5" stroke="#3cb1f5"/>
<path d="M1726.1 754.5l8-7-7.1-10.1-8.1 6.9z" fill="#41aff6" stroke="#41aff6"/>
<path d="M1360.8 553.4l9.5 4-6.7-10.2-9.4-4z" fill="#406a00" stroke="#406a00"/>
<path d="M1376.9 567.6l9.3 3.5-6.6-10.2-9.3-3.5z" fill="#357201" stroke="#357201"/>
<path d="M1392.9 581.3l9.3 3-6.7-10.2-9.3-3z" fill="#297b01" stroke="#297b01"/>
<path d="M1408.8 594.5l9.2 2.5-6.7-10.2-9.1-2.5z" fill="#1b8401" stroke="#1b8401"/>
<path d="M1424.7 607.2l9.1 2-6.7-10.2-9.1-2z" fill="#0b8d02" stroke="#0b8d02"/>
<path d="M1440.5 619.4l9 1.5-6.7-10.2-9-1.5z" fill="#02970a" stroke="#02970a"/>
<path d="M1456.2 631.2l9 1-6.8-10.2-8.9-1.1z" fill="#03a11e" stroke="#03a11e"/>
<path d="M1471.9 642.4l8.9 .6-6.8-10.2-8.8-.6z" fill="#04ac34" stroke="#04ac34"/>
<path d="M1487.6 653.2l8.7 .1-6.8-10.2-8.7-.1z" fill="#06b64b" stroke="#06b64b"/>
<path d="M1503.1 663.5l8.7-.3-6.8-10.2-8.7 .3z" fill="#07c163" stroke="#07c163"/>
<path d="M1518.7 673.4l8.6-.8-6.8-10.2-8.7 .8z" fill="#09cc7c" stroke="#09cc7c"/>
<path d="M1534.1 682.8l8.6-1.3-6.8-10.2-8.6 1.3z" fill="#0bd797" stroke="#0bd797"/>
<path d="M1549.6 691.8l8.5-1.8-6.8-10.2-8.6 1.7z" fill="#0ee2b2" stroke="#0ee2b2"/>
<path d="M1565 700.3l8.5-2.2-6.9-10.2-8.5 2.1z" fill="#10e7c7" stroke="#10e7c7"/>
<path d="M1580.4 708.3l8.4-2.6-6.9-10.2-8.4 2.6z" fill="#13e8da" stroke="#13e8da"/>
<path d="M1595.7 715.9l8.4-3.1-6.9-10.2-8.4 3.1z" fill="#17e9ea" stroke="#17e9ea"/>
<path d="M1611.1 723.1l8.3-3.5-6.9-10.2-8.4 3.4z" fill="#1adcec" stroke="#1adcec"/>
<path d="M1626.4 729.8l8.3-4-7-10.2-8.3 4z" fill="#1fd1ed" stroke="#1fd1ed"/>
<path d="M1641.7 736.1l8.2-4.4-7-10.2-8.2 4.3z" fill="#23c7ef" stroke="#23c7ef"/>
<path d="M1656.9 742l8.3-4.9-7.1-10.2-8.2 4.8z" fill="#27bef0" stroke="#27bef0"/>
<path d="M1672.2 747.4l8.2-5.3-7.1-10.2-8.1 5.2z" fill="#2cb7f2" stroke="#2cb7f2"/>
<path d="M1687.4 752.4l8.2-5.7-7.1-10.3-8.1 5.7z" fill="#31b1f3" stroke="#31b1f3"/>
<path d="M1702.7 756.9l8.1-6.1-7.1-10.2-8.1 6.1z" fill="#37acf4" stroke="#37acf4"/>
<path d="M1717.9 761.1l8.2-6.6-7.2-10.2-8.1 6.5z" fill="#3ca8f5" stroke="#3ca8f5"/>
<path d="M1733.2 764.8l8.1-7-7.2-10.3-8 7z" fill="#41a6f6" stroke="#41a6f6"/>
<path d="M1748.4 768l8.1-7.4-7.2-10.2-8 7.4z" fill="#47a5f7" stroke="#47a5f7"/>
<path d="M1763.7 770.9l8.1-7.9-7.2-10.2-8.1 7.8z" fill="#4ca4f8" stroke="#4ca4f8"/>
<path d="M1779 773.3l8-8.3-7.2-10.2-8 8.2z" fill="#51a5f9" stroke="#51a5f9"/>
<path d="M1794.3 775.3l8-8.7-7.2-10.2-8.1 8.6z" fill="#57a6fa" stroke="#57a6fa"/>
<path d="M1809.6 776.9l8-9.2-7.3-10.2-8 9.1z" fill="#5ca9fb" stroke="#5ca9fb"/>
<path d="M1824.9 778l8-9.5-7.3-10.2-8 9.4z" fill="#60abfb" stroke="#60abfb"/>
<path d="M1367.5 563.7l9.4 3.9-6.6-10.2-9.5-4z" fill="#3b6a00" stroke="#3b6a00"/>
<path d="M1383.6 577.9l9.3 3.4-6.7-10.2-9.3-3.5z" fill="#307301" stroke="#307301"/>
<path d="M1399.6 591.6l9.2 2.9-6.6-10.2-9.3-3z" fill="#237b01" stroke="#237b01"/>
<path d="M1415.6 604.8l9.1 2.4-6.7-10.2-9.2-2.5z" fill="#148501" stroke="#148501"/>
<path d="M1431.5 617.5l9 1.9-6.7-10.2-9.1-2z" fill="#048e02" stroke="#048e02"/>
<path d="M1447.3 629.7l8.9 1.5-6.7-10.3-9-1.5z" fill="#039812" stroke="#039812"/>
<path d="M1463 641.5l8.9 .9-6.7-10.2-9-1z" fill="#03a227" stroke="#03a227"/>
<path d="M1556.5 702.1l8.5-1.8-6.9-10.3-8.5 1.8z" fill="#0ee3bd" stroke="#0ee3bd"/>
<path d="M1571.9 710.6l8.5-2.3-6.9-10.2-8.5 2.2z" fill="#10e7d2" stroke="#10e7d2"/>
<path d="M1587.3 718.6l8.4-2.7-6.9-10.2-8.4 2.6z" fill="#14e8e5" stroke="#14e8e5"/>
<path d="M1602.7 726.2l8.4-3.1-7-10.3-8.4 3.1z" fill="#17deea" stroke="#17deea"/>
<path d="M1618 733.4l8.4-3.6-7-10.2-8.3 3.5z" fill="#1bd2ec" stroke="#1bd2ec"/>
<path d="M1633.4 740.1l8.3-4-7-10.3-8.3 4z" fill="#1fc6ed" stroke="#1fc6ed"/>
<path d="M1725.1 771.4l8.1-6.6-7.1-10.3-8.2 6.6z" fill="#3c9ff5" stroke="#3c9ff5"/>
<path d="M1740.4 775.1l8-7.1-7.1-10.2-8.1 7z" fill="#429df7" stroke="#429df7"/>
<path d="M1755.6 778.4l8.1-7.5-7.2-10.3-8.1 7.4z" fill="#479cf8" stroke="#479cf8"/>
<path d="M1770.9 781.2l8.1-7.9-7.2-10.3-8.1 7.9z" fill="#4c9cf8" stroke="#4c9cf8"/>
<path d="M1786.2 783.6l8.1-8.3-7.3-10.3-8 8.3z" fill="#529df9" stroke="#529df9"/>
<path d="M1801.6 785.6l8-8.7-7.3-10.3-8 8.7z" fill="#579efa" stroke="#579efa"/>
<path d="M1816.9 787.2l8-9.2-7.3-10.3-8 9.2z" fill="#5ca1fb" stroke="#5ca1fb"/>
<path d="M1478.7 652.7l8.9 .5-6.8-10.2-8.9-.6z" fill="#04ac3d" stroke="#04ac3d"/>
<path d="M1494.4 663.5l8.7 0-6.8-10.2-8.7-.1z" fill="#06b754" stroke="#06b754"/>
<path d="M1510 673.9l8.7-.5-6.9-10.2-8.7 .3z" fill="#07c26d" stroke="#07c26d"/>
<path d="M1525.5 683.7l8.6-.9-6.8-10.2-8.6 .8z" fill="#09cd87" stroke="#09cd87"/>
<path d="M1541 693.1l8.6-1.3-6.9-10.3-8.6 1.3z" fill="#0bd8a2" stroke="#0bd8a2"/>
<path d="M1648.7 746.4l8.2-4.4-7-10.3-8.2 4.4z" fill="#23bdef" stroke="#23bdef"/>
<path d="M1664 752.3l8.2-4.9-7-10.3-8.3 4.9z" fill="#28b4f0" stroke="#28b4f0"/>
<path d="M1679.3 757.7l8.1-5.3-7-10.3-8.2 5.3z" fill="#2dadf2" stroke="#2dadf2"/>
<path d="M1694.5 762.7l8.2-5.8-7.1-10.2-8.2 5.7z" fill="#32a7f3" stroke="#32a7f3"/>
<path d="M1709.8 767.3l8.1-6.2-7.1-10.3-8.1 6.1z" fill="#37a3f4" stroke="#37a3f4"/>
<path d="M1374.2 574.1l9.4 3.8-6.7-10.3-9.4-3.9z" fill="#366b00" stroke="#366b00"/>
<path d="M1390.3 588.3l9.3 3.3-6.7-10.3-9.3-3.4z" fill="#2a7301" stroke="#2a7301"/>
<path d="M1406.4 602l9.2 2.8-6.8-10.3-9.2-2.9z" fill="#1d7c01" stroke="#1d7c01"/>
<path d="M1422.3 615.2l9.2 2.3-6.8-10.3-9.1-2.4z" fill="#0e8501" stroke="#0e8501"/>
<path d="M1438.2 627.9l9.1 1.8-6.8-10.3-9-1.9z" fill="#028f07" stroke="#028f07"/>
<path d="M1454 640.1l9 1.4-6.8-10.3-8.9-1.5z" fill="#03991a" stroke="#03991a"/>
<path d="M1469.8 651.8l8.9 .9-6.8-10.3-8.9-.9z" fill="#03a32f" stroke="#03a32f"/>
<path d="M1485.5 663.1l8.9 .4-6.8-10.3-8.9-.5z" fill="#05ad46" stroke="#05ad46"/>
<path d="M1501.2 673.9l8.8 0-6.9-10.4-8.7 0z" fill="#06b85e" stroke="#06b85e"/>
<path d="M1516.8 684.2l8.7-.5-6.8-10.3-8.7 .5z" fill="#07c377" stroke="#07c377"/>
<path d="M1532.4 694.1l8.6-1-6.9-10.3-8.6 .9z" fill="#09ce91" stroke="#09ce91"/>
<path d="M1547.9 703.5l8.6-1.4-6.9-10.3-8.6 1.3z" fill="#0bd9ad" stroke="#0bd9ad"/>
<path d="M1563.4 712.5l8.5-1.9-6.9-10.3-8.5 1.8z" fill="#0ee4c9" stroke="#0ee4c9"/>
<path d="M1578.8 721l8.5-2.4-6.9-10.3-8.5 2.3z" fill="#11e7dd" stroke="#11e7dd"/>
<path d="M1594.3 729l8.4-2.8-7-10.3-8.4 2.7z" fill="#14e1e8" stroke="#14e1e8"/>
<path d="M1609.7 736.6l8.3-3.2-6.9-10.3-8.4 3.1z" fill="#17d4ea" stroke="#17d4ea"/>
<path d="M1625 743.8l8.4-3.7-7-10.3-8.4 3.6z" fill="#1bc7ec" stroke="#1bc7ec"/>
<path d="M1640.4 750.5l8.3-4.1-7-10.3-8.3 4z" fill="#1fbced" stroke="#1fbced"/>
<path d="M1655.7 756.8l8.3-4.5-7.1-10.3-8.2 4.4z" fill="#23b2ef" stroke="#23b2ef"/>
<path d="M1671 762.7l8.3-5-7.1-10.3-8.2 4.9z" fill="#28aaf0" stroke="#28aaf0"/>
<path d="M1686.3 768.1l8.2-5.4-7.1-10.3-8.1 5.3z" fill="#2da3f2" stroke="#2da3f2"/>
<path d="M1701.7 773.1l8.1-5.8-7.1-10.4-8.2 5.8z" fill="#329ef3" stroke="#329ef3"/>
<path d="M1716.9 777.7l8.2-6.3-7.2-10.3-8.1 6.2z" fill="#3799f4" stroke="#3799f4"/>
<path d="M1732.2 781.8l8.2-6.7-7.2-10.3-8.1 6.6z" fill="#3d96f6" stroke="#3d96f6"/>
<path d="M1747.5 785.5l8.1-7.1-7.2-10.4-8 7.1z" fill="#4294f7" stroke="#4294f7"/>
<path d="M1762.9 788.8l8-7.6-7.2-10.3-8.1 7.5z" fill="#4793f8" stroke="#4793f8"/>
<path d="M1778.2 791.6l8-8-7.2-10.3-8.1 7.9z" fill="#4d94f9" stroke="#4d94f9"/>
<path d="M1793.5 794l8.1-8.4-7.3-10.3-8.1 8.3z" fill="#5295f9" stroke="#5295f9"/>
<path d="M1808.9 796l8-8.8-7.3-10.3-8 8.7z" fill="#5796fa" stroke="#5796fa"/>
<path d="M1380.9 584.5l9.4 3.8-6.7-10.4-9.4-3.8z" fill="#316c00" stroke="#316c00"/>
<path d="M1397.1 598.7l9.3 3.3-6.8-10.4-9.3-3.3z" fill="#247401" stroke="#247401"/>
<path d="M1413.1 612.4l9.2 2.8-6.7-10.4-9.2-2.8z" fill="#167d01" stroke="#167d01"/>
<path d="M1429.1 625.6l9.1 2.3-6.7-10.4-9.2-2.3z" fill="#078601" stroke="#078601"/>
<path d="M1445 638.3l9 1.8-6.7-10.4-9.1-1.8z" fill="#02900e" stroke="#02900e"/>
<path d="M1460.9 650.5l8.9 1.3-6.8-10.3-9-1.4z" fill="#039922" stroke="#039922"/>
<path d="M1476.6 662.3l8.9 .8-6.8-10.4-8.9-.9z" fill="#04a437" stroke="#04a437"/>
<path d="M1539.3 704.5l8.6-1-6.9-10.4-8.6 1z" fill="#09cf9c" stroke="#09cf9c"/>
<path d="M1554.8 714l8.6-1.5-6.9-10.4-8.6 1.4z" fill="#0cdab8" stroke="#0cdab8"/>
<path d="M1570.3 722.9l8.5-1.9-6.9-10.4-8.5 1.9z" fill="#0ee5d4" stroke="#0ee5d4"/>
<path d="M1585.8 731.4l8.5-2.4-7-10.4-8.5 2.4z" fill="#11e5e7" stroke="#11e5e7"/>
<path d="M1601.2 739.5l8.5-2.9-7-10.4-8.4 2.8z" fill="#14d7e9" stroke="#14d7e9"/>
<path d="M1616.7 747.1l8.3-3.3-7-10.4-8.3 3.2z" fill="#17c9ea" stroke="#17c9ea"/>
<path d="M1632.1 754.2l8.3-3.7-7-10.4-8.4 3.7z" fill="#1bbdec" stroke="#1bbdec"/>
<path d="M1647.4 761l8.3-4.2-7-10.4-8.3 4.1z" fill="#1fb2ed" stroke="#1fb2ed"/>
<path d="M1708.8 783.5l8.1-5.8-7.1-10.4-8.1 5.8z" fill="#3294f3" stroke="#3294f3"/>
<path d="M1724.1 788.1l8.1-6.3-7.1-10.4-8.2 6.3z" fill="#3890f4" stroke="#3890f4"/>
<path d="M1739.4 792.2l8.1-6.7-7.1-10.4-8.2 6.7z" fill="#3d8df6" stroke="#3d8df6"/>
<path d="M1754.8 795.9l8.1-7.1-7.3-10.4-8.1 7.1z" fill="#428bf7" stroke="#428bf7"/>
<path d="M1770.1 799.2l8.1-7.6-7.3-10.4-8 7.6z" fill="#488bf8" stroke="#488bf8"/>
<path d="M1785.4 802.1l8.1-8.1-7.3-10.4-8 8z" fill="#4d8bf9" stroke="#4d8bf9"/>
<path d="M1800.8 804.5l8.1-8.5-7.3-10.4-8.1 8.4z" fill="#528cf9" stroke="#528cf9"/>
<path d="M1492.4 673.5l8.8 .4-6.8-10.4-8.9-.4z" fill="#05ae4f" stroke="#05ae4f"/>
<path d="M1508.1 684.3l8.7-.1-6.8-10.3-8.8 0z" fill="#06b967" stroke="#06b967"/>
<path d="M1523.7 694.7l8.7-.6-6.9-10.4-8.7 .5z" fill="#08c481" stroke="#08c481"/>
<path d="M1662.8 767.3l8.2-4.6-7-10.4-8.3 4.5z" fill="#24a8ef" stroke="#24a8ef"/>
<path d="M1678.1 773.1l8.2-5-7-10.4-8.3 5z" fill="#28a0f0" stroke="#28a0f0"/>
<path d="M1693.5 778.6l8.2-5.5-7.2-10.4-8.2 5.4z" fill="#2d99f2" stroke="#2d99f2"/>
<path d="M1387.7 595l9.4 3.7-6.8-10.4-9.4-3.8z" fill="#2c6c00" stroke="#2c6c00"/>
<path d="M1403.8 609.2l9.3 3.2-6.7-10.4-9.3-3.3z" fill="#1f7501" stroke="#1f7501"/>
<path d="M1419.9 622.9l9.2 2.7-6.8-10.4-9.2-2.8z" fill="#107e01" stroke="#107e01"/>
<path d="M1435.9 636.1l9.1 2.2-6.8-10.4-9.1-2.3z" fill="#018703" stroke="#018703"/>
<path d="M1451.8 648.8l9.1 1.7-6.9-10.4-9-1.8z" fill="#029015" stroke="#029015"/>
<path d="M1467.7 661l8.9 1.3-6.8-10.5-8.9-1.3z" fill="#039a2a" stroke="#039a2a"/>
<path d="M1483.5 672.8l8.9 .7-6.9-10.4-8.9-.8z" fill="#04a440" stroke="#04a440"/>
<path d="M1499.2 684l8.9 .3-6.9-10.4-8.8-.4z" fill="#05af58" stroke="#05af58"/>
<path d="M1514.9 694.8l8.8-.1-6.9-10.5-8.7 .1z" fill="#06ba71" stroke="#06ba71"/>
<path d="M1530.6 705.2l8.7-.7-6.9-10.4-8.7 .6z" fill="#08c48b" stroke="#08c48b"/>
<path d="M1546.2 715l8.6-1-6.9-10.5-8.6 1z" fill="#0acfa7" stroke="#0acfa7"/>
<path d="M1561.8 724.5l8.5-1.6-6.9-10.4-8.6 1.5z" fill="#0cdac3" stroke="#0cdac3"/>
<path d="M1577.3 733.4l8.5-2-7-10.4-8.5 1.9z" fill="#0ee5e0" stroke="#0ee5e0"/>
<path d="M1592.8 741.9l8.4-2.4-6.9-10.5-8.5 2.4z" fill="#11dbe7" stroke="#11dbe7"/>
<path d="M1608.3 750l8.4-2.9-7-10.5-8.5 2.9z" fill="#14cce9" stroke="#14cce9"/>
<path d="M1623.7 757.6l8.4-3.4-7.1-10.4-8.3 3.3z" fill="#18beea" stroke="#18beea"/>
<path d="M1639.1 764.8l8.3-3.8-7-10.5-8.3 3.7z" fill="#1cb2ec" stroke="#1cb2ec"/>
<path d="M1654.5 771.5l8.3-4.2-7.1-10.5-8.3 4.2z" fill="#20a7ee" stroke="#20a7ee"/>
<path d="M1669.9 777.8l8.2-4.7-7.1-10.4-8.2 4.6z" fill="#249eef" stroke="#249eef"/>
<path d="M1685.2 783.6l8.3-5-7.2-10.5-8.2 5z" fill="#2996f1" stroke="#2996f1"/>
<path d="M1700.6 789.1l8.2-5.6-7.1-10.4-8.2 5.5z" fill="#2e90f2" stroke="#2e90f2"/>
<path d="M1716 794.1l8.1-6-7.2-10.4-8.1 5.8z" fill="#338af3" stroke="#338af3"/>
<path d="M1731.3 798.6l8.1-6.4-7.2-10.4-8.1 6.3z" fill="#3887f5" stroke="#3887f5"/>
<path d="M1746.6 802.8l8.2-6.9-7.3-10.4-8.1 6.7z" fill="#3d84f6" stroke="#3d84f6"/>
<path d="M1762 806.5l8.1-7.3-7.2-10.4-8.1 7.1z" fill="#4382f7" stroke="#4382f7"/>
<path d="M1777.4 809.8l8-7.7-7.2-10.5-8.1 7.6z" fill="#4882f8" stroke="#4882f8"/>
<path d="M1792.7 812.6l8.1-8.1-7.3-10.5-8.1 8.1z" fill="#4d83f9" stroke="#4d83f9"/>
<path d="M1394.4 605.6l9.4 3.6-6.7-10.5-9.4-3.7z" fill="#266d00" stroke="#266d00"/>
<path d="M1410.6 619.8l9.3 3.1-6.8-10.5-9.3-3.2z" fill="#197601" stroke="#197601"/>
<path d="M1426.7 633.5l9.2 2.6-6.8-10.5-9.2-2.7z" fill="#0a7e01" stroke="#0a7e01"/>
<path d="M1442.7 646.7l9.1 2.1-6.8-10.5-9.1-2.2z" fill="#01880a" stroke="#01880a"/>
<path d="M1458.7 659.4l9 1.6-6.8-10.5-9.1-1.7z" fill="#02911d" stroke="#02911d"/>
<path d="M1474.5 671.6l9 1.2-6.9-10.5-8.9-1.3z" fill="#039b32" stroke="#039b32"/>
<path d="M1490.4 683.3l8.8 .7-6.8-10.5-8.9-.7z" fill="#04a549" stroke="#04a549"/>
<path d="M1521.8 705.4l8.8-.2-6.9-10.5-8.8 .1z" fill="#06ba7b" stroke="#06ba7b"/>
<path d="M1537.5 715.7l8.7-.7-6.9-10.5-8.7 .7z" fill="#08c596" stroke="#08c596"/>
<path d="M1553.1 725.6l8.7-1.1-7-10.5-8.6 1z" fill="#0ad0b2" stroke="#0ad0b2"/>
<path d="M1568.7 735l8.6-1.6-7-10.5-8.5 1.6z" fill="#0cdbcf" stroke="#0cdbcf"/>
<path d="M1584.3 744l8.5-2.1-7-10.5-8.5 2z" fill="#0ee0e5" stroke="#0ee0e5"/>
<path d="M1599.8 752.5l8.5-2.5-7.1-10.5-8.4 2.4z" fill="#11d0e7" stroke="#11d0e7"/>
<path d="M1615.3 760.6l8.4-3-7-10.5-8.4 2.9z" fill="#15c1e9" stroke="#15c1e9"/>
<path d="M1630.7 768.2l8.4-3.4-7-10.6-8.4 3.4z" fill="#18b4ea" stroke="#18b4ea"/>
<path d="M1646.2 775.3l8.3-3.8-7.1-10.5-8.3 3.8z" fill="#1ca8ec" stroke="#1ca8ec"/>
<path d="M1661.6 782.1l8.3-4.3-7.1-10.5-8.3 4.2z" fill="#209dee" stroke="#209dee"/>
<path d="M1692.4 794.2l8.2-5.1-7.1-10.5-8.3 5z" fill="#298cf1" stroke="#298cf1"/>
<path d="M1707.8 799.7l8.2-5.6-7.2-10.6-8.2 5.6z" fill="#2e86f2" stroke="#2e86f2"/>
<path d="M1723.1 804.6l8.2-6-7.2-10.5-8.1 6z" fill="#3381f3" stroke="#3381f3"/>
<path d="M1738.5 809.2l8.1-6.4-7.2-10.6-8.1 6.4z" fill="#387df5" stroke="#387df5"/>
<path d="M1753.9 813.4l8.1-6.9-7.2-10.6-8.2 6.9z" fill="#3e7bf6" stroke="#3e7bf6"/>
<path d="M1769.3 817.1l8.1-7.3-7.3-10.6-8.1 7.3z" fill="#4379f7" stroke="#4379f7"/>
<path d="M1784.7 820.3l8-7.7-7.3-10.5-8 7.7z" fill="#4879f8" stroke="#4879f8"/>
<path d="M1506.1 694.6l8.8 .2-6.8-10.5-8.9-.3z" fill="#05b061" stroke="#05b061"/>
<path d="M1677 788.4l8.2-4.8-7.1-10.5-8.2 4.7z" fill="#2494ef" stroke="#2494ef"/>
<path d="M1401.2 616.2l9.4 3.6-6.8-10.6-9.4-3.6z" fill="#216e00" stroke="#216e00"/>
<path d="M1417.4 630.4l9.3 3.1-6.8-10.6-9.3-3.1z" fill="#137601" stroke="#137601"/>
<path d="M1433.5 644.1l9.2 2.6-6.8-10.6-9.2-2.6z" fill="#037f01" stroke="#037f01"/>
<path d="M1449.5 657.3l9.2 2.1-6.9-10.6-9.1-2.1z" fill="#018811" stroke="#018811"/>
<path d="M1465.5 670l9 1.6-6.8-10.6-9-1.6z" fill="#029225" stroke="#029225"/>
<path d="M1481.4 682.2l9 1.1-6.9-10.5-9-1.2z" fill="#039c3a" stroke="#039c3a"/>
<path d="M1497.3 694l8.8 .6-6.9-10.6-8.8-.7z" fill="#04a652" stroke="#04a652"/>
<path d="M1513 705.2l8.8 .2-6.9-10.6-8.8-.2z" fill="#05b06b" stroke="#05b06b"/>
<path d="M1528.8 716l8.7-.3-6.9-10.5-8.8 .2z" fill="#06bb85" stroke="#06bb85"/>
<path d="M1544.5 726.4l8.6-.8-6.9-10.6-8.7 .7z" fill="#08c6a0" stroke="#08c6a0"/>
<path d="M1560.1 736.2l8.6-1.2-6.9-10.5-8.7 1.1z" fill="#0ad1bd" stroke="#0ad1bd"/>
<path d="M1575.7 745.7l8.6-1.7-7-10.6-8.6 1.6z" fill="#0cdcda" stroke="#0cdcda"/>
<path d="M1591.3 754.6l8.5-2.1-7-10.6-8.5 2.1z" fill="#0fd5e6" stroke="#0fd5e6"/>
<path d="M1606.8 763.1l8.5-2.5-7-10.6-8.5 2.5z" fill="#12c5e7" stroke="#12c5e7"/>
<path d="M1622.3 771.2l8.4-3-7-10.6-8.4 3z" fill="#15b6e9" stroke="#15b6e9"/>
<path d="M1637.8 778.8l8.4-3.5-7.1-10.5-8.4 3.4z" fill="#18a9eb" stroke="#18a9eb"/>
<path d="M1653.3 786l8.3-3.9-7.1-10.6-8.3 3.8z" fill="#1c9dec" stroke="#1c9dec"/>
<path d="M1668.7 792.7l8.3-4.3-7.1-10.6-8.3 4.3z" fill="#2092ee" stroke="#2092ee"/>
<path d="M1684.1 799l8.3-4.8-7.2-10.6-8.2 4.8z" fill="#258aef" stroke="#258aef"/>
<path d="M1699.5 804.9l8.3-5.2-7.2-10.6-8.2 5.1z" fill="#2982f1" stroke="#2982f1"/>
<path d="M1715 810.3l8.1-5.7-7.1-10.5-8.2 5.6z" fill="#2e7cf2" stroke="#2e7cf2"/>
<path d="M1730.4 815.3l8.1-6.1-7.2-10.6-8.2 6z" fill="#3377f3" stroke="#3377f3"/>
<path d="M1745.7 819.9l8.2-6.5-7.3-10.6-8.1 6.4z" fill="#3974f5" stroke="#3974f5"/>
<path d="M1761.1 824l8.2-6.9-7.3-10.6-8.1 6.9z" fill="#3e71f6" stroke="#3e71f6"/>
<path d="M1776.6 827.7l8.1-7.4-7.3-10.5-8.1 7.3z" fill="#4370f7" stroke="#4370f7"/>
<path d="M1504.2 704.7l8.8 .5-6.9-10.6-8.8-.6z" fill="#04a75b" stroke="#04a75b"/>
<path d="M1675.9 803.4l8.2-4.4-7.1-10.6-8.3 4.3z" fill="#2188ee" stroke="#2188ee"/>
<path d="M1408.1 626.9l9.3 3.5-6.8-10.6-9.4-3.6z" fill="#1b6e00" stroke="#1b6e00"/>
<path d="M1424.3 641.1l9.2 3-6.8-10.6-9.3-3.1z" fill="#0d7701" stroke="#0d7701"/>
<path d="M1440.4 654.8l9.1 2.5-6.8-10.6-9.2-2.6z" fill="#018006" stroke="#018006"/>
<path d="M1456.4 668l9.1 2-6.8-10.6-9.2-2.1z" fill="#028918" stroke="#028918"/>
<path d="M1472.4 680.7l9 1.5-6.9-10.6-9-1.6z" fill="#02932d" stroke="#02932d"/>
<path d="M1488.3 692.9l9 1.1-6.9-10.7-9-1.1z" fill="#039d43" stroke="#039d43"/>
<path d="M1520 715.9l8.8 .1-7-10.6-8.8-.2z" fill="#05b174" stroke="#05b174"/>
<path d="M1535.7 726.7l8.8-.3-7-10.7-8.7 .3z" fill="#06bc8f" stroke="#06bc8f"/>
<path d="M1551.4 737.1l8.7-.9-7-10.6-8.6 .8z" fill="#08c7ab" stroke="#08c7ab"/>
<path d="M1567.1 746.9l8.6-1.2-7-10.7-8.6 1.2z" fill="#0ad2c8" stroke="#0ad2c8"/>
<path d="M1582.7 756.4l8.6-1.8-7-10.6-8.6 1.7z" fill="#0cd4dd" stroke="#0cd4dd"/>
<path d="M1598.3 765.3l8.5-2.2-7-10.6-8.5 2.1z" fill="#0fc9e6" stroke="#0fc9e6"/>
<path d="M1613.9 773.8l8.4-2.6-7-10.6-8.5 2.5z" fill="#12bae7" stroke="#12bae7"/>
<path d="M1629.4 781.9l8.4-3.1-7.1-10.6-8.4 3z" fill="#15abe9" stroke="#15abe9"/>
<path d="M1644.9 789.5l8.4-3.5-7.1-10.7-8.4 3.5z" fill="#199eeb" stroke="#199eeb"/>
<path d="M1660.4 796.7l8.3-4-7.1-10.6-8.3 3.9z" fill="#1c92ec" stroke="#1c92ec"/>
<path d="M1691.3 809.7l8.2-4.8-7.1-10.7-8.3 4.8z" fill="#257fef" stroke="#257fef"/>
<path d="M1706.7 815.6l8.3-5.3-7.2-10.6-8.3 5.2z" fill="#2a78f1" stroke="#2a78f1"/>
<path d="M1722.2 821l8.2-5.7-7.3-10.7-8.1 5.7z" fill="#2f72f2" stroke="#2f72f2"/>
<path d="M1737.6 826l8.1-6.1-7.2-10.7-8.1 6.1z" fill="#346df4" stroke="#346df4"/>
<path d="M1753 830.6l8.1-6.6-7.2-10.6-8.2 6.5z" fill="#396af5" stroke="#396af5"/>
<path d="M1768.4 834.7l8.2-7-7.3-10.6-8.2 6.9z" fill="#3e68f6" stroke="#3e68f6"/>
<path d="M1414.9 637.6l9.4 3.5-6.9-10.7-9.3-3.5z" fill="#156f00" stroke="#156f00"/>
<path d="M1431.1 651.8l9.3 3-6.9-10.7-9.2-3z" fill="#067801" stroke="#067801"/>
<path d="M1447.3 665.5l9.1 2.5-6.9-10.7-9.1-2.5z" fill="#01810c" stroke="#01810c"/>
<path d="M1463.3 678.7l9.1 2-6.9-10.7-9.1-2z" fill="#028a20" stroke="#028a20"/>
<path d="M1479.3 691.5l9 1.4-6.9-10.7-9-1.5z" fill="#029335" stroke="#029335"/>
<path d="M1495.2 703.7l9 1-6.9-10.7-9-1.1z" fill="#039d4b" stroke="#039d4b"/>
<path d="M1511.1 715.4l8.9 .5-7-10.7-8.8-.5z" fill="#04a864" stroke="#04a864"/>
<path d="M1526.9 726.7l8.8 0-6.9-10.7-8.8-.1z" fill="#05b27e" stroke="#05b27e"/>
<path d="M1542.7 737.5l8.7-.4-6.9-10.7-8.8 .3z" fill="#07bd99" stroke="#07bd99"/>
<path d="M1558.4 747.8l8.7-.9-7-10.7-8.7 .9z" fill="#08c8b6" stroke="#08c8b6"/>
<path d="M1574.1 757.7l8.6-1.3-7-10.7-8.6 1.2z" fill="#0ad2d3" stroke="#0ad2d3"/>
<path d="M1589.8 767.1l8.5-1.8-7-10.7-8.6 1.8z" fill="#0cc9de" stroke="#0cc9de"/>
<path d="M1605.4 776.1l8.5-2.3-7.1-10.7-8.5 2.2z" fill="#0fbee6" stroke="#0fbee6"/>
<path d="M1621 784.6l8.4-2.7-7.1-10.7-8.4 2.6z" fill="#12aee8" stroke="#12aee8"/>
<path d="M1636.5 792.7l8.4-3.2-7.1-10.7-8.4 3.1z" fill="#15a0e9" stroke="#15a0e9"/>
<path d="M1652 800.3l8.4-3.6-7.1-10.7-8.4 3.5z" fill="#1993eb" stroke="#1993eb"/>
<path d="M1667.5 807.5l8.4-4.1-7.2-10.7-8.3 4z" fill="#1d87ec" stroke="#1d87ec"/>
<path d="M1683 814.2l8.3-4.5-7.2-10.7-8.2 4.4z" fill="#217dee" stroke="#217dee"/>
<path d="M1698.5 820.5l8.2-4.9-7.2-10.7-8.2 4.8z" fill="#2575ef" stroke="#2575ef"/>
<path d="M1713.9 826.4l8.3-5.4-7.2-10.7-8.3 5.3z" fill="#2a6ef1" stroke="#2a6ef1"/>
<path d="M1729.4 831.8l8.2-5.8-7.2-10.7-8.2 5.7z" fill="#2f68f2" stroke="#2f68f2"/>
<path d="M1744.8 836.8l8.2-6.2-7.3-10.7-8.1 6.1z" fill="#3464f4" stroke="#3464f4"/>
<path d="M1760.3 841.4l8.1-6.7-7.3-10.7-8.1 6.6z" fill="#3961f5" stroke="#3961f5"/>
<path d="M1486.3 702.3l8.9 1.4-6.9-10.8-9-1.4z" fill="#02943d" stroke="#02943d"/>
<path d="M1502.2 714.5l8.9 .9-6.9-10.7-9-1z" fill="#039e54" stroke="#039e54"/>
<path d="M1518.1 726.3l8.8 .4-6.9-10.8-8.9-.5z" fill="#04a86d" stroke="#04a86d"/>
<path d="M1659.2 811.1l8.3-3.6-7.1-10.8-8.4 3.6z" fill="#1988eb" stroke="#1988eb"/>
<path d="M1674.7 818.3l8.3-4.1-7.1-10.8-8.4 4.1z" fill="#1d7ded" stroke="#1d7ded"/>
<path d="M1690.2 825l8.3-4.5-7.2-10.8-8.3 4.5z" fill="#2173ee" stroke="#2173ee"/>
<path d="M1421.8 648.5l9.3 3.3-6.8-10.7-9.4-3.5z" fill="#107000" stroke="#107000"/>
<path d="M1438 662.7l9.3 2.8-6.9-10.7-9.3-3z" fill="#017801" stroke="#017801"/>
<path d="M1454.2 676.4l9.1 2.3-6.9-10.7-9.1-2.5z" fill="#018113" stroke="#018113"/>
<path d="M1470.2 689.6l9.1 1.9-6.9-10.8-9.1-2z" fill="#028b27" stroke="#028b27"/>
<path d="M1533.9 737.5l8.8 0-7-10.8-8.8 0z" fill="#05b388" stroke="#05b388"/>
<path d="M1549.7 748.3l8.7-.5-7-10.7-8.7 .4z" fill="#07bea4" stroke="#07bea4"/>
<path d="M1565.5 758.7l8.6-1-7-10.8-8.7 .9z" fill="#08c9c1" stroke="#08c9c1"/>
<path d="M1581.2 768.5l8.6-1.4-7.1-10.7-8.6 1.3z" fill="#0ac8d3" stroke="#0ac8d3"/>
<path d="M1596.8 778l8.6-1.9-7.1-10.8-8.5 1.8z" fill="#0dbfdf" stroke="#0dbfdf"/>
<path d="M1612.5 786.9l8.5-2.3-7.1-10.8-8.5 2.3z" fill="#0fb3e6" stroke="#0fb3e6"/>
<path d="M1628.1 795.4l8.4-2.7-7.1-10.8-8.4 2.7z" fill="#12a3e8" stroke="#12a3e8"/>
<path d="M1643.6 803.5l8.4-3.2-7.1-10.8-8.4 3.2z" fill="#1595e9" stroke="#1595e9"/>
<path d="M1705.7 831.3l8.2-4.9-7.2-10.8-8.2 4.9z" fill="#266af0" stroke="#266af0"/>
<path d="M1721.2 837.2l8.2-5.4-7.2-10.8-8.3 5.4z" fill="#2a63f1" stroke="#2a63f1"/>
<path d="M1736.7 842.6l8.1-5.8-7.2-10.8-8.2 5.8z" fill="#2f5ef2" stroke="#2f5ef2"/>
<path d="M1752.1 847.6l8.2-6.2-7.3-10.8-8.2 6.2z" fill="#345af4" stroke="#345af4"/>
<path d="M1428.7 659.4l9.3 3.3-6.9-10.9-9.3-3.3z" fill="#0a7101" stroke="#0a7101"/>
<path d="M1444.9 673.6l9.3 2.8-6.9-10.9-9.3-2.8z" fill="#017908" stroke="#017908"/>
<path d="M1461.1 687.3l9.1 2.3-6.9-10.9-9.1-2.3z" fill="#01821a" stroke="#01821a"/>
<path d="M1477.2 700.5l9.1 1.8-7-10.8-9.1-1.9z" fill="#028b2f" stroke="#028b2f"/>
<path d="M1493.2 713.2l9 1.3-7-10.8-8.9-1.4z" fill="#029545" stroke="#029545"/>
<path d="M1509.2 725.4l8.9 .9-7-10.9-8.9-.9z" fill="#039f5d" stroke="#039f5d"/>
<path d="M1525.1 737.1l8.8 .4-7-10.8-8.8-.4z" fill="#04a977" stroke="#04a977"/>
<path d="M1541 748.4l8.7-.1-7-10.8-8.8 0z" fill="#05b492" stroke="#05b492"/>
<path d="M1556.8 759.2l8.7-.5-7.1-10.9-8.7 .5z" fill="#07beae" stroke="#07beae"/>
<path d="M1572.5 769.6l8.7-1.1-7.1-10.8-8.6 1z" fill="#09c7c9" stroke="#09c7c9"/>
<path d="M1588.2 779.4l8.6-1.4-7-10.9-8.6 1.4z" fill="#0bbed4" stroke="#0bbed4"/>
<path d="M1603.9 788.9l8.6-2-7.1-10.8-8.6 1.9z" fill="#0db5df" stroke="#0db5df"/>
<path d="M1619.6 797.8l8.5-2.4-7.1-10.8-8.5 2.3z" fill="#0fa8e6" stroke="#0fa8e6"/>
<path d="M1635.2 806.3l8.4-2.8-7.1-10.8-8.4 2.7z" fill="#1298e8" stroke="#1298e8"/>
<path d="M1650.8 814.4l8.4-3.3-7.2-10.8-8.4 3.2z" fill="#168ae9" stroke="#168ae9"/>
<path d="M1666.4 822l8.3-3.7-7.2-10.8-8.3 3.6z" fill="#197deb" stroke="#197deb"/>
<path d="M1681.9 829.2l8.3-4.2-7.2-10.8-8.3 4.1z" fill="#1d72ed" stroke="#1d72ed"/>
<path d="M1697.4 835.9l8.3-4.6-7.2-10.8-8.3 4.5z" fill="#2168ee" stroke="#2168ee"/>
<path d="M1712.9 842.2l8.3-5-7.3-10.8-8.2 4.9z" fill="#2660f0" stroke="#2660f0"/>
<path d="M1728.4 848.1l8.3-5.5-7.3-10.8-8.2 5.4z" fill="#2b59f1" stroke="#2b59f1"/>
<path d="M1743.9 853.5l8.2-5.9-7.3-10.8-8.1 5.8z" fill="#3054f2" stroke="#3054f2"/>
<path d="M1468 698.2l9.2 2.3-7-10.9-9.1-2.3z" fill="#018322" stroke="#018322"/>
<path d="M1484.2 711.4l9 1.8-6.9-10.9-9.1-1.8z" fill="#028c37" stroke="#028c37"/>
<path d="M1500.2 724.1l9 1.3-7-10.9-9-1.3z" fill="#02964d" stroke="#02964d"/>
<path d="M1516.2 736.4l8.9 .7-7-10.8-8.9-.9z" fill="#03a066" stroke="#03a066"/>
<path d="M1532.1 748.1l8.9 .3-7.1-10.9-8.8-.4z" fill="#04aa80" stroke="#04aa80"/>
<path d="M1642.4 817.3l8.4-2.9-7.2-10.9-8.4 2.8z" fill="#138de8" stroke="#138de8"/>
<path d="M1658 825.4l8.4-3.4-7.2-10.9-8.4 3.3z" fill="#167fea" stroke="#167fea"/>
<path d="M1673.5 833l8.4-3.8-7.2-10.9-8.3 3.7z" fill="#1a72eb" stroke="#1a72eb"/>
<path d="M1689.1 840.2l8.3-4.3-7.2-10.9-8.3 4.2z" fill="#1e67ed" stroke="#1e67ed"/>
<path d="M1704.7 846.9l8.2-4.7-7.2-10.9-8.3 4.6z" fill="#225dee" stroke="#225dee"/>
<path d="M1435.6 670.3l9.3 3.3-6.9-10.9-9.3-3.3z" fill="#047101" stroke="#047101"/>
<path d="M1451.9 684.5l9.2 2.8-6.9-10.9-9.3-2.8z" fill="#017a0f" stroke="#017a0f"/>
<path d="M1548 759.4l8.8-.2-7.1-10.9-8.7 .1z" fill="#05b59c" stroke="#05b59c"/>
<path d="M1563.8 770.2l8.7-.6-7-10.9-8.7 .5z" fill="#07bfb9" stroke="#07bfb9"/>
<path d="M1579.6 780.5l8.6-1.1-7-10.9-8.7 1.1z" fill="#09bdca" stroke="#09bdca"/>
<path d="M1595.3 790.4l8.6-1.5-7.1-10.9-8.6 1.4z" fill="#0bb4d5" stroke="#0bb4d5"/>
<path d="M1611 799.8l8.6-2-7.1-10.9-8.6 2z" fill="#0daae0" stroke="#0daae0"/>
<path d="M1626.7 808.8l8.5-2.5-7.1-10.9-8.5 2.4z" fill="#109ce6" stroke="#109ce6"/>
<path d="M1720.2 853.2l8.2-5.1-7.2-10.9-8.3 5z" fill="#2655f0" stroke="#2655f0"/>
<path d="M1735.7 859.1l8.2-5.6-7.2-10.9-8.3 5.5z" fill="#2b4ff1" stroke="#2b4ff1"/>
<path d="M1442.6 681.3l9.3 3.2-7-10.9-9.3-3.3z" fill="#017204" stroke="#017204"/>
<path d="M1458.8 695.5l9.2 2.7-6.9-10.9-9.2-2.8z" fill="#017b15" stroke="#017b15"/>
<path d="M1475 709.2l9.2 2.2-7-10.9-9.2-2.3z" fill="#018429" stroke="#018429"/>
<path d="M1491.1 722.4l9.1 1.7-7-10.9-9-1.8z" fill="#028d3e" stroke="#028d3e"/>
<path d="M1507.2 735.1l9 1.3-7-11-9-1.3z" fill="#029756" stroke="#029756"/>
<path d="M1523.2 747.4l8.9 .7-7-11-8.9-.7z" fill="#03a16f" stroke="#03a16f"/>
<path d="M1539.2 759.1l8.8 .3-7-11-8.9-.3z" fill="#04ab8a" stroke="#04ab8a"/>
<path d="M1555.1 770.4l8.7-.2-7-11-8.8 .2z" fill="#06b5a6" stroke="#06b5a6"/>
<path d="M1570.9 781.2l8.7-.7-7.1-10.9-8.7 .6z" fill="#07bcc0" stroke="#07bcc0"/>
<path d="M1586.7 791.5l8.6-1.1-7.1-11-8.6 1.1z" fill="#09b3cb" stroke="#09b3cb"/>
<path d="M1602.5 801.4l8.5-1.6-7.1-10.9-8.6 1.5z" fill="#0baad6" stroke="#0baad6"/>
<path d="M1618.2 810.8l8.5-2-7.1-11-8.6 2z" fill="#0d9fe1" stroke="#0d9fe1"/>
<path d="M1633.9 819.8l8.5-2.5-7.2-11-8.5 2.5z" fill="#1091e6" stroke="#1091e6"/>
<path d="M1649.5 828.3l8.5-2.9-7.2-11-8.4 2.9z" fill="#1382e8" stroke="#1382e8"/>
<path d="M1665.2 836.4l8.3-3.4-7.1-11-8.4 3.4z" fill="#1674ea" stroke="#1674ea"/>
<path d="M1680.8 844l8.3-3.8-7.2-11-8.4 3.8z" fill="#1a67eb" stroke="#1a67eb"/>
<path d="M1696.4 851.2l8.3-4.3-7.3-11-8.3 4.3z" fill="#1e5ced" stroke="#1e5ced"/>
<path d="M1711.9 857.9l8.3-4.7-7.3-11-8.2 4.7z" fill="#2253ee" stroke="#2253ee"/>
<path d="M1727.5 864.2l8.2-5.1-7.3-11-8.2 5.1z" fill="#274bf0" stroke="#274bf0"/>
<path d="M1449.5 692.4l9.3 3.1-6.9-11-9.3-3.2z" fill="#01730a" stroke="#01730a"/>
<path d="M1465.8 706.6l9.2 2.6-7-11-9.2-2.7z" fill="#017b1c" stroke="#017b1c"/>
<path d="M1482 720.3l9.1 2.1-6.9-11-9.2-2.2z" fill="#018430" stroke="#018430"/>
<path d="M1498.2 733.5l9 1.6-7-11-9.1-1.7z" fill="#028e46" stroke="#028e46"/>
<path d="M1514.3 746.2l8.9 1.2-7-11-9-1.3z" fill="#02975e" stroke="#02975e"/>
<path d="M1530.3 758.5l8.9 .6-7.1-11-8.9-.7z" fill="#03a178" stroke="#03a178"/>
<path d="M1546.2 770.2l8.9 .2-7.1-11-8.8-.3z" fill="#04ac93" stroke="#04ac93"/>
<path d="M1625.3 821.9l8.6-2.1-7.2-11-8.5 2z" fill="#0d94e2" stroke="#0d94e2"/>
<path d="M1641.1 830.9l8.4-2.6-7.1-11-8.5 2.5z" fill="#1085e6" stroke="#1085e6"/>
<path d="M1656.7 839.4l8.5-3-7.2-11-8.5 2.9z" fill="#1376e8" stroke="#1376e8"/>
<path d="M1672.4 847.5l8.4-3.5-7.3-11-8.3 3.4z" fill="#1668ea" stroke="#1668ea"/>
<path d="M1688 855.1l8.4-3.9-7.3-11-8.3 3.8z" fill="#1a5ceb" stroke="#1a5ceb"/>
<path d="M1703.6 862.3l8.3-4.4-7.2-11-8.3 4.3z" fill="#1e51ed" stroke="#1e51ed"/>
<path d="M1719.2 869l8.3-4.8-7.3-11-8.3 4.7z" fill="#2248ee" stroke="#2248ee"/>
<path d="M1562.1 781.5l8.8-.3-7.1-11-8.7 .2z" fill="#06b6b0" stroke="#06b6b0"/>
<path d="M1578 792.3l8.7-.8-7.1-11-8.7 .7z" fill="#07b3c1" stroke="#07b3c1"/>
<path d="M1593.8 802.6l8.7-1.2-7.2-11-8.6 1.1z" fill="#09aacc" stroke="#09aacc"/>
<path d="M1609.6 812.5l8.6-1.7-7.2-11-8.5 1.6z" fill="#0b9fd7" stroke="#0b9fd7"/>
<path d="M1456.5 703.6l9.3 3-7-11.1-9.3-3.1z" fill="#017310" stroke="#017310"/>
<path d="M1472.8 717.8l9.2 2.5-7-11.1-9.2-2.6z" fill="#017c23" stroke="#017c23"/>
<path d="M1489.1 731.5l9.1 2-7.1-11.1-9.1-2.1z" fill="#018538" stroke="#018538"/>
<path d="M1505.2 744.7l9.1 1.5-7.1-11.1-9-1.6z" fill="#028e4f" stroke="#028e4f"/>
<path d="M1521.3 757.4l9 1.1-7.1-11.1-8.9-1.2z" fill="#039867" stroke="#039867"/>
<path d="M1537.4 769.6l8.8 .6-7-11.1-8.9-.6z" fill="#03a281" stroke="#03a281"/>
<path d="M1553.3 781.4l8.8 .1-7-11.1-8.9-.2z" fill="#04ac9d" stroke="#04ac9d"/>
<path d="M1569.3 792.6l8.7-.3-7.1-11.1-8.8 .3z" fill="#06b3b7" stroke="#06b3b7"/>
<path d="M1585.1 803.5l8.7-.9-7.1-11.1-8.7 .8z" fill="#07aac2" stroke="#07aac2"/>
<path d="M1601 813.8l8.6-1.3-7.1-11.1-8.7 1.2z" fill="#09a0cd" stroke="#09a0cd"/>
<path d="M1616.8 823.7l8.5-1.8-7.1-11.1-8.6 1.7z" fill="#0b95d8" stroke="#0b95d8"/>
<path d="M1632.5 833.1l8.6-2.2-7.2-11.1-8.6 2.1z" fill="#0e89e3" stroke="#0e89e3"/>
<path d="M1648.3 842.1l8.4-2.7-7.2-11.1-8.4 2.6z" fill="#107ae7" stroke="#107ae7"/>
<path d="M1664 850.6l8.4-3.1-7.2-11.1-8.5 3z" fill="#136be8" stroke="#136be8"/>
<path d="M1679.6 858.6l8.4-3.5-7.2-11.1-8.4 3.5z" fill="#175dea" stroke="#175dea"/>
<path d="M1695.3 866.3l8.3-4-7.2-11.1-8.4 3.9z" fill="#1a51eb" stroke="#1a51eb"/>
<path d="M1710.9 873.4l8.3-4.4-7.3-11.1-8.3 4.4z" fill="#1e46ed" stroke="#1e46ed"/>
<path d="M1463.6 714.8l9.2 3-7-11.2-9.3-3z" fill="#017417" stroke="#017417"/>
<path d="M1479.9 729l9.2 2.5-7.1-11.2-9.2-2.5z" fill="#017d2a" stroke="#017d2a"/>
<path d="M1496.1 742.7l9.1 2-7-11.2-9.1-2z" fill="#018640" stroke="#018640"/>
<path d="M1512.3 755.9l9 1.5-7-11.2-9.1-1.5z" fill="#028f57" stroke="#028f57"/>
<path d="M1528.4 768.6l9 1-7.1-11.1-9-1.1z" fill="#039970" stroke="#039970"/>
<path d="M1544.5 780.8l8.8 .6-7.1-11.2-8.8-.6z" fill="#04a38b" stroke="#04a38b"/>
<path d="M1560.5 792.6l8.8 0-7.2-11.1-8.8-.1z" fill="#05ada7" stroke="#05ada7"/>
<path d="M1608.2 825l8.6-1.3-7.2-11.2-8.6 1.3z" fill="#0995cd" stroke="#0995cd"/>
<path d="M1624 834.9l8.5-1.8-7.2-11.2-8.5 1.8z" fill="#0b8ad8" stroke="#0b8ad8"/>
<path d="M1639.8 844.3l8.5-2.2-7.2-11.2-8.6 2.2z" fill="#0e7ee3" stroke="#0e7ee3"/>
<path d="M1655.5 853.3l8.5-2.7-7.3-11.2-8.4 2.7z" fill="#116ee7" stroke="#116ee7"/>
<path d="M1671.2 861.8l8.4-3.2-7.2-11.1-8.4 3.1z" fill="#145fe8" stroke="#145fe8"/>
<path d="M1686.9 869.9l8.4-3.6-7.3-11.2-8.4 3.5z" fill="#1752ea" stroke="#1752ea"/>
<path d="M1702.6 877.5l8.3-4.1-7.3-11.1-8.3 4z" fill="#1b46ec" stroke="#1b46ec"/>
<path d="M1576.4 803.9l8.7-.4-7.1-11.2-8.7 .3z" fill="#06aab8" stroke="#06aab8"/>
<path d="M1592.3 814.7l8.7-.9-7.2-11.2-8.7 .9z" fill="#07a0c3" stroke="#07a0c3"/>
<path d="M1470.6 726.1l9.3 2.9-7.1-11.2-9.2-3z" fill="#01751d" stroke="#01751d"/>
<path d="M1486.9 740.3l9.2 2.4-7-11.2-9.2-2.5z" fill="#017d31" stroke="#017d31"/>
<path d="M1503.2 754l9.1 1.9-7.1-11.2-9.1-2z" fill="#018747" stroke="#018747"/>
<path d="M1519.4 767.2l9 1.4-7.1-11.2-9-1.5z" fill="#02905f" stroke="#02905f"/>
<path d="M1535.5 779.9l9 .9-7.1-11.2-9-1z" fill="#039a79" stroke="#039a79"/>
<path d="M1551.6 792.1l8.9 .5-7.2-11.2-8.8-.6z" fill="#04a494" stroke="#04a494"/>
<path d="M1567.6 803.9l8.8 0-7.1-11.3-8.8 0z" fill="#05abae" stroke="#05abae"/>
<path d="M1583.6 815.2l8.7-.5-7.2-11.2-8.7 .4z" fill="#06a1b9" stroke="#06a1b9"/>
<path d="M1599.5 826l8.7-1-7.2-11.2-8.7 .9z" fill="#0896c3" stroke="#0896c3"/>
<path d="M1615.4 836.3l8.6-1.4-7.2-11.2-8.6 1.3z" fill="#098bce" stroke="#098bce"/>
<path d="M1631.2 846.2l8.6-1.9-7.3-11.2-8.5 1.8z" fill="#0c7fd9" stroke="#0c7fd9"/>
<path d="M1647 855.6l8.5-2.3-7.2-11.2-8.5 2.2z" fill="#0e73e4" stroke="#0e73e4"/>
<path d="M1662.8 864.6l8.4-2.8-7.2-11.2-8.5 2.7z" fill="#1163e7" stroke="#1163e7"/>
<path d="M1678.5 873.1l8.4-3.2-7.3-11.3-8.4 3.2z" fill="#1454e8" stroke="#1454e8"/>
<path d="M1694.2 881.1l8.4-3.6-7.3-11.2-8.4 3.6z" fill="#1746ea" stroke="#1746ea"/>
<path d="M1477.7 737.5l9.2 2.8-7-11.3-9.3-2.9z" fill="#017524" stroke="#017524"/>
<path d="M1494 751.7l9.2 2.3-7.1-11.3-9.2-2.4z" fill="#017e39" stroke="#017e39"/>
<path d="M1510.3 765.3l9.1 1.9-7.1-11.3-9.1-1.9z" fill="#01874f" stroke="#01874f"/>
<path d="M1526.5 778.6l9 1.3-7.1-11.3-9-1.4z" fill="#029168" stroke="#029168"/>
<path d="M1542.7 791.3l8.9 .8-7.1-11.3-9-.9z" fill="#039a82" stroke="#039a82"/>
<path d="M1558.7 803.5l8.9 .4-7.1-11.3-8.9-.5z" fill="#04a59e" stroke="#04a59e"/>
<path d="M1574.8 815.2l8.8 0-7.2-11.3-8.8 0z" fill="#05a2af" stroke="#05a2af"/>
<path d="M1590.8 826.5l8.7-.5-7.2-11.3-8.7 .5z" fill="#0698b9" stroke="#0698b9"/>
<path d="M1606.7 837.3l8.7-1-7.2-11.3-8.7 1z" fill="#088dc4" stroke="#088dc4"/>
<path d="M1622.6 847.7l8.6-1.5-7.2-11.3-8.6 1.4z" fill="#0a81cf" stroke="#0a81cf"/>
<path d="M1638.4 857.5l8.6-1.9-7.2-11.3-8.6 1.9z" fill="#0c74da" stroke="#0c74da"/>
<path d="M1654.3 867l8.5-2.4-7.3-11.3-8.5 2.3z" fill="#0e67e5" stroke="#0e67e5"/>
<path d="M1670 875.9l8.5-2.8-7.3-11.3-8.4 2.8z" fill="#1157e7" stroke="#1157e7"/>
<path d="M1685.8 884.4l8.4-3.3-7.3-11.2-8.4 3.2z" fill="#1448e9" stroke="#1448e9"/>
<path d="M1582 826.7l8.8-.2-7.2-11.3-8.8 0z" fill="#0599b0" stroke="#0599b0"/>
<path d="M1484.8 748.9l9.2 2.8-7.1-11.4-9.2-2.8z" fill="#01762b" stroke="#01762b"/>
<path d="M1501.1 763.1l9.2 2.2-7.1-11.3-9.2-2.3z" fill="#017f40" stroke="#017f40"/>
<path d="M1517.4 776.8l9.1 1.8-7.1-11.4-9.1-1.9z" fill="#018857" stroke="#018857"/>
<path d="M1533.7 790l9 1.3-7.2-11.4-9-1.3z" fill="#029170" stroke="#029170"/>
<path d="M1549.8 802.7l8.9 .8-7.1-11.4-8.9-.8z" fill="#039b8b" stroke="#039b8b"/>
<path d="M1565.9 814.9l8.9 .3-7.2-11.3-8.9-.4z" fill="#04a3a5" stroke="#04a3a5"/>
<path d="M1598 837.9l8.7-.6-7.2-11.3-8.7 .5z" fill="#068eba" stroke="#068eba"/>
<path d="M1613.9 848.7l8.7-1-7.2-11.4-8.7 1z" fill="#0883c5" stroke="#0883c5"/>
<path d="M1629.8 859.1l8.6-1.6-7.2-11.3-8.6 1.5z" fill="#0a76d0" stroke="#0a76d0"/>
<path d="M1645.7 869l8.6-2-7.3-11.4-8.6 1.9z" fill="#0c69db" stroke="#0c69db"/>
<path d="M1661.5 878.4l8.5-2.5-7.2-11.3-8.5 2.4z" fill="#0e5be5" stroke="#0e5be5"/>
<path d="M1677.4 887.3l8.4-2.9-7.3-11.3-8.5 2.8z" fill="#114be7" stroke="#114be7"/>
<path d="M1491.9 760.4l9.2 2.7-7.1-11.4-9.2-2.8z" fill="#017732" stroke="#017732"/>
<path d="M1508.3 774.6l9.1 2.2-7.1-11.5-9.2-2.2z" fill="#018048" stroke="#018048"/>
<path d="M1524.6 788.3l9.1 1.7-7.2-11.4-9.1-1.8z" fill="#02895f" stroke="#02895f"/>
<path d="M1540.8 801.5l9 1.2-7.1-11.4-9-1.3z" fill="#029279" stroke="#029279"/>
<path d="M1557 814.2l8.9 .7-7.2-11.4-8.9-.8z" fill="#039c94" stroke="#039c94"/>
<path d="M1573.1 826.4l8.9 .3-7.2-11.5-8.9-.3z" fill="#049aa6" stroke="#049aa6"/>
<path d="M1589.2 838.2l8.8-.3-7.2-11.4-8.8 .2z" fill="#0590b0" stroke="#0590b0"/>
<path d="M1605.2 849.4l8.7-.7-7.2-11.4-8.7 .6z" fill="#0685bb" stroke="#0685bb"/>
<path d="M1621.2 860.2l8.6-1.1-7.2-11.4-8.7 1z" fill="#0879c6" stroke="#0879c6"/>
<path d="M1637.1 870.6l8.6-1.6-7.3-11.5-8.6 1.6z" fill="#0a6cd1" stroke="#0a6cd1"/>
<path d="M1653 880.5l8.5-2.1-7.2-11.4-8.6 2z" fill="#0c5edc" stroke="#0c5edc"/>
<path d="M1668.9 889.9l8.5-2.6-7.4-11.4-8.5 2.5z" fill="#0f50e5" stroke="#0f50e5"/>
<path d="M1564.2 825.7l8.9 .7-7.2-11.5-8.9-.7z" fill="#039c9d" stroke="#039c9d"/>
<path d="M1580.4 838l8.8 .2-7.2-11.5-8.9-.3z" fill="#0492a7" stroke="#0492a7"/>
<path d="M1596.4 849.7l8.8-.3-7.2-11.5-8.8 .3z" fill="#0587b1" stroke="#0587b1"/>
<path d="M1499.1 771.9l9.2 2.7-7.2-11.5-9.2-2.7z" fill="#017839" stroke="#017839"/>
<path d="M1515.5 786.1l9.1 2.2-7.2-11.5-9.1-2.2z" fill="#01804f" stroke="#01804f"/>
<path d="M1531.8 799.8l9 1.7-7.1-11.5-9.1-1.7z" fill="#028a68" stroke="#028a68"/>
<path d="M1548 813l9 1.2-7.2-11.5-9-1.2z" fill="#029382" stroke="#029382"/>
<path d="M1612.5 861l8.7-.8-7.3-11.5-8.7 .7z" fill="#067bbc" stroke="#067bbc"/>
<path d="M1628.5 871.8l8.6-1.2-7.3-11.5-8.6 1.1z" fill="#086ec7" stroke="#086ec7"/>
<path d="M1644.4 882.1l8.6-1.6-7.3-11.5-8.6 1.6z" fill="#0a61d1" stroke="#0a61d1"/>
<path d="M1660.3 892l8.6-2.1-7.4-11.5-8.5 2.1z" fill="#0c53dc" stroke="#0c53dc"/>
<path d="M1506.2 783.6l9.3 2.5-7.2-11.5-9.2-2.7z" fill="#017840" stroke="#017840"/>
<path d="M1522.6 797.8l9.2 2-7.2-11.5-9.1-2.2z" fill="#018157" stroke="#018157"/>
<path d="M1539 811.5l9 1.5-7.2-11.5-9-1.7z" fill="#028a70" stroke="#028a70"/>
<path d="M1555.3 824.7l8.9 1-7.2-11.5-9-1.2z" fill="#02948b" stroke="#02948b"/>
<path d="M1571.5 837.4l8.9 .6-7.3-11.6-8.9-.7z" fill="#03949e" stroke="#03949e"/>
<path d="M1587.6 849.6l8.8 .1-7.2-11.5-8.8-.2z" fill="#0489a8" stroke="#0489a8"/>
<path d="M1603.7 861.3l8.8-.3-7.3-11.6-8.8 .3z" fill="#057eb2" stroke="#057eb2"/>
<path d="M1619.8 872.6l8.7-.8-7.3-11.6-8.7 .8z" fill="#0771bd" stroke="#0771bd"/>
<path d="M1635.8 883.4l8.6-1.3-7.3-11.5-8.6 1.2z" fill="#0864c7" stroke="#0864c7"/>
<path d="M1651.7 893.8l8.6-1.8-7.3-11.5-8.6 1.6z" fill="#0a56d2" stroke="#0a56d2"/>
<path d="M1546.2 823.2l9.1 1.5-7.3-11.7-9-1.5z" fill="#028b78" stroke="#028b78"/>
<path d="M1562.5 836.4l9 1-7.3-11.7-8.9-1z" fill="#029594" stroke="#029594"/>
<path d="M1578.7 849.1l8.9 .5-7.2-11.6-8.9-.6z" fill="#038b9e" stroke="#038b9e"/>
<path d="M1594.9 861.3l8.8 0-7.3-11.6-8.8-.1z" fill="#0481a8" stroke="#0481a8"/>
<path d="M1611 873l8.8-.4-7.3-11.6-8.8 .3z" fill="#0574b3" stroke="#0574b3"/>
<path d="M1513.4 795.3l9.2 2.5-7.1-11.7-9.3-2.5z" fill="#017947" stroke="#017947"/>
<path d="M1529.9 809.5l9.1 2-7.2-11.7-9.2-2z" fill="#01825f" stroke="#01825f"/>
<path d="M1627.1 884.3l8.7-.9-7.3-11.6-8.7 .8z" fill="#0767bd" stroke="#0767bd"/>
<path d="M1643.1 895.1l8.6-1.3-7.3-11.7-8.6 1.3z" fill="#0859c8" stroke="#0859c8"/>
<path d="M1520.7 807.1l9.2 2.4-7.3-11.7-9.2-2.5z" fill="#017a4f" stroke="#017a4f"/>
<path d="M1537.1 821.2l9.1 2-7.2-11.7-9.1-2z" fill="#018367" stroke="#018367"/>
<path d="M1553.5 834.9l9 1.5-7.2-11.7-9.1-1.5z" fill="#028c81" stroke="#028c81"/>
<path d="M1569.8 848.1l8.9 1-7.2-11.7-9-1z" fill="#028d95" stroke="#028d95"/>
<path d="M1586 860.8l8.9 .5-7.3-11.7-8.9-.5z" fill="#03839f" stroke="#03839f"/>
<path d="M1602.2 873.1l8.8-.1-7.3-11.7-8.8 0z" fill="#0478a9" stroke="#0478a9"/>
<path d="M1618.3 884.8l8.8-.5-7.3-11.7-8.8 .4z" fill="#056bb4" stroke="#056bb4"/>
<path d="M1634.4 896.1l8.7-1-7.3-11.7-8.7 .9z" fill="#075dbe" stroke="#075dbe"/>
<path d="M1527.9 818.9l9.2 2.3-7.2-11.7-9.2-2.4z" fill="#017a56" stroke="#017a56"/>
<path d="M1544.4 833.1l9.1 1.8-7.3-11.7-9.1-2z" fill="#01836f" stroke="#01836f"/>
<path d="M1560.8 846.8l9 1.3-7.3-11.7-9-1.5z" fill="#028d8a" stroke="#028d8a"/>
<path d="M1577.1 860l8.9 .8-7.3-11.7-8.9-1z" fill="#028696" stroke="#028696"/>
<path d="M1593.3 872.7l8.9 .4-7.3-11.8-8.9-.5z" fill="#037ba0" stroke="#037ba0"/>
<path d="M1609.5 884.9l8.8-.1-7.3-11.8-8.8 .1z" fill="#046faa" stroke="#046faa"/>
<path d="M1625.7 896.6l8.7-.5-7.3-11.8-8.8 .5z" fill="#0561b4" stroke="#0561b4"/>
<path d="M1535.2 830.8l9.2 2.3-7.3-11.9-9.2-2.3z" fill="#017b5e" stroke="#017b5e"/>
<path d="M1551.7 845l9.1 1.8-7.3-11.9-9.1-1.8z" fill="#018477" stroke="#018477"/>
<path d="M1568.1 858.7l9 1.3-7.3-11.9-9-1.3z" fill="#02888d" stroke="#02888d"/>
<path d="M1584.4 871.9l8.9 .8-7.3-11.9-8.9-.8z" fill="#027e97" stroke="#027e97"/>
<path d="M1600.7 884.6l8.8 .3-7.3-11.8-8.9-.4z" fill="#0372a1" stroke="#0372a1"/>
<path d="M1616.9 896.8l8.8-.2-7.4-11.8-8.8 .1z" fill="#0465ab" stroke="#0465ab"/>
<path d="M1542.5 842.8l9.2 2.2-7.3-11.9-9.2-2.3z" fill="#017c66" stroke="#017c66"/>
<path d="M1559 857l9.1 1.7-7.3-11.9-9.1-1.8z" fill="#018580" stroke="#018580"/>
<path d="M1575.4 870.7l9 1.2-7.3-11.9-9-1.3z" fill="#02808e" stroke="#02808e"/>
<path d="M1591.8 883.8l8.9 .8-7.4-11.9-8.9-.8z" fill="#037698" stroke="#037698"/>
<path d="M1608 896.5l8.9 .3-7.4-11.9-8.8-.3z" fill="#0369a1" stroke="#0369a1"/>
<path d="M1549.9 854.8l9.1 2.2-7.3-12-9.2-2.2z" fill="#017c6e" stroke="#017c6e"/>
<path d="M1566.3 869l9.1 1.7-7.3-12-9.1-1.7z" fill="#018385" stroke="#018385"/>
<path d="M1582.8 882.7l9 1.1-7.4-11.9-9-1.2z" fill="#02798f" stroke="#02798f"/>
<path d="M1599.1 895.9l8.9 .6-7.3-11.9-8.9-.8z" fill="#036d98" stroke="#036d98"/>
<path d="M1557.2 867l9.1 2-7.3-12-9.1-2.2z" fill="#017d76" stroke="#017d76"/>
<path d="M1573.7 881.1l9.1 1.6-7.4-12-9.1-1.7z" fill="#017c86" stroke="#017c86"/>
<path d="M1590.2 894.8l8.9 1.1-7.3-12.1-9-1.1z" fill="#02718f" stroke="#02718f"/>
<path d="M1564.6 879.1l9.1 2-7.4-12.1-9.1-2z" fill="#017e7e" stroke="#017e7e"/>
<path d="M1581.1 893.3l9.1 1.5-7.4-12.1-9.1-1.6z" fill="#017487" stroke="#017487"/>
<path d="M1572 891.4l9.1 1.9-7.4-12.2-9.1-2z" fill="#01777f" stroke="#01777f"/>
</g>
<g fill="none" stroke="#000" stroke-opacity=".9" stroke-width="1.05"><path d="M1572,891.4 1557.2,867 1542.5,842.8 1527.9,818.9 1513.4,795.3 1499.1,771.9 1484.8,748.9 1470.6,726.1 1456.5,703.6 1442.6,681.3 1428.7,659.4 1414.9,637.6 1401.2,616.2 1387.7,595 1374.2,574.1 1360.8,553.4 1347.6,533.1 1334.4,512.9 1321.3,493 1308.4,473.4 1295.5,454 1282.7,434.9 1270,416 1257.4,397.4 1245,379 1232.6,360.9"/><path d="M1572,891.4 1590.2,894.8 1608,896.5 1625.7,896.6 1643.1,895.1 1660.3,892 1677.4,887.3 1694.2,881.1 1710.9,873.4 1727.5,864.2 1743.9,853.5 1760.3,841.4 1776.6,827.7 1792.7,812.6 1808.9,796 1824.9,778 1841,758.6 1857,737.6 1873,715.2 1889,691.3 1905,665.9 1921,639.1 1937.1,610.7 1953.3,580.7 1969.5,549.2 1985.8,516.2"/><path d="M1576.6,892.4 1561.8,868 1547.1,843.9 1532.5,820.1 1518.1,796.6 1503.7,773.3 1489.4,750.3 1475.2,727.6 1461.2,705.2 1447.2,683 1433.4,661.1 1419.6,639.4 1405.9,618 1392.4,596.9 1378.9,576.1 1365.6,555.5 1352.3,535.1 1339.1,515.1 1326.1,495.2 1313.1,475.7 1300.2,456.4 1287.5,437.3 1274.8,418.5 1262.2,399.9 1249.7,381.6 1237.4,363.5"/><path d="M1568.3,885.3 1586.5,888.8 1604.4,890.6 1622,890.7 1639.4,889.3 1656.7,886.2 1673.7,881.6 1690.6,875.5 1707.3,867.8 1723.8,858.7 1740.3,848.1 1756.7,836 1772.9,822.4 1789.1,807.3 1805.2,790.8 1821.3,772.9 1837.3,753.5 1853.3,732.6 1869.3,710.2 1885.3,686.4 1901.3,661.1 1917.3,634.3 1933.4,605.9 1949.5,576.1 1965.7,544.6 1982,511.6"/><path d="M1581.1,893.3 1566.3,869 1551.7,845 1537.1,821.2 1522.6,797.8 1508.3,774.6 1494,751.7 1479.9,729 1465.8,706.6 1451.9,684.5 1438,662.7 1424.3,641.1 1410.6,619.8 1397.1,598.7 1383.6,577.9 1370.3,557.4 1357,537.1 1343.8,517.1 1330.8,497.4 1317.8,477.8 1305,458.6 1292.2,439.6 1279.6,420.8 1267,402.3 1254.5,384 1242.1,366"/><path d="M1564.6,879.1 1582.8,882.7 1600.7,884.6 1618.3,884.8 1635.8,883.4 1653,880.5 1670,875.9 1686.9,869.9 1703.6,862.3 1720.2,853.2 1736.7,842.6 1753,830.6 1769.3,817.1 1785.4,802.1 1801.6,785.6 1817.6,767.7 1833.6,748.4 1849.6,727.6 1865.6,705.3 1881.6,681.5 1897.6,656.3 1913.6,629.5 1929.7,601.2 1945.8,571.4 1962,540 1978.3,507.1"/><path d="M1585.6,894.1 1570.9,869.9 1556.2,845.9 1541.7,822.3 1527.2,798.9 1512.9,775.7 1498.6,752.9 1484.5,730.3 1470.4,708 1456.5,685.9 1442.6,664.2 1428.9,642.6 1415.3,621.4 1401.7,600.4 1388.3,579.7 1374.9,559.2 1361.7,539 1348.5,519 1335.5,499.3 1322.5,479.9 1309.7,460.7 1296.9,441.8 1284.3,423.1 1271.7,404.6 1259.3,386.4 1246.9,368.4"/><path d="M1560.9,873 1579.1,876.7 1597,878.6 1614.7,878.9 1632.1,877.6 1649.4,874.7 1666.4,870.2 1683.3,864.2 1700,856.7 1716.6,847.7 1733,837.2 1749.4,825.2 1765.6,811.8 1781.8,796.8 1797.9,780.5 1814,762.6 1830,743.3 1846,722.6 1862,700.4 1877.9,676.6 1893.9,651.4 1909.9,624.7 1926,596.5 1942.1,566.8 1958.3,535.5 1974.5,502.6"/><path d="M1590.2,894.8 1575.4,870.7 1560.8,846.8 1546.2,823.2 1531.8,799.8 1517.4,776.8 1503.2,754 1489.1,731.5 1475,709.2 1461.1,687.3 1447.3,665.5 1433.5,644.1 1419.9,622.9 1406.4,602 1392.9,581.3 1379.6,560.9 1366.3,540.8 1353.2,520.9 1340.2,501.2 1327.2,481.8 1314.4,462.7 1301.6,443.8 1289,425.2 1276.4,406.8 1264,388.6 1251.6,370.7"/><path d="M1557.2,867 1575.4,870.7 1593.3,872.7 1611,873 1628.5,871.8 1645.7,869 1662.8,864.6 1679.6,858.6 1696.4,851.2 1712.9,842.2 1729.4,831.8 1745.7,819.9 1762,806.5 1778.2,791.6 1794.3,775.3 1810.3,757.5 1826.3,738.3 1842.3,717.6 1858.3,695.4 1874.3,671.8 1890.2,646.6 1906.3,620 1922.3,591.9 1938.4,562.2 1954.5,530.9 1970.8,498.1"/><path d="M1594.6,895.4 1579.9,871.3 1565.3,847.5 1550.7,824 1536.3,800.7 1522,777.7 1507.8,755 1493.6,732.6 1479.6,710.4 1465.7,688.5 1451.8,666.8 1438.1,645.4 1424.5,624.3 1411,603.5 1397.5,582.8 1384.2,562.5 1371,542.4 1357.9,522.6 1344.8,503 1331.9,483.7 1319.1,464.6 1306.3,445.8 1293.7,427.2 1281.1,408.8 1268.7,390.7 1256.3,372.9"/><path d="M1553.5,860.9 1571.7,864.7 1589.7,866.7 1607.4,867.2 1624.8,866 1642.1,863.2 1659.1,858.9 1676,853 1692.7,845.7 1709.3,836.8 1725.8,826.4 1742.1,814.5 1758.4,801.2 1774.5,786.4 1790.6,770.2 1806.7,752.4 1822.7,733.3 1838.7,712.6 1854.6,690.5 1870.6,666.9 1886.6,641.9 1902.6,615.3 1918.6,587.2 1934.7,557.6 1950.8,526.4 1967,493.6"/><path d="M1599.1,895.9 1584.4,871.9 1569.8,848.1 1555.3,824.7 1540.8,801.5 1526.5,778.6 1512.3,755.9 1498.2,733.5 1484.2,711.4 1470.2,689.6 1456.4,668 1442.7,646.7 1429.1,625.6 1415.6,604.8 1402.2,584.3 1388.8,564 1375.6,544 1362.5,524.2 1349.5,504.7 1336.5,485.4 1323.7,466.4 1311,447.6 1298.3,429.1 1285.8,410.8 1273.4,392.7 1261,374.9"/><path d="M1549.9,854.8 1568.1,858.7 1586,860.8 1603.7,861.3 1621.2,860.2 1638.4,857.5 1655.5,853.3 1672.4,847.5 1689.1,840.2 1705.7,831.3 1722.2,821 1738.5,809.2 1754.8,795.9 1770.9,781.2 1787,765 1803.1,747.4 1819.1,728.3 1835,707.7 1851,685.6 1867,662.1 1882.9,637.1 1898.9,610.6 1914.9,582.6 1931,553 1947.1,521.9 1963.3,489.2"/><path d="M1603.6,896.3 1588.9,872.3 1574.3,848.7 1559.7,825.3 1545.3,802.1 1531,779.3 1516.8,756.7 1502.7,734.4 1488.7,712.3 1474.8,690.6 1461,669 1447.3,647.8 1433.7,626.8 1420.2,606.1 1406.7,585.6 1393.4,565.4 1380.2,545.4 1367.1,525.7 1354.1,506.2 1341.2,487 1328.3,468 1315.6,449.3 1303,430.9 1290.5,412.6 1278,394.6 1265.7,376.9"/><path d="M1546.2,848.8 1564.4,852.7 1582.4,854.9 1600.1,855.5 1617.5,854.5 1634.8,851.9 1651.9,847.7 1668.8,841.9 1685.5,834.7 1702.1,825.9 1718.6,815.6 1734.9,803.9 1751.2,790.7 1767.3,776 1783.4,759.9 1799.5,742.3 1815.4,723.3 1831.4,702.8 1847.4,680.8 1863.3,657.3 1879.3,632.3 1895.2,605.9 1911.2,577.9 1927.3,548.4 1943.4,517.4 1959.6,484.7"/><path d="M1608,896.5 1593.3,872.7 1578.7,849.1 1564.2,825.7 1549.8,802.7 1535.5,779.9 1521.3,757.4 1507.2,735.1 1493.2,713.2 1479.3,691.5 1465.5,670 1451.8,648.8 1438.2,627.9 1424.7,607.2 1411.3,586.8 1398,566.6 1384.8,546.7 1371.7,527.1 1358.7,507.7 1345.8,488.5 1333,469.6 1320.2,451 1307.6,432.5 1295.1,414.4 1282.7,396.4 1270.3,378.7"/><path d="M1542.5,842.8 1560.8,846.8 1578.7,849.1 1596.4,849.7 1613.9,848.7 1631.2,846.2 1648.3,842.1 1665.2,836.4 1681.9,829.2 1698.5,820.5 1715,810.3 1731.3,798.6 1747.5,785.5 1763.7,770.9 1779.8,754.8 1795.8,737.3 1811.8,718.3 1827.8,697.8 1843.7,675.9 1859.7,652.5 1875.6,627.6 1891.6,601.2 1907.6,573.3 1923.6,543.9 1939.7,512.9 1955.9,480.3"/><path d="M1612.5,896.7 1597.8,872.9 1583.2,849.4 1568.7,826.1 1554.3,803.1 1540,780.4 1525.8,758 1511.7,735.8 1497.7,713.9 1483.8,692.2 1470,670.9 1456.3,649.7 1442.7,628.9 1429.3,608.2 1415.9,587.9 1402.6,567.8 1389.4,548 1376.3,528.4 1363.3,509 1350.4,489.9 1337.5,471.1 1324.8,452.5 1312.2,434.1 1299.7,416 1287.3,398.1 1274.9,380.5"/><path d="M1538.9,836.8 1557.1,840.8 1575.1,843.2 1592.8,843.9 1610.3,843 1627.6,840.5 1644.7,836.5 1661.6,830.9 1678.3,823.7 1694.9,815.1 1711.4,805 1727.7,793.4 1743.9,780.3 1760.1,765.7 1776.2,749.7 1792.2,732.3 1808.2,713.3 1824.2,692.9 1840.1,671.1 1856,647.7 1872,622.9 1887.9,596.6 1903.9,568.7 1919.9,539.3 1936,508.4 1952.2,475.9"/><path d="M1616.9,896.8 1602.2,873.1 1587.6,849.6 1573.1,826.4 1558.7,803.5 1544.5,780.8 1530.3,758.5 1516.2,736.4 1502.2,714.5 1488.3,692.9 1474.5,671.6 1460.9,650.5 1447.3,629.7 1433.8,609.2 1420.4,588.9 1407.1,568.9 1393.9,549.1 1380.8,529.5 1367.8,510.3 1354.9,491.2 1342.1,472.4 1329.4,453.9 1316.8,435.6 1304.3,417.5 1291.9,399.7 1279.5,382.1"/><path d="M1535.2,830.8 1553.5,834.9 1571.5,837.4 1589.2,838.2 1606.7,837.3 1624,834.9 1641.1,830.9 1658,825.4 1674.7,818.3 1691.3,809.7 1707.8,799.7 1724.1,788.1 1740.4,775.1 1756.5,760.6 1772.6,744.7 1788.6,727.2 1804.6,708.4 1820.6,688 1836.5,666.2 1852.4,643 1868.3,618.2 1884.3,591.9 1900.2,564.1 1916.3,534.8 1932.3,503.9 1948.5,471.5"/><path d="M1621.3,896.8 1606.6,873.1 1592,849.7 1577.6,826.6 1563.2,803.7 1548.9,781.2 1534.7,758.8 1520.6,736.8 1506.7,715 1492.8,693.5 1479,672.2 1465.3,651.2 1451.8,630.5 1438.3,610 1424.9,589.8 1411.6,569.8 1398.4,550.1 1385.3,530.6 1372.4,511.4 1359.5,492.4 1346.7,473.7 1334,455.2 1321.4,436.9 1308.8,418.9 1296.4,401.2 1284.1,383.6"/><path d="M1531.6,824.8 1549.8,829 1567.8,831.6 1585.6,832.4 1603.1,831.6 1620.4,829.3 1637.5,825.3 1654.4,819.9 1671.1,812.9 1687.7,804.4 1704.2,794.4 1720.5,782.9 1736.8,769.9 1752.9,755.5 1769,739.6 1785,722.3 1801,703.4 1816.9,683.2 1832.9,661.4 1848.8,638.2 1864.7,613.5 1880.6,587.3 1896.6,559.6 1912.6,530.3 1928.6,499.5 1944.8,467.1"/><path d="M1625.7,896.6 1611,873 1596.4,849.7 1582,826.7 1567.6,803.9 1553.3,781.4 1539.2,759.1 1525.1,737.1 1511.1,715.4 1497.3,694 1483.5,672.8 1469.8,651.8 1456.2,631.2 1442.8,610.7 1429.4,590.6 1416.1,570.7 1402.9,551 1389.9,531.6 1376.9,512.4 1364,493.5 1351.2,474.8 1338.5,456.4 1325.9,438.2 1313.4,420.2 1301,402.5 1288.7,385.1"/><path d="M1527.9,818.9 1546.2,823.2 1564.2,825.7 1582,826.7 1599.5,826 1616.8,823.7 1633.9,819.8 1650.8,814.4 1667.5,807.5 1684.1,799 1700.6,789.1 1716.9,777.7 1733.2,764.8 1749.3,750.4 1765.4,734.6 1781.4,717.3 1797.4,698.5 1813.3,678.3 1829.3,656.6 1845.2,633.5 1861.1,608.8 1877,582.7 1892.9,555 1908.9,525.8 1925,495.1 1941.1,462.7"/><path d="M1630.1,896.4 1615.4,872.9 1600.8,849.6 1586.4,826.6 1572,803.9 1557.7,781.5 1543.6,759.3 1529.5,737.4 1515.6,715.7 1501.7,694.3 1487.9,673.2 1474.3,652.3 1460.7,631.7 1447.2,611.4 1433.9,591.3 1420.6,571.4 1407.4,551.8 1394.4,532.4 1381.4,513.3 1368.5,494.5 1355.7,475.8 1343,457.5 1330.4,439.3 1317.9,421.4 1305.5,403.8 1293.2,386.4"/><path d="M1524.3,813 1542.6,817.3 1560.6,820 1578.4,820.9 1595.9,820.3 1613.2,818.1 1630.3,814.3 1647.2,808.9 1664,802.1 1680.6,793.7 1697,783.8 1713.4,772.4 1729.6,759.6 1745.8,745.3 1761.8,729.5 1777.9,712.3 1793.8,693.6 1809.8,673.5 1825.7,651.9 1841.6,628.7 1857.4,604.2 1873.4,578.1 1889.3,550.5 1905.3,521.3 1921.3,490.6 1937.4,458.4"/><path d="M1634.4,896.1 1619.8,872.6 1605.2,849.4 1590.8,826.5 1576.4,803.9 1562.1,781.5 1548,759.4 1533.9,737.5 1520,715.9 1506.1,694.6 1492.4,673.5 1478.7,652.7 1465.2,632.2 1451.7,611.9 1438.3,591.8 1425.1,572 1411.9,552.5 1398.8,533.2 1385.9,514.1 1373,495.3 1360.2,476.8 1347.5,458.5 1334.9,440.4 1322.4,422.5 1310,404.9 1297.7,387.6"/><path d="M1520.7,807.1 1539,811.5 1557,814.2 1574.8,815.2 1592.3,814.7 1609.6,812.5 1626.7,808.8 1643.6,803.5 1660.4,796.7 1677,788.4 1693.5,778.6 1709.8,767.3 1726.1,754.5 1742.2,740.2 1758.3,724.5 1774.3,707.4 1790.2,688.7 1806.2,668.7 1822.1,647.1 1837.9,624 1853.8,599.5 1869.7,573.5 1885.7,545.9 1901.6,516.9 1917.6,486.2 1933.7,454"/><path d="M1638.8,895.6 1624.1,872.3 1609.6,849.1 1595.1,826.3 1580.8,803.7 1566.5,781.4 1552.4,759.4 1538.3,737.6 1524.4,716 1510.5,694.8 1496.8,673.8 1483.1,653 1469.6,632.5 1456.1,612.3 1442.8,592.3 1429.5,572.6 1416.4,553.1 1403.3,533.9 1390.3,514.9 1377.5,496.1 1364.7,477.6 1352,459.3 1339.4,441.3 1326.9,423.5 1314.5,406 1302.2,388.7"/><path d="M1517.1,801.2 1535.4,805.6 1553.4,808.4 1571.2,809.6 1588.7,809.1 1606,807 1623.1,803.3 1640.1,798.1 1656.8,791.3 1673.4,783.1 1689.9,773.3 1706.3,762.1 1722.5,749.4 1738.6,735.2 1754.7,719.5 1770.7,702.4 1786.7,683.9 1802.6,663.8 1818.5,642.3 1834.4,619.4 1850.2,594.9 1866.1,568.9 1882,541.4 1898,512.4 1914,481.9 1930,449.7"/><path d="M1643.1,895.1 1628.5,871.8 1613.9,848.7 1599.5,826 1585.1,803.5 1570.9,781.2 1556.8,759.2 1542.7,737.5 1528.8,716 1514.9,694.8 1501.2,673.9 1487.6,653.2 1474,632.8 1460.6,612.6 1447.2,592.7 1434,573 1420.8,553.6 1407.7,534.4 1394.8,515.5 1381.9,496.8 1369.1,478.3 1356.5,460.1 1343.9,442.2 1331.4,424.4 1319,406.9 1306.7,389.7"/><path d="M1513.4,795.3 1531.8,799.8 1549.8,802.7 1567.6,803.9 1585.1,803.5 1602.5,801.4 1619.6,797.8 1636.5,792.7 1653.3,786 1669.9,777.8 1686.3,768.1 1702.7,756.9 1718.9,744.3 1735.1,730.2 1751.2,714.6 1767.2,697.5 1783.1,679 1799,659 1814.9,637.6 1830.8,614.7 1846.6,590.3 1862.5,564.4 1878.4,536.9 1894.3,508 1910.3,477.5 1926.4,445.4"/><path d="M1647.4,894.5 1632.8,871.2 1618.3,848.3 1603.8,825.5 1589.5,803.1 1575.3,780.9 1561.1,759 1547.1,737.3 1533.2,715.9 1519.3,694.8 1505.6,673.9 1491.9,653.3 1478.4,632.9 1465,612.8 1451.6,593 1438.4,573.3 1425.2,554 1412.2,534.9 1399.2,516 1386.3,497.3 1373.6,479 1360.9,460.8 1348.3,442.9 1335.8,425.2 1323.5,407.8 1311.2,390.6"/><path d="M1509.8,789.4 1528.2,794 1546.2,797 1564,798.2 1581.6,797.9 1598.9,795.9 1616,792.4 1633,787.3 1649.7,780.7 1666.3,772.5 1682.8,762.9 1699.1,751.8 1715.4,739.2 1731.5,725.1 1747.6,709.6 1763.6,692.6 1779.5,674.2 1795.4,654.3 1811.3,632.9 1827.2,610 1843,585.7 1858.9,559.8 1874.8,532.5 1890.7,503.6 1906.7,473.1 1922.7,441.1"/><path d="M1651.7,893.8 1637.1,870.6 1622.6,847.7 1608.2,825 1593.8,802.6 1579.6,780.5 1565.5,758.7 1551.4,737.1 1537.5,715.7 1523.7,694.7 1510,673.9 1496.3,653.3 1482.8,633 1469.4,612.9 1456,593.1 1442.8,573.6 1429.6,554.3 1416.6,535.2 1403.6,516.4 1390.8,497.8 1378,479.5 1365.3,461.4 1352.8,443.5 1340.3,425.9 1327.9,408.5 1315.6,391.4"/><path d="M1506.2,783.6 1524.6,788.3 1542.7,791.3 1560.5,792.6 1578,792.3 1595.3,790.4 1612.5,786.9 1629.4,781.9 1646.2,775.3 1662.8,767.3 1679.3,757.7 1695.6,746.7 1711.8,734.1 1728,720.1 1744,704.7 1760,687.7 1776,669.4 1791.9,649.5 1807.7,628.2 1823.6,605.4 1839.4,581.1 1855.3,555.3 1871.2,528 1887.1,499.2 1903.1,468.8 1919.1,436.8"/><path d="M1656,892.9 1641.4,869.8 1626.9,847 1612.5,824.4 1598.2,802.1 1583.9,780 1569.8,758.2 1555.8,736.7 1541.9,715.4 1528,694.4 1514.3,673.7 1500.7,653.2 1487.2,632.9 1473.7,612.9 1460.4,593.2 1447.2,573.7 1434,554.5 1421,535.4 1408,516.7 1395.2,498.2 1382.4,479.9 1369.7,461.9 1357.2,444.1 1344.7,426.5 1332.3,409.2 1320,392.1"/><path d="M1502.6,777.7 1521,782.5 1539.1,785.6 1556.9,787 1574.5,786.7 1591.8,784.9 1608.9,781.5 1625.9,776.5 1642.6,770 1659.3,762 1675.7,752.5 1692.1,741.5 1708.3,729.1 1724.4,715.1 1740.5,699.7 1756.5,682.9 1772.4,664.5 1788.3,644.7 1804.2,623.5 1820,600.7 1835.9,576.5 1851.7,550.8 1867.6,523.5 1883.5,494.8 1899.4,464.5 1915.4,432.6"/><path d="M1660.3,892 1645.7,869 1631.2,846.2 1616.8,823.7 1602.5,801.4 1588.2,779.4 1574.1,757.7 1560.1,736.2 1546.2,715 1532.4,694.1 1518.7,673.4 1505,653 1491.5,632.8 1478.1,612.9 1464.8,593.2 1451.5,573.7 1438.4,554.5 1425.3,535.6 1412.4,516.9 1399.5,498.4 1386.8,480.2 1374.1,462.2 1361.6,444.5 1349.1,427 1336.7,409.7 1324.4,392.7"/><path d="M1499.1,771.9 1517.4,776.8 1535.5,779.9 1553.3,781.4 1570.9,781.2 1588.2,779.4 1605.4,776.1 1622.3,771.2 1639.1,764.8 1655.7,756.8 1672.2,747.4 1688.5,736.4 1704.8,724 1720.9,710.2 1737,694.8 1753,678 1768.9,659.7 1784.8,640 1800.6,618.8 1816.5,596.1 1832.3,572 1848.1,546.3 1864,519.1 1879.9,490.4 1895.8,460.1 1911.8,428.3"/><path d="M1664.6,891 1650,868 1635.5,845.3 1621.1,822.8 1606.8,800.7 1592.6,778.7 1578.4,757.1 1564.4,735.7 1550.5,714.5 1536.7,693.7 1523,673 1509.4,652.7 1495.8,632.5 1482.4,612.7 1469.1,593 1455.9,573.7 1442.7,554.5 1429.7,535.6 1416.8,517 1403.9,498.6 1391.2,480.4 1378.5,462.5 1366,444.8 1353.5,427.4 1341.1,410.1 1328.8,393.1"/><path d="M1495.5,766.1 1513.9,771.1 1532,774.3 1549.8,775.8 1567.4,775.7 1584.7,774 1601.9,770.7 1618.8,765.9 1635.6,759.5 1652.2,751.6 1668.7,742.2 1685,731.4 1701.3,719 1717.4,705.2 1733.4,689.9 1749.4,673.2 1765.3,655 1781.2,635.3 1797.1,614.1 1812.9,591.5 1828.7,567.4 1844.5,541.8 1860.4,514.7 1876.3,486 1892.2,455.8 1908.2,424.1"/><path d="M1668.9,889.9 1654.3,867 1639.8,844.3 1625.3,821.9 1611,799.8 1596.8,778 1582.7,756.4 1568.7,735 1554.8,714 1541,693.1 1527.3,672.6 1513.7,652.2 1500.2,632.2 1486.8,612.4 1473.4,592.8 1460.2,573.5 1447.1,554.4 1434,535.6 1421.1,517 1408.3,498.7 1395.5,480.5 1382.9,462.7 1370.3,445 1357.9,427.6 1345.5,410.5 1333.2,393.5"/><path d="M1491.9,760.4 1510.3,765.3 1528.4,768.6 1546.2,770.2 1563.8,770.2 1581.2,768.5 1598.3,765.3 1615.3,760.6 1632.1,754.2 1648.7,746.4 1665.2,737.1 1681.5,726.3 1697.7,714 1713.9,700.3 1729.9,685 1745.9,668.4 1761.8,650.2 1777.7,630.6 1793.5,609.5 1809.3,586.9 1825.2,562.9 1841,537.3 1856.8,510.3 1872.7,481.7 1888.6,451.6 1904.5,419.9"/><path d="M1673.1,888.7 1658.5,865.8 1644,843.2 1629.6,820.9 1615.3,798.9 1601.1,777.1 1587,755.5 1573,734.3 1559.1,713.3 1545.3,692.5 1531.6,672 1518,651.7 1504.5,631.7 1491.1,612 1477.8,592.5 1464.5,573.2 1451.4,554.2 1438.4,535.4 1425.4,516.9 1412.6,498.6 1399.9,480.6 1387.2,462.7 1374.7,445.2 1362.2,427.8 1349.8,410.7 1337.6,393.8"/><path d="M1488.3,754.6 1506.7,759.7 1524.9,763 1542.7,764.7 1560.3,764.7 1577.7,763.1 1594.8,760 1611.8,755.3 1628.5,749 1645.2,741.3 1661.6,732 1678,721.3 1694.2,709 1710.4,695.3 1726.4,680.2 1742.4,663.5 1758.3,645.5 1774.2,625.9 1790,604.9 1805.8,582.4 1821.6,558.4 1837.4,532.9 1853.2,505.9 1869.1,477.4 1885,447.3 1900.9,415.6"/><path d="M1677.4,887.3 1662.8,864.6 1648.3,842.1 1633.9,819.8 1619.6,797.8 1605.4,776.1 1591.3,754.6 1577.3,733.4 1563.4,712.5 1549.6,691.8 1535.9,671.3 1522.3,651.1 1508.8,631.2 1495.4,611.5 1482.1,592 1468.8,572.8 1455.7,553.9 1442.7,535.2 1429.8,516.7 1416.9,498.5 1404.2,480.5 1391.5,462.7 1379,445.2 1366.5,427.9 1354.2,410.8 1341.9,394"/><path d="M1484.8,748.9 1503.2,754 1521.3,757.4 1539.2,759.1 1556.8,759.2 1574.1,757.7 1591.3,754.6 1608.3,750 1625,743.8 1641.7,736.1 1658.1,726.9 1674.5,716.2 1690.7,704.1 1706.8,690.4 1722.9,675.3 1738.9,658.8 1754.8,640.7 1770.6,621.2 1786.4,600.3 1802.3,577.8 1818,553.9 1833.8,528.5 1849.7,501.5 1865.5,473 1881.4,443 1897.3,411.5"/><path d="M1681.6,885.9 1667,863.2 1652.5,840.8 1638.1,818.6 1623.8,796.7 1609.6,775 1595.5,753.6 1581.6,732.5 1567.7,711.6 1553.9,690.9 1540.2,670.6 1526.6,650.4 1513.1,630.5 1499.7,610.9 1486.3,591.5 1473.1,572.4 1460,553.5 1447,534.8 1434.1,516.4 1421.2,498.2 1408.5,480.3 1395.9,462.6 1383.3,445.1 1370.9,427.9 1358.5,410.9 1346.2,394.1"/><path d="M1481.2,743.2 1499.7,748.3 1517.8,751.8 1535.6,753.6 1553.2,753.8 1570.6,752.3 1587.8,749.3 1604.7,744.7 1621.5,738.6 1638.2,731 1654.6,721.8 1671,711.2 1687.2,699.1 1703.3,685.5 1719.4,670.5 1735.3,654 1751.3,636 1767.1,616.6 1782.9,595.7 1798.7,573.3 1814.5,549.4 1830.3,524 1846.1,497.2 1861.9,468.7 1877.8,438.8 1893.7,407.3"/><path d="M1685.8,884.4 1671.2,861.8 1656.7,839.4 1642.4,817.3 1628.1,795.4 1613.9,773.8 1599.8,752.5 1585.8,731.4 1571.9,710.6 1558.1,690 1544.4,669.7 1530.8,649.6 1517.3,629.8 1503.9,610.2 1490.6,590.9 1477.4,571.8 1464.3,553 1451.3,534.4 1438.4,516 1425.5,497.9 1412.8,480 1400.2,462.4 1387.6,444.9 1375.2,427.8 1362.8,410.8 1350.5,394.1"/><path d="M1477.7,737.5 1496.1,742.7 1514.3,746.2 1532.1,748.1 1549.7,748.3 1567.1,746.9 1584.3,744 1601.2,739.5 1618,733.4 1634.7,725.8 1651.1,716.8 1667.5,706.2 1683.7,694.2 1699.8,680.6 1715.9,665.7 1731.8,649.2 1747.7,631.3 1763.6,611.9 1779.4,591.1 1795.2,568.7 1811,544.9 1826.7,519.6 1842.5,492.8 1858.3,464.5 1874.2,434.6 1890.1,403.1"/><path d="M1690,882.8 1675.4,860.3 1661,837.9 1646.6,815.9 1632.3,794.1 1618.1,772.6 1604,751.3 1590,730.3 1576.2,709.5 1562.4,689 1548.7,668.7 1535.1,648.7 1521.6,629 1508.2,609.4 1494.9,590.2 1481.7,571.1 1468.6,552.4 1455.5,533.8 1442.6,515.5 1429.8,497.5 1417.1,479.6 1404.4,462 1391.9,444.7 1379.4,427.6 1367.1,410.7 1354.8,394"/><path d="M1474.1,731.8 1492.6,737.1 1510.7,740.7 1528.6,742.6 1546.2,742.9 1563.6,741.6 1580.8,738.7 1597.8,734.2 1614.6,728.2 1631.2,720.7 1647.7,711.7 1664,701.2 1680.2,689.2 1696.4,675.8 1712.4,660.9 1728.3,644.5 1744.2,626.6 1760.1,607.3 1775.9,586.5 1791.7,564.2 1807.4,540.5 1823.2,515.2 1839,488.5 1854.8,460.2 1870.6,430.4 1886.5,399"/><path d="M1694.2,881.1 1679.6,858.6 1665.2,836.4 1650.8,814.4 1636.5,792.7 1622.3,771.2 1608.3,750 1594.3,729 1580.4,708.3 1566.6,687.9 1552.9,667.7 1539.3,647.7 1525.8,628 1512.4,608.6 1499.1,589.4 1485.9,570.4 1472.8,551.7 1459.8,533.2 1446.9,514.9 1434.1,496.9 1421.3,479.2 1408.7,461.6 1396.2,444.3 1383.7,427.2 1371.4,410.4 1359.1,393.8"/><path d="M1470.6,726.1 1489.1,731.5 1507.2,735.1 1525.1,737.1 1542.7,737.5 1560.1,736.2 1577.3,733.4 1594.3,729 1611.1,723.1 1627.7,715.6 1644.2,706.7 1660.5,696.2 1676.8,684.3 1692.9,670.9 1708.9,656.1 1724.9,639.7 1740.7,621.9 1756.6,602.7 1772.4,581.9 1788.1,559.7 1803.9,536 1819.7,510.9 1835.4,484.2 1851.2,455.9 1867,426.2 1882.9,394.8"/><path d="M1698.4,879.4 1683.8,856.9 1669.4,834.7 1655,812.8 1640.7,791.1 1626.5,769.7 1612.5,748.6 1598.5,727.7 1584.6,707 1570.8,686.7 1557.1,666.5 1543.6,646.6 1530.1,627 1516.7,607.6 1503.4,588.4 1490.2,569.5 1477.1,550.9 1464,532.4 1451.1,514.2 1438.3,496.3 1425.6,478.6 1413,461.1 1400.4,443.8 1388,426.8 1375.6,410 1363.4,393.5"/><path d="M1467.1,720.4 1485.5,725.9 1503.7,729.6 1521.6,731.7 1539.2,732.1 1556.6,730.9 1573.8,728.2 1590.8,723.8 1607.6,718 1624.2,710.6 1640.7,701.7 1657.1,691.3 1673.3,679.4 1689.4,666.1 1705.4,651.3 1721.4,635 1737.3,617.3 1753.1,598.1 1768.9,577.4 1784.6,555.3 1800.4,531.6 1816.1,506.5 1831.9,479.9 1847.7,451.7 1863.5,422 1879.3,390.7"/><path d="M1702.6,877.5 1688,855.1 1673.5,833 1659.2,811.1 1644.9,789.5 1630.7,768.2 1616.7,747.1 1602.7,726.2 1588.8,705.7 1575,685.3 1561.4,665.3 1547.8,645.4 1534.3,625.9 1520.9,606.5 1507.6,587.4 1494.4,568.6 1481.3,550 1468.3,531.6 1455.4,513.5 1442.5,495.6 1429.8,477.9 1417.2,460.5 1404.7,443.3 1392.2,426.3 1379.9,409.6 1367.6,393.1"/><path d="M1463.6,714.8 1482,720.3 1500.2,724.1 1518.1,726.3 1535.7,726.7 1553.1,725.6 1570.3,722.9 1587.3,718.6 1604.1,712.8 1620.8,705.5 1637.2,696.7 1653.6,686.4 1669.8,674.5 1685.9,661.3 1701.9,646.5 1717.9,630.3 1733.8,612.6 1749.6,593.5 1765.4,572.9 1781.1,550.8 1796.9,527.2 1812.6,502.1 1828.3,475.6 1844.1,447.5 1859.9,417.8 1875.7,386.6"/><path d="M1706.8,875.5 1692.2,853.2 1677.7,831.1 1663.4,809.3 1649.1,787.8 1634.9,766.5 1620.9,745.5 1606.9,724.7 1593,704.2 1579.2,683.9 1565.6,663.9 1552,644.1 1538.5,624.6 1525.1,605.3 1511.8,586.3 1498.6,567.5 1485.5,549 1472.5,530.7 1459.6,512.6 1446.8,494.7 1434,477.1 1421.4,459.8 1408.9,442.6 1396.4,425.7 1384.1,409 1371.8,392.6"/><path d="M1460,709.2 1478.5,714.8 1496.7,718.6 1514.6,720.8 1532.3,721.4 1549.7,720.3 1566.9,717.7 1583.8,713.5 1600.7,707.7 1617.3,700.5 1633.8,691.7 1650.1,681.4 1666.3,669.7 1682.5,656.5 1698.5,641.8 1714.4,625.6 1730.3,608 1746.1,588.9 1761.9,568.4 1777.6,546.3 1793.4,522.8 1809.1,497.8 1824.8,471.3 1840.6,443.2 1856.4,413.7 1872.2,382.5"/><path d="M1710.9,873.4 1696.4,851.2 1681.9,829.2 1667.5,807.5 1653.3,786 1639.1,764.8 1625,743.8 1611.1,723.1 1597.2,702.6 1583.4,682.4 1569.7,662.5 1556.2,642.8 1542.7,623.3 1529.3,604.1 1516,585.1 1502.8,566.4 1489.7,547.9 1476.7,529.6 1463.8,511.6 1451,493.8 1438.3,476.3 1425.6,459 1413.1,441.9 1400.7,425 1388.3,408.4 1376.1,392"/><path d="M1456.5,703.6 1475,709.2 1493.2,713.2 1511.1,715.4 1528.8,716 1546.2,715 1563.4,712.5 1580.4,708.3 1597.2,702.6 1613.8,695.4 1630.3,686.7 1646.7,676.5 1662.9,664.8 1679,651.7 1695,637 1711,621 1726.8,603.4 1742.6,584.4 1758.4,563.9 1774.1,541.9 1789.9,518.4 1805.6,493.5 1821.3,467 1837,439 1852.8,409.5 1868.6,378.4"/><path d="M1715.1,871.3 1700.5,849.1 1686.1,827.2 1671.7,805.5 1657.4,784.1 1643.3,762.9 1629.2,742 1615.2,721.4 1601.4,701 1587.6,680.8 1573.9,660.9 1560.3,641.3 1546.9,621.9 1533.5,602.7 1520.2,583.8 1507,565.1 1493.9,546.7 1480.9,528.5 1468,510.5 1455.2,492.8 1442.5,475.3 1429.8,458 1417.3,441 1404.9,424.2 1392.5,407.6 1380.3,391.3"/><path d="M1453,698 1471.5,703.7 1489.7,707.7 1507.6,710 1525.3,710.7 1542.7,709.8 1559.9,707.3 1576.9,703.2 1593.7,697.6 1610.4,690.4 1626.9,681.8 1643.2,671.6 1659.4,660 1675.5,646.9 1691.6,632.3 1707.5,616.3 1723.4,598.8 1739.2,579.8 1754.9,559.4 1770.7,537.5 1786.4,514.1 1802.1,489.2 1817.8,462.8 1833.5,434.9 1849.3,405.4 1865.1,374.4"/><path d="M1719.2,869 1704.7,846.9 1690.2,825 1675.9,803.4 1661.6,782.1 1647.4,761 1633.4,740.1 1619.4,719.6 1605.5,699.2 1591.8,679.1 1578.1,659.3 1564.5,639.7 1551,620.4 1537.7,601.3 1524.4,582.4 1511.2,563.8 1498.1,545.4 1485.1,527.3 1472.2,509.4 1459.4,491.7 1446.6,474.2 1434,457 1421.5,440.1 1409,423.3 1396.7,406.8 1384.4,390.5"/><path d="M1449.5,692.4 1468,698.2 1486.3,702.3 1504.2,704.7 1521.8,705.4 1539.3,704.5 1556.5,702.1 1573.5,698.1 1590.3,692.5 1606.9,685.4 1623.4,676.8 1639.8,666.7 1656,655.2 1672.1,642.1 1688.1,627.6 1704,611.7 1719.9,594.2 1735.7,575.3 1751.4,554.9 1767.2,533.1 1782.9,509.7 1798.6,484.9 1814.3,458.6 1830,430.7 1845.7,401.3 1861.5,370.3"/><path d="M1723.4,866.7 1708.8,844.6 1694.4,822.8 1680,801.3 1665.7,780 1651.6,758.9 1637.5,738.2 1623.6,717.6 1609.7,697.4 1595.9,677.3 1582.2,657.6 1568.7,638 1555.2,618.8 1541.8,599.7 1528.5,580.9 1515.3,562.4 1502.2,544 1489.2,525.9 1476.3,508.1 1463.5,490.5 1450.8,473.1 1438.2,455.9 1425.7,439 1413.2,422.3 1400.9,405.9 1388.6,389.6"/><path d="M1446,686.9 1464.6,692.7 1482.8,696.9 1500.7,699.3 1518.4,700.1 1535.8,699.3 1553,696.9 1570,693 1586.9,687.5 1603.5,680.4 1620,671.9 1636.3,661.9 1652.6,650.4 1668.7,637.4 1684.7,622.9 1700.6,607 1716.4,589.6 1732.2,570.8 1748,550.5 1763.7,528.7 1779.4,505.4 1795.1,480.6 1810.8,454.3 1826.5,426.5 1842.2,397.2 1858,366.3"/><path d="M1727.5,864.2 1712.9,842.2 1698.5,820.5 1684.1,799 1669.9,777.8 1655.7,756.8 1641.7,736.1 1627.7,715.6 1613.8,695.4 1600.1,675.5 1586.4,655.7 1572.8,636.3 1559.3,617.1 1546,598.1 1532.7,579.3 1519.5,560.8 1506.4,542.6 1493.4,524.5 1480.5,506.7 1467.7,489.2 1455,471.8 1442.3,454.7 1429.8,437.9 1417.4,421.2 1405,404.8 1392.8,388.6"/><path d="M1442.6,681.3 1461.1,687.3 1479.3,691.5 1497.3,694 1514.9,694.8 1532.4,694.1 1549.6,691.8 1566.6,687.9 1583.4,682.4 1600.1,675.5 1616.6,667 1632.9,657 1649.1,645.6 1665.2,632.7 1681.2,618.3 1697.1,602.4 1713,585.1 1728.8,566.3 1744.5,546 1760.2,524.3 1775.9,501.1 1791.6,476.4 1807.3,450.1 1823,422.4 1838.7,393.1 1854.4,362.3"/><path d="M1731.6,861.7 1717.1,839.8 1702.6,818.1 1688.3,796.7 1674,775.5 1659.9,754.6 1645.8,733.9 1631.8,713.5 1618,693.4 1604.2,673.5 1590.5,653.8 1577,634.4 1563.5,615.3 1550.1,596.3 1536.8,577.6 1523.6,559.2 1510.5,541 1497.5,523 1484.6,505.3 1471.8,487.8 1459.1,470.5 1446.5,453.5 1434,436.6 1421.5,420.1 1409.2,403.7 1396.9,387.5"/><path d="M1439.1,675.8 1457.6,681.8 1475.9,686.1 1493.8,688.6 1511.5,689.6 1528.9,688.9 1546.2,686.6 1563.2,682.8 1580,677.4 1596.6,670.5 1613.1,662.1 1629.5,652.2 1645.7,640.8 1661.8,627.9 1677.8,613.6 1693.7,597.8 1709.6,580.5 1725.3,561.8 1741.1,541.6 1756.8,519.9 1772.4,496.8 1788.1,472.1 1803.8,446 1819.4,418.3 1835.2,389 1850.9,358.3"/><path d="M1735.7,859.1 1721.2,837.2 1706.7,815.6 1692.4,794.2 1678.1,773.1 1664,752.3 1649.9,731.7 1636,711.4 1622.1,691.3 1608.3,671.4 1594.7,651.8 1581.1,632.5 1567.6,613.4 1554.2,594.5 1541,575.9 1527.8,557.5 1514.7,539.3 1501.7,521.4 1488.8,503.7 1476,486.3 1463.2,469.1 1450.6,452.1 1438.1,435.3 1425.7,418.8 1413.3,402.5 1401.1,386.4"/><path d="M1435.6,670.3 1454.2,676.4 1472.4,680.7 1490.4,683.3 1508.1,684.3 1525.5,683.7 1542.7,681.5 1559.7,677.7 1576.6,672.4 1593.2,665.6 1609.7,657.2 1626.1,647.4 1642.3,636.1 1658.4,623.2 1674.4,609 1690.3,593.2 1706.1,576 1721.9,557.3 1737.6,537.2 1753.3,515.6 1769,492.5 1784.6,467.9 1800.3,441.8 1816,414.2 1831.6,385 1847.4,354.3"/><path d="M1739.8,856.3 1725.3,834.5 1710.8,813 1696.5,791.7 1682.2,770.7 1668.1,749.9 1654,729.3 1640.1,709.1 1626.2,689 1612.4,669.3 1598.8,649.7 1585.2,630.4 1571.7,611.4 1558.4,592.6 1545.1,574 1531.9,555.7 1518.8,537.6 1505.8,519.7 1492.9,502.1 1480.1,484.7 1467.4,467.5 1454.7,450.6 1442.2,433.9 1429.8,417.4 1417.4,401.1 1405.2,385.1"/><path d="M1432.1,664.8 1450.7,670.9 1469,675.3 1486.9,678.1 1504.6,679.1 1522.1,678.6 1539.3,676.4 1556.3,672.7 1573.2,667.4 1589.8,660.7 1606.3,652.4 1622.6,642.6 1638.9,631.3 1655,618.6 1670.9,604.3 1686.9,588.7 1702.7,571.5 1718.5,552.9 1734.2,532.8 1749.9,511.2 1765.5,488.2 1781.2,463.7 1796.8,437.6 1812.5,410.1 1828.1,381 1843.9,350.3"/><path d="M1743.9,853.5 1729.4,831.8 1715,810.3 1700.6,789.1 1686.3,768.1 1672.2,747.4 1658.1,726.9 1644.2,706.7 1630.3,686.7 1616.6,667 1602.9,647.5 1589.3,628.3 1575.8,609.3 1562.5,590.5 1549.2,572 1536,553.8 1522.9,535.7 1509.9,517.9 1497,500.3 1484.2,483 1471.5,465.9 1458.9,449 1446.3,432.4 1433.9,415.9 1421.5,399.7 1409.3,383.8"/><path d="M1428.7,659.4 1447.3,665.5 1465.5,670 1483.5,672.8 1501.2,673.9 1518.7,673.4 1535.9,671.3 1552.9,667.7 1569.7,662.5 1586.4,655.7 1602.9,647.5 1619.2,637.8 1635.4,626.6 1651.5,613.9 1667.5,599.7 1683.4,584.1 1699.3,567 1715,548.5 1730.7,528.4 1746.4,506.9 1762.1,483.9 1777.7,459.5 1793.3,433.5 1809,406 1824.6,376.9 1840.3,346.3"/><path d="M1748,850.6 1733.5,828.9 1719,807.5 1704.7,786.4 1690.4,765.4 1676.3,744.8 1662.2,724.4 1648.3,704.2 1634.4,684.3 1620.7,664.6 1607,645.2 1593.4,626.1 1579.9,607.1 1566.6,588.4 1553.3,570 1540.1,551.8 1527,533.8 1514,516 1501.1,498.5 1488.3,481.2 1475.6,464.2 1463,447.4 1450.4,430.8 1438,414.4 1425.6,398.2 1413.4,382.3"/><path d="M1425.2,653.9 1443.8,660.2 1462.1,664.7 1480.1,667.5 1497.8,668.7 1515.2,668.3 1532.5,666.2 1549.5,662.7 1566.3,657.5 1583,650.9 1599.5,642.7 1615.8,633 1632,621.9 1648.1,609.2 1664.1,595.1 1680,579.6 1695.8,562.5 1711.6,544 1727.3,524.1 1743,502.6 1758.6,479.7 1774.2,455.3 1789.9,429.3 1805.5,401.9 1821.1,372.9 1836.8,342.4"/><path d="M1752.1,847.6 1737.6,826 1723.1,804.6 1708.8,783.5 1694.5,762.7 1680.4,742.1 1666.3,721.8 1652.4,701.7 1638.5,681.8 1624.7,662.2 1611.1,642.8 1597.5,623.7 1584,604.8 1570.7,586.2 1557.4,567.8 1544.2,549.7 1531.1,531.7 1518.1,514 1505.2,496.6 1492.4,479.4 1479.7,462.4 1467,445.6 1454.5,429 1442.1,412.7 1429.7,396.6 1417.5,380.8"/><path d="M1421.8,648.5 1440.4,654.8 1458.7,659.4 1476.6,662.3 1494.4,663.5 1511.8,663.2 1529.1,661.2 1546.1,657.7 1562.9,652.6 1579.6,646 1596.1,637.9 1612.4,628.3 1628.6,617.2 1644.7,604.6 1660.7,590.6 1676.6,575 1692.4,558.1 1708.2,539.6 1723.9,519.7 1739.5,498.3 1755.2,475.5 1770.8,451.1 1786.4,425.2 1802,397.8 1817.7,368.9 1833.3,338.5"/><path d="M1756.2,844.5 1741.7,823 1727.2,801.7 1712.9,780.6 1698.6,759.9 1684.5,739.3 1670.4,719 1656.5,699 1642.6,679.2 1628.8,659.7 1615.2,640.4 1601.6,621.3 1588.1,602.5 1574.7,583.9 1561.4,565.6 1548.3,547.5 1535.2,529.6 1522.2,512 1509.3,494.6 1496.5,477.4 1483.7,460.5 1471.1,443.7 1458.6,427.2 1446.1,411 1433.8,394.9 1421.5,379.1"/><path d="M1418.3,643 1436.9,649.4 1455.2,654.1 1473.2,657.1 1491,658.4 1508.4,658.1 1525.7,656.2 1542.7,652.7 1559.5,647.7 1576.2,641.1 1592.7,633.1 1609,623.5 1625.3,612.5 1641.3,600 1657.3,586 1673.2,570.5 1689,553.6 1704.8,535.2 1720.5,515.4 1736.1,494.1 1751.7,471.2 1767.3,446.9 1782.9,421.1 1798.6,393.8 1814.2,364.9 1829.8,334.5"/><path d="M1760.3,841.4 1745.7,819.9 1731.3,798.6 1716.9,777.7 1702.7,756.9 1688.5,736.4 1674.5,716.2 1660.5,696.2 1646.7,676.5 1632.9,657 1619.2,637.8 1605.7,618.8 1592.2,600 1578.8,581.5 1565.5,563.2 1552.3,545.2 1539.2,527.4 1526.2,509.8 1513.3,492.5 1500.5,475.3 1487.8,458.4 1475.2,441.8 1462.6,425.3 1450.2,409.1 1437.9,393.1 1425.6,377.4"/><path d="M1414.9,637.6 1433.5,644.1 1451.8,648.8 1469.8,651.8 1487.6,653.2 1505,653 1522.3,651.1 1539.3,647.7 1556.2,642.8 1572.8,636.3 1589.3,628.3 1605.7,618.8 1621.9,607.8 1638,595.4 1653.9,581.4 1669.8,566 1685.6,549.2 1701.4,530.9 1717.1,511.1 1732.7,489.8 1748.3,467 1763.9,442.8 1779.5,417 1795.1,389.8 1810.7,361 1826.4,330.6"/><path d="M1764.4,838.1 1749.8,816.7 1735.4,795.5 1721,774.6 1706.8,753.9 1692.6,733.5 1678.6,713.3 1664.6,693.4 1650.7,673.7 1637,654.3 1623.3,635.1 1609.7,616.2 1596.2,597.5 1582.9,579 1569.6,560.8 1556.4,542.8 1543.3,525.1 1530.3,507.5 1517.4,490.2 1504.6,473.2 1491.9,456.4 1479.2,439.7 1466.7,423.4 1454.3,407.2 1441.9,391.3 1429.7,375.5"/><path d="M1411.5,632.3 1430.1,638.8 1448.4,643.6 1466.4,646.6 1484.2,648.1 1501.6,647.9 1518.9,646.1 1535.9,642.8 1552.8,637.9 1569.4,631.4 1585.9,623.5 1602.3,614.1 1618.5,603.2 1634.6,590.8 1650.6,576.9 1666.4,561.6 1682.2,544.8 1698,526.5 1713.7,506.8 1729.3,485.5 1744.9,462.8 1760.5,438.7 1776.1,413 1791.6,385.8 1807.2,357 1822.9,326.7"/><path d="M1768.4,834.7 1753.9,813.4 1739.4,792.2 1725.1,771.4 1710.8,750.8 1696.7,730.4 1682.6,710.3 1668.7,690.5 1654.8,670.9 1641,651.5 1627.4,632.4 1613.8,613.5 1600.3,594.8 1586.9,576.4 1573.6,558.3 1560.4,540.3 1547.3,522.6 1534.3,505.2 1521.4,487.9 1508.6,470.9 1495.9,454.2 1483.3,437.6 1470.7,421.3 1458.3,405.2 1446,389.3 1433.7,373.6"/><path d="M1408.1,626.9 1426.7,633.5 1445,638.3 1463,641.5 1480.8,643 1498.3,642.8 1515.5,641.1 1532.6,637.8 1549.4,633 1566.1,626.6 1582.6,618.8 1598.9,609.4 1615.1,598.5 1631.2,586.2 1647.2,572.4 1663.1,557.1 1678.9,540.3 1694.6,522.1 1710.3,502.5 1725.9,481.3 1741.5,458.7 1757.1,434.5 1772.6,408.9 1788.2,381.8 1803.8,353.1 1819.4,322.9"/><path d="M1772.5,831.3 1757.9,810 1743.5,788.9 1729.1,768.1 1714.9,747.6 1700.7,727.3 1686.7,707.2 1672.7,687.4 1658.8,667.9 1645.1,648.6 1631.4,629.5 1617.8,610.7 1604.3,592.1 1591,573.8 1577.7,555.7 1564.5,537.8 1551.4,520.1 1538.4,502.7 1525.5,485.6 1512.7,468.6 1499.9,451.9 1487.3,435.4 1474.8,419.1 1462.3,403.1 1450,387.2 1437.7,371.6"/><path d="M1404.7,621.5 1423.3,628.2 1441.6,633.1 1459.6,636.3 1477.4,637.9 1494.9,637.8 1512.1,636.1 1529.2,632.9 1546,628.1 1562.7,621.8 1579.2,614 1595.5,604.7 1611.7,593.9 1627.8,581.6 1643.8,567.9 1659.7,552.6 1675.5,536 1691.2,517.8 1706.9,498.2 1722.5,477.1 1738.1,454.5 1753.6,430.4 1769.2,404.9 1784.8,377.8 1800.3,349.2 1815.9,319"/><path d="M1776.6,827.7 1762,806.5 1747.5,785.5 1733.2,764.8 1718.9,744.3 1704.8,724 1690.7,704.1 1676.8,684.3 1662.9,664.8 1649.1,645.6 1635.4,626.6 1621.9,607.8 1608.4,589.3 1595,571 1581.7,552.9 1568.5,535.1 1555.4,517.5 1542.4,500.2 1529.5,483.1 1516.7,466.2 1504,449.5 1491.3,433.1 1478.8,416.8 1466.4,400.8 1454,385.1 1441.7,369.5"/><path d="M1401.2,616.2 1419.9,622.9 1438.2,627.9 1456.2,631.2 1474,632.8 1491.5,632.8 1508.8,631.2 1525.8,628 1542.7,623.3 1559.3,617.1 1575.8,609.3 1592.2,600 1608.4,589.3 1624.5,577.1 1640.4,563.4 1656.3,548.2 1672.1,531.6 1687.8,513.5 1703.5,493.9 1719.1,472.9 1734.7,450.4 1750.2,426.4 1765.8,400.8 1781.3,373.8 1796.9,345.2 1812.5,315.1"/><path d="M1780.6,824.1 1766.1,802.9 1751.6,782 1737.2,761.3 1723,740.9 1708.8,720.7 1694.8,700.8 1680.8,681.1 1666.9,661.7 1653.2,642.5 1639.5,623.5 1625.9,604.8 1612.4,586.4 1599,568.1 1585.7,550.1 1572.5,532.4 1559.4,514.9 1546.4,497.6 1533.5,480.5 1520.7,463.6 1508,447 1495.4,430.6 1482.8,414.5 1470.4,398.5 1458,382.8 1445.7,367.3"/><path d="M1397.8,610.9 1416.5,617.7 1434.8,622.7 1452.9,626 1470.6,627.7 1488.1,627.8 1505.4,626.2 1522.5,623.1 1539.3,618.5 1556,612.3 1572.5,604.6 1588.8,595.4 1605,584.7 1621.1,572.5 1637.1,558.9 1652.9,543.8 1668.7,527.2 1684.4,509.2 1700.1,489.7 1715.7,468.7 1731.3,446.2 1746.8,422.3 1762.3,396.8 1777.9,369.9 1793.4,341.4 1809,311.3"/><path d="M1784.7,820.3 1770.1,799.2 1755.6,778.4 1741.3,757.8 1727,737.4 1712.9,717.3 1698.8,697.4 1684.8,677.8 1671,658.4 1657.2,639.3 1643.5,620.4 1629.9,601.8 1616.4,583.4 1603.1,565.2 1589.8,547.2 1576.6,529.5 1563.5,512.1 1550.5,494.8 1537.5,477.8 1524.7,461 1512,444.5 1499.4,428.1 1486.8,412 1474.4,396.1 1462,380.5 1449.7,365"/><path d="M1394.4,605.6 1413.1,612.4 1431.5,617.5 1449.5,620.9 1467.3,622.7 1484.8,622.8 1502.1,621.3 1519.1,618.3 1536,613.7 1552.6,607.5 1569.1,599.9 1585.5,590.7 1601.7,580.1 1617.8,568 1633.7,554.4 1649.6,539.4 1665.4,522.9 1681.1,504.9 1696.7,485.4 1712.3,464.5 1727.9,442.1 1743.4,418.2 1758.9,392.8 1774.5,365.9 1790,337.5 1805.6,307.5"/><path d="M1788.7,816.5 1774.1,795.5 1759.7,774.7 1745.3,754.1 1731.1,733.8 1716.9,713.8 1702.8,694 1688.9,674.4 1675,655.1 1661.2,636 1647.5,617.2 1633.9,598.6 1620.5,580.3 1607.1,562.1 1593.8,544.3 1580.6,526.6 1567.5,509.2 1554.5,492 1541.5,475.1 1528.7,458.3 1516,441.8 1503.4,425.5 1490.8,409.5 1478.4,393.6 1466,378 1453.7,362.6"/><path d="M1391.1,600.3 1409.7,607.2 1428.1,612.4 1446.1,615.8 1463.9,617.6 1481.4,617.8 1498.7,616.4 1515.8,613.4 1532.6,608.9 1549.3,602.8 1565.8,595.2 1582.1,586.1 1598.3,575.5 1614.4,563.5 1630.4,550 1646.2,535 1662,518.5 1677.7,500.6 1693.3,481.2 1708.9,460.3 1724.5,438 1740,414.2 1755.5,388.8 1771,362 1786.6,333.6 1802.1,303.7"/><path d="M1792.7,812.6 1778.2,791.6 1763.7,770.9 1749.3,750.4 1735.1,730.2 1720.9,710.2 1706.8,690.4 1692.9,670.9 1679,651.7 1665.2,632.7 1651.5,613.9 1638,595.4 1624.5,577.1 1611.1,559 1597.8,541.2 1584.6,523.6 1571.5,506.2 1558.5,489.1 1545.5,472.2 1532.7,455.5 1520,439.1 1507.3,422.8 1494.8,406.8 1482.3,391.1 1470,375.5 1457.7,360.1"/><path d="M1387.7,595 1406.4,602 1424.7,607.2 1442.8,610.7 1460.6,612.6 1478.1,612.9 1495.4,611.5 1512.4,608.6 1529.3,604.1 1546,598.1 1562.5,590.5 1578.8,581.5 1595,571 1611.1,559 1627,545.5 1642.9,530.6 1658.7,514.2 1674.4,496.3 1690,477 1705.6,456.2 1721.1,433.9 1736.6,410.1 1752.1,384.9 1767.6,358.1 1783.1,329.7 1798.7,299.9"/><path d="M1796.8,808.6 1782.2,787.7 1767.7,767 1753.4,746.6 1739.1,726.4 1724.9,706.5 1710.9,686.8 1696.9,667.3 1683,648.2 1669.2,629.2 1655.5,610.5 1642,592 1628.5,573.8 1615.1,555.8 1601.8,538 1588.6,520.5 1575.5,503.2 1562.4,486.1 1549.5,469.3 1536.7,452.6 1524,436.2 1511.3,420.1 1498.8,404.1 1486.3,388.4 1473.9,372.9 1461.7,357.6"/><path d="M1384.3,589.8 1403,596.8 1421.4,602.1 1439.4,605.7 1457.2,607.6 1474.7,607.9 1492,606.6 1509.1,603.7 1526,599.3 1542.6,593.4 1559.1,585.9 1575.5,576.9 1591.7,566.5 1607.7,554.5 1623.7,541.1 1639.5,526.2 1655.3,509.9 1671,492.1 1686.6,472.8 1702.2,452.1 1717.7,429.8 1733.2,406.1 1748.7,380.9 1764.2,354.2 1779.7,325.9 1795.2,296.1"/><path d="M1800.8,804.5 1786.2,783.6 1771.8,763 1757.4,742.7 1743.1,722.5 1729,702.7 1714.9,683.1 1700.9,663.7 1687,644.5 1673.2,625.6 1659.6,607 1646,588.6 1632.5,570.4 1619.1,552.5 1605.8,534.7 1592.6,517.3 1579.4,500 1566.4,483 1553.5,466.2 1540.7,449.6 1527.9,433.3 1515.3,417.2 1502.7,401.3 1490.3,385.6 1477.9,370.2 1465.6,354.9"/><path d="M1380.9,584.5 1399.6,591.6 1418,597 1436.1,600.6 1453.9,602.6 1471.4,603 1488.7,601.7 1505.8,598.9 1522.6,594.6 1539.3,588.7 1555.8,581.3 1572.2,572.3 1588.3,561.9 1604.4,550.1 1620.4,536.7 1636.2,521.9 1652,505.6 1667.7,487.9 1683.3,468.6 1698.8,447.9 1714.4,425.8 1729.9,402.1 1745.3,377 1760.8,350.3 1776.3,322.1 1791.8,292.3"/><path d="M1804.8,800.3 1790.3,779.5 1775.8,759 1761.4,738.7 1747.1,718.6 1733,698.8 1718.9,679.2 1704.9,659.9 1691,640.8 1677.2,622 1663.5,603.4 1650,585.1 1636.5,566.9 1623.1,549 1609.7,531.4 1596.5,514 1583.4,496.8 1570.4,479.8 1557.5,463.1 1544.6,446.6 1531.9,430.3 1519.2,414.2 1506.7,398.4 1494.2,382.8 1481.9,367.4 1469.6,352.2"/><path d="M1377.6,579.3 1396.3,586.5 1414.7,591.9 1432.7,595.6 1450.5,597.6 1468.1,598.1 1485.4,596.9 1502.4,594.1 1519.3,589.8 1536,584 1552.5,576.6 1568.8,567.8 1585,557.4 1601.1,545.6 1617,532.3 1632.9,517.6 1648.6,501.3 1664.3,483.6 1679.9,464.5 1695.5,443.8 1711,421.7 1726.5,398.1 1742,373 1757.4,346.4 1772.9,318.3 1788.4,288.6"/><path d="M1808.9,796 1794.3,775.3 1779.8,754.8 1765.4,734.6 1751.2,714.6 1737,694.8 1722.9,675.3 1708.9,656.1 1695,637 1681.2,618.3 1667.5,599.7 1653.9,581.4 1640.4,563.4 1627,545.5 1613.7,527.9 1600.5,510.6 1587.4,493.4 1574.4,476.5 1561.4,459.9 1548.6,443.4 1535.8,427.2 1523.2,411.2 1510.6,395.4 1498.2,379.8 1485.8,364.5 1473.5,349.3"/><path d="M1374.2,574.1 1392.9,581.3 1411.3,586.8 1429.4,590.6 1447.2,592.7 1464.8,593.2 1482.1,592 1499.1,589.4 1516,585.1 1532.7,579.3 1549.2,572 1565.5,563.2 1581.7,552.9 1597.8,541.2 1613.7,527.9 1629.6,513.2 1645.3,497.1 1661,479.4 1676.6,460.3 1692.1,439.7 1707.6,417.7 1723.1,394.1 1738.6,369.1 1754,342.5 1769.5,314.5 1785,284.8"/><path d="M1812.9,791.7 1798.3,771 1783.8,750.6 1769.4,730.4 1755.2,710.4 1741,690.8 1726.9,671.3 1712.9,652.1 1699,633.2 1685.2,614.4 1671.5,596 1657.9,577.7 1644.4,559.7 1631,541.9 1617.7,524.4 1604.5,507.1 1591.4,490 1578.3,473.2 1565.4,456.5 1552.5,440.1 1539.8,424 1527.1,408 1514.6,392.3 1502.1,376.8 1489.7,361.5 1477.4,346.4"/><path d="M1370.9,568.9 1389.6,576.2 1408,581.7 1426.1,585.6 1443.9,587.7 1461.4,588.3 1478.7,587.2 1495.8,584.6 1512.7,580.4 1529.4,574.7 1545.9,567.4 1562.2,558.7 1578.4,548.5 1594.5,536.8 1610.4,523.6 1626.2,508.9 1642,492.8 1657.7,475.2 1673.3,456.2 1688.8,435.7 1704.3,413.7 1719.8,390.2 1735.2,365.2 1750.7,338.7 1766.1,310.7 1781.6,281.1"/><path d="M1816.9,787.2 1802.3,766.6 1787.8,746.2 1773.4,726.1 1759.2,706.2 1745,686.6 1730.9,667.2 1716.9,648.1 1703,629.2 1689.2,610.5 1675.5,592.1 1661.9,573.9 1648.4,556 1635,538.3 1621.7,520.8 1608.4,503.5 1595.3,486.5 1582.3,469.7 1569.3,453.1 1556.5,436.8 1543.7,420.7 1531.1,404.8 1518.5,389.1 1506,373.6 1493.7,358.4 1481.4,343.4"/><path d="M1367.5,563.7 1386.2,571.1 1404.6,576.7 1422.7,580.6 1440.6,582.8 1458.1,583.4 1475.4,582.4 1492.5,579.8 1509.4,575.7 1526.1,570 1542.6,562.9 1558.9,554.2 1575.1,544 1591.2,532.4 1607.1,519.2 1622.9,504.6 1638.7,488.6 1654.3,471.1 1669.9,452.1 1685.5,431.6 1701,409.7 1716.4,386.2 1731.9,361.3 1747.3,334.9 1762.7,306.9 1778.2,277.4"/><path d="M1820.9,782.7 1806.3,762.1 1791.8,741.8 1777.4,721.7 1763.2,701.9 1749,682.4 1734.9,663 1720.9,644 1707,625.1 1693.2,606.5 1679.5,588.2 1665.9,570 1652.3,552.1 1638.9,534.5 1625.6,517.1 1612.4,499.9 1599.3,482.9 1586.2,466.2 1573.3,449.6 1560.4,433.4 1547.7,417.3 1535,401.4 1522.4,385.8 1510,370.4 1497.6,355.2 1485.3,340.2"/><path d="M1364.2,558.6 1382.9,566 1401.3,571.7 1419.4,575.6 1437.3,577.9 1454.8,578.6 1472.1,577.6 1489.2,575.1 1506.1,571 1522.8,565.4 1539.3,558.3 1555.6,549.7 1571.8,539.6 1587.9,528 1603.8,514.9 1619.6,500.4 1635.4,484.4 1651,466.9 1666.6,448 1682.1,427.6 1697.6,405.7 1713.1,382.3 1728.5,357.4 1743.9,331 1759.3,303.1 1774.8,273.7"/><path d="M1824.9,778 1810.3,757.5 1795.8,737.3 1781.4,717.3 1767.2,697.5 1753,678 1738.9,658.8 1724.9,639.7 1711,621 1697.1,602.4 1683.4,584.1 1669.8,566 1656.3,548.2 1642.9,530.6 1629.6,513.2 1616.3,496.1 1603.2,479.2 1590.2,462.5 1577.2,446.1 1564.4,429.8 1551.6,413.8 1538.9,398 1526.4,382.4 1513.9,367.1 1501.5,351.9 1489.2,337"/><path d="M1360.8,553.4 1379.6,560.9 1398,566.6 1416.1,570.7 1434,573 1451.5,573.7 1468.8,572.8 1485.9,570.4 1502.8,566.4 1519.5,560.8 1536,553.8 1552.3,545.2 1568.5,535.1 1584.6,523.6 1600.5,510.6 1616.3,496.1 1632.1,480.2 1647.7,462.7 1663.3,443.9 1678.8,423.5 1694.3,401.7 1709.7,378.4 1725.1,353.6 1740.6,327.2 1756,299.4 1771.4,270"/><path d="M1828.9,773.3 1814.3,752.9 1799.8,732.7 1785.4,712.7 1771.1,693 1756.9,673.6 1742.8,654.4 1728.8,635.4 1714.9,616.7 1701.1,598.2 1687.4,580 1673.8,562 1660.3,544.2 1646.8,526.6 1633.5,509.3 1620.3,492.3 1607.1,475.4 1594.1,458.8 1581.1,442.4 1568.3,426.2 1555.5,410.2 1542.8,394.5 1530.3,379 1517.8,363.7 1505.4,348.6 1493.1,333.7"/><path d="M1357.5,548.3 1376.3,555.9 1394.7,561.6 1412.8,565.7 1430.7,568.1 1448.2,568.9 1465.5,568.1 1482.6,565.7 1499.5,561.7 1516.2,556.2 1532.7,549.2 1549,540.7 1565.2,530.7 1581.3,519.2 1597.2,506.3 1613,491.9 1628.8,476 1644.4,458.6 1660,439.8 1675.5,419.5 1691,397.7 1706.4,374.5 1721.8,349.7 1737.2,323.5 1752.6,295.7 1768,266.3"/><path d="M1832.9,768.5 1818.3,748.1 1803.8,728 1789.4,708.1 1775.1,688.5 1760.9,669.1 1746.8,649.9 1732.8,631 1718.9,612.4 1705.1,593.9 1691.4,575.7 1677.7,557.8 1664.2,540.1 1650.8,522.6 1637.4,505.3 1624.2,488.3 1611.1,471.5 1598,454.9 1585.1,438.6 1572.2,422.5 1559.4,406.6 1546.8,390.9 1534.2,375.4 1521.7,360.2 1509.3,345.1 1497,330.3"/><path d="M1354.2,543.2 1373,550.8 1391.4,556.7 1409.5,560.8 1427.4,563.3 1444.9,564.1 1462.3,563.3 1479.4,561 1496.2,557.1 1512.9,551.7 1529.4,544.7 1545.8,536.3 1562,526.3 1578,514.9 1593.9,502 1609.8,487.6 1625.5,471.8 1641.1,454.5 1656.7,435.7 1672.2,415.5 1687.6,393.8 1703.1,370.6 1718.5,345.9 1733.9,319.7 1749.2,292 1764.6,262.7"/><path d="M1836.9,763.6 1822.3,743.2 1807.8,723.2 1793.4,703.4 1779.1,683.8 1764.9,664.5 1750.8,645.4 1736.8,626.5 1722.9,607.9 1709,589.6 1695.3,571.4 1681.7,553.5 1668.2,535.9 1654.7,518.4 1641.4,501.2 1628.1,484.3 1615,467.5 1601.9,451 1589,434.7 1576.1,418.7 1563.3,402.8 1550.7,387.2 1538.1,371.8 1525.6,356.6 1513.2,341.6 1500.9,326.8"/><path d="M1350.9,538.1 1369.6,545.8 1388.1,551.7 1406.2,555.9 1424.1,558.4 1441.7,559.3 1459,558.6 1476.1,556.3 1493,552.5 1509.7,547.1 1526.2,540.2 1542.5,531.8 1558.7,521.9 1574.7,510.6 1590.7,497.7 1606.5,483.4 1622.2,467.6 1637.8,450.4 1653.4,431.7 1668.9,411.5 1684.3,389.8 1699.7,366.7 1715.1,342.1 1730.5,315.9 1745.9,288.2 1761.3,259"/><path d="M1841,758.6 1826.3,738.3 1811.8,718.3 1797.4,698.5 1783.1,679 1768.9,659.7 1754.8,640.7 1740.7,621.9 1726.8,603.4 1713,585.1 1699.3,567 1685.6,549.2 1672.1,531.6 1658.7,514.2 1645.3,497.1 1632.1,480.2 1618.9,463.5 1605.8,447 1592.9,430.8 1580,414.8 1567.2,399 1554.5,383.4 1542,368 1529.5,352.9 1517,338 1504.7,323.3"/><path d="M1347.6,533.1 1366.3,540.8 1384.8,546.7 1402.9,551 1420.8,553.6 1438.4,554.5 1455.7,553.9 1472.8,551.7 1489.7,547.9 1506.4,542.6 1522.9,535.7 1539.2,527.4 1555.4,517.5 1571.5,506.2 1587.4,493.4 1603.2,479.2 1618.9,463.5 1634.5,446.3 1650.1,427.6 1665.6,407.5 1681,385.9 1696.4,362.8 1711.8,338.3 1727.2,312.2 1742.5,284.6 1757.9,255.4"/><path d="M1845,753.5 1830.3,733.3 1815.8,713.3 1801.4,693.6 1787.1,674.2 1772.9,655 1758.7,636 1744.7,617.3 1730.8,598.8 1716.9,580.5 1703.2,562.5 1689.6,544.7 1676,527.2 1662.6,509.9 1649.2,492.8 1636,475.9 1622.8,459.3 1609.8,442.9 1596.8,426.7 1583.9,410.8 1571.1,395 1558.4,379.5 1545.8,364.2 1533.3,349.1 1520.9,334.3 1508.6,319.6"/><path d="M1344.3,528 1363.1,535.8 1381.5,541.8 1399.7,546.1 1417.5,548.8 1435.1,549.8 1452.5,549.2 1469.6,547 1486.4,543.3 1503.1,538 1519.6,531.2 1536,523 1552.2,513.2 1568.2,501.9 1584.1,489.2 1599.9,475 1615.6,459.3 1631.3,442.2 1646.8,423.6 1662.3,403.5 1677.7,382 1693.1,359 1708.5,334.5 1723.8,308.4 1739.2,280.9 1754.6,251.8"/><path d="M1849,748.3 1834.3,728.1 1819.8,708.2 1805.4,688.6 1791.1,669.2 1776.8,650.1 1762.7,631.2 1748.7,612.5 1734.7,594.1 1720.9,575.9 1707.2,557.9 1693.5,540.2 1680,522.7 1666.5,505.5 1653.2,488.4 1639.9,471.6 1626.7,455.1 1613.7,438.7 1600.7,422.6 1587.8,406.7 1575,391 1562.3,375.5 1549.7,360.3 1537.2,345.3 1524.8,330.4 1512.5,315.8"/><path d="M1341,523 1359.8,530.8 1378.2,536.9 1396.4,541.3 1414.3,544 1431.8,545 1449.2,544.5 1466.3,542.4 1483.2,538.7 1499.9,533.5 1516.4,526.8 1532.7,518.6 1548.9,508.8 1564.9,497.6 1580.9,485 1596.7,470.8 1612.4,455.2 1628,438.1 1643.5,419.6 1659,399.6 1674.4,378.1 1689.8,355.1 1705.2,330.7 1720.5,304.7 1735.9,277.2 1751.2,248.2"/><path d="M1853,743 1838.3,722.9 1823.8,703.1 1809.4,683.5 1795,664.2 1780.8,645.1 1766.7,626.2 1752.6,607.6 1738.7,589.3 1724.8,571.1 1711.1,553.2 1697.4,535.6 1683.9,518.1 1670.4,500.9 1657.1,484 1643.8,467.2 1630.6,450.7 1617.6,434.4 1604.6,418.4 1591.7,402.5 1578.9,386.9 1566.2,371.5 1553.6,356.3 1541.1,341.3 1528.6,326.5 1516.3,312"/><path d="M1337.7,517.9 1356.5,525.8 1375,532 1393.1,536.4 1411,539.2 1428.6,540.3 1445.9,539.8 1463.1,537.8 1479.9,534.2 1496.6,529 1513.1,522.3 1529.5,514.2 1545.7,504.5 1561.7,493.4 1577.6,480.7 1593.4,466.7 1609.1,451.1 1624.7,434.1 1640.2,415.6 1655.7,395.7 1671.1,374.2 1686.5,351.3 1701.9,326.9 1717.2,301 1732.5,273.6 1747.9,244.6"/><path d="M1857,737.6 1842.3,717.6 1827.8,697.8 1813.3,678.3 1799,659 1784.8,640 1770.6,621.2 1756.6,602.7 1742.6,584.4 1728.8,566.3 1715,548.5 1701.4,530.9 1687.8,513.5 1674.4,496.3 1661,479.4 1647.7,462.7 1634.5,446.3 1621.5,430.1 1608.5,414 1595.6,398.2 1582.8,382.7 1570.1,367.3 1557.4,352.2 1544.9,337.3 1532.5,322.6 1520.2,308.1"/><path d="M1334.4,512.9 1353.2,520.9 1371.7,527.1 1389.9,531.6 1407.7,534.4 1425.3,535.6 1442.7,535.2 1459.8,533.2 1476.7,529.6 1493.4,524.5 1509.9,517.9 1526.2,509.8 1542.4,500.2 1558.5,489.1 1574.4,476.5 1590.2,462.5 1605.8,447 1621.5,430.1 1637,411.6 1652.4,391.7 1667.8,370.4 1683.2,347.5 1698.6,323.2 1713.9,297.3 1729.2,269.9 1744.5,241"/><path d="M1861,732.1 1846.3,712.2 1831.8,692.5 1817.3,673 1803,653.8 1788.7,634.9 1774.6,616.1 1760.5,597.6 1746.6,579.4 1732.7,561.4 1719,543.6 1705.3,526 1691.7,508.7 1678.3,491.6 1664.9,474.8 1651.6,458.2 1638.4,441.8 1625.3,425.6 1612.3,409.6 1599.4,393.9 1586.6,378.4 1573.9,363.1 1561.3,348 1548.8,333.1 1536.3,318.5 1524,304"/><path d="M1331.1,507.9 1349.9,515.9 1368.4,522.2 1386.6,526.8 1404.5,529.6 1422.1,530.9 1439.5,530.5 1456.6,528.6 1473.5,525.1 1490.2,520.1 1506.7,513.5 1523,505.4 1539.2,495.9 1555.2,484.9 1571.1,472.3 1586.9,458.4 1602.6,442.9 1618.2,426 1633.7,407.7 1649.2,387.8 1664.6,366.5 1679.9,343.7 1695.3,319.4 1710.6,293.6 1725.9,266.3 1741.2,237.5"/><path d="M1865,726.6 1850.3,706.7 1835.8,687.1 1821.3,667.7 1807,648.5 1792.7,629.6 1778.5,610.9 1764.5,592.5 1750.5,574.3 1736.7,556.3 1722.9,538.6 1709.2,521.1 1695.6,503.9 1682.2,486.9 1668.8,470.1 1655.5,453.5 1642.3,437.1 1629.2,421 1616.2,405.1 1603.3,389.4 1590.5,374 1577.8,358.7 1565.2,343.7 1552.6,328.9 1540.2,314.3 1527.8,299.9"/><path d="M1327.8,502.9 1346.7,511 1365.2,517.3 1383.4,522 1401.2,524.9 1418.9,526.2 1436.2,525.9 1453.3,524 1470.2,520.6 1486.9,515.6 1503.4,509.1 1519.8,501.1 1536,491.6 1552,480.6 1567.9,468.2 1583.7,454.3 1599.4,438.9 1614.9,422 1630.5,403.7 1645.9,383.9 1661.3,362.7 1676.6,339.9 1692,315.7 1707.3,290 1722.6,262.7 1737.9,233.9"/><path d="M1869,720.9 1854.3,701.1 1839.7,681.5 1825.3,662.2 1810.9,643.1 1796.7,624.2 1782.5,605.6 1768.4,587.3 1754.5,569.1 1740.6,551.2 1726.8,533.6 1713.1,516.1 1699.6,498.9 1686.1,482 1672.7,465.2 1659.4,448.7 1646.2,432.4 1633.1,416.4 1620.1,400.5 1607.2,384.9 1594.4,369.5 1581.6,354.3 1569,339.3 1556.5,324.6 1544,310 1531.7,295.7"/><path d="M1324.6,498 1343.4,506.1 1361.9,512.5 1380.1,517.2 1398,520.2 1415.6,521.5 1433,521.3 1450.1,519.5 1467,516.1 1483.7,511.2 1500.2,504.7 1516.6,496.8 1532.7,487.3 1548.8,476.4 1564.7,464 1580.4,450.1 1596.1,434.8 1611.7,418 1627.2,399.8 1642.6,380 1658,358.8 1673.4,336.2 1688.7,312 1704,286.3 1719.3,259.1 1734.5,230.4"/><path d="M1873,715.2 1858.3,695.4 1843.7,675.9 1829.3,656.6 1814.9,637.6 1800.6,618.8 1786.4,600.3 1772.4,581.9 1758.4,563.9 1744.5,546 1730.7,528.4 1717.1,511.1 1703.5,493.9 1690,477 1676.6,460.3 1663.3,443.9 1650.1,427.6 1637,411.6 1624,395.8 1611,380.3 1598.2,364.9 1585.5,349.8 1572.8,334.9 1560.3,320.2 1547.8,305.7 1535.5,291.4"/><path d="M1321.3,493 1340.2,501.2 1358.7,507.7 1376.9,512.4 1394.8,515.5 1412.4,516.9 1429.8,516.7 1446.9,514.9 1463.8,511.6 1480.5,506.7 1497,500.3 1513.3,492.5 1529.5,483.1 1545.5,472.2 1561.4,459.9 1577.2,446.1 1592.9,430.8 1608.5,414 1624,395.8 1639.4,376.2 1654.8,355 1670.1,332.4 1685.4,308.3 1700.7,282.7 1716,255.5 1731.2,226.8"/><path d="M1877,709.4 1862.3,689.7 1847.7,670.2 1833.2,651 1818.9,632 1804.6,613.3 1790.4,594.8 1776.3,576.5 1762.3,558.5 1748.5,540.7 1734.7,523.2 1721,505.9 1707.4,488.8 1693.9,471.9 1680.5,455.3 1667.2,438.9 1654,422.7 1640.8,406.8 1627.8,391.1 1614.9,375.5 1602.1,360.2 1589.3,345.2 1576.7,330.3 1564.1,315.7 1551.7,301.2 1539.3,287"/><path d="M1318.1,488.1 1336.9,496.4 1355.4,502.9 1373.6,507.7 1391.5,510.8 1409.2,512.3 1426.5,512.1 1443.7,510.4 1460.6,507.1 1477.3,502.3 1493.8,496 1510.1,488.2 1526.3,478.8 1542.3,468 1558.2,455.7 1574,442 1589.7,426.8 1605.2,410.1 1620.7,391.9 1636.1,372.3 1651.5,351.2 1666.8,328.7 1682.1,304.6 1697.4,279 1712.7,251.9 1727.9,223.3"/><path d="M1881,703.4 1866.3,683.8 1851.7,664.4 1837.2,645.2 1822.8,626.3 1808.5,607.7 1794.4,589.2 1780.3,571 1766.3,553.1 1752.4,535.4 1738.6,517.9 1724.9,500.6 1711.3,483.6 1697.8,466.8 1684.4,450.2 1671.1,433.9 1657.8,417.8 1644.7,401.9 1631.7,386.2 1618.8,370.7 1605.9,355.5 1593.2,340.5 1580.5,325.7 1568,311.1 1555.5,296.7 1543.1,282.5"/><path d="M1314.8,483.2 1333.7,491.5 1352.2,498.1 1370.4,502.9 1388.3,506.1 1406,507.6 1423.3,507.6 1440.5,505.9 1457.4,502.7 1474.1,497.9 1490.6,491.6 1506.9,483.9 1523.1,474.6 1539.1,463.8 1555,451.6 1570.8,437.9 1586.4,422.7 1602,406.1 1617.5,388 1632.9,368.5 1648.3,347.4 1663.6,324.9 1678.9,300.9 1694.1,275.4 1709.4,248.4 1724.6,219.8"/><path d="M1885,697.4 1870.3,677.8 1855.7,658.5 1841.2,639.4 1826.8,620.5 1812.5,601.9 1798.3,583.6 1784.2,565.4 1770.2,547.5 1756.3,529.9 1742.5,512.4 1728.8,495.2 1715.2,478.3 1701.7,461.5 1688.3,445 1674.9,428.7 1661.7,412.7 1648.6,396.8 1635.5,381.2 1622.6,365.8 1609.8,350.6 1597,335.7 1584.3,320.9 1571.8,306.4 1559.3,292 1546.9,277.9"/><path d="M1311.6,478.3 1330.5,486.7 1349,493.3 1367.2,498.2 1385.1,501.4 1402.8,503 1420.1,503 1437.3,501.4 1454.2,498.2 1470.9,493.5 1487.4,487.3 1503.7,479.6 1519.9,470.4 1535.9,459.7 1551.8,447.5 1567.6,433.9 1583.2,418.7 1598.8,402.2 1614.3,384.1 1629.7,364.6 1645,343.7 1660.3,321.2 1675.6,297.3 1690.8,271.8 1706.1,244.9 1721.3,216.4"/><path d="M1889,691.3 1874.3,671.8 1859.7,652.5 1845.2,633.5 1830.8,614.7 1816.5,596.1 1802.3,577.8 1788.1,559.7 1774.1,541.9 1760.2,524.3 1746.4,506.9 1732.7,489.8 1719.1,472.9 1705.6,456.2 1692.1,439.7 1678.8,423.5 1665.6,407.5 1652.4,391.7 1639.4,376.2 1626.4,360.8 1613.6,345.7 1600.8,330.8 1588.2,316.1 1575.6,301.6 1563.1,287.3 1550.7,273.3"/><path d="M1308.4,473.4 1327.2,481.8 1345.8,488.5 1364,493.5 1381.9,496.8 1399.5,498.4 1416.9,498.5 1434.1,496.9 1451,493.8 1467.7,489.2 1484.2,483 1500.5,475.3 1516.7,466.2 1532.7,455.5 1548.6,443.4 1564.4,429.8 1580,414.8 1595.6,398.2 1611,380.3 1626.4,360.8 1641.8,339.9 1657.1,317.5 1672.3,293.6 1687.6,268.2 1702.8,241.3 1718,212.9"/><path d="M1893,685.1 1878.3,665.6 1863.6,646.4 1849.1,627.4 1834.7,608.7 1820.4,590.2 1806.2,572 1792.1,554 1778.1,536.2 1764.2,518.6 1750.3,501.3 1736.6,484.2 1723,467.4 1709.5,450.8 1696,434.4 1682.7,418.2 1669.4,402.3 1656.3,386.5 1643.2,371 1630.3,355.7 1617.4,340.7 1604.7,325.8 1592,311.2 1579.4,296.7 1566.9,282.5 1554.5,268.5"/><path d="M1305.1,468.5 1324,477 1342.6,483.8 1360.8,488.8 1378.7,492.1 1396.4,493.9 1413.7,494 1430.9,492.5 1447.8,489.4 1464.5,484.8 1481,478.7 1497.3,471.1 1513.5,462 1529.5,451.4 1545.4,439.3 1561.2,425.8 1576.8,410.8 1592.4,394.3 1607.8,376.4 1623.2,357 1638.6,336.2 1653.8,313.8 1669.1,290 1684.3,264.7 1699.5,237.8 1714.7,209.4"/><path d="M1897,678.8 1882.3,659.4 1867.6,640.2 1853.1,621.3 1838.7,602.7 1824.4,584.2 1810.1,566 1796,548.1 1782,530.4 1768.1,512.9 1754.2,495.6 1740.5,478.6 1726.9,461.8 1713.3,445.2 1699.9,428.9 1686.6,412.8 1673.3,396.9 1660.1,381.2 1647.1,365.8 1634.1,350.5 1621.3,335.5 1608.5,320.7 1595.8,306.1 1583.2,291.8 1570.7,277.6 1558.3,263.6"/><path d="M1301.9,463.7 1320.8,472.2 1339.3,479 1357.6,484.1 1375.5,487.5 1393.2,489.3 1410.5,489.4 1427.7,488 1444.6,485 1461.3,480.5 1477.8,474.4 1494.2,466.9 1510.3,457.8 1526.3,447.3 1542.2,435.3 1558,421.8 1573.6,406.8 1589.2,390.4 1604.6,372.6 1620,353.2 1635.3,332.4 1650.6,310.1 1665.9,286.4 1681.1,261.1 1696.3,234.3 1711.5,206"/><path d="M1901,672.4 1886.3,653.1 1871.6,634 1857.1,615.1 1842.7,596.5 1828.3,578.1 1814.1,560 1800,542.1 1785.9,524.4 1772,507 1758.2,489.8 1744.4,472.9 1730.8,456.1 1717.2,439.6 1703.8,423.3 1690.4,407.3 1677.2,391.5 1664,375.8 1650.9,360.4 1638,345.3 1625.1,330.3 1612.3,315.6 1599.6,301 1587,286.7 1574.5,272.6 1562.1,258.7"/><path d="M1298.7,458.9 1317.6,467.5 1336.1,474.3 1354.4,479.5 1372.3,482.9 1390,484.7 1407.4,485 1424.5,483.6 1441.4,480.6 1458.1,476.2 1474.6,470.2 1491,462.6 1507.1,453.6 1523.2,443.2 1539,431.2 1554.8,417.8 1570.4,402.9 1586,386.5 1601.4,368.7 1616.8,349.5 1632.1,328.7 1647.4,306.5 1662.6,282.8 1677.8,257.5 1693,230.8 1708.2,202.6"/><path d="M1905,665.9 1890.2,646.6 1875.6,627.6 1861.1,608.8 1846.6,590.3 1832.3,572 1818,553.9 1803.9,536 1789.9,518.4 1775.9,501.1 1762.1,483.9 1748.3,467 1734.7,450.4 1721.1,433.9 1707.6,417.7 1694.3,401.7 1681,385.9 1667.8,370.4 1654.8,355 1641.8,339.9 1628.9,325 1616.1,310.3 1603.4,295.8 1590.8,281.6 1578.3,267.5 1565.9,253.7"/><path d="M1295.5,454 1314.4,462.7 1333,469.6 1351.2,474.8 1369.1,478.3 1386.8,480.2 1404.2,480.5 1421.3,479.2 1438.3,476.3 1455,471.8 1471.5,465.9 1487.8,458.4 1504,449.5 1520,439.1 1535.8,427.2 1551.6,413.8 1567.2,399 1582.8,382.7 1598.2,364.9 1613.6,345.7 1628.9,325 1644.2,302.8 1659.4,279.2 1674.6,254 1689.8,227.3 1704.9,199.1"/><path d="M1909,659.4 1894.2,640.1 1879.6,621.2 1865,602.4 1850.6,583.9 1836.2,565.7 1822,547.7 1807.8,529.9 1793.8,512.3 1779.8,495 1766,478 1752.2,461.1 1738.6,444.5 1725,428.1 1711.5,411.9 1698.1,396 1684.9,380.3 1671.7,364.8 1658.6,349.5 1645.6,334.4 1632.7,319.6 1619.9,305 1607.2,290.5 1594.6,276.3 1582.1,262.3 1569.7,248.5"/><path d="M1292.3,449.2 1311.2,458 1329.8,464.9 1348,470.2 1366,473.8 1383.6,475.7 1401,476 1418.2,474.7 1435.1,471.9 1451.8,467.6 1468.3,461.7 1484.6,454.3 1500.8,445.4 1516.8,435 1532.7,423.2 1548.4,409.8 1564.1,395.1 1579.6,378.8 1595,361.1 1610.4,341.9 1625.7,321.3 1640.9,299.2 1656.2,275.6 1671.3,250.5 1686.5,223.9 1701.7,195.7"/><path d="M1913,652.7 1898.2,633.5 1883.6,614.6 1869,595.9 1854.6,577.5 1840.2,559.3 1825.9,541.4 1811.8,523.6 1797.7,506.2 1783.7,488.9 1769.9,471.9 1756.1,455.1 1742.4,438.5 1728.9,422.2 1715.4,406.1 1702,390.2 1688.7,374.6 1675.5,359.1 1662.4,343.9 1649.4,328.9 1636.5,314.1 1623.7,299.5 1611,285.2 1598.4,271 1585.9,257.1 1573.4,243.3"/><path d="M1289.1,444.4 1308,453.2 1326.6,460.3 1344.8,465.6 1362.8,469.2 1380.5,471.2 1397.9,471.6 1415,470.4 1431.9,467.6 1448.6,463.3 1465.2,457.4 1481.5,450.1 1497.6,441.3 1513.6,430.9 1529.5,419.1 1545.3,405.9 1560.9,391.2 1576.4,375 1591.8,357.3 1607.2,338.2 1622.5,317.6 1637.7,295.6 1652.9,272 1668.1,247 1683.3,220.4 1698.4,192.3"/><path d="M1917,645.9 1902.3,626.8 1887.6,608 1873,589.3 1858.5,571 1844.2,552.8 1829.9,535 1815.7,517.3 1801.6,499.9 1787.7,482.7 1773.8,465.7 1760,449 1746.3,432.5 1732.7,416.2 1719.3,400.2 1705.9,384.3 1692.6,368.7 1679.4,353.4 1666.3,338.2 1653.3,323.2 1640.4,308.5 1627.5,294 1614.8,279.7 1602.2,265.6 1589.6,251.7 1577.2,238"/><path d="M1285.9,439.7 1304.8,448.5 1323.4,455.6 1341.7,461 1359.6,464.7 1377.3,466.7 1394.7,467.1 1411.9,466 1428.8,463.3 1445.5,459 1462,453.2 1478.3,445.9 1494.5,437.1 1510.5,426.9 1526.4,415.1 1542.1,401.9 1557.7,387.3 1573.2,371.1 1588.7,353.5 1604,334.5 1619.3,314 1634.5,292 1649.7,268.5 1664.9,243.5 1680,217 1695.2,189"/><path d="M1921,639.1 1906.3,620 1891.6,601.2 1877,582.7 1862.5,564.4 1848.1,546.3 1833.8,528.5 1819.7,510.9 1805.6,493.5 1791.6,476.4 1777.7,459.5 1763.9,442.8 1750.2,426.4 1736.6,410.1 1723.1,394.1 1709.7,378.4 1696.4,362.8 1683.2,347.5 1670.1,332.4 1657.1,317.5 1644.2,302.8 1631.3,288.4 1618.6,274.1 1606,260.1 1593.4,246.2 1581,232.6"/><path d="M1282.7,434.9 1301.6,443.8 1320.2,451 1338.5,456.4 1356.5,460.1 1374.1,462.2 1391.5,462.7 1408.7,461.6 1425.6,459 1442.3,454.7 1458.9,449 1475.2,441.8 1491.3,433.1 1507.3,422.8 1523.2,411.2 1538.9,398 1554.5,383.4 1570.1,367.3 1585.5,349.8 1600.8,330.8 1616.1,310.3 1631.3,288.4 1646.5,264.9 1661.7,240 1676.8,213.6 1691.9,185.6"/><path d="M1925.1,632.1 1910.3,613.1 1895.6,594.4 1881,575.9 1866.5,557.6 1852.1,539.6 1837.8,521.9 1823.6,504.3 1809.5,487 1795.5,469.9 1781.6,453.1 1767.8,436.5 1754.1,420.1 1740.5,404 1727,388 1713.6,372.3 1700.3,356.8 1687.1,341.6 1673.9,326.5 1660.9,311.7 1648,297.1 1635.1,282.6 1622.4,268.4 1609.7,254.5 1597.2,240.7 1584.7,227.1"/><path d="M1279.5,430.2 1298.5,439.1 1317.1,446.3 1335.3,451.8 1353.3,455.6 1371,457.8 1388.4,458.3 1405.6,457.3 1422.5,454.7 1439.2,450.5 1455.7,444.8 1472,437.7 1488.2,429 1504.2,418.8 1520.1,407.2 1535.8,394.1 1551.4,379.5 1566.9,363.5 1582.3,346 1597.7,327.1 1612.9,306.7 1628.1,284.8 1643.3,261.4 1658.5,236.5 1673.6,210.2 1688.7,182.2"/><path d="M1929.1,625 1914.3,606.1 1899.6,587.5 1885,569 1870.5,550.8 1856,532.9 1841.7,515.2 1827.5,497.7 1813.4,480.5 1799.4,463.4 1785.5,446.7 1771.7,430.1 1758,413.8 1744.4,397.7 1730.9,381.8 1717.4,366.2 1704.1,350.7 1690.9,335.5 1677.8,320.5 1664.7,305.7 1651.8,291.2 1638.9,276.8 1626.2,262.7 1613.5,248.8 1601,235 1588.5,221.5"/><path d="M1276.3,425.4 1295.3,434.5 1313.9,441.7 1332.2,447.3 1350.2,451.1 1367.8,453.3 1385.3,453.9 1402.4,452.9 1419.4,450.4 1436.1,446.3 1452.6,440.7 1468.9,433.5 1485.1,424.9 1501.1,414.8 1516.9,403.2 1532.6,390.2 1548.2,375.7 1563.7,359.7 1579.2,342.3 1594.5,323.4 1609.7,303 1625,281.2 1640.1,257.9 1655.2,233.1 1670.4,206.8 1685.5,178.9"/><path d="M1933.1,617.9 1918.3,599 1903.6,580.4 1888.9,562.1 1874.4,543.9 1860,526 1845.7,508.4 1831.5,491 1817.4,473.8 1803.3,456.8 1789.4,440.1 1775.6,423.6 1761.9,407.4 1748.3,391.3 1734.7,375.5 1721.3,359.9 1708,344.5 1694.7,329.4 1681.6,314.4 1668.5,299.7 1655.6,285.2 1642.7,270.9 1630,256.8 1617.3,243 1604.7,229.3 1592.2,215.8"/><path d="M1273.2,420.7 1292.1,429.8 1310.8,437.1 1329,442.7 1347,446.6 1364.7,448.9 1382.1,449.6 1399.3,448.6 1416.2,446.1 1432.9,442.1 1449.4,436.5 1465.8,429.4 1481.9,420.9 1497.9,410.8 1513.8,399.3 1529.5,386.3 1545.1,371.9 1560.6,355.9 1576,338.6 1591.3,319.7 1606.6,299.4 1621.8,277.7 1636.9,254.4 1652,229.6 1667.1,203.4 1682.2,175.6"/><path d="M1937.1,610.7 1922.3,591.9 1907.6,573.3 1892.9,555 1878.4,536.9 1864,519.1 1849.7,501.5 1835.4,484.2 1821.3,467 1807.3,450.1 1793.3,433.5 1779.5,417 1765.8,400.8 1752.1,384.9 1738.6,369.1 1725.1,353.6 1711.8,338.3 1698.6,323.2 1685.4,308.3 1672.3,293.6 1659.4,279.2 1646.5,264.9 1633.7,250.9 1621.1,237.1 1608.5,223.5 1596,210.1"/><path d="M1270,416 1289,425.2 1307.6,432.5 1325.9,438.2 1343.9,442.2 1361.6,444.5 1379,445.2 1396.2,444.3 1413.1,441.9 1429.8,437.9 1446.3,432.4 1462.6,425.3 1478.8,416.8 1494.8,406.8 1510.6,395.4 1526.4,382.4 1542,368 1557.4,352.2 1572.8,334.9 1588.2,316.1 1603.4,295.8 1618.6,274.1 1633.7,250.9 1648.9,226.2 1663.9,200 1679,172.3"/><path d="M1941.2,603.3 1926.3,584.6 1911.6,566.1 1896.9,547.8 1882.4,529.8 1867.9,512.1 1853.6,494.5 1839.4,477.2 1825.2,460.2 1811.2,443.3 1797.2,426.7 1783.4,410.4 1769.7,394.2 1756,378.3 1742.5,362.6 1729,347.1 1715.6,331.9 1702.4,316.8 1689.2,302 1676.2,287.4 1663.2,273 1650.3,258.8 1637.5,244.9 1624.8,231.1 1612.2,217.6 1599.7,204.2"/><path d="M1266.9,411.4 1285.8,420.5 1304.5,428 1322.8,433.7 1340.8,437.7 1358.4,440.1 1375.9,440.8 1393,440 1410,437.6 1426.7,433.7 1443.2,428.2 1459.5,421.3 1475.7,412.8 1491.7,402.9 1507.5,391.5 1523.2,378.6 1538.8,364.2 1554.3,348.4 1569.7,331.2 1585,312.4 1600.3,292.2 1615.4,270.6 1630.6,247.4 1645.7,222.8 1660.7,196.6 1675.8,169"/><path d="M1945.2,595.9 1930.3,577.2 1915.6,558.8 1900.9,540.6 1886.4,522.6 1871.9,504.9 1857.6,487.5 1843.3,470.2 1829.2,453.2 1815.1,436.5 1801.2,419.9 1787.3,403.6 1773.5,387.5 1759.9,371.7 1746.3,356 1732.9,340.6 1719.5,325.4 1706.2,310.4 1693,295.7 1680,281.1 1667,266.8 1654.1,252.7 1641.3,238.7 1628.6,225 1616,211.5 1603.5,198.2"/><path d="M1263.7,406.7 1282.7,415.9 1301.3,423.4 1319.6,429.2 1337.6,433.3 1355.3,435.7 1372.8,436.5 1389.9,435.7 1406.9,433.4 1423.6,429.5 1440.1,424.1 1456.4,417.2 1472.6,408.8 1488.6,398.9 1504.4,387.6 1520.1,374.7 1535.7,360.4 1551.2,344.7 1566.6,327.5 1581.9,308.8 1597.1,288.7 1612.3,267.1 1627.4,244 1642.5,219.4 1657.5,193.3 1672.6,165.7"/><path d="M1949.2,588.3 1934.4,569.7 1919.6,551.4 1904.9,533.2 1890.4,515.4 1875.9,497.7 1861.5,480.3 1847.3,463.1 1833.1,446.2 1819,429.5 1805.1,413 1791.2,396.7 1777.4,380.7 1763.8,364.9 1750.2,349.3 1736.7,334 1723.3,318.8 1710,303.9 1696.9,289.2 1683.8,274.7 1670.8,260.4 1657.9,246.4 1645.1,232.5 1632.4,218.9 1619.8,205.4 1607.2,192.2"/><path d="M1260.6,402 1279.6,411.3 1298.2,418.9 1316.5,424.7 1334.5,428.8 1352.2,431.3 1369.6,432.2 1386.8,431.5 1403.8,429.2 1420.5,425.4 1437,420 1453.3,413.2 1469.5,404.8 1485.4,395 1501.3,383.7 1517,370.9 1532.6,356.7 1548,341 1563.4,323.8 1578.7,305.2 1593.9,285.1 1609.1,263.6 1624.2,240.5 1639.3,216 1654.4,190 1669.4,162.4"/><path d="M1953.3,580.7 1938.4,562.2 1923.6,543.9 1908.9,525.8 1894.3,508 1879.9,490.4 1865.5,473 1851.2,455.9 1837,439 1823,422.4 1809,406 1795.1,389.8 1781.3,373.8 1767.6,358.1 1754,342.5 1740.6,327.2 1727.2,312.2 1713.9,297.3 1700.7,282.7 1687.6,268.2 1674.6,254 1661.7,240 1648.9,226.2 1636.1,212.6 1623.5,199.2 1611,186.1"/><path d="M1257.4,397.4 1276.4,406.8 1295.1,414.4 1313.4,420.2 1331.4,424.4 1349.1,427 1366.5,427.9 1383.7,427.2 1400.7,425 1417.4,421.2 1433.9,415.9 1450.2,409.1 1466.4,400.8 1482.3,391.1 1498.2,379.8 1513.9,367.1 1529.5,352.9 1544.9,337.3 1560.3,320.2 1575.6,301.6 1590.8,281.6 1606,260.1 1621.1,237.1 1636.1,212.6 1651.2,186.6 1666.2,159.1"/><path d="M1957.3,573 1942.4,554.5 1927.6,536.3 1912.9,518.3 1898.3,500.5 1883.8,483 1869.5,465.7 1855.2,448.6 1841,431.8 1826.9,415.2 1812.9,398.9 1799,382.7 1785.2,366.8 1771.5,351.1 1757.9,335.7 1744.4,320.4 1731,305.4 1717.7,290.6 1704.5,276 1691.4,261.6 1678.4,247.5 1665.5,233.5 1652.6,219.8 1639.9,206.3 1627.3,192.9 1614.7,179.8"/><path d="M1254.3,392.8 1273.3,402.2 1292,409.9 1310.3,415.8 1328.3,420 1346,422.6 1363.4,423.6 1380.6,423 1397.6,420.8 1414.3,417.1 1430.8,411.9 1447.1,405.1 1463.3,396.9 1479.2,387.1 1495.1,375.9 1510.8,363.3 1526.3,349.2 1541.8,333.6 1557.2,316.5 1572.5,298 1587.7,278 1602.8,256.6 1617.9,233.7 1633,209.2 1648,183.3 1663,155.9"/><path d="M1961.4,565.2 1946.5,546.7 1931.7,528.6 1916.9,510.6 1902.3,492.9 1887.8,475.5 1873.4,458.2 1859.1,441.2 1844.9,424.5 1830.8,407.9 1816.8,391.6 1802.9,375.6 1789.1,359.7 1775.4,344.1 1761.8,328.7 1748.3,313.5 1734.9,298.6 1721.5,283.8 1708.3,269.3 1695.2,255 1682.2,240.9 1669.2,227 1656.4,213.3 1643.7,199.8 1631,186.5 1618.5,173.5"/><path d="M1251.2,388.2 1270.2,397.7 1288.9,405.4 1307.2,411.4 1325.2,415.7 1342.9,418.3 1360.3,419.3 1377.5,418.8 1394.5,416.7 1411.2,413 1427.7,407.8 1444,401.1 1460.2,392.9 1476.1,383.2 1492,372.1 1507.7,359.5 1523.2,345.4 1538.7,329.9 1554.1,312.9 1569.3,294.4 1584.5,274.5 1599.7,253.1 1614.8,230.3 1629.8,205.9 1644.8,180 1659.8,152.7"/><path d="M1965.4,557.2 1950.5,538.9 1935.7,520.8 1921,502.9 1906.3,485.3 1891.8,467.8 1877.4,450.7 1863.1,433.7 1848.9,417 1834.7,400.6 1820.7,384.3 1806.8,368.3 1793,352.5 1779.3,337 1765.6,321.6 1752.1,306.5 1738.7,291.6 1725.4,276.9 1712.1,262.4 1699,248.2 1686,234.1 1673,220.3 1660.2,206.7 1647.4,193.3 1634.8,180.1 1622.2,167.1"/><path d="M1248.1,383.6 1267.1,393.1 1285.8,400.9 1304.1,406.9 1322.1,411.3 1339.8,414 1357.3,415.1 1374.4,414.6 1391.4,412.5 1408.1,408.9 1424.6,403.8 1440.9,397.1 1457.1,389 1473.1,379.4 1488.9,368.3 1504.6,355.7 1520.1,341.7 1535.6,326.2 1551,309.3 1566.2,290.9 1581.4,271 1596.5,249.7 1611.6,226.9 1626.7,202.6 1641.7,176.8 1656.6,149.4"/><path d="M1969.5,549.2 1954.5,530.9 1939.7,512.9 1925,495.1 1910.3,477.5 1895.8,460.1 1881.4,443 1867,426.2 1852.8,409.5 1838.7,393.1 1824.6,376.9 1810.7,361 1796.9,345.2 1783.1,329.7 1769.5,314.5 1756,299.4 1742.5,284.6 1729.2,269.9 1716,255.5 1702.8,241.3 1689.8,227.3 1676.8,213.6 1663.9,200 1651.2,186.6 1638.5,173.5 1625.9,160.5"/><path d="M1245,379 1264,388.6 1282.7,396.4 1301,402.5 1319,406.9 1336.7,409.7 1354.2,410.8 1371.4,410.4 1388.3,408.4 1405,404.8 1421.5,399.7 1437.9,393.1 1454,385.1 1470,375.5 1485.8,364.5 1501.5,351.9 1517,338 1532.5,322.6 1547.8,305.7 1563.1,287.3 1578.3,267.5 1593.4,246.2 1608.5,223.5 1623.5,199.2 1638.5,173.5 1653.5,146.2"/><path d="M1973.6,541.1 1958.6,522.9 1943.7,504.9 1929,487.1 1914.3,469.6 1899.8,452.3 1885.3,435.3 1871,418.5 1856.8,401.9 1842.6,385.5 1828.6,369.4 1814.6,353.5 1800.8,337.9 1787,322.4 1773.4,307.2 1759.8,292.2 1746.4,277.4 1733,262.8 1719.8,248.5 1706.6,234.4 1693.5,220.4 1680.6,206.7 1667.7,193.2 1654.9,179.9 1642.2,166.8 1629.7,153.9"/><path d="M1241.9,374.5 1260.9,384.1 1279.6,392 1297.9,398.1 1315.9,402.6 1333.6,405.4 1351.1,406.6 1368.3,406.2 1385.2,404.3 1402,400.7 1418.5,395.7 1434.8,389.2 1450.9,381.1 1466.9,371.6 1482.7,360.6 1498.4,348.2 1514,334.3 1529.4,318.9 1544.7,302.1 1560,283.8 1575.2,264 1590.3,242.8 1605.3,220.1 1620.4,195.9 1635.3,170.2 1650.3,143"/><path d="M1977.6,532.9 1962.7,514.7 1947.8,496.8 1933,479.1 1918.3,461.6 1903.8,444.4 1889.3,427.4 1875,410.7 1860.7,394.2 1846.5,377.9 1832.5,361.8 1818.5,346 1804.7,330.4 1790.9,315 1777.2,299.8 1763.7,284.9 1750.2,270.2 1736.9,255.7 1723.6,241.4 1710.4,227.3 1697.3,213.4 1684.4,199.8 1671.5,186.3 1658.7,173.1 1646,160 1633.4,147.2"/><path d="M1238.8,369.9 1257.8,379.6 1276.5,387.6 1294.8,393.8 1312.8,398.3 1330.6,401.1 1348,402.4 1365.2,402.1 1382.2,400.1 1398.9,396.7 1415.4,391.7 1431.7,385.2 1447.9,377.3 1463.8,367.8 1479.6,356.9 1495.3,344.5 1510.9,330.6 1526.3,315.3 1541.7,298.5 1556.9,280.3 1572.1,260.6 1587.2,239.4 1602.2,216.8 1617.2,192.6 1632.2,167 1647.2,139.8"/><path d="M1981.7,524.6 1966.7,506.5 1951.8,488.6 1937,471 1922.4,453.6 1907.8,436.4 1893.3,419.5 1878.9,402.8 1864.7,386.4 1850.5,370.1 1836.4,354.1 1822.4,338.4 1808.6,322.8 1794.8,307.5 1781.1,292.4 1767.5,277.5 1754.1,262.8 1740.7,248.4 1727.4,234.2 1714.2,220.1 1701.1,206.3 1688.1,192.7 1675.2,179.3 1662.4,166.2 1649.7,153.2 1637.1,140.4"/><path d="M1235.7,365.4 1254.7,375.2 1273.4,383.1 1291.7,389.4 1309.8,394 1327.5,396.9 1345,398.2 1362.2,397.9 1379.1,396.1 1395.8,392.7 1412.3,387.7 1428.7,381.3 1444.8,373.4 1460.8,364 1476.6,353.1 1492.3,340.7 1507.8,326.9 1523.2,311.7 1538.6,294.9 1553.8,276.8 1569,257.1 1584.1,236 1599.1,213.4 1614.1,189.3 1629.1,163.8 1644,136.7"/><path d="M1985.8,516.2 1970.8,498.1 1955.9,480.3 1941.1,462.7 1926.4,445.4 1911.8,428.3 1897.3,411.5 1882.9,394.8 1868.6,378.4 1854.4,362.3 1840.3,346.3 1826.4,330.6 1812.5,315.1 1798.7,299.9 1785,284.8 1771.4,270 1757.9,255.4 1744.5,241 1731.2,226.8 1718,212.9 1704.9,199.1 1691.9,185.6 1679,172.3 1666.2,159.1 1653.5,146.2 1640.9,133.5"/><path d="M1232.6,360.9 1251.6,370.7 1270.3,378.7 1288.7,385.1 1306.7,389.7 1324.4,392.7 1341.9,394 1359.1,393.8 1376.1,392 1392.8,388.6 1409.3,383.8 1425.6,377.4 1441.7,369.5 1457.7,360.1 1473.5,349.3 1489.2,337 1504.7,323.3 1520.2,308.1 1535.5,291.4 1550.7,273.3 1565.9,253.7 1581,232.6 1596,210.1 1611,186.1 1625.9,160.5 1640.9,133.5"/></g>
<path d="M1572,891.4 1583.4,893.7 1594.6,895.4 1605.8,896.4 1616.9,896.8 1627.9,896.5 1638.8,895.6 1649.6,894.1 1660.3,892 1671,889.3 1681.6,885.9 1692.1,882 1702.6,877.5 1713,872.4 1723.4,866.7 1733.7,860.4 1743.9,853.5 1754.2,846.1 1764.4,838.1 1774.5,829.5 1784.7,820.3 1794.8,810.6 1804.8,800.3 1814.9,789.5 1824.9,778 1834.9,766 1845,753.5 1855,740.3 1865,726.6 1875,712.3 1885,697.4 1895,682 1905,665.9 1915,649.3 1925.1,632.1 1935.1,614.3 1945.2,595.9 1955.3,576.9 1965.4,557.2 1975.6,537 1985.8,516.2 1985.8,516.2 1976.4,504.9 1967,493.6 1957.7,482.5 1948.5,471.5 1939.2,460.6 1930,449.7 1920.9,439 1911.8,428.3 1902.7,417.7 1893.7,407.3 1884.7,396.9 1875.7,386.6 1866.8,376.4 1858,366.3 1849.1,356.3 1840.3,346.3 1831.6,336.5 1822.9,326.7 1814.2,317.1 1805.6,307.5 1797,298 1788.4,288.6 1779.9,279.3 1771.4,270 1763,260.9 1754.6,251.8 1746.2,242.8 1737.9,233.9 1729.6,225.1 1721.3,216.4 1713.1,207.7 1704.9,199.1 1696.8,190.6 1688.7,182.2 1680.6,173.9 1672.6,165.7 1664.6,157.5 1656.6,149.4 1648.7,141.4 1640.9,133.5 1640.9,133.5 1631.5,150.6 1622.2,167.1 1612.8,182.9 1603.5,198.2 1594.1,213 1584.7,227.1 1575.3,240.7 1565.9,253.7 1556.4,266.1 1546.9,277.9 1537.4,289.2 1527.8,299.9 1518.2,310 1508.6,319.6 1498.9,328.6 1489.2,337 1479.4,344.9 1469.6,352.2 1459.7,358.9 1449.7,365 1439.7,370.6 1429.7,375.5 1419.5,379.9 1409.3,383.8 1399,387 1388.6,389.6 1378.2,391.6 1367.6,393.1 1357,393.9 1346.2,394.1 1335.4,393.7 1324.4,392.7 1313.4,391 1302.2,388.7 1290.9,385.7 1279.5,382.1 1268,377.8 1256.3,372.9 1244.5,367.2 1232.6,360.9 1232.6,360.9 1240.3,372.2 1248.1,383.6 1255.9,395.1 1263.7,406.7 1271.6,418.4 1279.5,430.2 1287.5,442 1295.5,454 1303.5,466.1 1311.6,478.3 1319.7,490.6 1327.8,502.9 1336,515.4 1344.3,528 1352.5,540.7 1360.8,553.4 1369.2,566.3 1377.6,579.3 1386,592.4 1394.4,605.6 1402.9,618.9 1411.5,632.3 1420.1,645.8 1428.7,659.4 1437.3,673.1 1446,686.9 1454.8,700.8 1463.6,714.8 1472.4,728.9 1481.2,743.2 1490.1,757.5 1499.1,771.9 1508,786.5 1517.1,801.2 1526.1,815.9 1535.2,830.8 1544.3,845.8 1553.5,860.9 1562.7,876.1 1572,891.4 Z" fill="none" stroke="#111" stroke-opacity=".8" stroke-width="1.2"/>
<path d="M1447.7 333V366" stroke="#555" stroke-width="1.2"/>
<ellipse cx="1447.7" cy="332.5" rx="7" ry="8.5" fill="#c80000" stroke="#5a0000" stroke-width="1.2"/>
<ellipse cx="1986.7" cy="499.9" rx="7.5" ry="8.5" fill="#c80000" stroke="#5a0000" stroke-width="1.2"/>
<ellipse cx="1394.6" cy="593.6" rx="7" ry="8.5" fill="#c80000" stroke="#5a0000" stroke-width="1.2"/>
<ellipse cx="1572.7" cy="887.1" rx="7" ry="8.5" fill="#c80000" stroke="#5a0000" stroke-width="1.2"/>
<text transform="translate(1132 695.23) rotate(-90) scale(1.228 1)" class="s" font-size="37.52" fill="#1c1c24" stroke="#1c1c24" stroke-width=".7">Weight Loss (%)</text>
<text transform="translate(1142.84 1079.8) scale(.772 1)" class="s" font-size="46.34" fill="#1c1c24" stroke="#1c1c24" stroke-width=".7">B: PVA Fiber (%)</text>
<text transform="translate(1802.5 1123) scale(.789 1)" class="s" font-size="45.79" fill="#1c1c24" stroke="#1c1c24" stroke-width=".7">A: TiO2 (%)</text>
<text transform="translate(1551.57 1199.4) scale(.975 1)" class="b" font-size="48.44" fill="#111">(b)</text>
</svg>
</body></html>
